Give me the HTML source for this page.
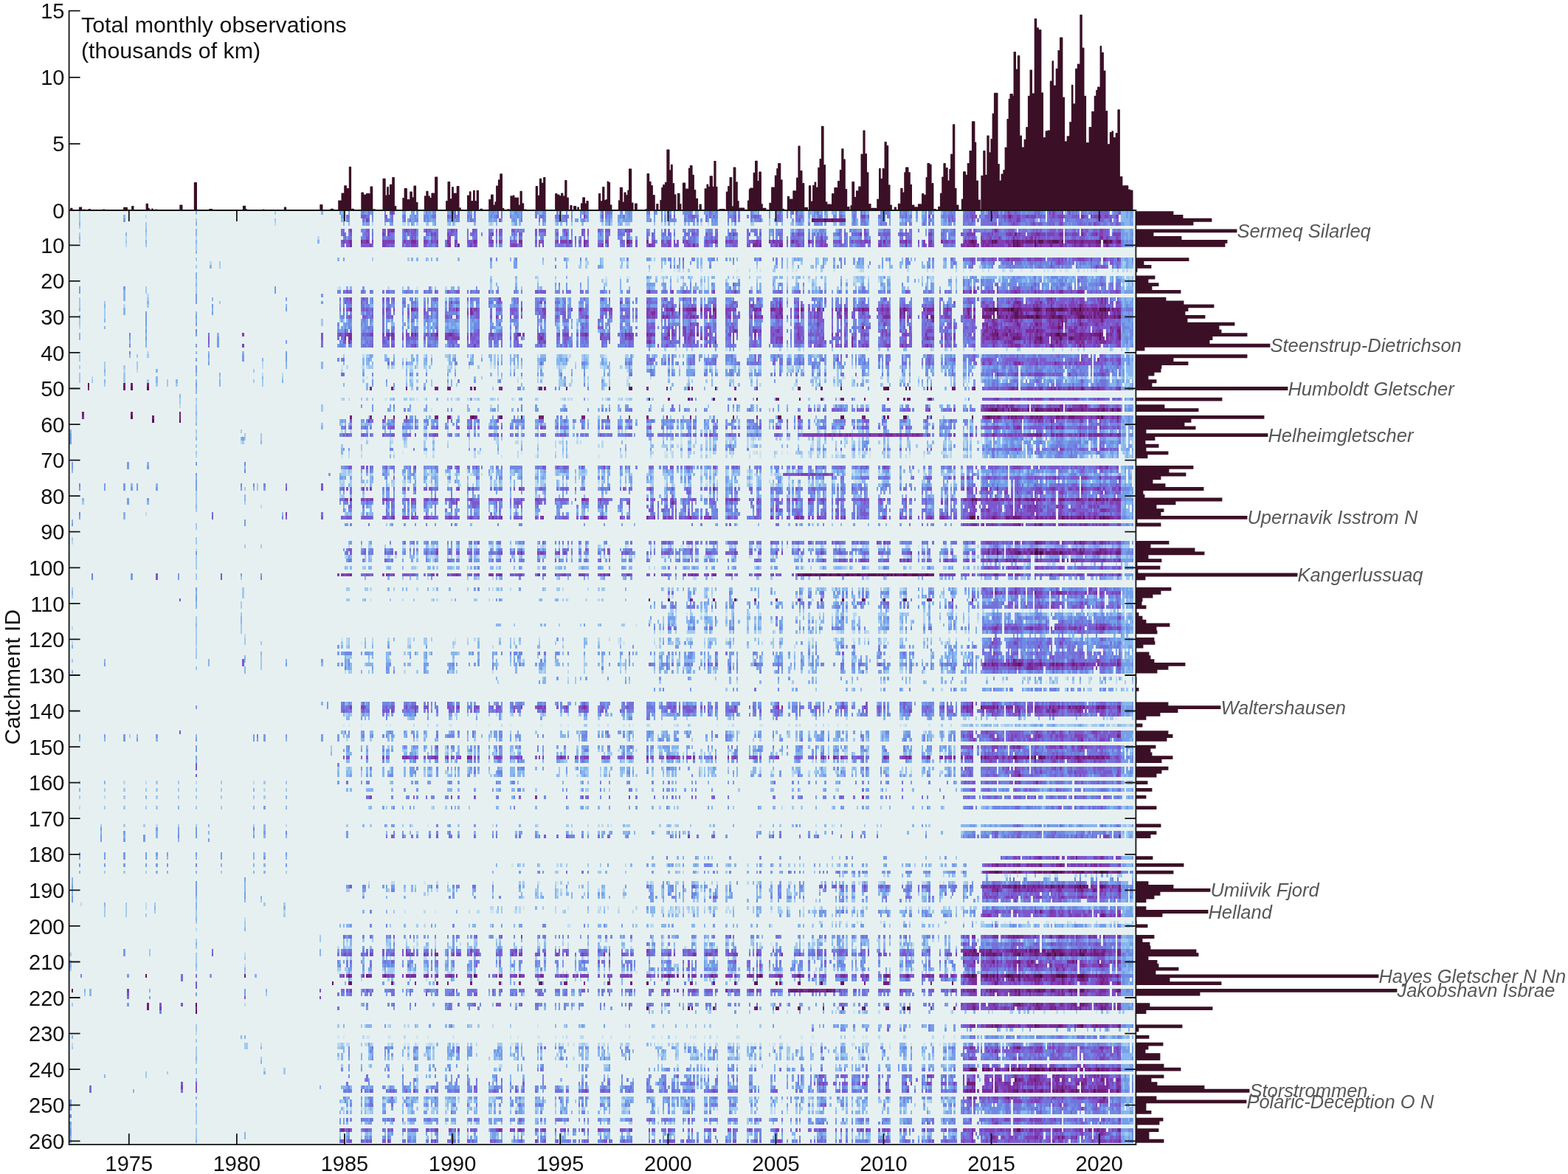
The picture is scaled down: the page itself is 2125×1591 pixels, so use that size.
<!DOCTYPE html>
<html><head><meta charset="utf-8"><title>Total monthly observations</title>
<style>html,body{margin:0;padding:0;background:#fff;}body{width:2125px;height:1591px;position:relative;overflow:hidden;}</style>
</head><body>
<svg width="2125" height="1591" viewBox="0 0 2125 1591" style="position:absolute;left:0;top:0"><rect x="93.6" y="285.0" width="1445.8" height="1266.2" fill="#e7f0f1"/><g transform="matrix(2.4350 0 0 4.856 94.445 281.272)" shape-rendering="crispEdges" fill="none" stroke-width="1"><path stroke="#d0e5ee" d="M329 17.5h1m6 0h1m1 0h1m12 0h1m19 0h1m10 0h1m1 0h1m14 0h1m2 0h1m1 0h1m10 0h1m9 0h1m13 0h1m12 0h1m3 0h1m23 0h1m16 0h1m3 0h1m6 0h1m11 0h1m8 0h1m5 0h1m6 0h1m1 0h1m2 0h2m2 0h1m2 0h2m8 0h1m1 0h1m1 0h1m1 0h1m19 0h1M298 19.5h1m7 0h1m3 0h2m26 0h1m33 0h1M270 20.5h1m140 0h1M353 21.5h1M149 22.5h1m43 0h1M399 39.5h1m29 0h1m13 0h1m97 0h1M277 41.5h1m20 0h1M151 44.5h1m10 0h1m25 0h1m45 0h1m13 0h1m14 0h1m101 0h3M163 47.5h1m1 0h1m48 0h1m23 0h1m10 0h1m12 0h2m15 0h1m17 0h1m12 0h1m54 0h1m1 0h3m34 0h1m26 0h1m3 0h1m2 0h1m23 0h1m38 0h1M279 49.5h1m148 0h1M175 53.5h2m16 0h1m3 0h1m16 0h1m7 0h1m24 0h1m25 0h1m4 0h1M201 56.5h1M365 62.5h1m133 0h1M162 64.5h1m2 0h1m13 0h1m17 0h1m51 0h1m1 0h1m8 0h1m21 0h1m26 0h1m30 0h1m3 0h1m162 0h1M260 65.5h1m73 0h1m5 0h1m38 0h1m127 0h1M162 68.5h1m15 0h1m1 0h1m4 0h1m11 0h2m3 0h1m25 0h1m22 0h1m79 0h2m1 0h1m16 0h1m2 0h1m1 0h1m8 0h1m12 0h1m1 0h2m2 0h1m11 0h1m2 0h1m13 0h1m12 0h2m17 0h1m10 0h1m32 0h1m7 0h2M151 69.5h1m46 0h1m41 0h1m18 0h1m17 0h1m16 0h1m36 0h1m24 0h1m27 0h1m26 0h1m5 0h1m10 0h1m10 0h1m5 0h1m21 0h1m7 0h1m13 0h1M298 73.5h1M209 74.5h1m11 0h1m88 0h1m66 0h1m112 0h2M200 76.5h1m130 0h1m22 0h1m24 0h1m56 0h1m1 0h1M162 77.5h1m22 0h1m16 0h1m91 0h1m36 0h1m38 0h1m1 0h1M178 94.5h1m7 0h1m6 0h1m6 0h1m32 0h1m11 0h1m3 0h2m1 0h1m26 0h1m8 0h1m11 0h1m9 0h1m19 0h2m3 0h1m4 0h2m1 0h1m10 0h1m14 0h1m29 0h1m3 0h2m6 0h1m1 0h1m1 0h1m14 0h1m5 0h1m12 0h2m21 0h1m2 0h1m10 0h1m14 0h1m1 0h1M176 97.5h1m8 0h1m102 0h1m45 0h1m44 0h1m24 0h1m21 0h1m7 0h1m143 0h1M532 99.5h1M193 100.5h1m294 0h1M456 106.5h1M485 108.5h1M167 109.5h1m67 0h1m41 0h1M489 112.5h1m40 0h1m25 0h1m1 0h1m8 0h1m12 0h1M343 113.5h1m7 0h1m1 0h1m11 0h1m58 0h1m7 0h1M484 115.5h1m20 0h1M315 116.5h1m37 0h1M328 118.5h1m1 0h1m37 0h1m55 0h1m1 0h1m8 0h1m15 0h1M151 120.5h1m62 0h1m90 0h1m19 0h1m39 0h1m45 0h1m23 0h2m70 0h1M162 121.5h1m111 0h1m30 0h1m2 0h1M326 122.5h1M456 125.5h1M554 131.5h1M519 132.5h1m23 0h1M582 142.5h1M152 144.5h1m2 0h1m6 0h1m13 0h1m1 0h1m32 0h2m13 0h1m6 0h1m11 0h1m16 0h1m10 0h1m3 0h1m16 0h1m13 0h1m4 0h1m15 0h1m6 0h2m7 0h1m14 0h1m5 0h1m1 0h1m15 0h2m14 0h1m21 0h1m4 0h1m4 0h1m29 0h1m1 0h1m13 0h1m88 0h1m11 0h1m2 0h1M313 152.5h1m41 0h1m130 0h1M468 156.5h1M391 157.5h1M199 172.5h1m101 0h1m34 0h1m88 0h1m79 0h1M246 183.5h1m237 0h1M542 186.5h3m24 0h1M197 188.5h1m12 0h1m50 0h1m9 0h1m131 0h1m59 0h1m20 0h1M252 195.5h1m24 0h1m16 0h1m10 0h1m59 0h1m34 0h1m16 0h1m34 0h1m19 0h1m2 0h1M186 196.5h1m16 0h1m22 0h1m7 0h2m11 0h1m47 0h1m40 0h1m1 0h1m51 0h1M432 199.5h1m41 0h1m22 0h1m22 0h1m22 0h2m3 0h1m7 0h2m21 0h1m7 0h1M278 200.5h1M193 204.5h1m113 0h1m22 0h1m17 0h1m65 0h1M390 205.5h1m17 0h1M193 206.5h1m136 0h1m138 0h1M274 209.5h1m11 0h1m43 0h1m37 0h1m66 0h2M149 213.5h2m23 0h1m15 0h1m6 0h1m15 0h1m32 0h1m34 0h1m4 0h1m10 0h1m2 0h1m14 0h1m20 0h1m16 0h2m5 0h1m28 0h2m1 0h1m34 0h1m2 0h1m1 0h1m2 0h1m1 0h1m25 0h1m26 0h1M274 215.5h1M436 224.5h1m134 0h1m6 0h1M260 228.5h1M149 231.5h1m2 0h1m12 0h2m10 0h2m14 0h1m5 0h1m13 0h1m31 0h1m3 0h1m10 0h2m8 0h1m3 0h1m21 0h1m4 0h1m9 0h1m12 0h2m3 0h1m7 0h1m7 0h1m1 0h2m4 0h1m6 0h1m11 0h1m34 0h1m5 0h1m22 0h1m4 0h1m1 0h1m21 0h1m26 0h1M178 233.5h1m7 0h1m1 0h1m4 0h1m4 0h2m2 0h1m13 0h1m28 0h2m26 0h1m6 0h1m7 0h1m7 0h1m30 0h1m1 0h1m14 0h1m2 0h1m8 0h1m15 0h1m4 0h1m1 0h1m1 0h1m7 0h1m1 0h2m6 0h1m7 0h1m4 0h2m1 0h1m20 0h1m19 0h1m11 0h1m6 0h1m4 0h1m3 0h1m5 0h1m2 0h1M185 249.5h1m210 0h1m90 0h1M163 251.5h1m33 0h1m11 0h1m29 0h1m95 0h1m4 0h1m75 0h1m18 0h1M353 255.5h1"/><path stroke="#bad9ef" d="M42 2.5h1M114 4.5h1m53 0h1m16 0h2m27 0h1m18 0h1m1 0h1m93 0h1m21 0h1m3 0h1M31 8.5h1m10 0h1m27 0h1m67 0h1M31 10.5h1M78 15.5h1m208 0h1M402 16.5h1M322 17.5h1m16 0h1m1 0h1m36 0h1m61 0h2m24 0h1m10 0h1m15 0h1m17 0h1m7 0h1m3 0h2m36 0h1m9 0h1m8 0h1m5 0h1m1 0h1M260 19.5h1m68 0h1m1 0h1m19 0h1m19 0h1m10 0h3m14 0h1m36 0h1m5 0h1m1 0h1m34 0h1m10 0h1m2 0h1m4 0h1m19 0h1m71 0h1M260 20.5h1m37 0h1m39 0h1m2 0h1m57 0h1m14 0h2m16 0h1m3 0h2m12 0h1m29 0h1m37 0h1m24 0h1M415 21.5h1m21 0h1M150 22.5h1m26 0h1m31 0h1m141 0h1m1 0h1m60 0h1m1 0h1m15 0h1M43 24.5h1M30 27.5h1M295 32.5h1M5 33.5h1M337 39.5h1m27 0h1m39 0h1m2 0h1m71 0h1m7 0h1m8 0h1m23 0h1m25 0h1m4 0h1m4 0h1m3 0h1m18 0h1m4 0h1m3 0h1M43 40.5h1M163 41.5h1m33 0h1m3 0h1m27 0h1m30 0h1m17 0h1m18 0h1m101 0h1M187 42.5h1m22 0h1M107 43.5h1m126 0h1m46 0h1M107 44.5h1m46 0h1m8 0h1m1 0h1m14 0h1m4 0h1m3 0h2m2 0h1m4 0h1m11 0h2m2 0h1m7 0h1m13 0h1m8 0h1m1 0h1m13 0h1m9 0h1m1 0h3m12 0h1m6 0h2m10 0h1m14 0h1m1 0h1m14 0h1m3 0h1m2 0h2m5 0h1m3 0h1m10 0h1m9 0h4m18 0h2m33 0h1M30 45.5h1m6 0h1m113 0h1m158 0h1m49 0h1m17 0h1m20 0h1m14 0h1M107 46.5h1m10 0h1M12 47.5h1m155 0h1m18 0h1m1 0h2m19 0h1m40 0h1m8 0h1m11 0h1m23 0h1m3 0h1m10 0h1m11 0h1m9 0h1m10 0h1m12 0h1m20 0h2m2 0h1m30 0h1m3 0h1m2 0h1m4 0h1m4 0h1m10 0h1m10 0h1m10 0h1m8 0h1m46 0h1m23 0h1m10 0h1m11 0h1m17 0h1m4 0h1M249 48.5h1m38 0h1m21 0h1m124 0h1m62 0h1M310 49.5h1m32 0h1m40 0h1m18 0h2m10 0h1m9 0h1m46 0h1m26 0h1M297 50.5h1m104 0h1M151 53.5h1m3 0h1m34 0h2m23 0h1m5 0h1m3 0h2m9 0h1m9 0h1m13 0h1m13 0h1m2 0h1m1 0h1m8 0h1m7 0h1m1 0h1m6 0h2m2 0h2m187 0h1M70 54.5h1M61 55.5h1m172 0h1M309 60.5h1m130 0h1M151 62.5h1m4 0h1m5 0h1m34 0h2m11 0h1m38 0h1m1 0h1m8 0h1m10 0h1m37 0h1m30 0h1m12 0h1m45 0h1m7 0h1m9 0h1m6 0h3m8 0h1m4 0h1m66 0h1m70 0h1M70 63.5h1M178 64.5h1m6 0h1m12 0h1m3 0h1m34 0h1m36 0h1m73 0h1m5 0h1m10 0h3m9 0h1m1 0h1m1 0h1m2 0h1m14 0h2m15 0h1m15 0h1m6 0h1m57 0h1m3 0h1M95 65.5h1m83 0h1m7 0h1m22 0h1m11 0h1m14 0h1m10 0h2m20 0h1m1 0h2m8 0h1m1 0h1m11 0h1m62 0h1m8 0h1m8 0h1m2 0h1m32 0h1m17 0h1m3 0h1m53 0h1m8 0h1M186 66.5h2m34 0h1m47 0h1m23 0h1m1 0h1m32 0h1m8 0h1m1 0h1m36 0h1m1 0h1m32 0h2m84 0h1M155 68.5h1m69 0h1m1 0h1m21 0h1m10 0h1m9 0h1m35 0h1m2 0h1m14 0h1m10 0h1m4 0h1m6 0h1m11 0h1m8 0h1m13 0h1m10 0h1m17 0h1m4 0h1m3 0h1m8 0h1m5 0h1m3 0h1m1 0h1m1 0h1m23 0h1m7 0h1m9 0h3m2 0h1m10 0h1M70 69.5h1m84 0h1m6 0h1m39 0h1m22 0h1m23 0h1m24 0h1m31 0h2m1 0h1m13 0h1m8 0h1m2 0h1m4 0h1m10 0h1m13 0h1m2 0h1m9 0h1m13 0h1m14 0h1m12 0h1m3 0h1m2 0h1m7 0h1m20 0h1m8 0h1m24 0h1m44 0h1m25 0h1m7 0h1M151 73.5h1m2 0h1m45 0h1m33 0h1m24 0h1m91 0h1m14 0h1m10 0h1m57 0h2m19 0h1M154 74.5h1m1 0h1m11 0h1m31 0h1m22 0h2m4 0h1m4 0h1m38 0h1m7 0h1m5 0h1m21 0h1m41 0h1m8 0h1m5 0h1m12 0h1m1 0h1m8 0h1m4 0h1m33 0h1m6 0h1m4 0h1m8 0h2m23 0h1m31 0h1m32 0h1m1 0h1m37 0h1M151 76.5h1m33 0h1m2 0h1m9 0h1m11 0h1m26 0h1m21 0h1m4 0h1m7 0h1m3 0h1m17 0h1m65 0h1m16 0h1m11 0h1m6 0h1m3 0h1m24 0h1m11 0h1m1 0h2M150 77.5h1m13 0h1m12 0h1m1 0h1m6 0h1m14 0h1m8 0h1m6 0h1m27 0h1m13 0h2m11 0h1m36 0h1m13 0h1m12 0h1m14 0h1m2 0h1m1 0h1m33 0h1m20 0h1M150 80.5h1m109 0h1M106 83.5h1M42 85.5h1M1 93.5h1M155 94.5h1m6 0h1m4 0h1m17 0h1m3 0h1m1 0h1m9 0h1m23 0h2m7 0h1m2 0h1m13 0h1m8 0h1m1 0h1m1 0h1m7 0h1m1 0h1m9 0h1m10 0h1m1 0h1m11 0h1m15 0h1m18 0h1m38 0h1m18 0h1m16 0h1m9 0h1m5 0h1m1 0h1m4 0h1m1 0h1m6 0h1m15 0h1m19 0h1m2 0h1m6 0h1m2 0h1m4 0h1M70 95.5h1M153 97.5h1m21 0h1m2 0h1m2 0h1m11 0h1m6 0h3m12 0h1m11 0h1m34 0h1m8 0h1m2 0h1m8 0h1m25 0h1m4 0h1m8 0h1m6 0h2m11 0h2m3 0h2m3 0h1m4 0h1m19 0h1m5 0h1m5 0h1m12 0h1m13 0h2m6 0h1m2 0h4m19 0h1m12 0h2m9 0h1m21 0h2m1 0h1m30 0h1m10 0h1M531 99.5h1m12 0h2m2 0h1m19 0h1m13 0h1M238 100.5h1m83 0h1m2 0h1m82 0h1m8 0h1m14 0h1m18 0h1m16 0h1m6 0h1m22 0h1M199 103.5h1m35 0h1m111 0h2m8 0h1m85 0h2m136 0h1M167 106.5h1m25 0h1m8 0h1m32 0h1m3 0h1m5 0h1m28 0h1m13 0h1m119 0h1m6 0h1m9 0h1m18 0h1m17 0h2M335 108.5h1m21 0h1m49 0h1m82 0h1M185 109.5h1m15 0h1m2 0h1m7 0h1m20 0h1m53 0h1m6 0h1m118 0h1M353 112.5h1m11 0h1m17 0h1m42 0h1m63 0h1m17 0h1m25 0h1m15 0h1m1 0h1m26 0h1m6 0h1M337 113.5h1m16 0h1m23 0h1m4 0h2m21 0h1m1 0h1m8 0h1m18 0h2m37 0h1m17 0h1m6 0h1m4 0h1m3 0h1m34 0h1M436 114.5h1m38 0h1m29 0h1M323 115.5h1m13 0h1m52 0h1m61 0h1m22 0h1M346 116.5h1m68 0h1m46 0h1m30 0h1M1 117.5h1M343 118.5h1m9 0h1m3 0h1m25 0h2m7 0h1m34 0h2m7 0h1m6 0h2m17 0h2m25 0h1m3 0h1m4 0h1M97 119.5h1M154 120.5h1m13 0h1m8 0h1m10 0h2m31 0h1m3 0h1m21 0h1m13 0h1m32 0h1m5 0h1m38 0h1m4 0h1m1 0h1m6 0h1m59 0h1m11 0h1m1 0h1m14 0h1m1 0h1m6 0h1m1 0h2m20 0h1m13 0h1m3 0h1M1 121.5h1m152 0h1m33 0h2m24 0h1m91 0h1m18 0h1m2 0h1m56 0h1m27 0h1m22 0h1m16 0h1m1 0h1m21 0h1m9 0h1M70 122.5h1m142 0h1m21 0h1m117 0h1m49 0h1M286 126.5h1M307 127.5h1M286 128.5h1m19 0h1m35 0h1m69 0h1m73 0h1M153 129.5h1m32 0h1m48 0h1m27 0h1m13 0h1m31 0h1m48 0h1m103 0h2m11 0h1m10 0h1M277 131.5h1m232 0h1m19 0h1m36 0h1m10 0h1m3 0h1m2 0h1M371 132.5h1m174 0h1m1 0h1m18 0h1m14 0h1M485 134.5h1m80 0h1M153 141.5h1m60 0h1m22 0h1m2 0h1m4 0h1M240 142.5h1m191 0h1m67 0h1m76 0h1M191 144.5h1m7 0h1m4 0h1m35 0h1m58 0h1m11 0h1m9 0h2m15 0h1m30 0h1m34 0h1m1 0h1m8 0h1m3 0h1m45 0h1m24 0h1m5 0h1m3 0h1m4 0h1m12 0h2m3 0h1m5 0h2m2 0h1m9 0h1m6 0h1m3 0h1m11 0h1m1 0h1m3 0h1m7 0h2m6 0h2M283 146.5h1m88 0h1m102 0h1M399 147.5h1M154 148.5h1m38 0h1m116 0h1m2 0h1M209 151.5h1m23 0h1m71 0h1m9 0h1m22 0h1m29 0h1M221 152.5h1m11 0h1m12 0h1m94 0h1m9 0h1m16 0h1m62 0h2m11 0h1m21 0h1m17 0h1m2 0h1M233 154.5h1m76 0h1m19 0h1m82 0h1m18 0h1M351 156.5h1m32 0h1M295 157.5h1m40 0h1m14 0h1m4 0h1m33 0h1m11 0h1m8 0h1m51 0h1m4 0h1m15 0h1M282 158.5h1m1 0h1m51 0h1m14 0h1m50 0h1M30 160.5h1m11 0h1m27 0h1m31 0h1M108 162.5h1m175 0h1m141 0h1M19 164.5h1M5 167.5h1m195 0h1m194 0h1M48 172.5h1m71 0h1m69 0h1m44 0h1m24 0h1m27 0h1m5 0h1m1 0h1m12 0h1m74 0h1m30 0h1m8 0h1m160 0h1m2 0h1M325 174.5h1M271 183.5h1m37 0h1m28 0h1m38 0h1m7 0h1M341 185.5h1m7 0h1M435 186.5h1m6 0h2m9 0h1m32 0h1m33 0h2m1 0h1m3 0h1m17 0h1m2 0h2m9 0h2m7 0h1m10 0h1M166 188.5h1m12 0h2m23 0h1m30 0h1m24 0h1m9 0h1m53 0h1m35 0h1m16 0h1m4 0h1m7 0h1m9 0h2m33 0h1m3 0h1m10 0h1m23 0h3m9 0h1m10 0h1M204 190.5h1m68 0h1m20 0h1m13 0h1m40 0h1m1 0h1M199 191.5h1m71 0h1m81 0h1m54 0h1m23 0h1m42 0h1M252 192.5h1m55 0h1M6 194.5h1m35 0h1M42 195.5h1m191 0h2m14 0h1m19 0h1m24 0h1m3 0h1m15 0h1m13 0h2m4 0h1m2 0h2m3 0h1m3 0h1m5 0h1m1 0h1m4 0h1m5 0h1m28 0h1m12 0h1m5 0h1m17 0h1m8 0h1m25 0h2m5 0h1m1 0h1m10 0h1m8 0h1M119 196.5h1m77 0h1m24 0h1m4 0h1m9 0h1m10 0h1m1 0h1m19 0h1m3 0h1m19 0h1m10 0h1m7 0h1m16 0h1m2 0h3m1 0h1m6 0h1m1 0h1m18 0h1m1 0h1m15 0h1m24 0h1M97 198.5h1M418 199.5h1m5 0h1m1 0h1m2 0h1m8 0h1m1 0h1m10 0h1m1 0h1m13 0h1m36 0h1m2 0h2m4 0h1m2 0h1m6 0h1m31 0h1m3 0h1m11 0h1m9 0h1m1 0h1M197 200.5h1m79 0h1m45 0h2m65 0h1m141 0h1m21 0h1m13 0h1m8 0h2m8 0h1M70 201.5h1M187 204.5h1m15 0h1m70 0h1m20 0h1m33 0h1m16 0h2m5 0h1m1 0h1m57 0h1m4 0h1m18 0h1m11 0h1m12 0h1m1 0h1m15 0h1m2 0h1m59 0h1M154 205.5h1m38 0h1m9 0h1m13 0h1m42 0h2m15 0h1m106 0h1m84 0h1M149 206.5h1m4 0h1m21 0h2m13 0h1m20 0h1m13 0h1m10 0h1m34 0h1m4 0h1m10 0h1m18 0h1m4 0h1m9 0h1m9 0h1m9 0h1m11 0h1m3 0h1m7 0h1m45 0h1m4 0h1m19 0h1m24 0h1m1 0h1m22 0h1M97 208.5h1M178 209.5h1m1 0h1m16 0h2m89 0h1m8 0h1m31 0h1m36 0h1m47 0h1m25 0h1m21 0h2m5 0h1m17 0h1m1 0h1M97 211.5h1M469 212.5h1M176 213.5h1m3 0h1m7 0h2m2 0h1m5 0h1m4 0h1m6 0h3m10 0h1m21 0h1m1 0h1m2 0h1m8 0h1m2 0h1m11 0h1m1 0h1m5 0h1m1 0h1m3 0h1m5 0h1m13 0h1m1 0h1m1 0h1m10 0h1m3 0h1m2 0h1m13 0h1m10 0h2m9 0h1m2 0h1m26 0h1m4 0h1m1 0h1m7 0h1m2 0h1m2 0h1m11 0h1m1 0h1m30 0h1m2 0h2m1 0h1m9 0h1m9 0h1m3 0h1M162 215.5h1m35 0h1m62 0h1m22 0h1m82 0h1m4 0h1M97 222.5h1M331 223.5h1M355 224.5h1m43 0h1m26 0h1m23 0h1m39 0h1m22 0h1m9 0h1m18 0h1m6 0h1m3 0h1M177 228.5h1m8 0h1m1 0h1m46 0h1m73 0h1M70 230.5h1M163 231.5h1m22 0h1m89 0h1m7 0h2m70 0h1m14 0h1m23 0h1m54 0h1m13 0h1m15 0h1m5 0h1M1 233.5h1m104 0h1m42 0h2m1 0h1m1 0h2m8 0h2m2 0h1m8 0h1m14 0h1m7 0h2m8 0h1m4 0h1m10 0h1m33 0h2m12 0h1m2 0h1m5 0h2m2 0h1m6 0h1m2 0h1m1 0h1m6 0h1m2 0h1m1 0h1m13 0h1m9 0h1m1 0h1m21 0h2m5 0h2m3 0h1m12 0h1m10 0h2m38 0h1m6 0h1m8 0h1m13 0h1m20 0h2M338 234.5h1m117 0h1M188 235.5h1m195 0h1M198 236.5h1m100 0h1m28 0h1m16 0h1m1 0h1m8 0h1m10 0h2m3 0h1m27 0h1m25 0h2m11 0h3m2 0h1m30 0h1m10 0h1M149 237.5h1m38 0h1m91 0h1m46 0h1m10 0h1m12 0h1m27 0h1m59 0h1M166 239.5h1m72 0h2m97 0h1m14 0h1m6 0h1m20 0h1m17 0h1m29 0h1M108 240.5h1M193 242.5h1M392 248.5h1M175 249.5h1m33 0h1m6 0h1m17 0h1m14 0h1m48 0h1m8 0h2m59 0h1m21 0h1m20 0h1m1 0h1m40 0h1m1 0h1m20 0h2M70 251.5h1m81 0h1m1 0h1m1 0h1m5 0h1m2 0h1m32 0h1m2 0h1m12 0h1m30 0h1m2 0h2m20 0h1m12 0h1m11 0h1m11 0h1m2 0h2m13 0h1m1 0h1m25 0h2m5 0h1m29 0h1m1 0h1m18 0h1m1 0h1m3 0h1m21 0h1m12 0h1m33 0h2m4 0h1M165 252.5h2m223 0h1m1 0h1m6 0h1M188 255.5h1m20 0h1m15 0h1m71 0h1m37 0h1M162 258.5h1m288 0h1m22 0h1M185 259.5h1m12 0h1m239 0h1"/><path stroke="#a1caef" d="M5 1.5h1m108 0h1m158 0h1M5 2.5h1M5 3.5h1m64 0h1m43 0h1m274 0h1m72 0h1M42 4.5h1m145 0h1m4 0h1m4 0h1m11 0h1m23 0h1m11 0h1m23 0h1m8 0h1m16 0h1m4 0h1m7 0h3m13 0h1m5 0h1m4 0h1m31 0h1m10 0h2m8 0h1m11 0h1m6 0h1M5 5.5h1m36 0h1M403 6.5h1M5 7.5h1m36 0h1M246 8.5h1M5 9.5h1m25 0h1M42 10.5h1m27 0h1M70 11.5h1M70 14.5h1m97 0h1m19 0h1m10 0h1m77 0h1m18 0h1m10 0h2m16 0h1m73 0h1m2 0h1m13 0h1M83 15.5h1m179 0h1m24 0h1m7 0h1m13 0h1m20 0h1m67 0h1m2 0h1m4 0h1m8 0h1m3 0h1m65 0h1m99 0h2M70 16.5h1m12 0h1m199 0h2m2 0h1m18 0h2m43 0h1m30 0h1m16 0h1m12 0h1m24 0h1m28 0h1m39 0h2m78 0h1M344 17.5h1m46 0h2m25 0h1m164 0h1M234 19.5h1m24 0h1m10 0h1m17 0h1m37 0h1m3 0h1m3 0h1m5 0h1m4 0h2m6 0h1m1 0h1m13 0h1m8 0h1m12 0h1m10 0h1m1 0h1m3 0h1m2 0h1m3 0h1m4 0h1m16 0h1m1 0h1m10 0h1m1 0h1m2 0h2m17 0h1m3 0h1m1 0h1m18 0h1m7 0h1m1 0h1m7 0h1m52 0h1m15 0h1m1 0h2M70 20.5h1m177 0h1m47 0h1m24 0h2m7 0h1m24 0h1m9 0h1m16 0h1m21 0h1m8 0h1m6 0h1m17 0h3m3 0h1m7 0h1m19 0h1m1 0h1m4 0h1m53 0h1m21 0h1m31 0h2m1 0h1M234 21.5h1m62 0h2m52 0h1m3 0h1m36 0h1m6 0h1m14 0h1m21 0h1m39 0h1m16 0h1m92 0h1m1 0h1m1 0h1M42 22.5h1m27 0h1m114 0h1m15 0h1m1 0h1m30 0h1m16 0h1m9 0h1m63 0h1m29 0h1m23 0h1m11 0h1m10 0h1m10 0h1m13 0h1m23 0h2m13 0h1m26 0h1M42 23.5h1m27 0h1M5 25.5h1m37 0h1m165 0h1M5 26.5h1m13 0h1m63 0h1m193 0h1M5 27.5h1m37 0h1M19 28.5h1M19 29.5h1M19 30.5h1M5 31.5h1m134 0h1m9 0h1m1 0h1m25 0h1m103 0h1m51 0h1m2 0h2M5 32.5h1m134 0h1m52 0h1m67 0h1m10 0h1M282 33.5h1M236 34.5h1m61 0h1M331 39.5h1m11 0h1m2 0h1m31 0h1m16 0h1m10 0h1m17 0h1m25 0h1m28 0h1m7 0h1m2 0h1m12 0h1m23 0h2m35 0h1m14 0h1m8 0h1M5 41.5h1m31 0h1m5 0h1m108 0h1m12 0h2m9 0h1m32 0h2m2 0h1m9 0h1m12 0h1m1 0h1m9 0h1m22 0h1m2 0h3m8 0h1m1 0h2m6 0h2m12 0h2m2 0h1m25 0h1m3 0h1m9 0h1m47 0h1m12 0h2m91 0h1m82 0h1M5 42.5h1m179 0h1m50 0h1m9 0h1m30 0h1m7 0h1m2 0h1m8 0h2M19 43.5h1m17 0h1m155 0h1m42 0h1m23 0h1m12 0h1m21 0h1M5 44.5h1m13 0h1m10 0h1m6 0h1m128 0h3m8 0h1m1 0h1m7 0h1m9 0h1m2 0h1m11 0h1m14 0h1m10 0h1m10 0h1m1 0h1m8 0h1m1 0h1m9 0h1m8 0h1m5 0h1m9 0h2m1 0h1m5 0h1m2 0h2m1 0h1m8 0h1m11 0h1m1 0h1m9 0h1m8 0h1m1 0h1m2 0h1m9 0h1m2 0h1m10 0h2m7 0h1m6 0h1m2 0h1m1 0h2m2 0h1m11 0h1m16 0h1m2 0h1m21 0h1m16 0h1m9 0h1m13 0h1m3 0h1M102 45.5h1m86 0h2m7 0h1m11 0h1m27 0h1m6 0h1m14 0h1m12 0h1m105 0h1m20 0h2m2 0h1m3 0h1m7 0h1m10 0h1m57 0h1m6 0h1m14 0h1M5 46.5h1m13 0h1m10 0h1m207 0h1m188 0h1m160 0h1M5 47.5h1m24 0h1m52 0h1m34 0h1m110 0h1m10 0h1m47 0h1m125 0h3m10 0h1m23 0h1m3 0h1m8 0h1m2 0h1m9 0h2m11 0h1m7 0h1m1 0h1m6 0h2m8 0h2m1 0h1m1 0h2m5 0h1m1 0h1m1 0h4m7 0h1m1 0h3m6 0h1m3 0h1m1 0h2m1 0h1m3 0h1m8 0h1m2 0h2m3 0h1m2 0h1m1 0h2M5 48.5h1m6 0h1m17 0h1m12 0h1m10 0h1m47 0h1m4 0h1m55 0h1m23 0h1m2 0h1m2 0h1m7 0h1m58 0h1m11 0h3m4 0h1m17 0h1m2 0h1m43 0h1m1 0h1m7 0h1m12 0h3m57 0h1m16 0h1m10 0h1m6 0h1m1 0h1m25 0h1m6 0h1m2 0h1m6 0h1m47 0h1M19 49.5h1m28 0h1m5 0h1m4 0h1m47 0h1m81 0h1m11 0h1m8 0h1m4 0h1m56 0h3m3 0h1m9 0h1m9 0h1m1 0h1m68 0h1m9 0h1m33 0h1m2 0h1m10 0h1m7 0h2m15 0h1m37 0h1m96 0h3M190 50.5h1m44 0h1m24 0h1m82 0h1M61 53.5h1m8 0h1m81 0h1m9 0h1m2 0h1m2 0h1m9 0h2m6 0h2m1 0h1m8 0h1m11 0h1m1 0h1m3 0h1m10 0h1m6 0h2m2 0h1m20 0h1m15 0h1m31 0h1m3 0h2m11 0h1m67 0h1m18 0h1m16 0h1M61 54.5h1M70 55.5h1m69 0h1m133 0h1m55 0h1m24 0h1m60 0h1m8 0h1m18 0h1m17 0h1M70 56.5h1m69 0h1m231 0h1m16 0h1M70 58.5h1m95 0h1m127 0h1m39 0h1m21 0h1m129 0h1M70 59.5h1M140 60.5h1m10 0h1m11 0h1m11 0h1m14 0h1m2 0h1m3 0h1m12 0h1m22 0h1m1 0h1m25 0h1m1 0h1m16 0h1m57 0h1m33 0h1m16 0h1m1 0h1m2 0h1m22 0h1m21 0h1m35 0h1m25 0h2m4 0h2M70 62.5h1m24 0h1m89 0h2m2 0h1m32 0h1m13 0h2m35 0h2m1 0h2m16 0h1m10 0h1m1 0h1m14 0h1m9 0h1m1 0h1m13 0h1m2 0h1m2 0h1m1 0h1m11 0h1m8 0h4m3 0h1m20 0h1m10 0h1m3 0h1m7 0h1m10 0h1m57 0h1m34 0h1m52 0h1M97 63.5h1m8 0h1M97 64.5h1m8 0h1m80 0h1m34 0h1m13 0h1m1 0h1m1 0h1m89 0h1m3 0h1m10 0h1m10 0h1m11 0h1m1 0h1m9 0h1m2 0h1m9 0h1m1 0h1m9 0h1m5 0h1m5 0h1m6 0h1m6 0h1m3 0h1m7 0h2m10 0h1m33 0h1m8 0h2m9 0h1m1 0h2m18 0h1m1 0h1m7 0h1m3 0h1m9 0h1m10 0h1m18 0h1m1 0h1m2 0h2M96 65.5h1m68 0h1m12 0h1m7 0h1m10 0h1m40 0h1m12 0h1m22 0h1m48 0h1m24 0h1m5 0h1m1 0h1m1 0h1m6 0h1m1 0h1m48 0h2m2 0h1m5 0h1m5 0h1m3 0h1m2 0h1m10 0h1m4 0h1m6 0h1m3 0h2m18 0h2m2 0h1m6 0h1m3 0h1m3 0h1m3 0h1m75 0h1m1 0h1m3 0h1M70 66.5h1m80 0h1m10 0h1m15 0h1m18 0h1m4 0h1m7 0h1m49 0h1m13 0h1m1 0h1m46 0h1m6 0h3m1 0h1m9 0h2m1 0h1m3 0h1m2 0h1m1 0h1m23 0h1m3 0h1m20 0h1m10 0h2m8 0h1m4 0h1m3 0h1m3 0h1m13 0h1m12 0h1m4 0h1m5 0h2m8 0h1m1 0h1m7 0h1m17 0h1m2 0h1m12 0h1m37 0h1m15 0h1m5 0h1M162 67.5h1m171 0h1M70 68.5h1m167 0h1m35 0h1m1 0h1m46 0h1m20 0h2m12 0h1m8 0h1m1 0h1m22 0h1m11 0h2m1 0h1m4 0h1m4 0h1m18 0h1m5 0h1m9 0h2m1 0h1m6 0h1m14 0h2m20 0h1m78 0h1m7 0h2m1 0h1M180 69.5h1m79 0h1m9 0h1m73 0h1m9 0h1m57 0h1m3 0h1m9 0h1m2 0h1m1 0h1m4 0h1m5 0h1m10 0h1m8 0h1m24 0h2m8 0h2m2 0h1m6 0h1m18 0h1m2 0h1m2 0h1m4 0h1m3 0h1m22 0h2m4 0h1m5 0h1m3 0h1m5 0h1m1 0h2M152 73.5h2m2 0h1m20 0h1m20 0h1m3 0h1m18 0h1m24 0h1m23 0h1m12 0h2m2 0h1m22 0h1m42 0h2m1 0h1m1 0h1m1 0h1m4 0h1m2 0h1m10 0h1m10 0h1m9 0h1m1 0h1m1 0h1m12 0h1m6 0h1m6 0h1m6 0h1m5 0h1m5 0h1m17 0h1m3 0h1m2 0h1m10 0h1m4 0h2m3 0h1m34 0h1m24 0h1m28 0h2m3 0h1M151 74.5h3m1 0h1m6 0h1m4 0h1m12 0h1m5 0h1m5 0h1m5 0h1m2 0h2m1 0h1m6 0h1m2 0h1m1 0h1m28 0h2m2 0h1m9 0h1m2 0h1m7 0h1m1 0h1m1 0h2m7 0h4m7 0h1m1 0h1m15 0h1m8 0h1m2 0h1m5 0h3m1 0h1m5 0h1m1 0h2m12 0h1m8 0h1m2 0h1m1 0h2m6 0h1m5 0h1m7 0h3m30 0h1m2 0h1m6 0h1m1 0h3m2 0h3m7 0h2m2 0h1m11 0h1m7 0h1m2 0h1m5 0h5m2 0h1m16 0h1m2 0h1m16 0h1m14 0h1m24 0h1m4 0h1m3 0h1m2 0h2m2 0h2M283 75.5h1m22 0h1m24 0h2m46 0h1m2 0h1m1 0h1m11 0h1m3 0h1M150 76.5h1m1 0h1m3 0h1m8 0h1m13 0h2m5 0h1m24 0h1m9 0h1m5 0h1m6 0h1m1 0h1m3 0h1m4 0h1m16 0h2m10 0h1m6 0h1m4 0h1m9 0h1m25 0h1m1 0h1m7 0h1m12 0h1m5 0h1m4 0h1m1 0h1m8 0h1m10 0h1m3 0h1m28 0h1m3 0h2m1 0h1m5 0h1m27 0h1m9 0h1m11 0h2m16 0h1m61 0h1m31 0h1m3 0h1M104 77.5h1m46 0h2m3 0h1m23 0h1m35 0h1m7 0h1m2 0h1m6 0h1m1 0h2m1 0h2m21 0h2m12 0h1m9 0h1m19 0h1m17 0h1m10 0h1m6 0h1m1 0h1m15 0h1m5 0h1m10 0h1m1 0h1m2 0h1m8 0h1m1 0h1m1 0h2m3 0h1m1 0h1m2 0h2m5 0h1m2 0h2m1 0h1m32 0h1m36 0h1m1 0h1M97 78.5h1m6 0h1M70 79.5h1m406 0h1M70 80.5h1m80 0h2m10 0h1m22 0h1m72 0h1m71 0h1m19 0h1m4 0h1m3 0h1m39 0h1m3 0h1m33 0h1m48 0h1m4 0h1m98 0h1M70 81.5h1M7 82.5h1m62 0h1m26 0h1M478 83.5h1M70 84.5h1m217 0h1M153 85.5h1m1 0h1m6 0h1m3 0h1m130 0h2M70 88.5h1m105 0h1m194 0h1m41 0h1m10 0h1M70 89.5h1M1 92.5h1m68 0h1M70 93.5h1m95 0h1M97 94.5h1m8 0h1m59 0h1m8 0h1m23 0h1m2 0h1m1 0h1m10 0h1m6 0h2m11 0h1m2 0h2m23 0h1m13 0h1m5 0h1m10 0h1m28 0h1m5 0h1m3 0h1m14 0h1m18 0h2m1 0h1m8 0h1m2 0h1m1 0h1m5 0h1m2 0h1m2 0h1m8 0h1m12 0h1m7 0h1m1 0h1m12 0h1m1 0h1m9 0h1m1 0h1m9 0h2m7 0h1m32 0h1m2 0h1m13 0h1m4 0h1m11 0h2m12 0h1m1 0h1m7 0h2m8 0h1m1 0h3m6 0h4M497 95.5h1M70 97.5h1m83 0h1m9 0h1m2 0h1m9 0h1m21 0h1m3 0h1m6 0h1m1 0h1m3 0h1m5 0h1m3 0h1m6 0h2m2 0h2m8 0h1m2 0h1m12 0h1m6 0h1m1 0h1m3 0h1m2 0h1m7 0h1m7 0h1m1 0h1m2 0h1m6 0h1m3 0h2m16 0h1m7 0h1m3 0h2m2 0h1m8 0h1m2 0h1m10 0h2m13 0h1m7 0h1m13 0h3m27 0h1m7 0h2m7 0h1m13 0h2m4 0h1m4 0h1m6 0h1m1 0h3m4 0h1m8 0h2m1 0h1m1 0h1m9 0h2m13 0h1m22 0h1m18 0h1m2 0h1m2 0h2m3 0h3m1 0h1M70 98.5h1m131 0h1M70 99.5h1m439 0h1m1 0h1m4 0h1m15 0h1m13 0h1m39 0h2M70 100.5h1m83 0h1m8 0h2m11 0h1m13 0h3m11 0h1m8 0h1m7 0h1m4 0h1m10 0h1m22 0h2m8 0h2m11 0h2m44 0h1m38 0h1m12 0h1m2 0h1m27 0h1m5 0h1m6 0h1m4 0h2m3 0h1m7 0h2m5 0h1m1 0h1m12 0h1m1 0h1m6 0h1m11 0h2m15 0h1m1 0h1M70 102.5h1M70 103.5h1m24 0h1m89 0h1m7 0h1m27 0h1m4 0h2m43 0h1m16 0h1m6 0h1m87 0h1m6 0h1m20 0h1m42 0h1m17 0h1m11 0h1m22 0h1m21 0h3m2 0h1m47 0h1m2 0h1m2 0h2M1 106.5h1m94 0h1m57 0h2m8 0h2m14 0h1m40 0h1m11 0h1m3 0h1m26 0h1m6 0h2m21 0h1m1 0h2m32 0h1m4 0h1m2 0h1m9 0h1m4 0h1m1 0h1m1 0h1m54 0h1m4 0h1m2 0h1m3 0h1m2 0h1m3 0h1m3 0h1m3 0h1m3 0h1m7 0h1m1 0h2m9 0h1m21 0h1m3 0h1m2 0h1m11 0h1M96 107.5h1m256 0h2m2 0h1m127 0h1M1 108.5h1m94 0h1m236 0h1m19 0h1m50 0h1m1 0h1m55 0h1m1 0h1m19 0h1m1 0h1M154 109.5h2m7 0h1m14 0h1m12 0h1m10 0h1m22 0h2m34 0h1m12 0h1m1 0h1m19 0h1m12 0h1m116 0h1m76 0h1m43 0h1m37 0h1m3 0h1M95 110.5h1m261 0h1m35 0h1m8 0h1m182 0h1M95 111.5h1M334 112.5h2m1 0h1m7 0h1m5 0h1m5 0h1m10 0h2m7 0h1m30 0h1m23 0h1m22 0h1m19 0h1m37 0h1m26 0h1m32 0h1m17 0h1M95 113.5h1m237 0h2m10 0h2m21 0h1m8 0h1m33 0h1m7 0h1m6 0h2m22 0h5m7 0h1m1 0h3m10 0h1m6 0h1m3 0h2m7 0h1m10 0h1m12 0h1m8 0h2m1 0h1m19 0h2m3 0h1m8 0h3m8 0h1m7 0h1m1 0h1m2 0h1M70 114.5h1m259 0h1m6 0h1m13 0h1m5 0h1m7 0h1m2 0h1m35 0h1m6 0h1m1 0h1m10 0h1m14 0h1m60 0h1M70 115.5h1m251 0h1m7 0h1m3 0h1m18 0h1m6 0h1m7 0h1m8 0h1m3 0h1m2 0h1m30 0h1m8 0h1m25 0h1m11 0h1m5 0h1m20 0h1m3 0h1m3 0h1m2 0h1m20 0h1m65 0h1M95 116.5h1m151 0h1m24 0h1m11 0h1m9 0h1m12 0h2m25 0h1m2 0h1m7 0h1m19 0h1m2 0h1m8 0h1m6 0h1m26 0h1m5 0h1m18 0h1m15 0h1m1 0h1m8 0h1m4 0h1M70 117.5h1m24 0h1m319 0h1m77 0h1M70 118.5h1m24 0h1m229 0h1m11 0h1m6 0h4m6 0h1m12 0h1m9 0h1m3 0h1m9 0h1m4 0h1m9 0h1m1 0h1m2 0h1m1 0h1m3 0h1m11 0h2m8 0h1m2 0h1m7 0h1m2 0h2m24 0h1m20 0h1m86 0h1M70 119.5h1m470 0h2m13 0h1M70 120.5h1m26 0h1m57 0h1m8 0h1m26 0h1m5 0h2m2 0h1m25 0h1m11 0h1m5 0h1m41 0h1m18 0h1m21 0h1m8 0h1m5 0h1m1 0h1m9 0h5m7 0h1m13 0h1m1 0h1m7 0h1m3 0h1m43 0h1m22 0h2m15 0h1m4 0h1m15 0h1M70 121.5h1m26 0h1m8 0h1m44 0h1m3 0h1m12 0h1m28 0h2m14 0h1m7 0h1m23 0h1m1 0h1m2 0h1m10 0h1m8 0h1m23 0h1m39 0h2m1 0h2m14 0h1m1 0h1m9 0h1m3 0h1m20 0h2m12 0h1m6 0h1m14 0h1m12 0h1m2 0h1m7 0h2m10 0h1m22 0h1m3 0h1m96 0h1M154 122.5h1m33 0h1m85 0h1m53 0h1m48 0h1m13 0h1m3 0h1m30 0h1m48 0h1M70 123.5h1m516 0h1M70 124.5h1m115 0h1m1 0h1m4 0h1m6 0h1m15 0h1m32 0h1m78 0h1m74 0h1m9 0h1m65 0h1M70 125.5h1m35 0h1m47 0h3m20 0h1m82 0h1m25 0h1m38 0h1m9 0h1m44 0h1m4 0h1m6 0h1m42 0h1m54 0h1m2 0h1m3 0h3m1 0h1m86 0h1M1 126.5h1m104 0h1m59 0h1m11 0h1m18 0h2m14 0h1m38 0h1m53 0h1m18 0h1m2 0h1m4 0h1m4 0h2m7 0h1m3 0h1m1 0h1m2 0h1m23 0h1m4 0h1m17 0h1m7 0h1m4 0h1m19 0h2m11 0h1m12 0h1m11 0h1M106 127.5h1m57 0h1m73 0h1m6 0h1m24 0h1m15 0h2m8 0h1m9 0h1m1 0h1M70 128.5h1m35 0h1m91 0h1m64 0h2m73 0h1m2 0h1m59 0h1m60 0h2m23 0h1m99 0h1M155 129.5h2m9 0h1m26 0h1m17 0h2m2 0h1m45 0h2m1 0h1m21 0h1m9 0h1m9 0h1m18 0h1m12 0h1m68 0h1m3 0h1m31 0h1m10 0h2m9 0h1m35 0h1m66 0h1m18 0h1M263 131.5h1m17 0h1m77 0h1m55 0h1m103 0h1m11 0h1m1 0h1m12 0h1m1 0h2m5 0h1m12 0h1M238 132.5h1m38 0h1m3 0h1m29 0h1m16 0h1m73 0h1m32 0h1m15 0h1m1 0h1m13 0h1m8 0h1m19 0h1m36 0h1m4 0h1m6 0h1m3 0h1m8 0h1m14 0h1m13 0h1m3 0h1M365 134.5h1m49 0h1m19 0h1m15 0h1m45 0h1m33 0h1m22 0h1m12 0h2m13 0h1m3 0h1m1 0h1M391 138.5h1m43 0h1M154 141.5h1m1 0h1m58 0h1m5 0h1m4 0h1m6 0h1m12 0h1m15 0h1m1 0h1m8 0h1m3 0h1m5 0h2m128 0h1M188 142.5h1m23 0h1m2 0h1m78 0h1m48 0h1m22 0h1m95 0h1m34 0h2m5 0h1m5 0h1m4 0h1m13 0h1m1 0h1m47 0h2m10 0h1M286 144.5h2m56 0h1m140 0h1m11 0h3m4 0h1m2 0h2m2 0h1m2 0h2m4 0h3m1 0h1m2 0h1m4 0h1m1 0h1m4 0h1m9 0h1m1 0h3m1 0h4m1 0h1m3 0h2m3 0h3m5 0h2m6 0h3m2 0h2M152 146.5h1m92 0h1m13 0h1m50 0h1m2 0h1m15 0h1m36 0h1m1 0h2m11 0h1m18 0h1m10 0h1m2 0h1m36 0h1m24 0h1m2 0h1m6 0h1m2 0h1M33 147.5h1m163 0h1m36 0h1m75 0h1m16 0h1m72 0h1m50 0h1m28 0h1m3 0h1M167 148.5h1m57 0h1m7 0h1m14 0h1m34 0h1m39 0h1m22 0h1m33 0h1m3 0h1m6 0h1m12 0h1m31 0h1m3 0h1m2 0h1m7 0h1m1 0h1m24 0h1M145 150.5h1m31 0h1m31 0h1m72 0h1m44 0h1m1 0h1m92 0h1m20 0h1m46 0h1m1 0h1M145 151.5h1m39 0h3m5 0h1m16 0h1m1 0h1m23 0h1m9 0h1m2 0h2m43 0h1m12 0h1m20 0h2m5 0h3m13 0h1m5 0h1m8 0h2m54 0h1m8 0h2m11 0h1m21 0h1m25 0h1m97 0h1M193 152.5h1m7 0h1m7 0h1m2 0h1m9 0h2m12 0h1m8 0h1m1 0h1m39 0h2m8 0h1m1 0h3m22 0h1m12 0h1m15 0h1m2 0h1m9 0h1m14 0h2m8 0h1m1 0h1m2 0h1m25 0h1m3 0h1m9 0h1m6 0h1m24 0h1m10 0h1m12 0h1M246 154.5h1m28 0h2m30 0h2m4 0h1m23 0h1m3 0h1m9 0h1m4 0h1m23 0h1m34 0h1m4 0h1m8 0h2m4 0h1M149 156.5h1m4 0h1m1 0h1m21 0h1m42 0h1m50 0h1m8 0h1m3 0h1m2 0h1m6 0h1m1 0h1m32 0h1m19 0h1m2 0h1m2 0h2m8 0h1m50 0h1m1 0h2m8 0h1m1 0h1m3 0h1m1 0h1m15 0h1m9 0h1m10 0h1m15 0h1M155 157.5h1m6 0h1m15 0h1m18 0h1m1 0h3m7 0h2m1 0h1m1 0h1m6 0h1m11 0h1m17 0h1m20 0h1m14 0h2m8 0h2m1 0h1m5 0h1m1 0h1m15 0h1m8 0h1m19 0h1m1 0h1m23 0h1m4 0h1m18 0h2m9 0h2m4 0h1m5 0h2m7 0h1m19 0h1m6 0h1m22 0h1m2 0h1M162 158.5h1m34 0h1m12 0h1m23 0h1m37 0h1m3 0h1m11 0h1m6 0h1m10 0h1m8 0h1m8 0h1m5 0h1m1 0h2m24 0h1m52 0h1m16 0h1m34 0h1m1 0h1m8 0h1M5 160.5h1m42 0h1m11 0h1m23 0h1m23 0h1m11 0h1m57 0h1m105 0h1M19 162.5h1m10 0h1m11 0h1m5 0h1m11 0h1m9 0h1m13 0h1m35 0h1m138 0h1m27 0h2m11 0h1m14 0h1m56 0h1m33 0h1m20 0h1m23 0h1m2 0h1M5 164.5h1m24 0h1m17 0h1m11 0h1m9 0h1m13 0h1m17 0h1m5 0h1M19 167.5h1m10 0h1m11 0h1m5 0h1m21 0h1m13 0h1m81 0h1m9 0h1m25 0h1m6 0h1m12 0h1m64 0h1m40 0h1m7 0h1m1 0h1m30 0h1m32 0h1m4 0h1m16 0h1m13 0h1m12 0h1m34 0h1m20 0h1m4 0h1m28 0h1m44 0h1M17 172.5h1m12 0h1m10 0h1m18 0h1m9 0h1m31 0h1m51 0h1m12 0h1m17 0h1m30 0h1m42 0h1m16 0h2m1 0h1m19 0h1m10 0h2m16 0h1m3 0h1m1 0h1m2 0h2m6 0h1m10 0h1m38 0h1m46 0h1m6 0h1m1 0h1m26 0h1m64 0h1m11 0h1m3 0h1m18 0h1m7 0h1m2 0h2M193 174.5h1m66 0h1m18 0h1m8 0h1m46 0h1m6 0h1m46 0h1m25 0h1m33 0h1m46 0h1m88 0h1m2 0h1M585 175.5h2m1 0h1M353 181.5h1m3 0h1m66 0h1m3 0h1m55 0h1m8 0h1M250 183.5h1m1 0h1m8 0h1m11 0h1m2 0h1m11 0h1m6 0h1m36 0h1m4 0h1m1 0h1m25 0h1m25 0h1m8 0h1m2 0h1m2 0h1m1 0h1m12 0h1m2 0h1m2 0h1m42 0h1m8 0h1M19 185.5h1m10 0h1m11 0h1m41 0h1m35 0h1m149 0h2m22 0h2m13 0h1m28 0h2m25 0h1m48 0h1m81 0h1m10 0h1M430 186.5h1m24 0h1m21 0h2m10 0h1m2 0h1m4 0h1m34 0h1m32 0h1m5 0h1m11 0h3m5 0h1M545 187.5h1M250 188.5h1m1 0h1m20 0h1m3 0h1m10 0h1m32 0h1m1 0h1m9 0h1m3 0h2m9 0h2m3 0h1m3 0h1m9 0h1m15 0h1m34 0h1m17 0h1m14 0h2m14 0h1m22 0h1m1 0h1m5 0h2M192 189.5h1m77 0h1m12 0h1m4 0h1M154 190.5h2m21 0h1m8 0h1m14 0h1m8 0h2m47 0h2m10 0h1m4 0h1m11 0h1m7 0h2m31 0h1m70 0h1m16 0h1m10 0h1M163 191.5h1m33 0h1m37 0h1m24 0h1m1 0h1m10 0h1m12 0h1m42 0h1m26 0h1m8 0h1m18 0h1m15 0h2m1 0h1m32 0h1m18 0h1m16 0h1m1 0h1m1 0h1m21 0h1M259 192.5h1m11 0h1m57 0h1m18 0h1m4 0h1m131 0h1M70 193.5h1m35 0h1m240 0h1m1 0h1m40 0h1m10 0h1m1 0h1m4 0h1m6 0h1m16 0h1m2 0h2m37 0h1m30 0h1m85 0h1M31 194.5h1m15 0h1m60 0h1m10 0h1M19 195.5h1m11 0h1m208 0h1m7 0h1m14 0h1m33 0h1m36 0h1m6 0h1m2 0h1m1 0h1m2 0h1m8 0h2m9 0h1m7 0h1m2 0h1m9 0h1m3 0h1m4 0h1m18 0h1m7 0h1m1 0h1m7 0h1m6 0h1m10 0h1m10 0h1m12 0h1m7 0h1m2 0h1m3 0h1m3 0h1m3 0h1m1 0h2m37 0h1m25 0h2m17 0h1M19 196.5h1m11 0h1m15 0h1m22 0h1m109 0h1m57 0h1m1 0h1m34 0h1m12 0h1m40 0h1m9 0h1m1 0h1m5 0h1m1 0h1m3 0h1m2 0h1m23 0h1m13 0h3m3 0h1m12 0h1m24 0h1m39 0h1m1 0h1m12 0h1M19 197.5h1m11 0h1m10 0h1m27 0h1m48 0h1m204 0h1m13 0h1m10 0h1m58 0h1m15 0h1m10 0h1m4 0h1m15 0h1m6 0h1M70 199.5h1m26 0h1m319 0h1m10 0h1m35 0h1m22 0h1m45 0h1m57 0h1M97 200.5h1m80 0h1m14 0h1m28 0h1m11 0h1m80 0h1m97 0h1m10 0h1m7 0h1m23 0h1m23 0h1m2 0h1m23 0h3m8 0h5m7 0h2m1 0h2m1 0h1m5 0h2m9 0h1m2 0h2m6 0h1m1 0h2m2 0h1m1 0h1m12 0h2m3 0h2M139 203.5h1m190 0h1M70 204.5h1m68 0h1m14 0h1m8 0h1m4 0h1m8 0h2m1 0h1m10 0h1m33 0h2m10 0h1m1 0h1m20 0h1m3 0h1m23 0h1m9 0h1m13 0h1m11 0h1m40 0h2m2 0h1m9 0h2m25 0h1m10 0h1m2 0h1m3 0h1m5 0h1m1 0h1m2 0h2m13 0h1m2 0h1m2 0h1m19 0h2m11 0h1m6 0h1m8 0h1m13 0h1m10 0h1m13 0h2m2 0h1m36 0h4M176 205.5h2m9 0h1m37 0h1m48 0h1m55 0h1m17 0h1m30 0h1m24 0h1m8 0h2m17 0h1m10 0h1m6 0h1m16 0h1m8 0h1M70 206.5h1m82 0h1m1 0h2m31 0h1m8 0h3m3 0h1m6 0h2m9 0h2m24 0h2m21 0h1m24 0h1m2 0h1m9 0h1m15 0h1m4 0h1m6 0h1m11 0h1m7 0h1m3 0h1m4 0h1m14 0h1m3 0h1m6 0h1m1 0h1m9 0h2m6 0h1m1 0h1m11 0h1m1 0h1m4 0h1m2 0h1m14 0h1m12 0h1m4 0h1m6 0h3m15 0h1m86 0h1m4 0h1m1 0h1m2 0h1M44 207.5h1M0 208.5h1m43 0h1m25 0h1M70 209.5h1m26 0h1m56 0h1m1 0h1m32 0h1m47 0h1m7 0h1m13 0h1m21 0h1m3 0h1m8 0h1m12 0h1m25 0h1m20 0h1m3 0h1m23 0h1m1 0h1m18 0h1m7 0h1m1 0h1m3 0h1m2 0h1m4 0h1m5 0h1m5 0h1m28 0h1M0 210.5h1m69 0h1M285 211.5h1m50 0h3m17 0h1M0 212.5h1m69 0h1m78 0h2m2 0h2m19 0h1m2 0h4m9 0h1m6 0h2m14 0h1m31 0h1m13 0h1m37 0h1m117 0h1m4 0h1m4 0h1m12 0h1m1 0h1m15 0h1m5 0h2m11 0h1m12 0h1m2 0h1M97 213.5h1m56 0h1m1 0h1m9 0h2m9 0h3m11 0h1m29 0h2m16 0h1m20 0h1m10 0h1m35 0h1m13 0h2m2 0h1m3 0h1m2 0h1m5 0h1m2 0h1m4 0h1m1 0h1m8 0h3m7 0h1m2 0h1m9 0h1m4 0h1m7 0h3m9 0h1m14 0h1m20 0h1m14 0h1m17 0h1m1 0h1m29 0h1m25 0h1m35 0h1m21 0h1M156 215.5h1m20 0h1m11 0h1m86 0h1m4 0h1m41 0h1m5 0h1m23 0h2m1 0h1m13 0h1M240 216.5h1m56 0h1M8 219.5h1m100 0h1m142 0h1M1 222.5h1m388 0h1m8 0h1M297 223.5h1m31 0h1m97 0h1M324 224.5h1m31 0h1m21 0h1m12 0h1m32 0h1m16 0h1m49 0h1m6 0h1m12 0h1m12 0h1m6 0h1m4 0h1m23 0h1m16 0h1m6 0h1m1 0h1M70 228.5h1m78 0h1m12 0h1m1 0h1m13 0h1m14 0h1m19 0h1m8 0h2m3 0h1m17 0h1m29 0h1m8 0h1m40 0h1m4 0h1m12 0h1m4 0h1m4 0h1m2 0h1m14 0h1m12 0h1m77 0h1m24 0h1M70 229.5h1m450 0h1m8 0h1m35 0h1m11 0h1M333 231.5h1m95 0h1m1 0h1m146 0h1m8 0h1M70 232.5h1M97 233.5h2m52 0h1m10 0h1m4 0h1m11 0h1m33 0h1m7 0h1m1 0h1m14 0h3m7 0h1m2 0h1m10 0h1m7 0h1m1 0h1m12 0h2m20 0h1m2 0h1m12 0h1m9 0h1m4 0h1m3 0h1m10 0h1m15 0h1m48 0h1m10 0h1m1 0h1m9 0h1m1 0h2m7 0h1m36 0h1m1 0h1m7 0h1m19 0h1m13 0h1m52 0h3M1 234.5h1m68 0h1m26 0h2m50 0h2m176 0h1m1 0h1m42 0h1m18 0h1m7 0h2m74 0h1M70 235.5h1m129 0h1m1 0h1m42 0h1m26 0h1m14 0h1m8 0h1m2 0h1m37 0h2m3 0h1m6 0h1m16 0h1m24 0h1m3 0h1m3 0h2m4 0h1m20 0h1m62 0h2M70 236.5h1m95 0h1m30 0h1m2 0h1m1 0h1m12 0h1m10 0h1m19 0h1m13 0h1m1 0h1m8 0h1m11 0h1m3 0h2m11 0h1m8 0h1m17 0h1m1 0h1m1 0h1m6 0h1m7 0h1m1 0h2m3 0h1m15 0h1m7 0h1m6 0h1m8 0h1m5 0h1m2 0h1m15 0h1m11 0h3m19 0h1m21 0h1m12 0h1m1 0h2m94 0h1M106 237.5h1m72 0h1m22 0h1m8 0h1m21 0h1m3 0h2m8 0h2m21 0h1m1 0h1m15 0h1m7 0h1m33 0h2m5 0h1m31 0h1m2 0h1m27 0h1m12 0h1m21 0h1m29 0h1m9 0h1m4 0h1M70 238.5h1M151 239.5h1m33 0h1m35 0h1m75 0h3m29 0h1m21 0h1m19 0h1m7 0h1m5 0h1m26 0h1m13 0h1m12 0h1m34 0h1m12 0h1m1 0h1M70 240.5h1m48 0h1m117 0h1m59 0h1m129 0h1M42 241.5h1m11 0h1m15 0h1m48 0h1M42 242.5h1m256 0h1m51 0h1m1 0h1M235 243.5h1m102 0h1M193 244.5h1m157 0h1M177 245.5h1m15 0h1m4 0h1m75 0h1m9 0h1m3 0h1m60 0h1m57 0h2m28 0h2m36 0h1m1 0h1M176 248.5h1m3 0h2m7 0h1m26 0h1m4 0h1m11 0h4m70 0h1m1 0h1m15 0h1m19 0h1m1 0h1m30 0h2m3 0h1m27 0h2m43 0h1m29 0h1m2 0h1M151 249.5h2m12 0h1m8 0h1m1 0h1m4 0h1m6 0h2m3 0h1m3 0h1m1 0h1m11 0h1m10 0h2m9 0h1m1 0h1m15 0h2m9 0h1m1 0h1m5 0h1m10 0h1m13 0h1m1 0h1m27 0h1m10 0h1m4 0h1m3 0h1m14 0h1m17 0h1m2 0h1m11 0h1m10 0h1m3 0h1m7 0h1m10 0h2m6 0h1m1 0h1m1 0h1m10 0h2m23 0h1m3 0h1m5 0h1m2 0h1m2 0h1M209 250.5h1m63 0h1m168 0h1m27 0h1M164 251.5h1m1 0h1m1 0h1m16 0h1m2 0h2m3 0h1m5 0h1m2 0h3m5 0h1m2 0h1m7 0h2m2 0h1m7 0h2m17 0h1m6 0h2m2 0h1m21 0h2m21 0h2m26 0h1m4 0h3m14 0h1m9 0h4m7 0h1m19 0h1m4 0h1m1 0h2m18 0h1m3 0h1m1 0h1m29 0h1m1 0h2m11 0h1m107 0h2m1 0h2M70 252.5h1m81 0h1m14 0h2m19 0h2m11 0h2m6 0h1m24 0h1m25 0h1m9 0h1m3 0h1m13 0h1m18 0h1m1 0h2m16 0h1m42 0h1m8 0h1m24 0h1m10 0h2m26 0h1m21 0h1m12 0h1m7 0h1m31 0h1M70 253.5h1M70 254.5h1m306 0h1M70 255.5h1m91 0h1m15 0h1m6 0h2m10 0h1m14 0h2m7 0h1m1 0h1m13 0h1m7 0h1m16 0h1m12 0h1m10 0h1m24 0h2m14 0h1m1 0h1m3 0h1m2 0h1m23 0h1m8 0h1m7 0h1m1 0h1m2 0h2m12 0h1m4 0h1m4 0h1m25 0h1m30 0h1m21 0h1M70 257.5h1M70 258.5h1m79 0h1m13 0h1m1 0h1m34 0h1m19 0h1m25 0h1m1 0h1m2 0h1m7 0h1m12 0h1m3 0h1m16 0h1m3 0h1m11 0h1m25 0h1m40 0h2m56 0h1m16 0h1m3 0h1m18 0h1m1 0h1m12 0h1m96 0h2M70 259.5h1m91 0h1m38 0h1m35 0h1m68 0h1m18 0h1m51 0h1m25 0h1m10 0h1m20 0h1m1 0h1m1 0h1m3 0h1m1 0h1m16 0h1"/><path stroke="#87b6ee" d="M70 1.5h1m69 0h1m10 0h1m33 0h1m11 0h1m3 0h1m44 0h1m14 0h2m32 0h1m35 0h1m17 0h1m31 0h2m25 0h1m3 0h2m3 0h1m3 0h1m2 0h2m5 0h1m11 0h2m22 0h1m6 0h2m4 0h1m4 0h1m23 0h1m44 0h1m30 0h3m1 0h1M30 2.5h1m278 0h1m105 0h1m4 0h1m164 0h3m1 0h1M151 3.5h1m49 0h1m33 0h1m48 0h1m2 0h1m7 0h1m5 0h1m4 0h2m72 0h1m4 0h1m25 0h1m23 0h1m2 0h1m25 0h1m3 0h1m2 0h1m2 0h1m10 0h1m2 0h1m49 0h1m46 0h5m1 0h1M5 4.5h1m64 0h1m81 0h1m2 0h1m8 0h1m10 0h1m15 0h1m7 0h1m2 0h1m8 0h1m1 0h1m11 0h1m11 0h1m9 0h1m2 0h1m10 0h1m2 0h1m6 0h1m1 0h1m11 0h1m12 0h2m5 0h1m1 0h1m34 0h1m1 0h1m4 0h1m43 0h1m2 0h1m5 0h1m1 0h1m20 0h2m1 0h1m9 0h1m5 0h1m40 0h1m2 0h1m98 0h3M42 6.5h1m27 0h1m330 0h1m11 0h2m1 0h1m9 0h1m160 0h3M31 7.5h1m38 0h1m319 0h1m24 0h1m173 0h1M5 8.5h1m194 0h1m47 0h1m63 0h1m23 0h1m88 0h3m159 0h1m1 0h1M42 9.5h1m27 0h1m67 0h1M70 12.5h1M149 14.5h1m40 0h1m2 0h1m4 0h1m2 0h1m2 0h1m11 0h1m28 0h1m1 0h1m15 0h1m12 0h1m10 0h1m7 0h1m10 0h1m16 0h1m6 0h1m18 0h1m1 0h1m15 0h1m3 0h1m32 0h1m1 0h2m7 0h1m4 0h2m18 0h1m14 0h1m7 0h1m4 0h1m1 0h1m15 0h1m98 0h2m2 0h2M234 15.5h1m41 0h1m7 0h1m10 0h1m11 0h1m21 0h1m6 0h1m12 0h1m1 0h1m30 0h1m32 0h1m9 0h1m14 0h1m15 0h1m5 0h2m10 0h1m12 0h1m9 0h1m87 0h1m3 0h2M78 16.5h1m155 0h1m61 0h1m13 0h1m11 0h1m6 0h1m9 0h1m9 0h1m42 0h2m19 0h1m1 0h1m2 0h1m19 0h4m2 0h1m5 0h1m5 0h2m4 0h1m11 0h2m10 0h2m5 0h1m3 0h1m12 0h1m25 0h1m48 0h1m1 0h1m1 0h3M70 18.5h1M70 19.5h1m177 0h1m27 0h1m45 0h2m8 0h1m8 0h1m2 0h1m12 0h2m7 0h1m25 0h2m1 0h2m8 0h2m11 0h1m10 0h1m8 0h1m1 0h2m9 0h1m14 0h1m30 0h1m10 0h1m1 0h6m4 0h2m1 0h1m8 0h2m1 0h1m2 0h1m3 0h2m1 0h1m4 0h1m5 0h2m1 0h1m6 0h3m10 0h1m4 0h2m5 0h1M234 20.5h1m53 0h1m17 0h1m3 0h1m15 0h1m18 0h1m5 0h1m1 0h1m37 0h2m48 0h1m9 0h1m4 0h1m9 0h1m10 0h1m15 0h1m23 0h1m12 0h2m6 0h1m3 0h1m1 0h1m3 0h1m4 0h1m2 0h1m1 0h1m8 0h1m11 0h1m5 0h2m2 0h1m1 0h1M70 21.5h1m166 0h1m10 0h1m11 0h1m27 0h1m17 0h1m22 0h1m4 0h1m6 0h2m23 0h1m15 0h1m1 0h1m9 0h1m9 0h1m8 0h1m6 0h1m19 0h1m3 0h1m8 0h1m20 0h1m2 0h1m11 0h2m10 0h1m16 0h1m47 0h1m22 0h1M154 22.5h1m1 0h1m31 0h1m23 0h2m2 0h1m43 0h1m1 0h1m7 0h1m13 0h1m3 0h1m17 0h1m4 0h1m9 0h1m1 0h2m5 0h1m9 0h1m6 0h3m7 0h1m7 0h2m5 0h1m9 0h1m1 0h1m7 0h1m6 0h1m3 0h2m3 0h1m6 0h1m4 0h1m8 0h1m7 0h1m1 0h2m3 0h1m10 0h2m6 0h2m12 0h1m6 0h1m5 0h1m7 0h1m43 0h1m10 0h2m30 0h2m1 0h4M30 23.5h1m203 0h1m71 0h1m107 0h1m1 0h1m168 0h2M30 24.5h1M30 25.5h1m48 0h1m113 0h1m19 0h1m59 0h1m3 0h1m121 0h1m37 0h1m40 0h1m106 0h2m1 0h3M43 26.5h1m202 0h1m26 0h1m74 0h1m4 0h1m31 0h1m200 0h1m2 0h1M19 27.5h1m100 0h1m46 0h2m30 0h1m3 0h1m10 0h1m6 0h1m13 0h1m4 0h1m21 0h1m9 0h2m9 0h1m11 0h1m1 0h1m9 0h3m89 0h1m37 0h1m148 0h1M5 28.5h1m24 0h1m48 0h1M30 29.5h1m39 0h1m93 0h1M5 30.5h1M19 31.5h1m50 0h1m83 0h1m38 0h1m8 0h2m81 0h2m26 0h1m1 0h1m6 0h1m23 0h2m6 0h1m1 0h1m42 0h1m1 0h1m1 0h2M168 32.5h1m10 0h2m4 0h1m2 0h1m2 0h1m8 0h1m8 0h1m1 0h1m3 0h2m7 0h1m37 0h1m8 0h1m2 0h1m2 0h1m1 0h1m2 0h1M19 33.5h1m22 0h1m109 0h1m1 0h1m42 0h2m1 0h1m1 0h1m8 0h1m1 0h1m2 0h1m20 0h3m32 0h1m11 0h1m24 0h1m275 0h1M197 34.5h1m2 0h1m23 0h1m24 0h1m21 0h1m22 0h1m290 0h1M5 35.5h1m36 0h1m39 0h1m506 0h1M5 36.5h1M33 37.5h1m8 0h1m340 0h1m201 0h1m3 0h1M42 38.5h1m166 0h1m67 0h1m121 0h1m185 0h1m1 0h1m1 0h1M367 39.5h1m87 0h1m8 0h2M70 40.5h1m6 0h1m18 0h1M33 41.5h1m134 0h1m6 0h1m4 0h1m9 0h1m2 0h1m4 0h1m12 0h1m2 0h1m6 0h1m11 0h2m5 0h1m4 0h1m1 0h1m14 0h3m7 0h2m12 0h1m37 0h1m1 0h1m3 0h2m4 0h2m3 0h1m13 0h1m1 0h1m12 0h1m9 0h1m19 0h1m2 0h2m3 0h1m4 0h1m2 0h1m9 0h1m12 0h1m24 0h1m11 0h1m8 0h1m5 0h1m93 0h2m4 0h1M77 42.5h1m29 0h1m55 0h1m1 0h1m1 0h1m7 0h1m14 0h1m2 0h1m3 0h1m13 0h1m11 0h2m9 0h1m3 0h1m1 0h1m4 0h1m14 0h2m9 0h2m1 0h2m10 0h2m22 0h1m19 0h1m12 0h1m46 0h1m44 0h1m28 0h1m125 0h1M120 43.5h1m19 0h1m11 0h1m10 0h1m1 0h2m1 0h1m19 0h3m6 0h2m2 0h1m9 0h2m32 0h1m3 0h1m1 0h1m9 0h1m9 0h2m1 0h3m11 0h1m8 0h2m1 0h1m42 0h1m9 0h1m12 0h1m68 0h1m154 0h2M120 44.5h1m19 0h1m51 0h1m92 0h1m37 0h1m1 0h1m18 0h1m25 0h1m25 0h1m9 0h1m8 0h1m1 0h1m9 0h1m36 0h1m9 0h1m10 0h1m1 0h1m4 0h1m8 0h1m15 0h1m11 0h1m27 0h1m28 0h1m1 0h4M19 45.5h1m28 0h1m114 0h1m23 0h1m23 0h1m2 0h1m32 0h1m24 0h1m6 0h1m17 0h1m2 0h1m35 0h1m2 0h1m13 0h1m3 0h1m1 0h1m10 0h1m12 0h2m7 0h1m3 0h1m5 0h1m4 0h1m12 0h1m8 0h1m14 0h1m7 0h1m11 0h1m2 0h1m12 0h1m6 0h1m2 0h1m6 0h2m22 0h1m63 0h1m2 0h4M70 46.5h1m12 0h1m103 0h1m46 0h1m5 0h1m4 0h1m17 0h1m8 0h1m27 0h1m38 0h1m103 0h2m18 0h1m121 0h1m3 0h3M48 47.5h1m58 0h1m117 0h1m47 0h1m12 0h1m205 0h1m4 0h1m11 0h2m1 0h1m2 0h1m5 0h1m2 0h1m5 0h1m10 0h2m2 0h1m3 0h1m3 0h1m2 0h2m5 0h1m1 0h1m4 0h1m1 0h2m4 0h1m3 0h1m3 0h1M19 48.5h1m28 0h1m10 0h1m10 0h1m12 0h1m34 0h1m70 0h1m8 0h1m13 0h1m25 0h1m23 0h1m12 0h1m10 0h1m46 0h1m23 0h1m21 0h1m2 0h1m21 0h1m7 0h2m1 0h1m1 0h1m2 0h1m4 0h1m2 0h2m6 0h1m4 0h1m1 0h1m19 0h1m3 0h1m4 0h1m6 0h1m12 0h1m24 0h1m1 0h2m9 0h1m12 0h1m12 0h1m2 0h1m7 0h2m12 0h1m3 0h1m2 0h2m1 0h1M83 49.5h1m68 0h1m12 0h1m10 0h1m10 0h1m2 0h1m6 0h1m14 0h1m38 0h1m44 0h2m13 0h1m23 0h1m8 0h1m12 0h1m14 0h1m9 0h1m68 0h1m4 0h1m17 0h1m2 0h1m19 0h1m45 0h1m35 0h3m3 0h1m4 0h1M70 50.5h1m94 0h1m14 0h1m71 0h1m43 0h1m56 0h1m6 0h1m114 0h1m11 0h1m12 0h1m87 0h1M70 51.5h1M61 52.5h1M180 53.5h1m23 0h1m45 0h1m48 0h2m20 0h1m35 0h1m22 0h1m55 0h1m129 0h1m21 0h2M221 55.5h1m16 0h1m36 0h1m20 0h1m3 0h1m4 0h1m17 0h1m48 0h1m7 0h1m1 0h1m16 0h1m11 0h1m2 0h1m2 0h1m9 0h1m3 0h1m6 0h1m1 0h2m1 0h1m34 0h1m5 0h2m3 0h1m7 0h2m89 0h1M178 56.5h1m10 0h1m7 0h1m23 0h2m4 0h1m6 0h1m3 0h1m7 0h1m47 0h1m10 0h1m17 0h1m5 0h2m38 0h1m10 0h1m1 0h1M70 57.5h1M198 58.5h1m1 0h1m11 0h1m3 0h1m32 0h1m2 0h1m53 0h1m23 0h1m10 0h1m29 0h1m21 0h1m21 0h1m36 0h1m13 0h1m11 0h1m107 0h1M150 59.5h1m1 0h1m25 0h1m56 0h1m41 0h1m10 0h1m26 0h1m38 0h1m17 0h1m16 0h2m23 0h1m2 0h1m48 0h1m18 0h1m2 0h1m12 0h1m85 0h1m3 0h1M70 60.5h1m79 0h1m2 0h1m1 0h1m6 0h1m1 0h4m6 0h1m1 0h1m8 0h2m2 0h1m8 0h1m2 0h1m25 0h1m6 0h1m2 0h1m10 0h1m1 0h2m7 0h1m4 0h1m5 0h1m3 0h1m1 0h2m20 0h3m6 0h1m2 0h1m1 0h1m8 0h3m5 0h1m3 0h1m1 0h1m4 0h2m13 0h1m2 0h1m1 0h1m8 0h1m7 0h1m17 0h1m7 0h1m3 0h1m7 0h2m7 0h1m10 0h2m1 0h1m5 0h1m8 0h2m8 0h4m11 0h1m1 0h1m3 0h1m2 0h1m21 0h1m1 0h2m4 0h2m12 0h2m21 0h1m23 0h1m6 0h4m1 0h2M140 61.5h1m139 0h1m59 0h1m13 0h1m34 0h1m37 0h1m69 0h1m1 0h1m2 0h1m82 0h1m1 0h1M0 62.5h1m152 0h1m11 0h1m9 0h1m2 0h1m8 0h1m37 0h1m97 0h1m6 0h1m28 0h1m21 0h1m1 0h1m57 0h1m1 0h2m10 0h1m6 0h1m2 0h2m9 0h2m7 0h1m2 0h2m11 0h2m6 0h1m11 0h1m9 0h1m1 0h1m2 0h1m17 0h5m1 0h1m5 0h1m9 0h2m3 0h2m3 0h2m1 0h1m1 0h1M214 63.5h1m65 0h1M70 64.5h1m24 0h1m90 0h1m135 0h1m9 0h1m2 0h1m22 0h3m8 0h1m43 0h1m6 0h1m20 0h1m11 0h1m8 0h1m3 0h1m20 0h1m22 0h1m5 0h2m1 0h1m12 0h1m1 0h1m13 0h1m5 0h1m1 0h1m3 0h1m2 0h1m1 0h1m11 0h6m3 0h1m2 0h1M106 65.5h1m95 0h1m73 0h1m30 0h1m22 0h1m13 0h2m24 0h1m82 0h1m23 0h1m2 0h1m18 0h1m10 0h2m4 0h2m1 0h2m1 0h1m3 0h1m17 0h3m16 0h1m4 0h2m16 0h1m2 0h1M238 66.5h1m12 0h1m57 0h1m14 0h1m10 0h1m22 0h1m9 0h1m1 0h1m10 0h1m14 0h1m2 0h1m19 0h1m16 0h1m18 0h1m6 0h1m4 0h1m11 0h1m6 0h1m3 0h1m8 0h1m1 0h1m7 0h1m6 0h2m4 0h1m12 0h1m5 0h1m2 0h1m16 0h1m3 0h2m1 0h1m12 0h1m4 0h2M151 67.5h1m50 0h1m25 0h1m31 0h1m13 0h1m1 0h1m29 0h1m44 0h1m2 0h1m1 0h1m56 0h1m25 0h1m49 0h1m8 0h1m2 0h1m29 0h1m53 0h3M151 68.5h1m254 0h1m12 0h1m88 0h2m2 0h1m2 0h1m1 0h2m4 0h1m5 0h3m2 0h1m8 0h1m24 0h3m5 0h2m3 0h2m5 0h1m2 0h1M178 69.5h1m97 0h1m142 0h1m10 0h1m10 0h1m13 0h1m30 0h1m12 0h1m9 0h2m1 0h1m2 0h1m1 0h3m4 0h1m3 0h2m1 0h1m11 0h1m3 0h1m16 0h1m3 0h1m7 0h1m1 0h2m2 0h1m5 0h1m2 0h1M43 71.5h1M97 72.5h1m79 0h1m56 0h1m112 0h1m5 0h1m231 0h2m1 0h1M1 73.5h1m153 0h1m18 0h1m13 0h1m8 0h1m5 0h1m5 0h1m1 0h1m12 0h2m9 0h1m1 0h1m1 0h1m5 0h1m1 0h1m2 0h1m9 0h1m1 0h2m7 0h2m8 0h1m3 0h2m7 0h1m1 0h1m3 0h1m6 0h1m1 0h1m12 0h1m1 0h1m5 0h2m1 0h2m3 0h1m1 0h1m1 0h1m2 0h1m13 0h1m10 0h3m5 0h1m15 0h1m4 0h1m6 0h2m5 0h1m2 0h1m1 0h1m1 0h1m4 0h2m1 0h1m8 0h1m1 0h1m1 0h1m1 0h1m8 0h1m9 0h1m1 0h1m2 0h1m10 0h2m5 0h1m2 0h1m12 0h1m3 0h1m1 0h1m24 0h1m1 0h1m7 0h1m16 0h1M150 74.5h1m14 0h1m11 0h1m7 0h1m2 0h1m8 0h1m1 0h1m3 0h1m11 0h1m9 0h1m1 0h1m5 0h1m3 0h3m7 0h1m2 0h1m9 0h1m2 0h2m6 0h1m4 0h2m19 0h1m1 0h1m11 0h1m10 0h2m9 0h1m1 0h1m8 0h2m1 0h1m5 0h2m3 0h1m10 0h1m2 0h1m9 0h1m48 0h1m23 0h1m6 0h1m15 0h1m17 0h2m6 0h1m3 0h1m7 0h1m1 0h3m2 0h2m1 0h1m3 0h2m5 0h3m1 0h1m1 0h1m1 0h4m4 0h3m5 0h1m5 0h2m6 0h1m3 0h1m3 0h1m3 0h1m2 0h1M70 75.5h1m81 0h1m9 0h1m4 0h1m23 0h2m8 0h2m1 0h1m10 0h1m5 0h1m27 0h1m12 0h1m1 0h1m16 0h1m15 0h1m11 0h1m14 0h1m26 0h1m2 0h1m3 0h1m9 0h1m8 0h1m5 0h1m9 0h1m42 0h1M162 76.5h2m3 0h2m7 0h1m12 0h1m7 0h1m3 0h1m2 0h1m10 0h2m9 0h1m12 0h1m7 0h1m3 0h1m8 0h1m10 0h1m25 0h1m1 0h1m6 0h1m2 0h1m1 0h1m9 0h1m1 0h1m10 0h2m4 0h1m25 0h1m1 0h1m1 0h2m11 0h2m6 0h1m10 0h1m2 0h1m7 0h1m5 0h1m21 0h2m10 0h3m51 0h1m10 0h2m10 0h1m13 0h1m16 0h1m4 0h2m1 0h2m3 0h1m2 0h2m6 0h1m1 0h1m1 0h1M34 77.5h1m13 0h1m106 0h1m11 0h1m8 0h1m15 0h1m5 0h1m4 0h2m16 0h1m4 0h1m20 0h1m3 0h1m12 0h1m6 0h1m2 0h1m10 0h1m10 0h1m15 0h1m19 0h1m12 0h1m19 0h1m1 0h1m10 0h1m4 0h2m9 0h1m18 0h1m5 0h2m4 0h1m1 0h1m10 0h1m4 0h1m6 0h1m24 0h1m3 0h1m7 0h1m4 0h2m13 0h1m23 0h2m11 0h1m40 0h2m1 0h2M102 78.5h1m169 0h1m58 0h1m154 0h1M150 79.5h1m12 0h1m21 0h1m59 0h1m13 0h1m3 0h1m17 0h1m16 0h1m32 0h2m3 0h1m23 0h1m5 0h1m15 0h1m34 0h1m2 0h1m58 0h1m5 0h1m2 0h1m1 0h1m94 0h1m4 0h1M97 80.5h1m58 0h1m17 0h1m26 0h1m19 0h1m3 0h1m19 0h1m15 0h1m2 0h1m7 0h1m13 0h1m9 0h1m24 0h1m1 0h2m3 0h1m7 0h1m8 0h1m20 0h1m4 0h1m10 0h1m1 0h1m5 0h2m1 0h2m4 0h1m2 0h1m13 0h2m2 0h1m3 0h1m11 0h2m1 0h2m9 0h1m12 0h1m10 0h1m2 0h1m1 0h2m4 0h1m4 0h1m22 0h1m4 0h1m11 0h1m24 0h1m32 0h3M7 81.5h1m89 0h1M43 82.5h1m235 0h1m60 0h1m64 0h1m179 0h2m1 0h3M70 83.5h1m81 0h1m13 0h2m31 0h2m32 0h1m133 0h1m37 0h1m71 0h1m1 0h1m105 0h2m2 0h1M153 84.5h1m13 0h1m9 0h1m12 0h3m4 0h1m23 0h1m11 0h1m2 0h1m8 0h1m2 0h1m33 0h1m2 0h1m8 0h2m9 0h1m1 0h1m277 0h1m2 0h2M30 85.5h1m87 0h1m35 0h1m1 0h1m10 0h2m16 0h1m13 0h1m1 0h1m7 0h2m10 0h1m15 0h1m7 0h1m1 0h1m1 0h1m1 0h1m7 0h2m24 0h2m23 0h1m54 0h1m27 0h1m191 0h1m2 0h3M30 86.5h1m559 0h1M1 87.5h1M178 88.5h1m44 0h1m90 0h1m44 0h1m23 0h1m16 0h1m5 0h1m9 0h1m12 0h1m14 0h1m9 0h1m135 0h1M155 93.5h1m79 0h1m9 0h1m2 0h2m10 0h1m104 0h1M198 94.5h1m11 0h1m5 0h1m70 0h1m46 0h1m11 0h1m11 0h1m1 0h1m17 0h1m98 0h1m20 0h2m8 0h2m1 0h1m6 0h2m1 0h1m8 0h4m5 0h2m2 0h5m6 0h1m3 0h2m1 0h2m4 0h3m3 0h2m1 0h1m4 0h2m2 0h1M185 95.5h1m14 0h1m36 0h1m8 0h1m5 0h1m9 0h1m32 0h1m27 0h1m6 0h1m9 0h1m19 0h1m22 0h1m19 0h1m8 0h1m7 0h1m23 0h1m30 0h1M193 96.5h1M156 97.5h1m9 0h1m22 0h3m12 0h1m20 0h1m13 0h1m6 0h1m4 0h1m9 0h1m2 0h1m19 0h1m36 0h1m11 0h1m5 0h1m15 0h2m36 0h1m22 0h1m24 0h1m13 0h1m22 0h1m13 0h1m6 0h1m10 0h1m1 0h4m12 0h3m3 0h1m2 0h1m5 0h2m9 0h1m2 0h3m6 0h3m4 0h1m1 0h2m2 0h1m8 0h1m1 0h2M164 98.5h1m1 0h2m25 0h1m6 0h1m130 0h1m38 0h1m44 0h1M508 99.5h1m15 0h1m1 0h1m7 0h1m24 0h1m3 0h1m6 0h1m14 0h1M153 100.5h1m2 0h1m9 0h2m9 0h2m6 0h1m13 0h2m1 0h1m7 0h3m2 0h2m6 0h1m10 0h2m3 0h1m7 0h1m3 0h1m20 0h2m1 0h1m10 0h3m7 0h1m12 0h1m1 0h2m17 0h2m9 0h1m1 0h2m1 0h1m1 0h2m4 0h1m2 0h1m32 0h1m14 0h1m1 0h1m12 0h1m5 0h4m4 0h1m29 0h1m14 0h2m9 0h1m6 0h1m1 0h1m31 0h1m55 0h1m1 0h2M164 103.5h1m12 0h1m11 0h1m35 0h1m11 0h1m1 0h1m32 0h1m4 0h1m18 0h1m11 0h1m28 0h1m3 0h1m12 0h1m13 0h1m13 0h1m24 0h2m32 0h1m11 0h1m31 0h1m1 0h1m1 0h1m6 0h1m13 0h3m9 0h3m24 0h2m5 0h2m1 0h1m8 0h2m1 0h1m5 0h4m3 0h1m6 0h1M177 106.5h1m7 0h1m1 0h1m11 0h1m4 0h1m6 0h1m26 0h1m1 0h1m22 0h1m45 0h1m19 0h1m3 0h1m7 0h1m2 0h1m2 0h1m6 0h1m4 0h1m7 0h2m10 0h1m1 0h1m1 0h1m6 0h1m16 0h1m3 0h1m4 0h1m1 0h2m8 0h1m1 0h1m1 0h1m22 0h1m9 0h1m8 0h1m5 0h1m11 0h1m10 0h1m3 0h1m77 0h1m1 0h1m1 0h1m1 0h1M1 107.5h1m68 0h1m312 0h1m8 0h1m22 0h1m46 0h2m10 0h1m11 0h1m6 0h1m4 0h1m88 0h1M345 108.5h1m8 0h1m28 0h1m41 0h1m1 0h1m7 0h2m2 0h1m4 0h1m8 0h3m9 0h1m6 0h1m2 0h1m15 0h2m7 0h1m17 0h1m11 0h1m36 0h3m16 0h2m1 0h1M164 109.5h1m49 0h1m25 0h1m21 0h1m7 0h2m72 0h1m23 0h1m2 0h1m35 0h1m55 0h1m23 0h1m11 0h1m8 0h3m1 0h1m4 0h1m1 0h1m3 0h1m19 0h2m1 0h1m1 0h1m5 0h1m1 0h3m13 0h2m1 0h1m2 0h1m2 0h1m4 0h1m1 0h1m1 0h2M70 110.5h1m272 0h1m7 0h1m2 0h1m10 0h1m2 0h1m8 0h1m16 0h1m1 0h1m28 0h1m6 0h1m3 0h1m7 0h1m33 0h1m1 0h1m3 0h1m2 0h1m17 0h1m4 0h1m75 0h1m1 0h4M70 111.5h1m254 0h1m25 0h1m1 0h2m27 0h1m34 0h1m6 0h1m50 0h1m24 0h1m85 0h1m2 0h1M354 112.5h1m51 0h1m20 0h1m23 0h1m26 0h1m12 0h1m8 0h1m13 0h1m1 0h1m20 0h1m25 0h1m10 0h1m6 0h1m1 0h1M335 113.5h1m33 0h1m59 0h2m32 0h1m14 0h1m11 0h2m18 0h3m16 0h1m2 0h1m1 0h3m4 0h3m11 0h2m6 0h1m8 0h2m6 0h3m2 0h1m3 0h2M95 114.5h1m247 0h1m3 0h1m5 0h1m1 0h2m20 0h2m2 0h1m1 0h1m6 0h1m17 0h1m8 0h1m1 0h1m6 0h1m5 0h1m17 0h1m3 0h1m7 0h2m20 0h1m12 0h1m11 0h1m1 0h1m24 0h1m7 0h1m9 0h1m13 0h1m19 0h1m2 0h1M95 115.5h1m231 0h1m7 0h1m7 0h2m4 0h1m4 0h4m7 0h1m6 0h1m10 0h1m12 0h1m9 0h1m11 0h2m6 0h2m4 0h1m2 0h2m2 0h1m11 0h1m2 0h1m10 0h1m3 0h1m8 0h1m11 0h1m27 0h1m4 0h1m9 0h1m2 0h1m1 0h1m2 0h2m42 0h2m1 0h1m1 0h1M70 116.5h1m166 0h3m22 0h1m1 0h1m30 0h1m32 0h1m1 0h1m5 0h1m7 0h1m9 0h1m1 0h2m23 0h1m1 0h1m22 0h1m17 0h1m2 0h1m7 0h1m2 0h2m13 0h1m1 0h1m19 0h1m3 0h1m6 0h1m2 0h1m96 0h2m2 0h2M328 117.5h1m48 0h1m6 0h1m50 0h1m14 0h2m10 0h2m40 0h1m82 0h1M333 118.5h2m21 0h1m12 0h1m25 0h1m8 0h1m10 0h1m49 0h1m9 0h1m28 0h1m4 0h1m1 0h1m70 0h1m3 0h1m3 0h2M529 119.5h2m6 0h1m2 0h1m17 0h1m7 0h1m14 0h1m4 0h1m1 0h1M180 120.5h1m69 0h1m23 0h1m11 0h1m43 0h1m3 0h1m3 0h1m30 0h1m26 0h1m29 0h1m2 0h2m19 0h1m14 0h1m11 0h1m80 0h2m1 0h1m3 0h1m1 0h1m14 0h1m2 0h4m1 0h2M164 121.5h1m12 0h1m49 0h1m11 0h1m46 0h2m45 0h1m5 0h1m4 0h1m12 0h1m1 0h1m6 0h1m10 0h1m5 0h1m12 0h1m18 0h1m11 0h2m1 0h1m32 0h1m11 0h1m3 0h1m8 0h1m13 0h1m64 0h1m10 0h1m1 0h1m6 0h5M1 122.5h1m149 0h1m3 0h1m8 0h1m3 0h1m20 0h1m37 0h1m17 0h1m2 0h1m11 0h2m24 0h1m7 0h1m11 0h1m38 0h1m9 0h2m10 0h1m43 0h1m1 0h1m50 0h1m4 0h1m26 0h1m88 0h4m2 0h1M427 123.5h1m8 0h1m52 0h1m3 0h1m40 0h1m18 0h1m23 0h1m7 0h1m3 0h1M106 124.5h1m60 0h1m8 0h2m19 0h1m14 0h4m7 0h1m12 0h1m23 0h1m13 0h1m40 0h1m13 0h2m16 0h1m45 0h1m2 0h1m29 0h1m22 0h1m18 0h1m11 0h1m6 0h1m2 0h1m1 0h2m2 0h1m1 0h1m2 0h1m85 0h2m2 0h1M97 125.5h1m55 0h1m12 0h1m1 0h1m7 0h1m20 0h1m15 0h1m13 0h1m17 0h1m1 0h1m16 0h1m31 0h1m9 0h1m4 0h1m21 0h1m5 0h1m3 0h1m3 0h1m5 0h1m1 0h2m3 0h1m10 0h1m28 0h1m2 0h1m3 0h2m2 0h1m18 0h1m5 0h2m5 0h1m7 0h1m17 0h1m9 0h1m5 0h1m1 0h1m1 0h1m2 0h1m12 0h1m11 0h1m14 0h1m54 0h1m1 0h3M19 126.5h1m57 0h1m19 0h1m22 0h1m33 0h1m21 0h2m57 0h1m1 0h1m7 0h1m3 0h2m19 0h2m24 0h1m12 0h1m25 0h1m6 0h5m37 0h1m7 0h2m1 0h1m12 0h1m26 0h1m3 0h1m3 0h1m1 0h1m7 0h1m9 0h1m1 0h1m13 0h1m4 0h2m3 0h1m2 0h2m3 0h1m1 0h1m4 0h1m49 0h1m31 0h2m2 0h1M77 127.5h1m62 0h1m13 0h1m1 0h1m8 0h4m17 0h1m1 0h2m20 0h1m25 0h2m9 0h1m3 0h1m12 0h1m6 0h2m1 0h1m2 0h1m16 0h1m14 0h1m3 0h1m14 0h1m40 0h1m9 0h2m30 0h1m57 0h1m6 0h1m7 0h1M97 128.5h1m56 0h1m1 0h1m23 0h1m31 0h1m35 0h1m12 0h1m47 0h1m15 0h1m4 0h1m12 0h2m8 0h1m2 0h1m1 0h3m5 0h1m16 0h1m16 0h1m2 0h1m9 0h1m51 0h1m14 0h1m7 0h1m11 0h1m87 0h1m1 0h1M1 129.5h1m95 0h1m64 0h1m5 0h1m29 0h2m13 0h1m34 0h1m79 0h1m2 0h2m10 0h1m1 0h1m1 0h1m8 0h1m2 0h1m6 0h1m25 0h1m7 0h1m12 0h3m15 0h1m3 0h1m3 0h2m12 0h1m20 0h1m10 0h1m2 0h3m6 0h2m1 0h1m3 0h1m26 0h1m12 0h1m9 0h1m2 0h1m3 0h1m5 0h1m17 0h1m2 0h4M237 131.5h1m26 0h1m19 0h1m24 0h1m1 0h1m33 0h1m21 0h1m3 0h1m41 0h1m21 0h1m2 0h1m12 0h1m11 0h1m1 0h1m1 0h1m17 0h1m12 0h1m22 0h1m12 0h1m10 0h1m12 0h1m14 0h1m5 0h1m4 0h1m6 0h1M263 132.5h2m102 0h1m16 0h1m9 0h1m16 0h1m1 0h1m1 0h1m16 0h1m32 0h1m9 0h1m9 0h1m1 0h1m2 0h1m7 0h1m11 0h1m19 0h1m6 0h1m2 0h1m6 0h1m14 0h1m11 0h1m1 0h1M328 134.5h1m73 0h1m29 0h1m3 0h1m3 0h1m22 0h1m16 0h1m12 0h1m2 0h1m1 0h1m11 0h2m7 0h1m12 0h1m1 0h1m8 0h1m30 0h1m10 0h1M140 138.5h1m12 0h2m9 0h1m116 0h1m2 0h1m43 0h1m13 0h1m4 0h1m42 0h1m9 0h1m14 0h2m10 0h2m20 0h1m34 0h1m34 0h1m66 0h5M587 139.5h1M152 141.5h1m2 0h1m6 0h1m1 0h2m11 0h1m21 0h1m50 0h1m12 0h1m34 0h2m1 0h1m5 0h1m2 0h1m1 0h1m16 0h3m5 0h1m13 0h1m5 0h1m2 0h1m7 0h1m22 0h1m22 0h1m4 0h1m7 0h1m10 0h2m11 0h1m10 0h1m12 0h1m111 0h1m2 0h2M154 142.5h2m8 0h1m1 0h1m22 0h3m19 0h1m74 0h2m20 0h1m1 0h1m18 0h1m6 0h2m22 0h1m6 0h1m1 0h1m14 0h1m6 0h1m12 0h1m10 0h1m37 0h1m9 0h1m2 0h1m10 0h1m8 0h1m2 0h1m17 0h1m31 0h1m20 0h1m14 0h1M501 144.5h2m6 0h2m1 0h1m3 0h1m9 0h1m1 0h1m2 0h1m3 0h2m1 0h1m2 0h1m2 0h3m1 0h1m10 0h1m1 0h1m1 0h1m9 0h3m7 0h2M151 146.5h1m15 0h2m7 0h1m10 0h1m5 0h1m4 0h1m12 0h1m22 0h1m38 0h1m3 0h1m4 0h1m1 0h1m9 0h1m1 0h1m33 0h2m5 0h1m4 0h1m1 0h1m22 0h1m3 0h1m11 0h1m9 0h1m5 0h1m4 0h1m1 0h1m15 0h1m3 0h1m5 0h1m7 0h1m11 0h2m10 0h1m13 0h1m5 0h1M37 147.5h1m32 0h1m81 0h1m1 0h1m22 0h1m2 0h1m5 0h1m11 0h1m22 0h1m3 0h1m3 0h1m3 0h1m39 0h3m7 0h1m14 0h1m14 0h1m9 0h2m4 0h1m1 0h1m1 0h1m35 0h1m1 0h1m23 0h1m8 0h1m6 0h1m2 0h2m1 0h1m8 0h1m16 0h1m9 0h1m20 0h1m3 0h2m6 0h1m100 0h1m3 0h1M5 148.5h1m13 0h1m28 0h1m71 0h1m41 0h2m13 0h1m1 0h1m11 0h1m5 0h1m5 0h2m16 0h1m15 0h1m2 0h1m83 0h1m2 0h1m26 0h1m2 0h1m10 0h1m2 0h1m34 0h1m5 0h1m2 0h1m9 0h3m2 0h1m1 0h1m11 0h1m9 0h2m7 0h1m3 0h1m6 0h1m10 0h1m104 0h1M162 150.5h1m2 0h1m13 0h1m5 0h1m4 0h1m7 0h1m2 0h1m14 0h1m4 0h1m23 0h2m2 0h1m46 0h1m10 0h1m20 0h1m6 0h4m7 0h1m31 0h1m1 0h2m29 0h1m4 0h1m1 0h1m6 0h1m1 0h1m4 0h1m11 0h1m20 0h1m8 0h1m10 0h1m104 0h1M190 151.5h3m4 0h1m3 0h1m14 0h1m4 0h1m3 0h1m19 0h1m29 0h1m6 0h1m2 0h1m10 0h1m16 0h1m10 0h1m6 0h2m10 0h1m11 0h1m22 0h1m12 0h1m3 0h1m11 0h1m10 0h1m11 0h1m21 0h1m21 0h1m1 0h1m8 0h1m1 0h1m2 0h1m5 0h1m10 0h1m21 0h1m56 0h1m4 0h1M145 152.5h1m8 0h3m8 0h1m8 0h1m1 0h2m8 0h2m3 0h1m7 0h1m3 0h1m6 0h1m4 0h2m8 0h1m1 0h1m7 0h1m1 0h1m11 0h1m13 0h1m7 0h1m1 0h1m1 0h1m6 0h1m2 0h2m20 0h1m2 0h3m10 0h1m4 0h2m4 0h3m1 0h1m4 0h1m3 0h1m11 0h1m9 0h1m8 0h1m1 0h1m3 0h1m5 0h1m13 0h4m17 0h1m1 0h1m7 0h1m4 0h2m10 0h4m8 0h2m9 0h1m1 0h2m109 0h1m1 0h1M70 154.5h1m83 0h2m20 0h2m8 0h1m3 0h1m6 0h1m2 0h1m8 0h1m2 0h1m1 0h1m21 0h2m2 0h1m4 0h1m1 0h1m15 0h1m9 0h2m21 0h1m3 0h1m5 0h1m4 0h2m16 0h1m2 0h1m1 0h1m3 0h1m15 0h2m3 0h1m29 0h1m1 0h1m11 0h1m14 0h1m6 0h1m41 0h2m5 0h2m4 0h1m3 0h1m4 0h1m2 0h1M155 156.5h1m9 0h1m8 0h1m11 0h1m10 0h1m1 0h1m1 0h1m10 0h1m9 0h1m10 0h1m5 0h2m4 0h3m11 0h1m24 0h1m1 0h2m10 0h1m2 0h1m4 0h3m1 0h1m2 0h1m7 0h1m2 0h1m4 0h1m6 0h1m18 0h1m3 0h1m11 0h1m8 0h2m9 0h1m10 0h1m1 0h3m8 0h1m14 0h1m5 0h1m17 0h2m9 0h1m12 0h1m1 0h1m6 0h2M149 157.5h1m4 0h1m1 0h1m8 0h1m1 0h1m6 0h1m2 0h1m8 0h1m29 0h1m6 0h1m3 0h1m17 0h3m1 0h2m1 0h1m32 0h2m20 0h1m22 0h1m1 0h1m2 0h1m1 0h1m12 0h1m6 0h2m7 0h1m4 0h1m8 0h2m34 0h1m1 0h2m17 0h1m3 0h1m2 0h1m9 0h1m10 0h1m8 0h2m2 0h1m11 0h1m1 0h1M149 158.5h1m4 0h2m18 0h1m11 0h1m2 0h1m2 0h1m6 0h1m1 0h1m9 0h2m3 0h1m8 0h1m10 0h2m7 0h2m2 0h2m1 0h1m18 0h1m13 0h1m1 0h1m9 0h2m8 0h1m2 0h1m2 0h1m21 0h1m1 0h1m12 0h1m2 0h1m1 0h1m1 0h1m1 0h1m9 0h1m1 0h1m11 0h1m6 0h2m25 0h2m10 0h2m6 0h1m6 0h1m6 0h1m15 0h2m15 0h1m3 0h1m1 0h1m78 0h1m15 0h2m1 0h1m2 0h1M19 160.5h1m159 0h1m30 0h1m34 0h1m3 0h1m24 0h1m13 0h1m46 0h1m1 0h1m17 0h1m34 0h1m35 0h2m65 0h1m50 0h1m41 0h1m1 0h1m2 0h1M5 162.5h1m96 0h1m51 0h1m1 0h1m8 0h4m10 0h1m30 0h3m3 0h1m20 0h2m7 0h2m4 0h1m44 0h1m26 0h1m12 0h1m52 0h2m10 0h1m16 0h1m49 0h1m23 0h1m2 0h1m43 0h1m1 0h2m35 0h1m5 0h2m1 0h3M42 164.5h1m77 0h1m125 0h1m341 0h1m1 0h1M60 167.5h1m41 0h1m17 0h1m46 0h1m11 0h1m5 0h1m5 0h1m22 0h1m1 0h1m20 0h2m6 0h1m13 0h1m17 0h1m6 0h1m3 0h1m5 0h1m29 0h1m8 0h1m23 0h1m26 0h1m6 0h2m22 0h1m9 0h1m17 0h2m11 0h1m12 0h1m4 0h1m3 0h1m6 0h1m22 0h2m1 0h1m30 0h1m36 0h2m4 0h1m1 0h1m1 0h3M77 172.5h1m30 0h1m54 0h1m12 0h1m12 0h1m20 0h1m26 0h1m12 0h1m57 0h1m24 0h1m24 0h1m10 0h1m21 0h1m10 0h1m17 0h1m8 0h1m39 0h1m6 0h1m19 0h5m3 0h1m2 0h2m1 0h2m1 0h2m1 0h2m13 0h4m1 0h1m13 0h1m3 0h1m3 0h1m1 0h1m3 0h8m5 0h1m2 0h1m6 0h1M108 173.5h1M17 174.5h1m30 0h1m28 0h1m24 0h1m73 0h1m12 0h1m26 0h1m8 0h1m22 0h1m28 0h1m16 0h1m1 0h1m3 0h1m7 0h3m3 0h1m17 0h1m4 0h1m3 0h1m16 0h1m23 0h2m7 0h1m28 0h1m45 0h1m9 0h1m8 0h1m11 0h1m61 0h1m5 0h1m2 0h1m8 0h1m8 0h1m2 0h3M30 175.5h1m17 0h1m59 0h1m11 0h1m139 0h1m235 0h1m20 0h1m71 0h1m1 0h1M60 176.5h1M102 180.5h1m5 0h1M48 181.5h1m5 0h1m15 0h1m31 0h1m17 0h1m203 0h1m13 0h1m2 0h1m7 0h1m126 0h1m109 0h5M84 183.5h1m17 0h1m5 0h1m128 0h1m11 0h1m10 0h1m51 0h1m11 0h2m8 0h1m12 0h1m1 0h1m16 0h2m2 0h1m11 0h1m12 0h1m21 0h1m10 0h1m3 0h1m10 0h1m9 0h1m9 0h1m1 0h2m7 0h1m3 0h1m6 0h1m1 0h1m5 0h1m3 0h1m87 0h1m2 0h3M5 185.5h1m42 0h1m5 0h1m15 0h1m31 0h1m5 0h1m126 0h1m62 0h1m34 0h1m3 0h1m10 0h1m6 0h1m21 0h1m17 0h1m12 0h1m21 0h1m55 0h2M428 186.5h1m7 0h1m2 0h1m23 0h1m2 0h2m8 0h1m14 0h1m6 0h1m11 0h1m26 0h1m39 0h1M1 187.5h1m519 0h1m22 0h1m46 0h1M1 188.5h1m95 0h1m243 0h1m4 0h2m32 0h1m3 0h1m35 0h1m3 0h1m3 0h1m1 0h1m10 0h1m1 0h1m9 0h1m12 0h1m1 0h1m8 0h1m11 0h1m1 0h1m29 0h1m56 0h1m6 0h4M97 189.5h1m68 0h1m19 0h1m3 0h1m8 0h2m9 0h1m41 0h1m7 0h1m24 0h1m10 0h2m26 0h1m4 0h1m7 0h1m13 0h1m13 0h1m42 0h1M1 190.5h1m95 0h1m78 0h1m13 0h1m1 0h1m6 0h1m13 0h1m1 0h1m8 0h1m25 0h1m19 0h1m51 0h1m1 0h1m5 0h1m6 0h1m4 0h1m5 0h1m11 0h1m4 0h1m16 0h1m1 0h1m4 0h2m8 0h1m3 0h1m4 0h1m17 0h1m23 0h1m5 0h1m18 0h1m8 0h1m13 0h1M1 191.5h1m222 0h1m26 0h1m7 0h1m10 0h1m5 0h2m1 0h1m17 0h1m10 0h2m20 0h1m6 0h1m3 0h1m7 0h1m8 0h1m1 0h1m6 0h1m14 0h1m16 0h1m4 0h1m23 0h3m4 0h1m5 0h1m8 0h1m1 0h1m1 0h1m10 0h1m1 0h1m17 0h1M70 192.5h1m35 0h1m69 0h1m9 0h1m63 0h2m8 0h1m1 0h1m7 0h1m8 0h1m5 0h1m8 0h1m1 0h2m2 0h1m38 0h1m1 0h1m7 0h1m15 0h2m15 0h3m89 0h3m7 0h1m5 0h1m7 0h1m6 0h1M97 193.5h1m232 0h1m10 0h1m23 0h1m11 0h1m21 0h2m16 0h1m8 0h1m16 0h1m21 0h1m9 0h2m7 0h1m12 0h1m59 0h1m27 0h3m2 0h1M19 194.5h1m50 0h1M47 195.5h1m22 0h1m48 0h1m118 0h1m20 0h1m28 0h1m34 0h3m11 0h1m18 0h1m26 0h2m45 0h1m78 0h1m2 0h1m7 0h1m8 0h1m14 0h1m9 0h1m9 0h3m5 0h1m12 0h2m1 0h2m1 0h1M163 196.5h1m12 0h1m38 0h1m81 0h1m23 0h1m1 0h3m32 0h1m10 0h1m12 0h1m1 0h1m26 0h1m2 0h2m10 0h1m1 0h1m6 0h1m16 0h2m2 0h1m5 0h3m3 0h1m3 0h1m12 0h6m7 0h1m87 0h2m3 0h1M333 197.5h1m1 0h1m1 0h1m3 0h1m27 0h1m13 0h1m16 0h1m5 0h1m7 0h1m11 0h1m1 0h1m9 0h1m2 0h1m33 0h1m13 0h1m3 0h1m3 0h1m3 0h1m84 0h1M70 198.5h1M502 199.5h1m12 0h1M150 200.5h1m1 0h1m1 0h2m30 0h1m16 0h1m20 0h2m21 0h1m40 0h1m5 0h2m2 0h1m14 0h1m7 0h1m7 0h3m1 0h1m12 0h2m5 0h1m11 0h1m3 0h1m1 0h1m7 0h1m9 0h1m15 0h2m1 0h1m17 0h1m1 0h1m6 0h1m31 0h1m6 0h2m2 0h1m31 0h3m16 0h1m8 0h2m4 0h1m4 0h3m3 0h1m2 0h1m12 0h1m7 0h1m1 0h1m6 0h2M97 201.5h1M193 203.5h1m39 0h1m73 0h1m16 0h1m10 0h2m17 0h2m29 0h1m22 0h1m23 0h1m4 0h1m36 0h1m8 0h1m5 0h1m96 0h2M152 204.5h1m3 0h1m19 0h1m38 0h1m35 0h1m164 0h1m12 0h1m10 0h5m22 0h1m19 0h1m9 0h1m1 0h1m12 0h1m7 0h2m5 0h1m4 0h1m9 0h1m3 0h2m8 0h1m9 0h1m10 0h1m1 0h1m9 0h3M70 205.5h1m81 0h1m3 0h1m21 0h1m19 0h2m10 0h1m10 0h1m4 0h1m10 0h1m1 0h1m7 0h1m16 0h1m23 0h1m5 0h1m12 0h2m20 0h1m6 0h1m16 0h2m3 0h1m7 0h1m1 0h1m11 0h1m12 0h1m12 0h1m4 0h1m4 0h1m7 0h1m5 0h1m4 0h1m5 0h1m2 0h1m8 0h1m2 0h1m5 0h1m2 0h1m2 0h1m5 0h1m2 0h1m9 0h1m1 0h1m42 0h1m52 0h5M152 206.5h1m14 0h1m10 0h1m8 0h1m27 0h1m7 0h1m1 0h1m14 0h1m10 0h1m8 0h2m2 0h1m29 0h1m2 0h1m2 0h1m24 0h1m27 0h1m3 0h1m11 0h1m12 0h1m2 0h1m20 0h1m9 0h1m12 0h2m13 0h1m8 0h1m35 0h1m54 0h1m10 0h1m30 0h1m1 0h2m1 0h1M139 207.5h1m169 0h1m98 0h1m27 0h2M139 208.5h1M163 209.5h1m10 0h1m1 0h1m26 0h1m6 0h1m14 0h1m38 0h1m35 0h1m21 0h1m30 0h1m15 0h2m22 0h1m24 0h1m8 0h4m19 0h1m17 0h1m7 0h1m1 0h1m9 0h1m7 0h1m69 0h1m18 0h1m2 0h3M150 210.5h1m12 0h1m45 0h1m12 0h1m22 0h1m84 0h1m23 0h1m5 0h1m41 0h1m1 0h1m57 0h1m11 0h1m14 0h1M0 211.5h1m69 0h1m119 0h1m6 0h2m13 0h1m24 0h1m7 0h1m76 0h1m6 0h2m23 0h1m11 0h1m1 0h1m219 0h1M97 212.5h1m90 0h1m2 0h1m7 0h1m3 0h2m4 0h2m1 0h1m9 0h1m2 0h1m13 0h2m6 0h1m12 0h1m3 0h1m6 0h1m9 0h1m12 0h1m5 0h1m6 0h2m5 0h1m10 0h1m4 0h1m5 0h1m35 0h1m12 0h1m3 0h1m1 0h1m4 0h1m20 0h2m8 0h1m3 0h1m3 0h1m1 0h1m27 0h2m13 0h1m3 0h1m2 0h1m98 0h3m1 0h1M163 213.5h1m11 0h1m23 0h1m4 0h1m20 0h1m14 0h1m92 0h2m33 0h1m9 0h1m3 0h1m1 0h1m21 0h1m47 0h1m32 0h1m9 0h2m2 0h1m3 0h1m11 0h1m11 0h1m3 0h2m6 0h2m27 0h1m1 0h1m7 0h2m1 0h3m1 0h3m1 0h1M103 214.5h1M179 215.5h1m23 0h1m9 0h1m31 0h1m14 0h1m27 0h1m18 0h1m25 0h1m10 0h1m1 0h1m11 0h1m21 0h1m22 0h1m10 0h2m74 0h1m2 0h1m91 0h1M153 216.5h1m26 0h1m19 0h1m1 0h1m42 0h1m61 0h1m40 0h1m16 0h1m5 0h1m43 0h1m3 0h2m168 0h1M8 218.5h1m2 0h1m32 0h1m64 0h1m78 0h1m8 0h1M11 219.5h1m221 0h1m45 0h2m2 0h1m10 0h1m14 0h1m4 0h1m52 0h1m28 0h1m78 0h1M162 222.5h1m39 0h1m32 0h1m12 0h1m31 0h1m60 0h1m49 0h1m44 0h1m25 0h1m1 0h1m125 0h1M264 223.5h1m5 0h1m8 0h1m42 0h1m61 0h1m26 0h1M322 224.5h1m10 0h1m14 0h1m70 0h1m8 0h1m2 0h1m7 0h1m2 0h2m18 0h1m4 0h1m10 0h1m24 0h1m24 0h1m4 0h1m40 0h1M152 228.5h1m12 0h3m24 0h1m16 0h1m11 0h1m48 0h1m5 0h1m6 0h1m2 0h1m24 0h1m12 0h1m12 0h1m75 0h1m3 0h1m8 0h1m4 0h2m9 0h3m5 0h2m15 0h1m7 0h2M436 229.5h1m62 0h1m17 0h1m5 0h2m24 0h1m5 0h1m17 0h1m2 0h1m7 0h1m4 0h1M1 231.5h1m93 0h1m1 0h1m398 0h1m1 0h3m4 0h1m1 0h1m1 0h1m7 0h1m1 0h1m9 0h3m1 0h1m9 0h1m12 0h2m1 0h1m5 0h1m11 0h1m1 0h1m2 0h1m3 0h1m1 0h2m1 0h1M204 233.5h1m6 0h1m37 0h1m71 0h1m108 0h1m31 0h3m14 0h1m12 0h1m4 0h1m7 0h1m1 0h1m9 0h1m3 0h1m10 0h1m9 0h1m22 0h1m12 0h1m1 0h1m4 0h1m3 0h1m1 0h1M106 234.5h1m44 0h2m13 0h1m19 0h1m1 0h1m13 0h1m8 0h1m10 0h1m17 0h1m4 0h1m53 0h1m26 0h1m1 0h1m8 0h1m10 0h1m19 0h1m2 0h1m5 0h1m29 0h1m18 0h1m12 0h1m1 0h1m1 0h1m144 0h1M152 235.5h1m13 0h1m18 0h1m7 0h1m4 0h2m11 0h1m25 0h1m1 0h1m8 0h1m2 0h1m10 0h1m10 0h1m9 0h1m1 0h1m2 0h1m5 0h1m18 0h1m15 0h1m1 0h1m21 0h1m13 0h1m9 0h1m1 0h1m27 0h1m14 0h1m2 0h1m17 0h1m8 0h1m9 0h1m2 0h1m2 0h1m5 0h2m109 0h1M149 236.5h1m1 0h1m10 0h1m4 0h1m9 0h1m7 0h1m2 0h1m2 0h3m5 0h1m10 0h1m2 0h1m22 0h1m1 0h1m6 0h1m5 0h1m21 0h1m10 0h2m8 0h1m1 0h2m9 0h2m21 0h1m6 0h1m13 0h1m3 0h1m4 0h1m10 0h1m6 0h1m2 0h1m7 0h1m5 0h1m8 0h1m2 0h1m4 0h2m15 0h1m23 0h1m8 0h1m2 0h1m12 0h1m1 0h1m38 0h1m66 0h6M70 237.5h1m80 0h1m10 0h1m3 0h2m7 0h1m1 0h1m22 0h1m9 0h1m1 0h1m8 0h1m14 0h1m2 0h1m20 0h1m24 0h1m1 0h1m10 0h2m45 0h4m6 0h1m1 0h1m2 0h1m6 0h2m1 0h1m7 0h1m2 0h1m11 0h1m1 0h1m3 0h1m2 0h1m5 0h1m3 0h1m14 0h1m3 0h2m7 0h1m3 0h1m10 0h1m8 0h1m13 0h1m8 0h1m1 0h1m95 0h6M106 238.5h1M162 239.5h1m4 0h1m9 0h1m15 0h1m6 0h1m48 0h1m1 0h1m8 0h1m15 0h1m6 0h1m3 0h2m38 0h1m17 0h1m3 0h1m42 0h1m35 0h1m2 0h2m2 0h1m1 0h1m12 0h1m4 0h2m8 0h1m2 0h1m6 0h1m2 0h1m1 0h1m4 0h2m3 0h2m13 0h1m79 0h5M193 240.5h1m15 0h1m26 0h1m46 0h1m14 0h2m25 0h1m1 0h1m1 0h2m14 0h1m5 0h1m40 0h1m10 0h1m22 0h1m1 0h1m6 0h1m2 0h1m50 0h1M108 241.5h1M19 242.5h1m178 0h1m1 0h1m8 0h1m35 0h1m6 0h1m32 0h1m11 0h1m46 0h1m10 0h1m52 0h1m5 0h1m170 0h2m1 0h2M70 243.5h1m122 0h1m42 0h1m8 0h1m27 0h1m39 0h1m21 0h2m12 0h1m49 0h1m8 0h1m5 0h1m11 0h1m79 0h1M326 244.5h1m26 0h3m11 0h1m3 0h1m18 0h1m17 0h1m177 0h1m2 0h1M139 245.5h1m11 0h3m2 0h1m7 0h1m1 0h1m13 0h1m8 0h1m9 0h2m32 0h3m9 0h1m3 0h1m1 0h1m21 0h1m3 0h1m5 0h1m15 0h1m6 0h1m21 0h1m12 0h2m4 0h1m3 0h1m5 0h1m2 0h1m5 0h1m11 0h3m2 0h1m18 0h1m23 0h1m1 0h1m7 0h1m2 0h2m29 0h1m18 0h1m96 0h1M35 246.5h1m376 0h1M70 248.5h1m83 0h1m9 0h2m9 0h1m1 0h1m7 0h1m4 0h1m1 0h1m4 0h1m2 0h3m6 0h2m1 0h1m36 0h1m1 0h2m7 0h1m13 0h1m2 0h1m10 0h1m7 0h1m1 0h1m9 0h1m1 0h4m9 0h2m11 0h2m4 0h1m11 0h1m13 0h1m2 0h1m21 0h1m5 0h1m3 0h1m4 0h1m4 0h1m3 0h1m2 0h1m2 0h1m4 0h1m3 0h1m5 0h2m2 0h1m7 0h1m12 0h1m26 0h1m97 0h2M150 249.5h1m3 0h1m7 0h1m1 0h1m1 0h1m20 0h1m3 0h2m5 0h1m3 0h1m7 0h1m1 0h3m6 0h1m3 0h2m9 0h1m8 0h1m4 0h1m8 0h3m12 0h1m2 0h1m18 0h1m2 0h1m11 0h1m1 0h1m7 0h1m9 0h1m3 0h1m4 0h1m2 0h2m2 0h1m5 0h2m2 0h1m11 0h1m1 0h1m7 0h1m12 0h1m24 0h1m14 0h1m10 0h1m9 0h1m1 0h1m6 0h2m1 0h1m20 0h1m2 0h2m1 0h1m95 0h2m1 0h1M70 250.5h1m114 0h1m3 0h1m20 0h1m1 0h1m9 0h1m47 0h1m36 0h2m31 0h2m48 0h1m22 0h1m2 0h1m6 0h1m11 0h1m2 0h2m1 0h1m1 0h1m19 0h1m1 0h1m64 0h1m54 0h2m1 0h2m1 0h1M0 251.5h1m150 0h1m15 0h1m6 0h2m14 0h1m21 0h1m2 0h1m7 0h1m2 0h1m9 0h1m25 0h1m10 0h2m1 0h1m21 0h1m1 0h1m43 0h1m2 0h1m8 0h1m10 0h1m14 0h1m58 0h2m10 0h1m1 0h1m19 0h1m13 0h2m13 0h4m35 0h2m32 0h1m12 0h2M150 252.5h1m5 0h1m5 0h1m1 0h1m20 0h1m5 0h1m12 0h1m20 0h2m6 0h1m11 0h1m3 0h1m2 0h1m6 0h1m15 0h1m3 0h1m3 0h1m10 0h1m2 0h1m2 0h1m7 0h1m14 0h1m6 0h1m4 0h2m5 0h1m25 0h1m12 0h1m24 0h1m4 0h1m1 0h1m3 0h1m1 0h1m6 0h1m5 0h1m4 0h3m1 0h1m10 0h1m2 0h1m6 0h1m1 0h1m3 0h1m18 0h1m1 0h1m2 0h1m12 0h1m23 0h4m1 0h1m33 0h1m16 0h5M249 254.5h1m9 0h2m35 0h3m7 0h1m1 0h1m33 0h1m46 0h1m42 0h1m4 0h1m24 0h2m21 0h1m99 0h1m3 0h1M154 255.5h1m9 0h2m9 0h1m3 0h1m9 0h3m6 0h4m12 0h1m11 0h2m5 0h1m6 0h1m11 0h1m6 0h1m4 0h1m5 0h1m29 0h1m21 0h1m1 0h1m9 0h1m6 0h1m14 0h1m9 0h2m3 0h1m19 0h1m12 0h1m24 0h2m6 0h2m4 0h2m11 0h1m5 0h1m45 0h1m63 0h1m12 0h1m4 0h2M0 256.5h1M233 257.5h1M97 258.5h1m56 0h1m10 0h1m1 0h1m7 0h1m2 0h1m6 0h1m2 0h5m21 0h1m19 0h1m2 0h2m1 0h1m10 0h1m10 0h1m1 0h1m10 0h1m5 0h1m13 0h1m1 0h1m1 0h2m10 0h1m12 0h2m4 0h1m4 0h1m8 0h1m8 0h1m1 0h1m10 0h1m12 0h1m22 0h2m12 0h1m2 0h2m5 0h1m12 0h1m1 0h1m1 0h3m4 0h1m2 0h1m8 0h1m15 0h2m6 0h1m2 0h1m1 0h3m91 0h2m2 0h2M0 259.5h1m96 0h1m52 0h1m15 0h1m23 0h1m8 0h1m14 0h1m1 0h1m4 0h1m3 0h1m8 0h1m3 0h1m1 0h1m8 0h1m20 0h1m2 0h1m1 0h1m12 0h1m8 0h1m1 0h2m7 0h1m24 0h2m1 0h1m29 0h1m24 0h3m2 0h1m20 0h1m8 0h1m2 0h1m11 0h1m2 0h1m11 0h1m15 0h1m1 0h2m3 0h1m9 0h1m3 0h1m93 0h2m1 0h1M0 260.5h1m69 0h1m175 0h1m198 0h1m142 0h1"/><path stroke="#759fe8" d="M150 1.5h1m4 0h1m8 0h2m1 0h1m18 0h1m3 0h2m1 0h1m5 0h2m9 0h2m9 0h1m1 0h1m9 0h2m1 0h2m7 0h1m1 0h1m1 0h2m9 0h1m18 0h1m4 0h2m1 0h2m17 0h1m2 0h2m1 0h1m13 0h1m7 0h1m6 0h1m4 0h1m1 0h1m4 0h3m2 0h1m8 0h2m11 0h1m2 0h1m5 0h1m6 0h1m8 0h2m4 0h1m3 0h1m2 0h1m1 0h1m5 0h1m3 0h1m4 0h1m5 0h1m10 0h1m3 0h1m6 0h1m2 0h1m1 0h1m2 0h1m16 0h1m21 0h1m6 0h1m1 0h1m9 0h1m2 0h1m9 0h1m23 0h1m13 0h1m7 0h1m1 0h2M151 2.5h1m26 0h1m10 0h3m1 0h1m6 0h1m32 0h1m1 0h1m10 0h3m1 0h1m22 0h1m14 0h1m6 0h1m3 0h1m1 0h1m3 0h1m1 0h1m2 0h1m1 0h1m8 0h2m2 0h1m5 0h1m11 0h1m11 0h1m1 0h1m31 0h1m11 0h1m6 0h1m2 0h1m1 0h1m7 0h1m9 0h1m3 0h1m16 0h1m13 0h1m4 0h1m2 0h2m112 0h1m1 0h2M30 3.5h1m121 0h1m11 0h1m3 0h1m16 0h1m2 0h1m1 0h2m6 0h1m1 0h1m1 0h2m7 0h1m2 0h1m7 0h1m10 0h2m1 0h2m2 0h1m5 0h1m1 0h1m1 0h1m19 0h1m8 0h1m1 0h2m5 0h1m9 0h2m5 0h1m2 0h5m8 0h2m2 0h1m5 0h1m5 0h1m5 0h1m7 0h1m3 0h1m2 0h1m1 0h1m31 0h1m9 0h1m4 0h2m28 0h1m5 0h2m5 0h1m2 0h1m2 0h1m6 0h1m2 0h1m13 0h1m5 0h1m50 0h1m3 0h2m47 0h1M163 4.5h1m1 0h2m11 0h2m10 0h1m12 0h1m44 0h1m14 0h1m12 0h1m29 0h1m26 0h1m13 0h1m9 0h4m5 0h1m3 0h1m34 0h3m9 0h1m2 0h1m9 0h2m3 0h1m1 0h1m12 0h1m5 0h1m5 0h3m9 0h1m1 0h1m9 0h2m4 0h1m62 0h1m1 0h1m20 0h1m6 0h2m3 0h2M235 6.5h1m86 0h1m6 0h1m6 0h1m11 0h1m5 0h1m15 0h1m18 0h2m11 0h1m1 0h1m6 0h1m3 0h1m4 0h1m6 0h1m7 0h1m2 0h2m4 0h1m5 0h3m10 0h1m12 0h1m8 0h1m3 0h1m70 0h1m19 0h1m4 0h2m3 0h2M187 7.5h1m86 0h1m19 0h1m1 0h1m92 0h1m11 0h1m15 0h1m1 0h1m56 0h1m108 0h4m1 0h1M154 8.5h1m32 0h1m5 0h1m4 0h2m45 0h1m24 0h1m3 0h2m1 0h1m1 0h1m3 0h1m4 0h1m5 0h3m18 0h1m13 0h1m1 0h1m1 0h1m15 0h1m3 0h1m12 0h1m3 0h2m17 0h1m45 0h4m5 0h1m45 0h3m92 0h2m1 0h1m1 0h2M349 9.5h1m237 0h1m1 0h1M237 10.5h1m2 0h1m195 0h1m150 0h4M152 14.5h1m117 0h1m4 0h1m45 0h2m6 0h1m1 0h1m4 0h1m18 0h2m3 0h1m4 0h1m16 0h2m19 0h1m1 0h1m13 0h1m5 0h1m10 0h1m4 0h1m10 0h1m1 0h1m32 0h1m4 0h1m62 0h1m31 0h2M247 15.5h2m85 0h1m4 0h1m5 0h1m10 0h1m12 0h1m26 0h1m22 0h1m16 0h1m1 0h2m1 0h1m10 0h1m24 0h2m1 0h1m9 0h2m1 0h1m4 0h3m6 0h1m2 0h1m7 0h1m11 0h1m1 0h1m12 0h1m15 0h1m4 0h1m6 0h1m3 0h1m10 0h1m2 0h1M247 16.5h2m27 0h1m17 0h2m42 0h1m57 0h1m8 0h1m13 0h1m5 0h1m1 0h1m24 0h1m24 0h1m2 0h1m9 0h2m6 0h1m9 0h1m2 0h2m4 0h4m10 0h1m1 0h1m8 0h1m8 0h1m1 0h1m3 0h1m3 0h1m1 0h5m13 0h1m6 0h1M321 19.5h1m131 0h1m23 0h1m23 0h1m1 0h2m14 0h1m2 0h1m1 0h1m1 0h1m2 0h3m2 0h1m4 0h2m3 0h1m6 0h1m1 0h3m2 0h1m10 0h1m1 0h2m2 0h2m3 0h1m1 0h2M334 20.5h1m37 0h1m56 0h1m25 0h1m14 0h1m18 0h2m7 0h2m1 0h1m1 0h1m1 0h1m3 0h1m3 0h1m5 0h3m1 0h1m3 0h3m2 0h1m1 0h3m2 0h1m5 0h3m1 0h1m7 0h1m1 0h1m6 0h1m1 0h3m1 0h1m3 0h1m3 0h1m1 0h1M270 21.5h1m5 0h1m7 0h1m36 0h5m4 0h2m16 0h1m9 0h1m6 0h1m5 0h1m19 0h1m4 0h1m8 0h1m26 0h1m8 0h1m9 0h2m2 0h2m22 0h2m17 0h2m3 0h1m5 0h1m11 0h1m8 0h1m1 0h3m7 0h3m1 0h1m3 0h1m3 0h2m1 0h1m20 0h1m12 0h1M5 22.5h1m24 0h1m83 0h1m48 0h1m62 0h1m11 0h1m9 0h1m23 0h1m3 0h1m20 0h1m24 0h1m8 0h1m2 0h1m6 0h1m1 0h1m14 0h1m10 0h2m23 0h1m1 0h1m8 0h1m11 0h1m35 0h1m25 0h2m16 0h1m1 0h1m9 0h1m7 0h2m2 0h1m16 0h1m4 0h2m2 0h2m17 0h3m1 0h1m1 0h1M5 23.5h1m108 0h1m49 0h1m20 0h1m6 0h2m15 0h1m39 0h1m48 0h1m39 0h2m11 0h1m1 0h3m28 0h1m17 0h1m8 0h1m1 0h1m1 0h1m8 0h1m2 0h1m16 0h1m7 0h1m10 0h2m12 0h1m2 0h1m12 0h1m93 0h5M70 24.5h1m69 0h1M70 25.5h1m49 0h1m46 0h1m29 0h1m13 0h1m2 0h1m1 0h1m18 0h1m10 0h1m14 0h1m2 0h1m5 0h1m1 0h1m5 0h1m6 0h1m1 0h2m9 0h1m12 0h1m27 0h2m10 0h1m1 0h1m1 0h1m1 0h1m10 0h1m16 0h1m8 0h1m21 0h1m9 0h1m12 0h1m4 0h1m44 0h2m16 0h1m79 0h1m3 0h1M70 26.5h1m69 0h1m9 0h1m1 0h1m14 0h1m25 0h1m8 0h1m1 0h1m16 0h1m2 0h1m49 0h1m3 0h1m4 0h1m3 0h2m6 0h4m16 0h1m13 0h1m1 0h1m7 0h1m2 0h1m1 0h1m2 0h1m3 0h1m13 0h2m51 0h1m18 0h1m6 0h1m9 0h1m1 0h1m18 0h1m10 0h1m1 0h3m94 0h1m1 0h2m1 0h2M79 27.5h1m72 0h1m11 0h1m11 0h1m2 0h1m5 0h1m2 0h1m2 0h1m1 0h1m8 0h1m1 0h1m4 0h1m3 0h1m1 0h2m6 0h2m2 0h1m6 0h1m1 0h2m7 0h2m1 0h2m11 0h1m2 0h1m5 0h1m6 0h2m5 0h2m10 0h1m1 0h3m9 0h2m11 0h4m29 0h1m46 0h1m10 0h1m3 0h1m1 0h1m66 0h1m2 0h1m6 0h2m88 0h1m1 0h3M120 28.5h1M42 29.5h1m36 0h1m70 0h1m3 0h1m7 0h1m29 0h1m9 0h2m12 0h1m23 0h1m29 0h1m1 0h1m15 0h1m17 0h1m6 0h1m24 0h1m247 0h3m1 0h1M42 30.5h1m27 0h1m79 0h1m34 0h1m14 0h1m1 0h1M42 31.5h1m108 0h1m10 0h1m2 0h1m2 0h1m7 0h2m1 0h1m5 0h1m2 0h1m8 0h1m2 0h2m9 0h3m2 0h1m4 0h1m1 0h1m1 0h2m11 0h3m8 0h1m11 0h1m10 0h1m6 0h1m3 0h2m3 0h1m12 0h1m4 0h1m2 0h3m11 0h3m9 0h2m2 0h1m2 0h2m4 0h1m4 0h1m3 0h1m1 0h1m6 0h1m18 0h1m4 0h3m14 0h2m4 0h1m1 0h1m16 0h1m6 0h2m3 0h1m23 0h1m16 0h2m5 0h1m92 0h4m1 0h2M42 32.5h1m27 0h1m81 0h3m1 0h1m6 0h1m1 0h1m1 0h1m8 0h1m9 0h1m3 0h1m6 0h1m4 0h2m6 0h1m1 0h3m6 0h1m1 0h1m10 0h2m1 0h2m6 0h1m1 0h2m15 0h1m5 0h1m4 0h2m21 0h1m1 0h1m8 0h1m19 0h1m4 0h1m7 0h2m9 0h1m3 0h1m23 0h1m1 0h1m6 0h1m10 0h1m5 0h2m30 0h1m145 0h1m1 0h4M149 33.5h1m1 0h1m10 0h2m12 0h1m11 0h1m1 0h1m18 0h1m2 0h1m1 0h2m5 0h1m1 0h2m11 0h1m3 0h1m8 0h1m14 0h1m6 0h1m5 0h1m1 0h1m18 0h1m9 0h1m1 0h1m18 0h1m27 0h1m53 0h1m39 0h1m138 0h1M42 34.5h1m107 0h3m9 0h1m2 0h1m19 0h1m5 0h1m1 0h1m8 0h1m6 0h2m5 0h1m4 0h1m1 0h1m13 0h2m6 0h1m2 0h1m13 0h3m7 0h1m9 0h1m12 0h2m2 0h1m6 0h1m1 0h1m1 0h1m18 0h1m27 0h1m8 0h1m122 0h1m97 0h3M70 35.5h1m514 0h4M33 36.5h1m8 0h1m39 0h1m169 0h1m26 0h1m2 0h1m95 0h1m34 0h1m29 0h1m141 0h2m2 0h1m1 0h1M82 37.5h1m37 0h1m30 0h1m11 0h1m21 0h1m7 0h1m7 0h1m43 0h1m107 0h1m232 0h2m2 0h2M70 38.5h1m11 0h1m66 0h1m3 0h1m43 0h1m6 0h1m5 0h1m3 0h1m18 0h1m29 0h1m8 0h1m1 0h1m46 0h1m2 0h2m11 0h1m22 0h1m46 0h2m88 0h1m80 0h1m7 0h1m1 0h1m1 0h1M322 39.5h1m36 0h1m9 0h1M120 40.5h1M77 41.5h1m18 0h1m23 0h1m46 0h1m56 0h1m24 0h1m62 0h1m9 0h1m2 0h1m7 0h1m10 0h3m3 0h2m6 0h3m8 0h1m8 0h2m10 0h1m2 0h1m1 0h2m10 0h1m3 0h2m4 0h2m1 0h1m4 0h1m9 0h1m1 0h1m2 0h1m1 0h1m8 0h2m22 0h1m4 0h1m6 0h3m2 0h1m12 0h1m3 0h1m7 0h1m14 0h1m5 0h1m19 0h1m18 0h2m9 0h2M70 42.5h1m25 0h1m23 0h1m45 0h1m9 0h2m2 0h1m10 0h1m6 0h1m2 0h1m11 0h1m15 0h1m17 0h1m1 0h1m1 0h1m10 0h3m8 0h1m22 0h1m12 0h1m1 0h2m18 0h1m18 0h1m5 0h1m10 0h1m1 0h1m7 0h4m3 0h1m8 0h1m5 0h1m1 0h1m1 0h1m3 0h1m3 0h1m2 0h2m1 0h1m2 0h1m4 0h1m15 0h1m2 0h1m22 0h1m17 0h1m2 0h1m29 0h1m66 0h4m2 0h1M77 43.5h1m102 0h1m4 0h1m37 0h2m15 0h1m6 0h1m15 0h1m23 0h1m8 0h1m13 0h1m15 0h1m3 0h1m6 0h1m27 0h1m1 0h1m1 0h1m31 0h1m9 0h2m3 0h1m3 0h1m6 0h1m3 0h1m5 0h1m2 0h1m2 0h1m6 0h1m1 0h1m35 0h3m6 0h2m8 0h1m77 0h2m1 0h1M70 44.5h1m215 0h1m12 0h1m11 0h1m83 0h1m29 0h1m2 0h2m11 0h4m9 0h1m8 0h1m1 0h1m1 0h1m8 0h2m2 0h1m5 0h1m1 0h1m1 0h1m6 0h2m1 0h1m1 0h1m5 0h3m1 0h2m4 0h1m2 0h2m2 0h1m4 0h2m4 0h1m2 0h1m3 0h2m1 0h1m8 0h1m3 0h1m15 0h2m1 0h1m1 0h1m4 0h1M70 45.5h1m191 0h1m23 0h1m24 0h2m8 0h1m3 0h1m9 0h1m7 0h5m8 0h1m8 0h1m3 0h1m2 0h1m8 0h1m23 0h1m7 0h1m3 0h1m24 0h1m12 0h1m20 0h1m2 0h1m9 0h1m10 0h2m7 0h1m7 0h2m11 0h2m4 0h1m5 0h2m3 0h1m5 0h1m1 0h2m4 0h1m4 0h1m3 0h1m1 0h1m6 0h1m1 0h1m4 0h1M163 46.5h1m26 0h1m2 0h1m16 0h1m3 0h1m45 0h1m1 0h1m16 0h1m17 0h1m1 0h1m25 0h1m7 0h1m2 0h1m6 0h4m13 0h1m4 0h2m2 0h1m2 0h1m5 0h2m1 0h1m2 0h1m14 0h1m7 0h1m8 0h1m25 0h1m21 0h1m15 0h1m8 0h2m7 0h1m87 0h1M275 47.5h1m235 0h1m1 0h1m11 0h3m10 0h1m11 0h3m5 0h1m1 0h1m10 0h1m2 0h3M168 48.5h1m7 0h1m33 0h1m14 0h1m70 0h1m95 0h1m81 0h1m2 0h1m25 0h1m4 0h1m1 0h1m1 0h1m8 0h1m1 0h1m5 0h1m5 0h1m6 0h1m1 0h1m2 0h1m4 0h1m1 0h1m2 0h2m1 0h2m3 0h2m3 0h1m1 0h1m5 0h1m1 0h1m1 0h1m1 0h1m1 0h1M70 49.5h1m97 0h1m11 0h1m94 0h1m91 0h1m70 0h1m1 0h2m20 0h1m1 0h1m1 0h1m12 0h1m12 0h1m10 0h1m5 0h2m1 0h1m4 0h2m7 0h1m2 0h4m5 0h1m3 0h1m9 0h4m1 0h1m1 0h1m4 0h3m1 0h1m1 0h1m7 0h1m3 0h1m1 0h1m6 0h1M193 50.5h1m78 0h1m61 0h1m7 0h1m72 0h1m28 0h1m53 0h1m86 0h3m2 0h1M223 53.5h1m27 0h1m34 0h1m61 0h1m17 0h1m52 0h1m6 0h1m53 0h1m104 0h1m1 0h1m2 0h1M162 55.5h1m5 0h1m9 0h1m10 0h1m8 0h1m60 0h1m49 0h2m28 0h1m31 0h1m7 0h1m14 0h1m25 0h1m7 0h1m1 0h1m1 0h1m2 0h1m16 0h1m10 0h1m1 0h1m22 0h1m3 0h1m8 0h1m40 0h1m25 0h2m15 0h1m1 0h1m1 0h3M168 56.5h1m8 0h1m2 0h1m7 0h1m9 0h1m11 0h1m1 0h1m22 0h2m22 0h2m12 0h2m13 0h1m9 0h1m7 0h1m36 0h2m3 0h1m5 0h1m16 0h1m5 0h1m1 0h1m4 0h1m6 0h1m2 0h1m4 0h1m6 0h1m10 0h1m14 0h1m21 0h1m30 0h1m12 0h1m89 0h1m2 0h1M189 58.5h2m1 0h1m42 0h1m40 0h1m71 0h1m9 0h1m44 0h1m183 0h2m1 0h2M151 59.5h1m1 0h1m8 0h2m13 0h1m15 0h1m7 0h2m1 0h1m10 0h1m9 0h2m7 0h1m1 0h1m9 0h1m12 0h2m9 0h2m1 0h2m6 0h1m12 0h1m10 0h3m17 0h1m3 0h1m1 0h1m1 0h1m4 0h1m2 0h4m10 0h1m9 0h1m4 0h1m20 0h1m24 0h1m8 0h1m14 0h1m26 0h1m16 0h1m22 0h1m11 0h1m12 0h1m21 0h1m30 0h2m1 0h1m1 0h1M156 60.5h1m22 0h1m7 0h2m3 0h1m9 0h1m1 0h1m4 0h1m3 0h1m8 0h1m2 0h1m10 0h1m8 0h2m2 0h1m2 0h1m7 0h1m1 0h1m10 0h1m1 0h1m10 0h1m1 0h1m5 0h1m1 0h1m8 0h2m4 0h1m3 0h1m15 0h2m1 0h1m8 0h3m1 0h2m4 0h2m10 0h2m1 0h1m9 0h3m12 0h1m11 0h1m5 0h1m8 0h1m4 0h7m9 0h1m8 0h1m11 0h1m4 0h1m8 0h1m8 0h1m3 0h1m2 0h1m6 0h1m13 0h1m1 0h1m3 0h2m2 0h1m9 0h3m9 0h1m9 0h3m3 0h1m2 0h2m23 0h1M190 61.5h1m6 0h1m35 0h1m1 0h1m15 0h1m7 0h1m26 0h1m1 0h1m20 0h2m22 0h1m4 0h1m2 0h1m1 0h1m9 0h1m15 0h1m9 0h1m36 0h1m9 0h1m1 0h1m10 0h1m35 0h1m25 0h1m84 0h1m2 0h2M275 62.5h1m45 0h1m22 0h2m36 0h1m70 0h2m12 0h1m16 0h1m2 0h1m16 0h1m5 0h3m4 0h1m1 0h2m1 0h2m10 0h1m8 0h3m2 0h3m2 0h1m5 0h1m14 0h2m3 0h2M0 63.5h1m209 0h1m4 0h1m11 0h1m23 0h1m34 0h1m27 0h1m25 0h1m145 0h1m1 0h1m8 0h1m87 0h1m3 0h1M0 64.5h1m95 0h1m226 0h1m196 0h4m4 0h1m6 0h1m2 0h3m2 0h1m2 0h2m2 0h1m2 0h1m3 0h3m1 0h1m2 0h1m4 0h1m4 0h1m1 0h1m6 0h1M0 65.5h1m428 0h1m11 0h2m1 0h1m67 0h1m1 0h2m5 0h1m1 0h1m1 0h1m1 0h3m1 0h1m1 0h1m2 0h2m3 0h2m4 0h2m4 0h3m8 0h1m6 0h1m5 0h2m2 0h2M359 66.5h1m5 0h2m2 0h1m12 0h1m58 0h1m1 0h1m48 0h1m15 0h1m2 0h2m1 0h1m4 0h1m3 0h1m2 0h2m6 0h1m7 0h1m2 0h1m8 0h1m8 0h2m5 0h2m5 0h1m1 0h2m1 0h1m6 0h2M152 67.5h1m2 0h1m41 0h2m23 0h1m2 0h1m12 0h1m12 0h1m57 0h1m13 0h1m8 0h1m7 0h1m18 0h1m7 0h1m37 0h1m6 0h1m3 0h2m2 0h1m5 0h1m8 0h1m9 0h1m10 0h1m10 0h1m19 0h1m2 0h1m6 0h1m1 0h1m5 0h1m3 0h2m77 0h2m1 0h1M510 68.5h2m7 0h2m3 0h3m1 0h1m4 0h1m7 0h2m1 0h1m1 0h3m4 0h2m1 0h1m1 0h1m2 0h3m1 0h3m6 0h2m3 0h2M516 69.5h1m3 0h2m1 0h1m1 0h2m7 0h1m4 0h1m1 0h1m2 0h3m6 0h3m6 0h2m9 0h1m1 0h1m4 0h1m2 0h1M1 71.5h1m30 0h1m37 0h1M1 72.5h1m30 0h1m10 0h1m107 0h2m33 0h1m1 0h1m9 0h1m1 0h1m1 0h1m32 0h1m48 0h1m13 0h1m8 0h1m2 0h1m38 0h1m4 0h1m1 0h1m3 0h1m4 0h1m17 0h1m6 0h1m44 0h1m3 0h1m16 0h1m5 0h1m24 0h1m99 0h1m1 0h2M162 73.5h1m5 0h1m6 0h1m9 0h2m14 0h1m8 0h1m4 0h1m6 0h1m3 0h2m5 0h1m4 0h1m1 0h1m7 0h2m1 0h1m12 0h1m8 0h2m1 0h2m19 0h1m1 0h1m6 0h1m4 0h1m11 0h1m11 0h1m7 0h1m2 0h1m22 0h1m14 0h1m20 0h1m5 0h1m3 0h1m11 0h1m1 0h2m9 0h1m1 0h1m10 0h2m34 0h2m8 0h1m8 0h5m3 0h3m1 0h1m2 0h1m2 0h2m1 0h2m4 0h1m1 0h1m2 0h1m2 0h3m9 0h1m1 0h1m2 0h1m5 0h1m2 0h1m8 0h1m2 0h1m5 0h1m1 0h1M70 74.5h1m73 0h1m30 0h2m12 0h2m35 0h1m13 0h1m10 0h1m48 0h1m5 0h2m51 0h1m67 0h1m2 0h1m9 0h1m13 0h1m44 0h2m4 0h1m4 0h2m2 0h2m1 0h1m3 0h1m3 0h1m1 0h2m3 0h1m1 0h1m1 0h1m14 0h2m3 0h1m3 0h1m4 0h2m3 0h4m3 0h1m6 0h1m4 0h1M150 75.5h2m1 0h1m2 0h1m11 0h1m6 0h1m10 0h1m1 0h2m7 0h2m4 0h1m6 0h1m23 0h1m2 0h1m7 0h1m4 0h1m8 0h2m2 0h1m10 0h1m2 0h1m7 0h1m13 0h1m11 0h2m8 0h1m12 0h2m4 0h1m1 0h1m13 0h1m8 0h2m3 0h1m7 0h1m15 0h2m20 0h1m1 0h1m6 0h1m9 0h1m1 0h3m16 0h1m5 0h1m12 0h1m10 0h1m1 0h1m18 0h1m77 0h3m1 0h2M70 76.5h1m121 0h1m10 0h1m10 0h1m70 0h1m26 0h1m29 0h1m1 0h1m20 0h1m29 0h1m10 0h1m70 0h1m8 0h1m1 0h1m7 0h2m1 0h1m1 0h1m10 0h2m1 0h3m2 0h2m7 0h1m1 0h2m3 0h2m3 0h1m3 0h3m4 0h1m2 0h5m4 0h2m5 0h2M19 77.5h1m10 0h1m6 0h1m32 0h1m120 0h1m107 0h2m57 0h1m9 0h1m48 0h1m6 0h1m4 0h1m1 0h1m4 0h2m14 0h1m3 0h1m5 0h1m5 0h1m5 0h1m1 0h3m7 0h1m12 0h1m9 0h1m2 0h1m2 0h1m1 0h5m7 0h1m4 0h2m6 0h1m23 0h2m10 0h1m8 0h1m2 0h1M5 78.5h1m13 0h1m10 0h1m3 0h1m2 0h1m10 0h1m21 0h1m24 0h1m12 0h1m102 0h1m26 0h1m20 0h2m23 0h1m9 0h1m41 0h1m29 0h1m29 0h1m3 0h1m24 0h1m12 0h1m10 0h1m3 0h1m31 0h1m104 0h2M152 79.5h1m21 0h1m1 0h2m2 0h1m5 0h1m4 0h1m9 0h1m1 0h1m17 0h1m15 0h1m13 0h1m12 0h1m9 0h1m1 0h1m19 0h1m14 0h1m12 0h1m10 0h1m20 0h1m8 0h1m1 0h1m15 0h1m7 0h1m10 0h1m1 0h3m9 0h1m7 0h2m1 0h1m1 0h1m6 0h1m1 0h1m4 0h1m7 0h1m1 0h1m2 0h1m35 0h1m13 0h1m48 0h1m30 0h4m1 0h1M176 80.5h2m2 0h1m43 0h1m2 0h1m46 0h1m57 0h1m25 0h1m6 0h1m4 0h1m12 0h1m21 0h2m6 0h2m4 0h1m7 0h1m1 0h2m12 0h1m21 0h1m10 0h1m1 0h1m9 0h1m2 0h1m15 0h3m7 0h1m13 0h1m1 0h2m8 0h3m7 0h1m5 0h1m6 0h1m3 0h1m7 0h3m4 0h3M32 81.5h1m10 0h1m296 0h1m10 0h1m234 0h1m1 0h3M32 82.5h1m117 0h1m11 0h1m1 0h1m3 0h1m17 0h1m12 0h3m2 0h1m4 0h1m11 0h1m11 0h3m4 0h1m30 0h2m4 0h1m45 0h1m7 0h1m11 0h1m4 0h1m4 0h2m14 0h1m20 0h1m15 0h1m31 0h2m15 0h1m34 0h1m29 0h1m66 0h1m3 0h1M165 83.5h1m10 0h1m11 0h1m2 0h1m9 0h1m19 0h1m14 0h1m11 0h1m23 0h1m12 0h1m1 0h2m16 0h1m38 0h1m11 0h1m1 0h1m7 0h1m12 0h1m2 0h1m7 0h1m11 0h1m1 0h1m1 0h1m4 0h1m12 0h1m27 0h1m27 0h1m6 0h1m99 0h1M163 84.5h1m34 0h2m14 0h3m6 0h1m1 0h3m23 0h1m7 0h3m9 0h2m13 0h1m9 0h1m1 0h1m41 0h1m70 0h1m31 0h2m17 0h1m1 0h1m12 0h1m2 0h1m39 0h1m48 0h1m16 0h2M163 85.5h1m1 0h1m20 0h1m1 0h1m1 0h1m20 0h2m1 0h1m8 0h1m3 0h1m8 0h1m34 0h1m4 0h2m4 0h1m12 0h1m11 0h1m3 0h1m20 0h1m6 0h1m1 0h2m5 0h2m1 0h1m5 0h1m8 0h2m1 0h1m1 0h1m8 0h1m9 0h2m4 0h1m3 0h1m12 0h1m10 0h1m1 0h1m23 0h1m1 0h1m12 0h1m1 0h2m117 0h2m3 0h1M5 86.5h1m579 0h1m2 0h2M97 87.5h1M1 88.5h1m95 0h1m55 0h2m24 0h1m6 0h1m5 0h1m10 0h1m11 0h1m70 0h1m10 0h1m9 0h1m52 0h1m9 0h1m36 0h1m3 0h1m24 0h1m13 0h1m11 0h1m16 0h1m7 0h1m2 0h1m94 0h3m1 0h1M156 93.5h1m5 0h1m4 0h1m17 0h1m3 0h1m3 0h1m3 0h1m3 0h4m10 0h1m10 0h1m6 0h2m2 0h1m13 0h1m36 0h1m8 0h1m11 0h2m49 0h1m52 0h1m5 0h1m19 0h1m22 0h1m124 0h3m1 0h1M212 94.5h1m299 0h2m3 0h1m4 0h2m2 0h3m5 0h1m1 0h3m9 0h4m1 0h1m6 0h1m2 0h2m5 0h3m7 0h1m2 0h1M152 95.5h1m9 0h1m3 0h1m9 0h2m8 0h1m10 0h1m3 0h2m7 0h1m11 0h1m2 0h1m9 0h1m13 0h1m14 0h1m5 0h1m23 0h1m1 0h1m9 0h1m1 0h1m22 0h1m3 0h1m1 0h1m3 0h1m13 0h2m24 0h1m9 0h2m11 0h1m3 0h1m2 0h1m1 0h1m1 0h3m9 0h1m1 0h2m7 0h2m1 0h3m6 0h3m2 0h2m6 0h3m8 0h1m2 0h1m7 0h2m1 0h1m1 0h1m7 0h4m1 0h1m82 0h3m1 0h1M70 96.5h1m114 0h1m3 0h1m10 0h1m9 0h1m75 0h1m8 0h1m18 0h1m88 0h1m33 0h1m1 0h1m44 0h2m100 0h2M155 97.5h1m42 0h1m24 0h1m36 0h1m85 0h1m23 0h1m71 0h1m25 0h1m22 0h1m16 0h1m2 0h1m7 0h1m1 0h1m1 0h1m1 0h2m6 0h1m4 0h1m1 0h1m4 0h6m2 0h1m6 0h4m1 0h1m3 0h1m1 0h1m10 0h1m1 0h1M154 98.5h1m23 0h1m6 0h1m4 0h1m8 0h1m4 0h1m20 0h3m5 0h2m38 0h2m4 0h1m8 0h1m9 0h1m8 0h3m24 0h1m2 0h1m3 0h1m1 0h1m5 0h1m3 0h1m4 0h1m1 0h1m7 0h1m22 0h2m10 0h3m7 0h1m171 0h6M515 99.5h1m58 0h1M225 100.5h1m24 0h1m13 0h1m20 0h1m8 0h2m4 0h1m6 0h2m28 0h1m4 0h1m4 0h1m10 0h1m7 0h1m2 0h2m11 0h2m8 0h2m10 0h1m14 0h1m21 0h2m12 0h1m21 0h1m11 0h1m1 0h1m8 0h1m6 0h1m47 0h1m2 0h1m26 0h1m2 0h1m2 0h1M34 102.5h1m25 0h1m34 0h1m10 0h1m424 0h1m53 0h1m1 0h5M34 103.5h1m25 0h1m140 0h1m38 0h1m22 0h1m22 0h1m10 0h1m11 0h1m2 0h1m20 0h1m70 0h1m12 0h1m12 0h1m43 0h1m16 0h1m6 0h1m10 0h1m5 0h2m10 0h1m5 0h1m19 0h1m6 0h1m13 0h3M70 106.5h1m154 0h1m24 0h1m155 0h1m19 0h1m14 0h1m30 0h1m5 0h2m9 0h1m1 0h1m6 0h1m1 0h1m1 0h1m14 0h2m24 0h2m9 0h2m8 0h2m14 0h1m5 0h1m1 0h1m1 0h1M344 107.5h2m1 0h1m20 0h1m21 0h1m13 0h1m2 0h1m3 0h1m5 0h1m7 0h1m1 0h2m10 0h1m4 0h1m6 0h1m1 0h1m38 0h1m7 0h1m4 0h1m1 0h1m78 0h1m1 0h4M70 108.5h1m273 0h1m22 0h1m44 0h1m5 0h1m7 0h1m5 0h1m18 0h1m22 0h1m1 0h1m1 0h1m1 0h1m24 0h1m10 0h2m2 0h1m1 0h2m1 0h1m3 0h1m1 0h1m17 0h1m20 0h1m10 0h1m6 0h1m1 0h2M70 109.5h1m166 0h1m1 0h1m115 0h1m11 0h1m68 0h1m15 0h1m51 0h1m6 0h1m2 0h1m3 0h1m1 0h1m1 0h1m4 0h1m1 0h1m1 0h1m1 0h3m4 0h1m1 0h1m9 0h2m1 0h1m3 0h3m2 0h1m2 0h3m9 0h2M325 110.5h1m3 0h1m4 0h1m18 0h1m1 0h1m11 0h1m10 0h1m11 0h1m4 0h1m8 0h1m1 0h1m5 0h1m6 0h1m6 0h2m2 0h1m4 0h1m5 0h1m10 0h1m13 0h1m7 0h2m14 0h1m9 0h1m29 0h1m36 0h4M323 111.5h1m13 0h1m5 0h1m5 0h1m15 0h1m1 0h1m15 0h1m10 0h1m1 0h1m5 0h1m22 0h1m4 0h1m5 0h1m4 0h1m8 0h1m3 0h1m7 0h1m9 0h1m5 0h1m5 0h1m20 0h1m64 0h1m17 0h1m1 0h1M430 112.5h1m23 0h1m83 0h1M513 113.5h1m1 0h1m1 0h2m1 0h1m1 0h2m2 0h1m1 0h1m8 0h1m8 0h1m1 0h5m4 0h1m2 0h3m1 0h1m1 0h1m4 0h1m3 0h1m1 0h1m1 0h1M323 114.5h1m9 0h4m8 0h2m7 0h1m14 0h1m14 0h1m11 0h1m30 0h1m1 0h1m21 0h1m1 0h1m11 0h1m12 0h1m11 0h1m2 0h1m16 0h1m7 0h1m1 0h2m1 0h1m2 0h1m3 0h2m17 0h2m2 0h1m1 0h1m2 0h1m1 0h1m6 0h1m9 0h1m7 0h2m2 0h2M333 115.5h1m2 0h1m9 0h2m11 0h1m7 0h1m25 0h1m1 0h1m8 0h1m6 0h1m1 0h1m15 0h2m22 0h1m1 0h1m7 0h1m28 0h1m16 0h2m1 0h2m10 0h1m5 0h1m1 0h1m1 0h2m1 0h1m20 0h1m11 0h1m5 0h1m2 0h4m8 0h1M286 116.5h1m38 0h1m9 0h1m11 0h1m11 0h1m7 0h1m1 0h1m25 0h2m29 0h1m2 0h2m20 0h1m26 0h1m11 0h1m9 0h1m30 0h1m12 0h1m35 0h1m1 0h1m2 0h1m2 0h2M330 117.5h1m14 0h2m6 0h1m14 0h1m12 0h1m1 0h1m12 0h1m14 0h1m1 0h1m4 0h1m6 0h1m4 0h1m5 0h1m15 0h2m35 0h2m1 0h1m5 0h1m87 0h1m2 0h3M412 118.5h1m95 0h1m3 0h1m18 0h3m2 0h1m5 0h1m1 0h1m3 0h1m6 0h2m1 0h1m17 0h2m1 0h3m1 0h1m1 0h1m2 0h2M525 119.5h1m1 0h1m6 0h1m15 0h1m12 0h1m21 0h1M271 120.5h1m61 0h1m174 0h3m9 0h3m9 0h1m10 0h1m13 0h1m2 0h1m1 0h1m3 0h1m1 0h1m1 0h3m4 0h1m1 0h3m1 0h2m4 0h1M330 121.5h1m11 0h1m2 0h2m9 0h1m10 0h1m27 0h1m11 0h1m21 0h1m14 0h1m48 0h1m14 0h1m2 0h1m6 0h1m46 0h1m2 0h2m1 0h1m3 0h3m4 0h1m2 0h1M149 122.5h1m27 0h1m20 0h1m114 0h1m23 0h2m88 0h1m4 0h1m21 0h1m7 0h2m13 0h1m9 0h1m1 0h2m1 0h2m5 0h1m2 0h1m1 0h1m27 0h1m20 0h2m12 0h3m10 0h1m8 0h2M411 123.5h1m3 0h1m100 0h2m11 0h2m2 0h1m1 0h1m5 0h1m7 0h1m17 0h2m7 0h1m1 0h2m2 0h1m8 0h1M149 124.5h1m1 0h2m9 0h1m1 0h3m1 0h1m9 0h1m10 0h1m2 0h1m5 0h1m2 0h1m20 0h1m4 0h1m7 0h1m1 0h1m32 0h1m1 0h1m13 0h1m7 0h1m1 0h2m2 0h1m5 0h2m5 0h1m11 0h1m9 0h1m1 0h1m1 0h1m2 0h1m1 0h1m6 0h1m1 0h1m1 0h1m11 0h3m1 0h1m10 0h1m2 0h1m9 0h1m4 0h1m6 0h1m19 0h1m7 0h1m14 0h1m2 0h1m8 0h1m2 0h1m23 0h1m1 0h1m8 0h1m30 0h1m12 0h1m26 0h1m5 0h1m1 0h1m2 0h1m2 0h1m3 0h1M189 125.5h1m8 0h1m36 0h1m14 0h1m19 0h1m57 0h2m12 0h1m3 0h1m20 0h1m14 0h1m1 0h1m8 0h1m1 0h2m16 0h1m2 0h1m23 0h1m8 0h1m12 0h2m1 0h1m1 0h1m12 0h1m7 0h1m2 0h1m8 0h1m3 0h1m14 0h1m6 0h1m2 0h1m1 0h1m5 0h1m3 0h1m1 0h1m22 0h1m2 0h1m8 0h1m1 0h1m4 0h1M140 126.5h1m12 0h1m73 0h1m19 0h1m16 0h1m46 0h1m17 0h1m30 0h1m5 0h2m3 0h1m9 0h1m14 0h1m16 0h1m1 0h1m14 0h1m36 0h2m19 0h1m12 0h2m4 0h1m77 0h1m2 0h2m1 0h1M19 127.5h1m100 0h1m28 0h1m1 0h1m1 0h1m22 0h2m19 0h3m11 0h2m2 0h1m6 0h1m2 0h1m1 0h1m20 0h1m3 0h1m6 0h1m1 0h3m36 0h1m4 0h1m5 0h1m19 0h1m1 0h1m4 0h2m5 0h1m5 0h1m40 0h1m8 0h1m1 0h1m3 0h2m3 0h1m2 0h2m8 0h1m16 0h2m5 0h1m2 0h1m3 0h1m5 0h3m2 0h1m3 0h1m2 0h1m2 0h1m2 0h1m5 0h1m4 0h1m15 0h1m78 0h5M155 128.5h1m12 0h1m8 0h1m19 0h1m13 0h1m1 0h1m23 0h1m24 0h1m65 0h2m3 0h1m11 0h1m4 0h1m4 0h1m13 0h1m12 0h1m1 0h1m22 0h1m7 0h1m19 0h2m2 0h1m14 0h2m11 0h1m17 0h1m4 0h1m7 0h1m3 0h1m1 0h1m75 0h1m4 0h2m2 0h1m1 0h1M176 129.5h2m19 0h1m137 0h1m5 0h1m2 0h1m10 0h1m15 0h1m21 0h1m2 0h1m32 0h2m5 0h1m13 0h2m15 0h2m22 0h2m3 0h1m5 0h1m4 0h2m10 0h1m1 0h1m7 0h2m1 0h1m3 0h1m6 0h1m1 0h2m1 0h1m1 0h2m1 0h1m1 0h1m8 0h1m4 0h1m7 0h1m2 0h1m5 0h1M271 131.5h1m15 0h1m11 0h1m28 0h1m15 0h1m49 0h1m5 0h1m28 0h1m23 0h1m1 0h1m35 0h1m22 0h1m22 0h1m1 0h2m21 0h1m12 0h2M261 132.5h1m47 0h1M325 134.5h1m19 0h1m23 0h1m1 0h1m32 0h1m48 0h1m8 0h1m27 0h1m17 0h2m2 0h1m2 0h4m2 0h1m8 0h1m2 0h1m5 0h1m2 0h1m6 0h2m7 0h1m2 0h1m2 0h1m13 0h3m10 0h1M143 138.5h1m12 0h1m5 0h1m2 0h1m12 0h1m10 0h1m23 0h1m7 0h1m1 0h1m1 0h1m7 0h1m2 0h1m11 0h1m3 0h1m10 0h1m6 0h1m6 0h2m9 0h1m9 0h1m8 0h1m16 0h1m16 0h1m2 0h3m1 0h1m2 0h1m4 0h1m11 0h1m1 0h2m11 0h2m7 0h1m9 0h3m1 0h1m4 0h1m5 0h1m8 0h1m4 0h2m3 0h1m13 0h2m3 0h1m14 0h1m3 0h2m1 0h1m7 0h1m7 0h1m71 0h1m2 0h1m1 0h1m14 0h1m5 0h1M70 139.5h1m72 0h1m57 0h1m38 0h1m57 0h1m101 0h1m64 0h1m14 0h1m104 0h2m1 0h3M245 140.5h2m26 0h1m82 0h2m2 0h1m53 0h1m24 0h1m15 0h1m7 0h1m121 0h3m2 0h1M163 141.5h1m2 0h1m12 0h1m6 0h3m1 0h2m12 0h1m6 0h2m26 0h1m46 0h2m6 0h1m13 0h1m2 0h1m12 0h2m6 0h5m2 0h1m5 0h2m1 0h1m18 0h1m4 0h1m22 0h2m3 0h1m16 0h1m8 0h1m5 0h1m16 0h1m3 0h1m2 0h1m6 0h1m1 0h1m13 0h2m4 0h2m6 0h1m2 0h1m1 0h1m1 0h1m6 0h1m2 0h1m1 0h1m16 0h1m37 0h1m17 0h2m1 0h2M162 142.5h1m36 0h1m26 0h1m12 0h1m22 0h1m62 0h1m139 0h1m12 0h2m5 0h1m4 0h1m37 0h1m16 0h1m1 0h1M537 144.5h1m2 0h1m6 0h1m14 0h1M162 146.5h2m13 0h1m1 0h1m6 0h1m3 0h2m5 0h1m14 0h2m7 0h1m3 0h1m10 0h2m2 0h1m8 0h1m35 0h2m18 0h2m1 0h1m3 0h1m8 0h1m1 0h2m7 0h1m3 0h1m1 0h1m6 0h1m19 0h1m18 0h1m6 0h1m15 0h1m7 0h1m2 0h1m8 0h2m1 0h1m5 0h1m6 0h2m20 0h3m17 0h1m4 0h3m41 0h1m20 0h1m29 0h7M5 147.5h1m13 0h1m10 0h1m17 0h1m53 0h1m5 0h1m11 0h1m19 0h1m8 0h1m5 0h1m6 0h1m4 0h1m11 0h1m7 0h1m5 0h1m15 0h1m6 0h1m19 0h2m7 0h1m2 0h3m9 0h1m16 0h1m16 0h1m1 0h1m3 0h1m10 0h1m9 0h1m8 0h1m1 0h1m3 0h2m5 0h1m10 0h1m11 0h1m1 0h1m12 0h1m2 0h1m21 0h2m8 0h1m1 0h2m2 0h1m4 0h2m3 0h1m11 0h1m7 0h1m1 0h2m8 0h2m11 0h1m7 0h1m3 0h1m95 0h2m1 0h3M30 148.5h1m6 0h1m32 0h1m31 0h1m1 0h1m3 0h1m31 0h1m8 0h1m89 0h1m5 0h1m4 0h1m34 0h1m1 0h1m23 0h1m9 0h1m7 0h2m2 0h1m2 0h1m29 0h2m27 0h1m15 0h1m4 0h2m1 0h1m9 0h1m22 0h1m15 0h1m8 0h1m1 0h1m9 0h2m5 0h1m12 0h1m69 0h1m6 0h4m1 0h1M70 150.5h1m83 0h1m19 0h1m12 0h1m4 0h2m3 0h1m25 0h1m1 0h1m7 0h1m2 0h2m2 0h1m7 0h1m14 0h1m7 0h1m13 0h4m5 0h1m13 0h1m1 0h1m2 0h1m9 0h1m6 0h4m9 0h2m10 0h1m1 0h1m13 0h1m11 0h3m10 0h1m2 0h1m4 0h2m13 0h1m6 0h1m2 0h1m22 0h2m12 0h1m1 0h1m9 0h1m5 0h1m1 0h2m1 0h1m43 0h1m8 0h1m42 0h2m2 0h1m1 0h1M70 151.5h1m81 0h1m1 0h2m6 0h1m2 0h1m10 0h2m1 0h1m23 0h1m9 0h1m8 0h1m4 0h1m11 0h2m22 0h1m35 0h2m7 0h1m1 0h2m11 0h1m9 0h1m25 0h1m20 0h3m2 0h1m10 0h1m7 0h1m1 0h1m6 0h1m1 0h1m9 0h2m13 0h2m1 0h1m21 0h1m1 0h2m8 0h3m4 0h1m4 0h1m7 0h2m6 0h1m4 0h1m1 0h1m7 0h2m20 0h2m10 0h1m17 0h1m5 0h2m1 0h2m5 0h1M189 152.5h2m1 0h1m11 0h1m34 0h2m9 0h1m70 0h1m10 0h2m37 0h1m27 0h1m13 0h1m1 0h1m51 0h1m6 0h1m14 0h2m88 0h1m5 0h2m4 0h1M70 153.5h1m280 0h1m100 0h1m137 0h1M165 154.5h1m23 0h1m13 0h1m11 0h1m6 0h1m4 0h1m22 0h1m1 0h1m18 0h2m8 0h2m1 0h1m2 0h2m8 0h3m24 0h1m8 0h1m1 0h1m3 0h1m3 0h1m13 0h1m8 0h1m1 0h2m14 0h1m19 0h1m1 0h1m12 0h1m7 0h1m9 0h1m2 0h1m2 0h1m11 0h1m10 0h1m9 0h1m1 0h1m8 0h1m2 0h1m40 0h1m53 0h4m1 0h1M162 156.5h1m16 0h1m9 0h3m8 0h1m13 0h1m1 0h1m6 0h1m3 0h1m10 0h1m11 0h1m12 0h1m12 0h1m5 0h1m28 0h1m22 0h2m1 0h1m1 0h1m4 0h1m13 0h1m59 0h1m6 0h1m14 0h1m3 0h1m30 0h1m13 0h1m2 0h1m25 0h1m35 0h1m30 0h2m1 0h1m1 0h2M179 157.5h1m9 0h3m12 0h1m17 0h1m14 0h1m38 0h1m7 0h1m25 0h1m2 0h1m7 0h1m47 0h1m25 0h1m9 0h2m23 0h2m8 0h1m2 0h1m9 0h1m23 0h1m11 0h1m6 0h1m57 0h1m30 0h2m1 0h2m1 0h1M156 158.5h1m8 0h1m1 0h1m9 0h1m12 0h1m9 0h1m3 0h1m9 0h1m6 0h1m16 0h2m7 0h1m38 0h1m13 0h1m10 0h1m67 0h2m14 0h1m10 0h2m7 0h1m3 0h2m6 0h1m7 0h1m7 0h1m11 0h1m6 0h1m1 0h1m22 0h1m4 0h1m25 0h2m22 0h1m12 0h1m11 0h1m13 0h1m5 0h1m1 0h2M149 160.5h1m12 0h1m27 0h1m1 0h2m5 0h2m11 0h1m3 0h1m21 0h2m45 0h1m14 0h1m9 0h1m19 0h1m15 0h1m1 0h1m17 0h1m2 0h1m21 0h1m13 0h1m5 0h1m3 0h1m4 0h1m7 0h1m15 0h1m9 0h1m13 0h1m23 0h1m54 0h1m6 0h2m10 0h1m14 0h1m3 0h1m3 0h2M186 162.5h1m6 0h1m31 0h1m9 0h1m3 0h1m34 0h1m1 0h1m8 0h1m46 0h2m1 0h1m6 0h1m3 0h1m10 0h1m47 0h1m14 0h1m22 0h2m7 0h1m31 0h1m22 0h1m5 0h1m3 0h2m1 0h1m1 0h1m6 0h2m10 0h1m2 0h1m2 0h2m7 0h2m7 0h4m1 0h2m6 0h1m2 0h2m8 0h1M415 164.5h1m9 0h1m26 0h1m88 0h1m7 0h1m16 0h2m17 0h1m3 0h1m1 0h1M108 167.5h1m65 0h1m14 0h1m22 0h1m63 0h1m8 0h1m14 0h1m10 0h1m3 0h1m39 0h1m10 0h1m16 0h1m45 0h2m10 0h1m35 0h1m19 0h1m12 0h1m2 0h1m4 0h1m4 0h1m5 0h3m4 0h1m1 0h1m1 0h1m4 0h1m2 0h1m12 0h1m3 0h2m1 0h1m8 0h2m2 0h2m5 0h1M175 172.5h1m3 0h2m30 0h1m13 0h1m178 0h1m1 0h1m67 0h1m26 0h3m5 0h1m2 0h1m2 0h1m2 0h7m10 0h1m2 0h1m3 0h1m2 0h5m3 0h1m2 0h2m3 0h1m1 0h1m9 0h1m1 0h1m3 0h1m1 0h1m9 0h1M17 173.5h1m30 0h1m11 0h1m9 0h1M30 174.5h1m29 0h1m9 0h1m37 0h1m45 0h1m30 0h1m14 0h1m9 0h1m24 0h1m14 0h2m7 0h1m16 0h1m8 0h1m11 0h1m3 0h1m9 0h1m12 0h1m8 0h1m5 0h1m4 0h1m39 0h1m26 0h1m23 0h1m5 0h2m55 0h4m5 0h2m1 0h3m4 0h2m1 0h2m21 0h1m10 0h5m7 0h1m11 0h1M17 175.5h1m23 0h1m28 0h1m31 0h1m51 0h1m31 0h1m109 0h1m12 0h1m25 0h1m29 0h1m24 0h1m24 0h1m82 0h1m19 0h1m4 0h1m6 0h1m2 0h1m8 0h1m13 0h1m10 0h1m22 0h1M17 176.5h1m12 0h1m10 0h1m35 0h1M5 180.5h1m13 0h1m10 0h1m11 0h1m5 0h1m5 0h1m15 0h1m13 0h1m35 0h1M5 181.5h1m13 0h1m10 0h1m11 0h1m41 0h1m23 0h1m239 0h1m6 0h1m11 0h1m27 0h1m10 0h1m28 0h1m17 0h2m32 0h1m97 0h1m5 0h1M5 183.5h1m13 0h1m10 0h1m11 0h1m5 0h1m5 0h1m65 0h1m178 0h1m21 0h1m11 0h1m1 0h1m5 0h1m6 0h1m8 0h1m2 0h1m23 0h1m5 0h1m23 0h1m16 0h1m3 0h1m5 0h1m12 0h1m12 0h1m8 0h1m14 0h2m5 0h1m87 0h2m3 0h1M250 185.5h1m9 0h1m2 0h1m60 0h1m22 0h1m5 0h1m6 0h1m21 0h1m7 0h1m5 0h1m4 0h1m24 0h1m5 0h1m2 0h1m6 0h1m9 0h2m2 0h1m18 0h1m1 0h1m10 0h3m7 0h1M562 186.5h1m11 0h1M97 187.5h1m412 0h1m21 0h1m9 0h2m5 0h1m18 0h1m2 0h1m7 0h1M70 188.5h1m259 0h1m1 0h1m38 0h1m23 0h1m12 0h1m17 0h1m15 0h1m35 0h1m23 0h1m6 0h1m2 0h1m6 0h1m2 0h1m7 0h1m1 0h1m9 0h1m1 0h2m2 0h1m5 0h2m3 0h1m19 0h4m8 0h1M1 189.5h1m68 0h1m83 0h1m19 0h1m1 0h1m2 0h2m69 0h1m58 0h1m12 0h1m10 0h1m15 0h1m4 0h1m5 0h1m6 0h1m14 0h1m7 0h1m9 0h1m2 0h1m52 0h1m8 0h1m119 0h1m1 0h1m1 0h1M70 190.5h1m92 0h2m60 0h1m9 0h1m87 0h1m9 0h2m6 0h1m4 0h1m6 0h1m2 0h1m2 0h1m35 0h1m10 0h2m11 0h1m12 0h1m2 0h1m16 0h2m14 0h1m5 0h1m1 0h1m8 0h3m2 0h1m6 0h1m3 0h2m83 0h1M70 191.5h1m26 0h1m115 0h1m74 0h1m5 0h1m1 0h1m27 0h1m9 0h1m4 0h1m28 0h1m21 0h1m15 0h1m10 0h1m35 0h1m24 0h1m5 0h1m12 0h1m3 0h1m52 0h1m30 0h4m1 0h2M1 192.5h1m95 0h1m65 0h1m49 0h1m11 0h1m9 0h1m27 0h1m24 0h1m34 0h2m1 0h1m3 0h1m6 0h1m9 0h1m19 0h2m25 0h1m4 0h1m3 0h1m22 0h1m5 0h1m2 0h2m6 0h1m8 0h1m132 0h4m2 0h1M1 193.5h1m321 0h2m12 0h1m15 0h1m4 0h2m34 0h1m33 0h2m11 0h1m10 0h1m14 0h1m12 0h1m22 0h1m5 0h1m2 0h1m16 0h2m11 0h1m12 0h2m2 0h2m1 0h1m17 0h1m2 0h1m4 0h1M321 195.5h1m60 0h1m125 0h1m2 0h1m5 0h3m2 0h1m5 0h1m3 0h2m2 0h1m1 0h4m1 0h1m4 0h3m2 0h1m1 0h1m1 0h1m3 0h3m3 0h1m2 0h2m5 0h1m2 0h1m9 0h1M399 196.5h1m6 0h1m11 0h1m1 0h1m8 0h1m2 0h1m3 0h1m3 0h2m9 0h1m3 0h1m11 0h1m7 0h1m1 0h1m19 0h1m1 0h1m1 0h2m85 0h3M330 197.5h1m16 0h1m34 0h1m12 0h1m3 0h1m17 0h2m1 0h1m43 0h1m9 0h1m2 0h2m9 0h1m14 0h1m14 0h1m66 0h1m1 0h5M156 200.5h1m44 0h1m33 0h1m4 0h1m9 0h2m55 0h1m27 0h1m22 0h1m23 0h1m35 0h1m17 0h1m3 0h2m11 0h1m10 0h1m32 0h1m4 0h1m13 0h1m6 0h2m1 0h1m1 0h1m8 0h1m8 0h1m1 0h1m3 0h1m8 0h3m1 0h1m7 0h4M154 203.5h1m13 0h1m8 0h1m8 0h1m10 0h1m1 0h1m21 0h1m1 0h1m11 0h1m24 0h1m9 0h1m13 0h1m9 0h2m10 0h1m1 0h1m20 0h1m7 0h2m9 0h1m4 0h1m3 0h1m25 0h1m21 0h1m7 0h1m4 0h1m5 0h2m2 0h1m46 0h2m10 0h1m97 0h1m2 0h4M213 204.5h1m213 0h2m36 0h1m9 0h1m22 0h1m3 0h1m4 0h5m1 0h1m2 0h1m1 0h1m3 0h2m4 0h1m2 0h1m1 0h4m1 0h1m2 0h1m7 0h1m1 0h1m1 0h2m4 0h1m4 0h2m2 0h3m1 0h2m2 0h1m1 0h1m1 0h2m1 0h2M213 205.5h1m108 0h1m1 0h1m21 0h2m8 0h2m7 0h1m3 0h1m12 0h1m34 0h2m8 0h2m13 0h1m21 0h1m1 0h1m8 0h1m33 0h1m23 0h1m56 0h2M163 206.5h1m16 0h1m32 0h1m24 0h2m106 0h1m23 0h1m24 0h1m32 0h1m11 0h1m25 0h1m11 0h1m20 0h1m1 0h1m4 0h2m1 0h4m6 0h1m9 0h1m1 0h1m10 0h2m1 0h1m10 0h1m10 0h1M30 207.5h1m118 0h1m59 0h1m2 0h1m9 0h1m60 0h1m12 0h1m13 0h1m2 0h1m16 0h1m17 0h1m29 0h1m24 0h1m8 0h1m1 0h1m20 0h1m13 0h1m19 0h1m4 0h2m8 0h1m100 0h3m2 0h1M30 208.5h1m178 0h1m180 0h1m86 0h1m110 0h1M239 209.5h1m176 0h1m24 0h2m66 0h1m7 0h1m1 0h1m29 0h2m2 0h1m2 0h1m4 0h2m1 0h1m2 0h1m9 0h1m1 0h2m5 0h2m3 0h1M152 210.5h1m9 0h1m15 0h1m6 0h1m2 0h1m8 0h1m1 0h1m10 0h1m1 0h1m10 0h1m23 0h1m12 0h1m13 0h1m6 0h1m1 0h2m46 0h1m14 0h1m6 0h1m2 0h2m45 0h1m10 0h1m3 0h1m8 0h1m2 0h1m4 0h1m5 0h1m21 0h1m4 0h2m6 0h1m108 0h1m1 0h2m1 0h1M149 211.5h1m13 0h1m10 0h1m1 0h1m1 0h1m1 0h1m8 0h1m2 0h1m8 0h1m7 0h2m11 0h2m23 0h1m12 0h2m2 0h1m9 0h1m6 0h1m1 0h1m23 0h1m24 0h1m1 0h1m6 0h1m11 0h1m1 0h1m1 0h4m6 0h1m17 0h1m3 0h1m1 0h1m10 0h1m2 0h1m19 0h1m1 0h2m6 0h1m1 0h1m3 0h1m8 0h1m12 0h1m2 0h3m6 0h1m8 0h1m2 0h1m97 0h2m2 0h3M155 212.5h2m6 0h1m2 0h2m7 0h1m13 0h1m2 0h1m28 0h1m1 0h1m26 0h1m32 0h3m1 0h1m22 0h1m11 0h2m3 0h1m4 0h1m5 0h1m9 0h1m6 0h1m1 0h1m2 0h1m6 0h1m9 0h1m4 0h1m12 0h1m7 0h1m2 0h2m21 0h2m11 0h1m1 0h1m9 0h1m13 0h1m7 0h1m1 0h2m12 0h1m8 0h1m66 0h1m16 0h1m3 0h1m1 0h1M155 213.5h1m294 0h1m48 0h1m8 0h2m1 0h3m1 0h1m2 0h2m1 0h1m9 0h1m3 0h2m1 0h1m1 0h1m2 0h3m1 0h2m5 0h2m2 0h1m7 0h2m1 0h1m3 0h1m1 0h1m10 0h1M32 214.5h1m45 0h1M155 215.5h1m56 0h1m10 0h1m171 0h1m15 0h1m5 0h1m2 0h1m5 0h3m7 0h1m13 0h2m10 0h3m2 0h1m18 0h1m2 0h1m97 0h3m1 0h1M174 216.5h1m13 0h1m58 0h1m15 0h1m69 0h1m62 0h1m59 0h1m128 0h1m1 0h2m1 0h2M97 218.5h1m64 0h1m1 0h1m20 0h1m1 0h1m13 0h3m29 0h1m40 0h1m4 0h2m3 0h1m15 0h2m187 0h1m95 0h3m2 0h1M70 219.5h1m26 0h1m64 0h1m13 0h1m10 0h1m13 0h1m13 0h1m31 0h1m3 0h1m18 0h2m2 0h1m32 0h1m4 0h1m28 0h1m7 0h1m3 0h1m5 0h1m6 0h1m10 0h1m1 0h2m3 0h1m5 0h1m3 0h2m4 0h1m2 0h1m11 0h1m12 0h1m3 0h1m4 0h1m1 0h1m10 0h1m15 0h1m23 0h1m94 0h6M44 220.5h1M32 222.5h1m130 0h1m46 0h1m10 0h1m23 0h1m15 0h1m2 0h1m5 0h1m1 0h1m3 0h2m6 0h1m46 0h1m7 0h1m4 0h1m4 0h1m5 0h1m16 0h1m19 0h1m13 0h2m7 0h1m9 0h1m24 0h1m2 0h2m12 0h1m19 0h2m96 0h5M165 223.5h1m14 0h1m8 0h1m19 0h1m38 0h1m23 0h1m10 0h1m17 0h1m39 0h1m12 0h1m1 0h1m123 0h1m105 0h3m1 0h2M329 224.5h1m40 0h1m35 0h1m23 0h1m33 0h1M175 228.5h1m24 0h1m10 0h1m73 0h1m11 0h1m93 0h1m27 0h1m5 0h1m1 0h1m1 0h2m10 0h1m14 0h1m7 0h2m8 0h1m4 0h2m11 0h1m92 0h1m2 0h3M430 229.5h1m19 0h1m11 0h1m16 0h2m6 0h1m4 0h1m8 0h1m14 0h1m17 0h1m21 0h1m2 0h1m10 0h1m6 0h1M497 231.5h1m13 0h2m1 0h1m3 0h1m5 0h1m7 0h1m1 0h3m4 0h2m1 0h2m2 0h1m4 0h3m2 0h1m1 0h1m7 0h2m6 0h1m3 0h2m3 0h1M166 233.5h1m331 0h1m1 0h1m9 0h1m2 0h2m7 0h2m6 0h1m3 0h2m10 0h1m7 0h2m10 0h1m1 0h1m8 0h1m1 0h1m1 0h2M167 234.5h1m9 0h2m12 0h1m6 0h3m9 0h1m4 0h1m5 0h1m16 0h2m11 0h1m8 0h1m13 0h1m8 0h3m2 0h1m5 0h1m1 0h1m9 0h1m2 0h1m25 0h2m5 0h1m1 0h2m1 0h1m5 0h1m2 0h1m2 0h1m9 0h1m9 0h2m3 0h1m10 0h2m15 0h1m7 0h1m9 0h2m5 0h1m24 0h2m10 0h1m1 0h1m3 0h1m5 0h2m2 0h1m94 0h3m1 0h1m1 0h1M168 235.5h1m6 0h1m16 0h1m17 0h1m1 0h1m8 0h3m12 0h1m3 0h1m8 0h1m10 0h1m14 0h1m21 0h1m11 0h2m16 0h1m2 0h1m14 0h1m1 0h1m7 0h2m3 0h1m7 0h2m10 0h1m23 0h1m7 0h1m17 0h2m7 0h1m23 0h2m15 0h1m5 0h1m5 0h1m55 0h1m37 0h4m1 0h1M168 236.5h1m6 0h1m3 0h1m31 0h2m3 0h1m4 0h3m13 0h1m1 0h2m6 0h1m1 0h1m61 0h1m67 0h1m84 0h1m3 0h1m22 0h2m8 0h1m5 0h1m21 0h2m11 0h1m11 0h1m1 0h1M155 237.5h1m37 0h1m5 0h1m15 0h2m23 0h1m8 0h1m2 0h1m9 0h1m11 0h1m20 0h1m4 0h1m8 0h1m19 0h1m19 0h1m3 0h1m2 0h1m9 0h1m4 0h1m12 0h1m21 0h2m10 0h1m7 0h1m2 0h2m11 0h1m9 0h1m15 0h1m21 0h3m27 0h1M155 239.5h1m20 0h1m15 0h1m9 0h1m7 0h2m3 0h1m46 0h1m22 0h1m14 0h1m65 0h1m1 0h1m38 0h1m10 0h1m22 0h1m12 0h1m6 0h1m1 0h2m2 0h1m11 0h1m12 0h1m62 0h1m34 0h2M155 240.5h1m6 0h1m12 0h1m9 0h1m6 0h1m7 0h1m20 0h1m17 0h1m9 0h1m1 0h1m33 0h1m14 0h1m21 0h1m8 0h1m4 0h1m1 0h1m8 0h1m1 0h1m18 0h1m9 0h2m19 0h2m1 0h1m5 0h1m3 0h1m16 0h1m7 0h1m1 0h1m10 0h1m4 0h2m4 0h1m1 0h2m3 0h1m11 0h1m5 0h2m2 0h1m94 0h6M177 242.5h1m34 0h1m22 0h2m86 0h1m13 0h1m4 0h2m5 0h1m10 0h1m7 0h1m2 0h1m6 0h2m10 0h1m8 0h1m2 0h1m13 0h1m9 0h1m8 0h1m38 0h1m14 0h1m101 0h1M166 243.5h1m18 0h1m23 0h1m2 0h1m8 0h2m29 0h1m32 0h1m21 0h1m20 0h3m12 0h1m1 0h1m1 0h1m3 0h1m14 0h1m11 0h2m10 0h1m1 0h1m9 0h1m34 0h2m26 0h1m9 0h1m1 0h1m11 0h2m94 0h2m1 0h2m1 0h1M189 244.5h1m1 0h1m19 0h2m1 0h1m7 0h1m12 0h1m1 0h1m58 0h1m15 0h1m9 0h1m5 0h2m8 0h1m30 0h1m29 0h1m4 0h1m2 0h1m29 0h1m147 0h1m1 0h2M154 245.5h1m7 0h1m2 0h1m1 0h2m6 0h1m3 0h1m5 0h1m1 0h2m2 0h2m10 0h1m5 0h1m1 0h3m1 0h2m4 0h1m1 0h1m15 0h1m6 0h1m15 0h2m6 0h1m1 0h1m3 0h1m8 0h1m1 0h1m7 0h1m2 0h1m1 0h1m6 0h2m4 0h1m8 0h1m6 0h2m2 0h1m4 0h1m4 0h4m7 0h1m3 0h2m7 0h4m10 0h1m8 0h2m7 0h1m4 0h3m4 0h2m3 0h1m1 0h1m1 0h1m11 0h1m2 0h1m14 0h1m13 0h1m9 0h1m1 0h1m1 0h2m5 0h1m1 0h1m2 0h2m1 0h1m93 0h3M166 246.5h1m18 0h1m2 0h1m71 0h1m2 0h1m10 0h1m31 0h1m23 0h1m82 0h1m2 0h1m60 0h1m108 0h1m2 0h1M153 248.5h1m1 0h1m6 0h1m5 0h1m5 0h1m3 0h1m9 0h1m2 0h1m1 0h1m4 0h2m4 0h1m6 0h1m1 0h2m7 0h2m1 0h1m11 0h2m1 0h1m7 0h1m10 0h1m1 0h1m1 0h1m6 0h1m2 0h1m2 0h1m6 0h1m11 0h1m1 0h1m23 0h1m8 0h3m2 0h1m2 0h1m1 0h2m4 0h1m6 0h1m2 0h1m3 0h1m5 0h2m1 0h2m10 0h1m8 0h1m5 0h1m7 0h2m1 0h1m8 0h1m2 0h1m10 0h1m4 0h1m4 0h1m13 0h1m10 0h1m1 0h1m6 0h1m2 0h1m1 0h1m7 0h2m2 0h2m36 0h1m55 0h3m2 0h2M0 249.5h1m155 0h1m11 0h1m8 0h1m2 0h1m5 0h1m3 0h1m10 0h1m1 0h2m35 0h1m5 0h1m1 0h1m14 0h1m19 0h1m1 0h1m1 0h1m12 0h1m8 0h2m1 0h1m10 0h2m5 0h1m1 0h2m4 0h1m3 0h1m3 0h1m9 0h1m1 0h2m10 0h1m11 0h1m18 0h1m5 0h1m10 0h3m8 0h2m7 0h1m2 0h2m23 0h1m1 0h1m37 0h1m10 0h1m61 0h1m1 0h1m3 0h3m2 0h1M0 250.5h1m153 0h1m7 0h1m1 0h2m8 0h2m12 0h1m1 0h1m6 0h1m1 0h1m1 0h1m2 0h1m28 0h2m1 0h1m8 0h1m3 0h1m1 0h2m7 0h1m13 0h1m1 0h1m10 0h1m9 0h1m1 0h1m10 0h1m14 0h1m4 0h1m4 0h2m1 0h1m3 0h1m4 0h1m5 0h1m2 0h1m24 0h1m10 0h1m6 0h1m4 0h1m12 0h1m14 0h1m29 0h1m1 0h1m10 0h1m13 0h1m6 0h1m22 0h1m3 0h1m7 0h1m34 0h1m1 0h1M179 251.5h1m70 0h2m23 0h1m21 0h1m26 0h1m5 0h1m2 0h1m85 0h1m81 0h1m7 0h3m6 0h2m12 0h1m6 0h1m1 0h1m3 0h1m2 0h1m6 0h2m9 0h2m6 0h1m1 0h1m1 0h1m2 0h1M154 252.5h1m19 0h1m15 0h1m6 0h2m14 0h2m6 0h1m14 0h1m2 0h1m10 0h2m24 0h1m34 0h1m12 0h2m15 0h1m1 0h1m9 0h2m41 0h1m21 0h1m16 0h1m41 0h1m10 0h1m1 0h1m7 0h1m8 0h1m1 0h2m1 0h1m4 0h1m1 0h2m5 0h1m6 0h1m2 0h1m7 0h2m16 0h1m3 0h1m10 0h1m12 0h2M150 254.5h1m1 0h1m13 0h1m9 0h1m1 0h1m9 0h1m12 0h2m6 0h2m1 0h3m6 0h1m11 0h2m1 0h4m6 0h1m17 0h1m9 0h1m8 0h1m23 0h1m27 0h1m18 0h1m24 0h1m3 0h1m6 0h1m21 0h1m2 0h1m1 0h1m2 0h1m5 0h1m8 0h1m2 0h1m13 0h1m3 0h1m7 0h2m1 0h1m6 0h2m2 0h1m8 0h3m9 0h1m66 0h1m15 0h1m3 0h3m2 0h1M0 255.5h1m149 0h1m1 0h1m13 0h2m36 0h1m29 0h1m1 0h1m12 0h1m1 0h1m8 0h1m27 0h1m6 0h1m3 0h1m25 0h1m5 0h1m14 0h1m23 0h1m10 0h1m29 0h3m1 0h1m10 0h1m4 0h1m7 0h1m1 0h1m11 0h3m9 0h1m2 0h1m6 0h1m11 0h1m2 0h2m17 0h2m19 0h1m19 0h1m3 0h3m10 0h1m8 0h1m1 0h1m7 0h4M0 257.5h1m584 0h4M0 258.5h1m154 0h1m21 0h1m1 0h1m18 0h1m4 0h1m7 0h1m1 0h1m2 0h1m8 0h1m9 0h2m22 0h1m10 0h1m9 0h1m5 0h1m20 0h1m14 0h1m8 0h1m2 0h1m14 0h1m6 0h1m10 0h1m13 0h2m9 0h2m2 0h1m20 0h2m10 0h1m2 0h1m22 0h1m8 0h2m1 0h1m113 0h1M154 259.5h1m9 0h2m8 0h1m3 0h1m9 0h1m2 0h2m11 0h1m7 0h1m10 0h1m2 0h1m8 0h2m23 0h1m2 0h1m10 0h1m23 0h1m11 0h2m10 0h1m7 0h1m15 0h1m2 0h1m3 0h1m2 0h1m8 0h1m1 0h1m13 0h2m33 0h1m2 0h2m29 0h3m10 0h1m13 0h1m12 0h1m14 0h1m2 0h1m76 0h2m2 0h1M190 260.5h1m57 0h1m3 0h1m20 0h1m92 0h1m12 0h1m19 0h1m3 0h1m40 0h1m17 0h1m12 0h1m110 0h2m1 0h2"/><path stroke="#7088e2" d="M152 1.5h1m9 0h2m4 0h1m6 0h1m22 0h1m3 0h2m8 0h1m9 0h1m2 0h1m9 0h1m12 0h1m2 0h1m7 0h1m3 0h2m6 0h1m4 0h1m24 0h1m5 0h1m3 0h1m9 0h1m3 0h1m3 0h1m3 0h1m2 0h1m5 0h3m12 0h1m1 0h2m8 0h1m2 0h1m6 0h1m13 0h2m4 0h1m1 0h1m5 0h1m6 0h1m13 0h2m6 0h2m4 0h1m8 0h1m1 0h3m6 0h1m1 0h1m11 0h1m1 0h1m7 0h2m1 0h1m1 0h2m4 0h1m9 0h2m21 0h2m1 0h4m3 0h2m15 0h1m1 0h1m1 0h1m2 0h2m1 0h1m1 0h1m11 0h2M168 2.5h1m16 0h1m6 0h1m4 0h3m1 0h1m11 0h1m1 0h1m6 0h2m1 0h1m8 0h1m1 0h1m8 0h1m3 0h1m1 0h1m9 0h1m2 0h1m9 0h1m4 0h1m4 0h1m21 0h1m4 0h1m17 0h1m12 0h1m5 0h2m9 0h2m5 0h3m8 0h1m6 0h1m11 0h1m2 0h1m5 0h1m8 0h1m1 0h1m1 0h1m6 0h2m3 0h1m6 0h1m5 0h1m9 0h1m2 0h1m5 0h1m1 0h1m2 0h1m8 0h1m8 0h1m1 0h2m3 0h1m14 0h2M154 3.5h2m19 0h1m1 0h2m13 0h2m3 0h1m1 0h1m10 0h1m1 0h2m1 0h2m4 0h1m2 0h2m21 0h1m15 0h2m6 0h5m9 0h2m9 0h1m3 0h1m22 0h1m5 0h1m3 0h4m7 0h2m1 0h1m9 0h1m1 0h1m8 0h2m2 0h1m6 0h1m1 0h3m12 0h1m43 0h1m10 0h2m12 0h1m1 0h1m7 0h2m1 0h2m7 0h1m2 0h1m10 0h1m11 0h1m1 0h1m1 0h1m1 0h1m12 0h2m6 0h1m13 0h1m1 0h4m4 0h2m1 0h4m5 0h2m3 0h1M300 4.5h1m110 0h1m2 0h3m1 0h1m10 0h1m6 0h1m3 0h2m1 0h1m8 0h2m14 0h1m11 0h1m8 0h2m7 0h2m3 0h1m15 0h3m7 0h3m1 0h1m8 0h2m4 0h2m3 0h2m1 0h1m1 0h3m5 0h1m2 0h1m4 0h1m2 0h1m3 0h1M162 6.5h3m3 0h1m16 0h1m7 0h1m8 0h1m31 0h1m13 0h1m1 0h3m17 0h2m2 0h1m2 0h1m1 0h1m16 0h1m10 0h2m12 0h1m3 0h1m15 0h2m1 0h2m9 0h3m8 0h1m1 0h2m9 0h2m1 0h1m1 0h1m6 0h1m1 0h3m11 0h2m8 0h3m14 0h1m1 0h2m2 0h1m2 0h1m10 0h1m1 0h1m5 0h1m9 0h1m5 0h1m1 0h1m6 0h2m1 0h2m5 0h3m5 0h4m1 0h3m5 0h2m6 0h1m2 0h1m3 0h2m6 0h3m5 0h1m5 0h3m9 0h2m13 0h1M155 7.5h1m7 0h1m16 0h1m4 0h1m3 0h1m3 0h1m6 0h1m28 0h1m16 0h1m1 0h1m12 0h3m6 0h1m6 0h1m1 0h1m42 0h1m2 0h1m3 0h1m25 0h1m10 0h1m1 0h1m22 0h1m1 0h1m9 0h1m7 0h1m1 0h1m6 0h1m4 0h2m2 0h1m2 0h1m11 0h1m22 0h1m19 0h1m1 0h1m76 0h1m24 0h1M152 8.5h1m9 0h3m3 0h1m6 0h2m3 0h1m4 0h1m3 0h1m24 0h1m9 0h1m12 0h1m1 0h2m10 0h1m7 0h1m2 0h2m7 0h1m1 0h1m31 0h3m3 0h1m18 0h1m1 0h1m8 0h2m1 0h1m1 0h1m1 0h1m6 0h1m2 0h1m6 0h1m2 0h1m13 0h3m6 0h1m1 0h1m2 0h1m2 0h1m1 0h1m5 0h1m3 0h1m1 0h1m1 0h1m1 0h1m1 0h1m1 0h1m6 0h1m3 0h1m1 0h1m4 0h2m4 0h1m6 0h2m1 0h2m5 0h1m17 0h1m4 0h1m1 0h1m1 0h1m7 0h1m6 0h1m14 0h2m35 0h1m10 0h1m1 0h1M200 9.5h1m125 0h1m4 0h1m16 0h1m83 0h1m153 0h1m1 0h1m1 0h2M186 10.5h1m12 0h1m2 0h1m30 0h1m5 0h1m31 0h1m3 0h1m5 0h1m1 0h1m14 0h1m7 0h1m49 0h1m9 0h1m36 0h1m21 0h1m1 0h1m4 0h1m1 0h2m1 0h1m18 0h1m5 0h1m1 0h1m1 0h1m22 0h1m2 0h1m93 0h1m4 0h1M234 14.5h1m2 0h1m10 0h1m35 0h1m25 0h1m22 0h2m4 0h1m6 0h2m9 0h2m10 0h1m11 0h1m9 0h1m1 0h1m2 0h1m31 0h2m1 0h1m7 0h1m16 0h1m8 0h2m11 0h1m1 0h1m25 0h1m50 0h1m24 0h1m8 0h1M341 15.5h1m51 0h1m35 0h1m1 0h1m13 0h1m19 0h3m33 0h1m6 0h2m1 0h3m6 0h1m2 0h1m7 0h1m1 0h1m2 0h1m1 0h2m1 0h4m2 0h1m7 0h1m1 0h1m2 0h1m2 0h1m1 0h1m1 0h1m1 0h3m4 0h1m4 0h1M270 16.5h1m65 0h1m4 0h1m14 0h1m72 0h1m35 0h1m12 0h1m21 0h1m8 0h1m11 0h2m1 0h1m1 0h5m1 0h1m1 0h2m1 0h2m2 0h1m1 0h2m3 0h2m4 0h3m5 0h1m6 0h1m12 0h1m1 0h1M502 19.5h1m24 0h2m7 0h1m9 0h4m2 0h1m8 0h2m1 0h2m7 0h1M500 20.5h1m3 0h1m3 0h1m1 0h3m1 0h1m9 0h3m10 0h1m2 0h1m9 0h3m1 0h1m7 0h4m5 0h1m2 0h2m8 0h1M272 21.5h1m72 0h1m11 0h1m12 0h1m1 0h1m22 0h1m12 0h1m20 0h1m33 0h1m43 0h2m1 0h4m5 0h2m1 0h5m1 0h2m1 0h1m3 0h1m2 0h1m2 0h1m5 0h3m6 0h1m2 0h1m1 0h1m1 0h3m1 0h4m1 0h1M200 22.5h1m144 0h1m21 0h1m74 0h1m33 0h1m23 0h1m6 0h1m4 0h1m6 0h2m2 0h2m4 0h6m1 0h1m4 0h1m8 0h3m2 0h1m3 0h1m1 0h1m2 0h1m4 0h1m1 0h1m2 0h2m2 0h2m4 0h1M149 23.5h2m2 0h1m14 0h1m9 0h2m6 0h1m1 0h3m7 0h2m1 0h1m10 0h2m10 0h2m9 0h1m1 0h1m9 0h2m2 0h1m18 0h3m14 0h2m6 0h1m1 0h1m2 0h1m6 0h1m2 0h2m17 0h1m2 0h1m7 0h1m4 0h1m4 0h1m14 0h1m1 0h1m4 0h1m6 0h1m2 0h2m7 0h1m7 0h1m8 0h1m8 0h1m2 0h1m8 0h1m2 0h1m3 0h2m1 0h2m2 0h1m6 0h2m1 0h1m1 0h1m11 0h1m7 0h2m11 0h1m1 0h1m83 0h1m3 0h1M152 25.5h1m15 0h1m16 0h2m2 0h2m1 0h1m6 0h1m1 0h1m10 0h1m2 0h1m8 0h4m5 0h2m1 0h2m10 0h1m10 0h2m10 0h1m2 0h2m8 0h1m10 0h1m1 0h1m8 0h2m1 0h2m4 0h1m8 0h3m2 0h2m3 0h1m8 0h2m2 0h2m7 0h1m8 0h3m1 0h1m9 0h2m3 0h1m6 0h1m4 0h1m7 0h1m9 0h2m1 0h2m5 0h1m2 0h1m1 0h1m2 0h1m3 0h1m3 0h2m9 0h2m3 0h1m5 0h1m1 0h1m3 0h1m6 0h2m2 0h2m3 0h1m12 0h2m12 0h1m5 0h1m2 0h1m21 0h1m6 0h1m30 0h2m2 0h1M163 26.5h2m3 0h1m7 0h1m2 0h1m11 0h1m5 0h1m1 0h1m1 0h1m1 0h1m5 0h1m3 0h1m9 0h1m3 0h1m7 0h1m1 0h1m2 0h1m7 0h1m10 0h1m24 0h2m14 0h1m8 0h1m1 0h1m1 0h1m16 0h1m1 0h1m8 0h1m1 0h1m11 0h2m10 0h1m3 0h1m10 0h3m6 0h2m6 0h1m14 0h1m1 0h1m7 0h1m1 0h2m1 0h1m2 0h1m3 0h1m2 0h2m1 0h1m7 0h2m1 0h1m8 0h1m4 0h2m7 0h3m41 0h1m12 0h1m9 0h1m23 0h1M150 27.5h1m3 0h3m8 0h2m7 0h1m3 0h1m1 0h1m5 0h1m3 0h1m1 0h1m4 0h1m3 0h1m24 0h1m6 0h1m4 0h2m7 0h1m11 0h1m11 0h1m2 0h2m11 0h2m17 0h1m14 0h1m7 0h1m3 0h2m1 0h2m4 0h2m1 0h1m7 0h1m1 0h1m10 0h1m3 0h1m10 0h3m1 0h1m6 0h1m1 0h1m9 0h1m3 0h1m4 0h1m1 0h2m7 0h1m1 0h3m3 0h1m3 0h1m1 0h2m4 0h1m11 0h1m10 0h2m8 0h1m8 0h1m2 0h1m1 0h1m7 0h2m2 0h1m15 0h3m63 0h1m2 0h1M185 28.5h1m23 0h1m30 0h1m8 0h1m36 0h1m1 0h1m297 0h2M156 29.5h1m6 0h1m3 0h1m22 0h2m1 0h1m16 0h5m22 0h3m9 0h1m1 0h1m7 0h2m10 0h1m5 0h2m4 0h1m11 0h1m1 0h1m17 0h1m15 0h1m2 0h1m35 0h1m37 0h1m4 0h1m29 0h1m45 0h1m95 0h1m3 0h1m1 0h1M151 30.5h2m13 0h1m23 0h2m1 0h1m9 0h1m20 0h1m47 0h1m5 0h1m4 0h1m14 0h1m14 0h1m271 0h7M155 31.5h2m6 0h2m2 0h1m23 0h1m6 0h2m4 0h1m4 0h2m3 0h2m8 0h1m2 0h1m6 0h1m2 0h1m7 0h4m11 0h1m1 0h1m1 0h1m6 0h1m2 0h1m12 0h1m7 0h2m2 0h2m6 0h2m12 0h1m7 0h1m1 0h1m1 0h1m7 0h1m2 0h2m12 0h1m8 0h1m1 0h3m6 0h2m1 0h4m10 0h1m15 0h1m15 0h1m8 0h2m3 0h1m1 0h1m6 0h1m5 0h1m6 0h1m10 0h1m1 0h1m7 0h1m2 0h3m7 0h1m34 0h1m23 0h1m1 0h1m30 0h1M149 32.5h1m5 0h1m6 0h1m1 0h1m34 0h1m4 0h1m20 0h3m21 0h1m10 0h1m23 0h1m1 0h1m1 0h1m5 0h1m1 0h1m2 0h1m6 0h2m2 0h2m19 0h1m3 0h5m1 0h1m2 0h1m9 0h1m1 0h1m10 0h1m3 0h1m7 0h1m2 0h1m1 0h1m6 0h2m2 0h1m7 0h1m9 0h1m13 0h1m3 0h1m4 0h2m2 0h1m2 0h3m5 0h2m10 0h1m2 0h1m1 0h1m8 0h1m2 0h1m3 0h3m12 0h2m85 0h1m4 0h1M153 33.5h1m1 0h2m7 0h2m1 0h2m10 0h1m5 0h1m5 0h3m5 0h1m1 0h1m1 0h1m6 0h1m14 0h3m6 0h2m24 0h1m1 0h1m23 0h1m1 0h1m18 0h1m3 0h2m2 0h1m11 0h1m6 0h1m8 0h1m7 0h1m13 0h2m3 0h2m7 0h1m28 0h1m3 0h1m1 0h2m11 0h1m7 0h1m1 0h3m10 0h1m1 0h1m2 0h2m5 0h2m122 0h4m1 0h1M70 34.5h1m78 0h1m4 0h1m8 0h2m1 0h2m8 0h2m2 0h1m9 0h1m8 0h1m11 0h2m1 0h2m18 0h1m4 0h2m33 0h1m1 0h1m7 0h1m1 0h3m8 0h1m2 0h1m6 0h1m4 0h1m10 0h1m1 0h1m5 0h2m10 0h1m15 0h1m19 0h1m19 0h1m1 0h1m1 0h1m7 0h1m1 0h1m3 0h1m16 0h1m1 0h1m2 0h1m4 0h1m10 0h1m7 0h2m20 0h1m4 0h1m1 0h1m14 0h1m70 0h1m7 0h1m3 0h2M33 35.5h1m128 0h1m37 0h1m44 0h1m33 0h1m26 0h1m23 0h1m34 0h1m133 0h1m7 0h1m82 0h2M162 36.5h2m1 0h3m31 0h1m37 0h1m9 0h1m1 0h1m24 0h1m3 0h1m5 0h1m3 0h1m17 0h1m17 0h2m11 0h1m73 0h1m2 0h1m1 0h1m15 0h1m11 0h1m5 0h1m2 0h1m20 0h1m23 0h1m88 0h2m1 0h1M150 37.5h1m11 0h1m1 0h1m1 0h1m10 0h1m11 0h2m6 0h1m1 0h2m1 0h1m1 0h1m5 0h1m22 0h1m4 0h1m21 0h1m11 0h1m1 0h1m2 0h3m2 0h1m1 0h1m1 0h1m22 0h2m18 0h3m23 0h1m1 0h1m7 0h2m11 0h1m3 0h1m16 0h1m1 0h1m22 0h1m11 0h2m12 0h1m4 0h1m23 0h2m3 0h2m4 0h1m6 0h3m1 0h3m51 0h1m32 0h1M33 38.5h1m116 0h3m2 0h2m5 0h1m2 0h1m19 0h1m2 0h2m3 0h1m7 0h2m9 0h1m2 0h1m20 0h3m6 0h1m4 0h1m8 0h1m1 0h1m2 0h1m6 0h1m6 0h1m3 0h1m1 0h2m1 0h2m8 0h2m6 0h4m1 0h1m12 0h1m6 0h1m3 0h1m1 0h1m2 0h1m2 0h1m8 0h1m6 0h1m6 0h1m4 0h1m12 0h1m5 0h1m2 0h2m2 0h1m4 0h1m1 0h1m7 0h1m8 0h1m7 0h1m64 0h1m6 0h1m17 0h1m37 0h1m34 0h1M33 40.5h1M321 41.5h1m13 0h1m29 0h3m23 0h2m12 0h2m20 0h1m13 0h1m14 0h1m6 0h1m1 0h3m22 0h1m6 0h3m1 0h1m2 0h1m3 0h1m1 0h5m4 0h1m1 0h2m3 0h1m1 0h2m1 0h1m1 0h3m5 0h5m1 0h2m2 0h1m1 0h5m1 0h2m9 0h1m8 0h1m1 0h1M149 42.5h1m1 0h1m62 0h1m61 0h1m44 0h1m7 0h1m5 0h1m8 0h1m1 0h1m6 0h3m9 0h2m3 0h1m20 0h1m8 0h1m3 0h2m6 0h1m13 0h1m10 0h1m1 0h2m11 0h1m2 0h2m8 0h1m8 0h1m1 0h1m2 0h2m6 0h1m1 0h1m8 0h1m1 0h1m6 0h1m9 0h1m21 0h1m4 0h1m1 0h1m2 0h1m1 0h2m1 0h1m23 0h1m10 0h1M179 43.5h1m7 0h1m26 0h2m6 0h1m15 0h1m46 0h2m25 0h1m9 0h1m1 0h1m4 0h1m3 0h1m1 0h1m2 0h1m2 0h1m2 0h1m1 0h1m8 0h1m1 0h1m10 0h1m1 0h2m6 0h1m5 0h1m14 0h1m3 0h3m1 0h1m5 0h3m1 0h1m7 0h1m2 0h2m9 0h1m1 0h1m2 0h1m34 0h1m5 0h1m5 0h2m7 0h2m13 0h1m1 0h1m37 0h1m21 0h3m9 0h1M414 44.5h1m1 0h1m13 0h1m19 0h1m1 0h1m2 0h1m22 0h1m12 0h1m19 0h1m2 0h3m7 0h1m7 0h2m1 0h1m4 0h3m2 0h1m1 0h3m2 0h1m1 0h1m1 0h1m1 0h1m3 0h5m3 0h4m3 0h1m1 0h1m1 0h2m1 0h1M322 45.5h1m1 0h1m8 0h1m20 0h1m12 0h2m26 0h1m45 0h1m35 0h1m30 0h1m1 0h3m6 0h2m1 0h1m2 0h2m2 0h1m3 0h3m5 0h1m2 0h3m2 0h4m4 0h1m2 0h1m2 0h3m2 0h1m2 0h1m6 0h1m3 0h1m1 0h1M168 46.5h1m20 0h1m8 0h1m48 0h1m3 0h1m21 0h1m12 0h1m24 0h1m11 0h1m11 0h1m11 0h1m6 0h1m2 0h1m1 0h1m7 0h1m3 0h1m10 0h2m6 0h1m10 0h1m6 0h1m4 0h1m27 0h1m13 0h1m11 0h1m8 0h2m9 0h1m4 0h1m4 0h1m4 0h1m4 0h1m1 0h1m2 0h1m8 0h1m33 0h1m5 0h1m3 0h2m13 0h3M516 47.5h1m20 0h1m1 0h2M216 48.5h1m22 0h1m269 0h1m1 0h1m1 0h1m1 0h1m8 0h1m7 0h1m1 0h1m1 0h2m2 0h1m4 0h2m2 0h3m10 0h1m1 0h1m6 0h1m5 0h1M286 49.5h1m130 0h1m11 0h1m81 0h1m3 0h1m3 0h2m1 0h1m1 0h2m7 0h4m3 0h2m2 0h1m1 0h1m4 0h1m4 0h1m3 0h3m6 0h1m1 0h1m1 0h1m3 0h1m5 0h1M197 50.5h1m51 0h2m19 0h1m17 0h1m92 0h1m207 0h1m1 0h1M345 53.5h1m21 0h1m109 0h1m22 0h1m42 0h1m18 0h1m2 0h1m16 0h1m8 0h1M180 55.5h1m70 0h1m114 0h1m2 0h1m56 0h1m2 0h1m23 0h1m12 0h1m9 0h1m30 0h1m47 0h1m14 0h2m7 0h1M186 56.5h1m62 0h1m1 0h1m23 0h2m19 0h1m3 0h1m8 0h3m10 0h1m11 0h1m1 0h1m2 0h1m2 0h1m10 0h1m12 0h1m38 0h1m14 0h1m9 0h1m4 0h2m15 0h1m9 0h1m6 0h1m18 0h1m8 0h1m3 0h1m1 0h1m81 0h1m1 0h1m1 0h2M247 58.5h1m23 0h1m1 0h1m146 0h1m164 0h1m3 0h1M165 59.5h1m13 0h1m9 0h2m6 0h3m3 0h1m12 0h1m5 0h1m25 0h3m1 0h1m23 0h1m3 0h1m3 0h3m10 0h2m10 0h1m1 0h2m9 0h2m6 0h1m1 0h1m1 0h3m3 0h1m6 0h1m5 0h1m3 0h1m11 0h1m7 0h1m1 0h1m2 0h1m1 0h1m9 0h1m8 0h1m7 0h1m6 0h3m6 0h2m1 0h1m4 0h2m1 0h2m14 0h1m7 0h2m1 0h1m9 0h1m1 0h1m8 0h2m1 0h1m1 0h3m3 0h3m2 0h1m5 0h1m3 0h1m8 0h3m7 0h1m10 0h1m22 0h1m3 0h2m6 0h2m10 0h1M177 60.5h2m1 0h1m18 0h1m15 0h1m5 0h1m18 0h1m30 0h1m13 0h1m44 0h1m28 0h1m7 0h1m13 0h1m17 0h1m19 0h1m23 0h1m8 0h1m24 0h1m8 0h1m3 0h1m7 0h1m11 0h1m5 0h1m5 0h1m1 0h1m4 0h1m6 0h1m1 0h1m3 0h3m3 0h2m3 0h1m4 0h3m2 0h1m3 0h1m2 0h1m3 0h1m2 0h1m1 0h4m1 0h1M151 61.5h2m2 0h1m6 0h2m1 0h1m1 0h1m6 0h2m10 0h4m3 0h1m4 0h1m2 0h1m1 0h1m5 0h2m25 0h2m8 0h1m1 0h1m3 0h1m7 0h1m9 0h1m3 0h1m2 0h1m16 0h1m4 0h1m7 0h1m26 0h2m8 0h1m3 0h1m6 0h1m16 0h1m8 0h1m1 0h1m7 0h1m11 0h1m3 0h1m9 0h1m7 0h1m14 0h1m13 0h1m7 0h1m13 0h1m7 0h2m1 0h3m2 0h1m14 0h1m12 0h1m3 0h1m7 0h1m9 0h1m11 0h1m11 0h1m24 0h1M358 62.5h1m155 0h1m1 0h1m7 0h2m1 0h2m12 0h1m5 0h1m3 0h2m8 0h1m1 0h3m1 0h3m1 0h1m1 0h1m10 0h1M150 63.5h2m1 0h1m14 0h1m6 0h1m9 0h1m11 0h2m17 0h1m5 0h1m2 0h1m9 0h1m1 0h1m8 0h1m2 0h1m2 0h1m6 0h1m10 0h1m1 0h1m3 0h2m4 0h1m1 0h1m3 0h1m5 0h1m3 0h1m6 0h4m22 0h1m2 0h1m3 0h1m3 0h1m22 0h1m11 0h2m1 0h2m1 0h2m11 0h1m3 0h1m74 0h2m3 0h1m4 0h1m1 0h1m19 0h1m78 0h2m2 0h2M514 64.5h1m9 0h4m1 0h2m18 0h1m1 0h2m9 0h1m4 0h2m1 0h2m1 0h1m1 0h1m8 0h1M443 65.5h1m80 0h1m7 0h1m1 0h1m3 0h2m9 0h1m1 0h2m3 0h6m3 0h2m3 0h1m5 0h1m2 0h2m2 0h1M442 66.5h1m67 0h1m9 0h2m2 0h2m2 0h2m3 0h1m4 0h2m6 0h3m1 0h1m1 0h2m1 0h4m3 0h1m11 0h1m3 0h1m4 0h1M178 67.5h2m11 0h1m153 0h1m12 0h1m6 0h1m2 0h1m8 0h1m41 0h1m21 0h1m11 0h1m1 0h1m9 0h1m20 0h1m25 0h1m2 0h1m3 0h1m13 0h3m8 0h2m8 0h1m3 0h1m1 0h1m17 0h1M514 68.5h1m1 0h1m4 0h2m4 0h1m7 0h1m2 0h1m1 0h1m4 0h1m3 0h1m5 0h1m3 0h2m3 0h1m6 0h1m1 0h1m9 0h1M513 69.5h1m26 0h1m7 0h2m1 0h2m3 0h1m1 0h3m13 0h1M97 71.5h1M153 72.5h2m19 0h1m3 0h1m8 0h1m9 0h1m1 0h1m1 0h1m2 0h1m9 0h1m6 0h1m3 0h1m1 0h1m1 0h1m8 0h1m6 0h7m7 0h1m1 0h2m7 0h1m2 0h1m9 0h1m2 0h1m7 0h2m19 0h1m12 0h1m1 0h2m6 0h1m3 0h1m8 0h1m3 0h1m10 0h1m5 0h1m5 0h1m2 0h1m10 0h2m2 0h1m2 0h2m2 0h1m7 0h1m4 0h3m1 0h1m3 0h1m11 0h1m1 0h1m5 0h1m5 0h1m1 0h1m14 0h1m1 0h1m5 0h1m3 0h1m5 0h1m2 0h1m7 0h1m12 0h1m8 0h1m1 0h1m22 0h1m12 0h1m8 0h2m24 0h1M97 73.5h1m67 0h1m1 0h1m8 0h1m3 0h1m8 0h1m1 0h2m11 0h1m11 0h1m58 0h1m56 0h1m11 0h1m48 0h1m18 0h1m42 0h1m44 0h1m1 0h1m11 0h2m3 0h1m1 0h1m2 0h2m2 0h1m4 0h1m2 0h1m1 0h2m1 0h1m4 0h3m3 0h3m3 0h1m2 0h1m3 0h1m1 0h2m2 0h1m3 0h1m1 0h1m2 0h1m1 0h1M174 74.5h1m16 0h1m310 0h2m9 0h1m19 0h1m1 0h1m14 0h1m6 0h2m3 0h3m11 0h1M176 75.5h1m34 0h1m15 0h1m11 0h2m10 0h1m24 0h1m9 0h1m7 0h1m1 0h1m26 0h1m20 0h2m65 0h1m1 0h1m1 0h1m1 0h1m8 0h1m24 0h2m15 0h1m18 0h1m2 0h1m10 0h1m16 0h1m11 0h2m10 0h1m11 0h1m14 0h3M394 76.5h1m34 0h2m47 0h1m21 0h1m1 0h1m5 0h3m3 0h1m13 0h1m4 0h3m2 0h1m1 0h1m2 0h1m4 0h1m1 0h1m2 0h1m6 0h1m2 0h1m9 0h1m1 0h2m2 0h4M5 77.5h1m89 0h1m6 0h1m5 0h1m321 0h1m4 0h1m3 0h1m2 0h1m10 0h1m1 0h1m9 0h1m1 0h1m28 0h2m3 0h1m6 0h1m1 0h2m2 0h1m9 0h1m8 0h1m2 0h1m2 0h1m1 0h1m1 0h1m10 0h1m1 0h1m4 0h1m3 0h1m3 0h4M150 78.5h1m11 0h1m11 0h1m27 0h1m7 0h1m12 0h1m1 0h1m1 0h1m9 0h1m7 0h1m49 0h1m1 0h3m32 0h3m7 0h1m22 0h1m1 0h1m4 0h1m9 0h1m1 0h1m6 0h1m2 0h1m4 0h1m2 0h1m3 0h1m5 0h1m2 0h2m7 0h1m6 0h1m5 0h1m1 0h1m1 0h1m1 0h1m7 0h2m1 0h1m1 0h1m5 0h1m7 0h1m4 0h2m13 0h1m1 0h2m19 0h1m40 0h1m24 0h1m5 0h5M192 79.5h1m19 0h1m11 0h1m98 0h1m10 0h1m23 0h1m11 0h1m8 0h1m10 0h1m2 0h1m1 0h2m3 0h1m10 0h3m5 0h1m10 0h2m3 0h1m1 0h1m38 0h1m10 0h1m29 0h1m12 0h2m11 0h1m1 0h1m10 0h2m8 0h2m1 0h3m7 0h1M203 80.5h1m8 0h1m131 0h1m23 0h1m43 0h1m29 0h1m56 0h1m1 0h1m14 0h1m9 0h2m1 0h1m2 0h1m5 0h1m2 0h2m3 0h1m7 0h1m1 0h3m1 0h1m6 0h3m5 0h3m5 0h2M200 81.5h1m13 0h1m92 0h2m21 0h1m5 0h1m6 0h1m9 0h2m5 0h1m18 0h1m10 0h2m85 0h1m2 0h1m6 0h1m97 0h1m1 0h1m3 0h1M152 82.5h3m8 0h1m2 0h2m9 0h1m2 0h1m4 0h1m2 0h1m13 0h2m7 0h1m24 0h1m2 0h1m30 0h1m5 0h1m9 0h1m7 0h1m1 0h1m10 0h1m21 0h1m2 0h1m9 0h1m16 0h1m6 0h1m3 0h2m19 0h1m4 0h1m2 0h1m2 0h1m4 0h1m8 0h2m2 0h1m5 0h1m2 0h2m5 0h2m18 0h1m7 0h1m2 0h2m6 0h1m1 0h4m11 0h2m2 0h1m24 0h1m20 0h2m10 0h3M177 83.5h1m8 0h1m3 0h1m1 0h1m5 0h1m12 0h1m3 0h1m6 0h2m15 0h2m4 0h1m1 0h1m11 0h1m11 0h1m1 0h1m8 0h1m3 0h1m8 0h1m2 0h1m7 0h2m15 0h1m7 0h1m5 0h1m3 0h1m17 0h1m5 0h1m2 0h1m1 0h1m12 0h2m6 0h1m7 0h2m6 0h1m4 0h2m2 0h1m2 0h2m6 0h1m2 0h1m5 0h1m1 0h2m10 0h2m12 0h1m25 0h1m1 0h1m3 0h1m19 0h1m26 0h1m11 0h1m9 0h1m25 0h1M152 84.5h1m2 0h2m22 0h2m4 0h2m1 0h1m14 0h1m33 0h1m68 0h1m4 0h1m15 0h1m4 0h1m8 0h1m6 0h2m1 0h1m2 0h1m2 0h3m7 0h1m2 0h1m9 0h1m10 0h1m7 0h1m13 0h1m2 0h1m1 0h1m17 0h1m1 0h2m10 0h1m1 0h1m3 0h1m10 0h2m9 0h2m4 0h2m1 0h1m4 0h2m2 0h1m45 0h2m47 0h1M5 85.5h1m170 0h2m2 0h1m22 0h1m11 0h1m9 0h2m12 0h1m8 0h1m23 0h1m1 0h1m21 0h1m26 0h1m1 0h1m1 0h1m2 0h2m1 0h1m6 0h1m5 0h2m7 0h1m2 0h3m7 0h1m1 0h1m1 0h1m9 0h1m1 0h1m9 0h2m6 0h2m3 0h1m3 0h1m7 0h1m9 0h2m4 0h1m2 0h2m13 0h2m21 0h2m1 0h2m3 0h1m2 0h1m8 0h1m21 0h2m36 0h1m19 0h1m1 0h1m1 0h1M118 86.5h1m126 0h1m25 0h1m85 0h1m1 0h1m5 0h1m3 0h1m7 0h1m1 0h2m15 0h1m38 0h1m3 0h1m4 0h1m5 0h2m134 0h2m3 0h1M156 88.5h1m41 0h1m15 0h1m23 0h1m11 0h2m99 0h1m13 0h1m38 0h1m14 0h1m57 0h1m2 0h1m107 0h1m2 0h1M178 93.5h1m11 0h1m7 0h2m10 0h1m1 0h1m3 0h1m5 0h1m2 0h1m24 0h1m1 0h1m8 0h1m2 0h1m5 0h1m1 0h1m6 0h1m4 0h1m2 0h1m10 0h1m23 0h2m8 0h1m2 0h1m15 0h1m2 0h1m23 0h2m16 0h1m2 0h1m3 0h1m2 0h3m7 0h2m7 0h1m5 0h1m5 0h1m5 0h2m19 0h3m1 0h1m6 0h2m10 0h1m2 0h1m6 0h1m2 0h2m83 0h2M514 94.5h1m20 0h1m16 0h1m31 0h1M154 95.5h1m8 0h1m3 0h2m9 0h1m14 0h1m4 0h2m3 0h1m8 0h1m2 0h2m9 0h2m6 0h1m3 0h1m1 0h1m4 0h1m1 0h1m2 0h1m10 0h1m1 0h1m8 0h1m6 0h1m3 0h2m25 0h2m13 0h1m3 0h1m2 0h1m6 0h1m3 0h2m4 0h1m4 0h1m2 0h1m1 0h1m7 0h3m20 0h1m2 0h1m2 0h1m5 0h1m16 0h1m5 0h1m5 0h1m3 0h3m15 0h1m12 0h2m19 0h1m3 0h1m10 0h1m82 0h1m3 0h1m1 0h1M153 96.5h1m8 0h1m4 0h1m8 0h1m9 0h1m10 0h1m1 0h1m2 0h1m9 0h1m12 0h1m7 0h1m2 0h2m49 0h2m23 0h2m20 0h1m2 0h3m2 0h3m3 0h2m10 0h1m29 0h3m11 0h1m3 0h1m3 0h1m2 0h1m1 0h1m2 0h1m4 0h2m5 0h1m1 0h2m4 0h1m12 0h2m1 0h1m29 0h1m10 0h1m87 0h1m2 0h3M516 97.5h1m5 0h1m1 0h1m2 0h1m24 0h1m17 0h1m1 0h1m10 0h1M156 98.5h1m6 0h1m13 0h1m20 0h1m4 0h1m8 0h2m1 0h2m5 0h1m14 0h1m9 0h1m2 0h1m1 0h1m7 0h1m2 0h1m12 0h1m6 0h2m1 0h1m25 0h1m9 0h1m15 0h1m3 0h1m5 0h1m5 0h1m1 0h2m8 0h1m2 0h1m20 0h1m16 0h1m3 0h1m4 0h2m7 0h1m1 0h1m24 0h1m19 0h1m2 0h1m3 0h1m111 0h1M227 100.5h1m35 0h1m69 0h1m119 0h2m23 0h1m38 0h1m12 0h1m1 0h1m1 0h1m25 0h1m10 0h1m7 0h1M12 102.5h1m180 0h1m136 0h1m48 0h1m125 0h1m36 0h1M12 103.5h1m93 0h1m143 0h1m275 0h1m10 0h1m2 0h1m4 0h4m13 0h3m8 0h1m9 0h1M227 106.5h1m283 0h1m1 0h1m5 0h1m2 0h1m6 0h1m6 0h1m5 0h1m2 0h1m1 0h2m1 0h1m1 0h2m2 0h1m1 0h2m1 0h3m14 0h2m2 0h1m1 0h1M367 107.5h1m38 0h1m5 0h1m17 0h1m1 0h1m2 0h1m5 0h1m1 0h1m8 0h1m1 0h2m8 0h2m12 0h1m1 0h1m9 0h2m11 0h1m51 0h1M419 108.5h1m10 0h1m10 0h1m67 0h1m1 0h1m1 0h1m1 0h1m3 0h1m4 0h1m8 0h3m7 0h2m1 0h1m1 0h1m3 0h2m2 0h1m1 0h1m2 0h2m1 0h1m1 0h1m4 0h1m7 0h2m3 0h1M468 109.5h1m46 0h1m8 0h1m5 0h1m7 0h1m10 0h2m11 0h2m1 0h2m3 0h2m2 0h1m7 0h1m1 0h1M335 110.5h1m1 0h1m7 0h1m1 0h1m11 0h1m21 0h1m1 0h1m23 0h1m8 0h1m1 0h1m10 0h1m8 0h2m2 0h1m19 0h1m1 0h1m43 0h2m1 0h2m4 0h2m7 0h1m15 0h1m10 0h1m2 0h1m1 0h2m4 0h1m7 0h1m5 0h1m2 0h2m1 0h1M329 111.5h3m2 0h1m10 0h2m22 0h1m8 0h1m14 0h1m12 0h1m1 0h1m2 0h1m4 0h1m1 0h2m6 0h3m3 0h1m4 0h1m2 0h1m10 0h1m12 0h1m22 0h1m1 0h1m3 0h1m8 0h2m13 0h2m1 0h2m7 0h2m2 0h1m10 0h1m8 0h1m1 0h2m24 0h2m8 0h1M514 113.5h1m1 0h1m10 0h1m10 0h3m29 0h1m3 0h1m8 0h2M359 114.5h1m95 0h1m33 0h1m1 0h1m16 0h1m4 0h1m1 0h1m1 0h1m4 0h1m4 0h1m1 0h1m3 0h3m4 0h4m3 0h2m2 0h2m3 0h2m1 0h1m1 0h1m2 0h2m4 0h5m1 0h1m1 0h5M345 115.5h1m23 0h1m58 0h1m79 0h1m2 0h1m2 0h4m2 0h1m1 0h1m3 0h3m10 0h2m3 0h1m9 0h3m5 0h1m1 0h3m1 0h1m3 0h1m1 0h1m2 0h2m5 0h1M322 116.5h1m10 0h1m59 0h1m98 0h1m15 0h1m1 0h3m17 0h1m1 0h2m2 0h1m18 0h1m2 0h1m7 0h1M325 117.5h1m18 0h1m9 0h1m12 0h1m27 0h1m10 0h1m1 0h1m8 0h1m8 0h1m1 0h2m9 0h1m2 0h1m11 0h2m12 0h1m6 0h1m20 0h1m3 0h1m29 0h1m54 0h1m2 0h1M510 118.5h1m6 0h1m4 0h2m6 0h1m3 0h1m2 0h1m3 0h1m1 0h1m5 0h2m2 0h2m2 0h1m2 0h1m4 0h2m1 0h3m7 0h1M515 119.5h1m36 0h1m18 0h1M511 120.5h2m10 0h2m5 0h2m1 0h5m1 0h1m2 0h1m3 0h1m1 0h2m4 0h3m6 0h1m5 0h1m8 0h1M509 121.5h2m10 0h1m6 0h1m1 0h3m1 0h1m6 0h2m6 0h1m3 0h1m1 0h1m1 0h2m2 0h4m1 0h1m3 0h1m1 0h3m6 0h1m1 0h1M415 122.5h1m13 0h1m5 0h1m14 0h1m2 0h1m13 0h1m40 0h3m2 0h1m3 0h1m3 0h1m6 0h1m1 0h2m1 0h1m1 0h2m5 0h2m5 0h1m7 0h1m1 0h1m1 0h3m2 0h1m4 0h2m5 0h2m1 0h2m1 0h1M479 123.5h1m10 0h2m22 0h2m8 0h3m4 0h1m5 0h2m3 0h3m5 0h1m1 0h1m4 0h1m8 0h1m8 0h1m8 0h1M153 124.5h4m67 0h1m15 0h1m4 0h1m1 0h2m1 0h2m19 0h1m5 0h1m45 0h1m9 0h1m11 0h2m13 0h1m19 0h2m9 0h1m19 0h1m3 0h1m12 0h1m7 0h1m26 0h1m3 0h1m1 0h1m32 0h1m7 0h1m7 0h1m2 0h1m7 0h2m1 0h2m2 0h2m5 0h1m4 0h1m2 0h1m2 0h2m22 0h1M249 125.5h1m82 0h1m11 0h2m13 0h1m34 0h1m55 0h1m13 0h1m37 0h1m6 0h2m4 0h1m2 0h1m2 0h1m1 0h1m1 0h1m1 0h1m5 0h3m6 0h1m5 0h1m5 0h1m1 0h2m2 0h1m7 0h1m1 0h1m5 0h2m1 0h1m2 0h2M155 126.5h1m106 0h1m69 0h1m22 0h1m3 0h1m34 0h1m12 0h1m32 0h1m50 0h1m27 0h1m3 0h1m17 0h1m1 0h2m1 0h1m1 0h1m2 0h1m1 0h1m12 0h1m10 0h2M155 127.5h1m22 0h1m34 0h1m21 0h1m14 0h1m73 0h2m3 0h2m11 0h2m12 0h1m9 0h2m3 0h1m11 0h3m5 0h1m1 0h1m1 0h2m16 0h1m4 0h2m15 0h2m4 0h1m11 0h1m1 0h1m23 0h1m7 0h1m1 0h1m2 0h2m4 0h2m1 0h1m2 0h1m80 0h1m5 0h1M153 128.5h1m22 0h1m58 0h1m60 0h1m74 0h1m24 0h1m33 0h1m12 0h1m9 0h1m14 0h1m6 0h1m3 0h1m11 0h1m85 0h1m1 0h1m2 0h1M180 129.5h1m29 0h1m156 0h1m16 0h1m9 0h1m46 0h1m67 0h4m4 0h1m2 0h1m2 0h3m7 0h1m1 0h1m1 0h2m1 0h2m7 0h1m6 0h1m1 0h3m1 0h2m1 0h2m6 0h1m2 0h1m1 0h2m2 0h1M330 134.5h1m63 0h1m72 0h1m24 0h1m30 0h2m10 0h1m1 0h2m1 0h1m4 0h3m7 0h1m1 0h1m4 0h1m10 0h1m1 0h2M151 138.5h1m3 0h1m10 0h1m7 0h4m2 0h1m5 0h1m1 0h1m8 0h1m3 0h1m1 0h1m11 0h2m20 0h2m1 0h1m4 0h2m2 0h3m8 0h3m1 0h1m6 0h1m1 0h1m13 0h1m8 0h2m1 0h2m9 0h1m10 0h3m1 0h1m3 0h1m2 0h1m2 0h1m1 0h1m1 0h1m3 0h1m11 0h1m3 0h2m4 0h2m2 0h1m2 0h1m7 0h2m11 0h1m18 0h1m6 0h1m9 0h1m23 0h1m9 0h1m2 0h3m7 0h1m1 0h3m5 0h1m9 0h1m10 0h1m2 0h1m1 0h1m5 0h1m1 0h3m1 0h1m4 0h2m9 0h1m1 0h1m1 0h1m6 0h1m2 0h1m1 0h1m3 0h1m6 0h1m9 0h2m1 0h1m1 0h1M153 139.5h1m11 0h2m10 0h1m10 0h1m14 0h2m16 0h1m1 0h1m21 0h1m27 0h2m19 0h1m12 0h2m16 0h1m2 0h1m1 0h2m24 0h1m10 0h1m1 0h1m1 0h1m9 0h1m1 0h2m6 0h1m10 0h2m4 0h1m2 0h1m7 0h1m7 0h2m7 0h1m18 0h1m6 0h2m25 0h1m3 0h1m97 0h1M155 140.5h1m8 0h1m21 0h1m2 0h3m1 0h1m3 0h1m3 0h1m14 0h1m4 0h1m4 0h2m6 0h1m1 0h1m3 0h1m21 0h1m12 0h1m1 0h1m16 0h1m12 0h1m2 0h1m1 0h2m7 0h4m4 0h2m3 0h1m2 0h1m10 0h1m2 0h1m1 0h1m5 0h1m11 0h1m8 0h1m10 0h1m3 0h1m6 0h3m7 0h1m9 0h1m4 0h1m4 0h1m16 0h1m1 0h1m1 0h1m8 0h1m14 0h1m2 0h1m3 0h1m8 0h1m35 0h1m24 0h1m22 0h1m10 0h2m1 0h1M174 141.5h1m1 0h1m12 0h1m105 0h1m25 0h1m16 0h1m2 0h3m3 0h1m7 0h2m2 0h1m5 0h2m2 0h1m1 0h1m6 0h1m1 0h2m2 0h1m19 0h1m1 0h1m22 0h1m1 0h1m3 0h1m5 0h2m12 0h1m8 0h1m1 0h2m6 0h1m2 0h2m5 0h1m4 0h3m5 0h1m1 0h1m11 0h1m6 0h2m1 0h1m8 0h2m1 0h1m20 0h1m9 0h1m1 0h1m2 0h2m6 0h1M176 142.5h1m134 0h2m9 0h1m70 0h1M153 146.5h1m1 0h1m22 0h1m25 0h1m11 0h1m22 0h1m47 0h1m10 0h1m12 0h1m10 0h1m20 0h1m13 0h1m61 0h1m34 0h2m42 0h1m18 0h2m12 0h3m8 0h2m10 0h1m10 0h1m12 0h1M104 147.5h1m58 0h1m4 0h1m5 0h1m1 0h1m33 0h4m25 0h2m22 0h1m21 0h3m20 0h1m13 0h1m21 0h1m12 0h1m1 0h1m7 0h1m15 0h1m7 0h1m49 0h1m24 0h2m7 0h1m14 0h1m1 0h1m13 0h2m11 0h1m47 0h3M286 148.5h1m41 0h1m3 0h1m4 0h2m26 0h1m30 0h1m21 0h1m3 0h1m18 0h1m22 0h2m9 0h1m16 0h1m4 0h3m7 0h2m1 0h2m20 0h1m10 0h1m22 0h1m14 0h1m3 0h1M155 150.5h1m30 0h1m4 0h1m11 0h1m6 0h1m1 0h2m13 0h1m22 0h1m9 0h1m14 0h1m23 0h2m5 0h1m4 0h1m9 0h1m2 0h1m41 0h1m24 0h1m14 0h2m7 0h1m15 0h1m8 0h2m22 0h1m12 0h1m1 0h1m41 0h1m10 0h1m3 0h1m3 0h1m14 0h2m31 0h1M174 151.5h1m29 0h1m18 0h1m13 0h1m22 0h1m25 0h1m1 0h1m32 0h1m48 0h2m11 0h2m20 0h1m13 0h1m7 0h1m14 0h1m10 0h1m10 0h1m34 0h1m1 0h1m6 0h1m8 0h3m3 0h2m1 0h2m2 0h1m4 0h2m1 0h3m6 0h1m2 0h2m1 0h1m2 0h1m10 0h1m7 0h1m1 0h1M308 152.5h1m61 0h1m47 0h2m77 0h1m3 0h2m2 0h1m1 0h2m8 0h1m2 0h2m2 0h1m3 0h3m1 0h1m2 0h1m5 0h3m10 0h3m1 0h1m1 0h1m1 0h2m2 0h1m13 0h3M354 153.5h1m1 0h1m32 0h1m13 0h1m181 0h2m1 0h2m1 0h1M174 154.5h1m16 0h2m11 0h1m5 0h1m10 0h1m1 0h1m1 0h1m12 0h1m12 0h1m34 0h1m60 0h1m23 0h1m9 0h2m22 0h1m30 0h1m15 0h3m10 0h1m11 0h1m18 0h1m2 0h1m1 0h1m31 0h1m1 0h1m14 0h1m26 0h1m13 0h1M149 155.5h1M167 156.5h1m25 0h1m10 0h1m5 0h1m14 0h1m23 0h1m1 0h2m79 0h2m93 0h1m13 0h1m9 0h1m65 0h1m14 0h1m8 0h2m2 0h1m7 0h1m4 0h1m7 0h1m1 0h1m11 0h1M192 157.5h1m45 0h3m70 0h1m117 0h1m21 0h1m45 0h2m3 0h1m4 0h3m1 0h1m3 0h1m1 0h3m3 0h1m5 0h1m1 0h3m2 0h1m7 0h1m2 0h1m2 0h1m2 0h1m13 0h1m1 0h1m10 0h3m7 0h1M178 158.5h2m42 0h1m17 0h1m105 0h1m37 0h1m46 0h1m9 0h1m35 0h2m10 0h1m9 0h1m7 0h1m9 0h1m2 0h2m18 0h2m1 0h2m5 0h1m2 0h2m3 0h1m7 0h1m1 0h1m1 0h3M165 160.5h2m44 0h1m25 0h1m8 0h2m47 0h1m15 0h1m12 0h1m8 0h1m68 0h1m34 0h1m3 0h1m9 0h1m3 0h1m22 0h1m9 0h1m7 0h1m11 0h1m9 0h5m7 0h2m11 0h1m1 0h2m1 0h1m4 0h1m2 0h2m4 0h1m1 0h2m1 0h1m5 0h1m3 0h3m2 0h1M249 162.5h2m44 0h1m16 0h1m17 0h1m17 0h1m114 0h1m33 0h4m11 0h1m1 0h2m3 0h1m1 0h1m11 0h1m4 0h2m6 0h1m5 0h1m1 0h2m4 0h1m8 0h1m2 0h2m3 0h1m2 0h1m2 0h1M179 164.5h1m7 0h2m4 0h1m7 0h2m6 0h2m26 0h1m9 0h1m16 0h1m19 0h1m10 0h1m34 0h1m1 0h1m4 0h1m1 0h1m62 0h1m2 0h2m12 0h2m22 0h2m6 0h1m4 0h1m20 0h1m23 0h1m4 0h1m2 0h1m3 0h1m3 0h1m3 0h1m8 0h1m3 0h1m1 0h1m6 0h2m3 0h1m3 0h1m1 0h1m1 0h1m11 0h1m1 0h1m8 0h1m1 0h2m1 0h1M180 167.5h1m66 0h1m84 0h1m165 0h3m3 0h1m9 0h4m1 0h4m1 0h2m6 0h1m1 0h2m1 0h1m1 0h1m3 0h2m4 0h1m3 0h2m2 0h1m2 0h1m3 0h1m6 0h1m3 0h1m7 0h1M204 172.5h1m324 0h2m6 0h1m1 0h2m3 0h1m7 0h1m9 0h1m13 0h1m5 0h1m1 0h1M102 173.5h1M120 174.5h1m59 0h1m23 0h1m6 0h1m25 0h1m157 0h1m28 0h1m77 0h2m5 0h1m9 0h1m2 0h3m5 0h2m1 0h5m4 0h1m1 0h2m3 0h5m6 0h3m7 0h5m4 0h1m1 0h3M60 175.5h1m132 0h1m22 0h1m18 0h1m12 0h1m10 0h1m1 0h1m16 0h3m4 0h1m2 0h1m21 0h1m26 0h1m51 0h1m21 0h1m2 0h1m61 0h1m20 0h1m1 0h1m1 0h2m2 0h1m1 0h3m1 0h1m1 0h2m4 0h1m1 0h1m4 0h1m2 0h1m1 0h2m2 0h3m1 0h2m2 0h1m4 0h2m2 0h1m1 0h1m3 0h1m2 0h1m2 0h2m2 0h1m1 0h1m8 0h1m3 0h1M384 181.5h1m47 0h1m86 0h1m58 0h1M70 183.5h1m282 0h4M261 185.5h1m26 0h1m69 0h1m8 0h1m16 0h1m18 0h1m2 0h1m10 0h1m1 0h1m1 0h1m6 0h1m2 0h1m4 0h1m2 0h1m1 0h1m1 0h1m11 0h1m9 0h4m7 0h1m1 0h1m12 0h2m93 0h3m1 0h2M523 187.5h1m7 0h1m16 0h1m10 0h1m2 0h1m6 0h1m10 0h1M406 188.5h1m101 0h1m1 0h2m6 0h1m1 0h1m2 0h2m2 0h1m3 0h1m2 0h1m5 0h1m2 0h1m2 0h2m1 0h1m1 0h1m4 0h3m6 0h1m4 0h1m4 0h1m1 0h1m5 0h2M155 189.5h1m7 0h2m36 0h1m2 0h1m8 0h1m1 0h2m18 0h1m40 0h1m46 0h1m6 0h1m3 0h2m12 0h1m4 0h1m30 0h1m9 0h2m10 0h2m20 0h1m3 0h1m20 0h1m13 0h1m18 0h1m2 0h2m6 0h3m2 0h1m83 0h1m1 0h1m1 0h2M179 190.5h2m154 0h1m31 0h1m26 0h1m25 0h1m8 0h1m11 0h1m1 0h1m7 0h1m3 0h1m8 0h2m25 0h1m7 0h1m20 0h1m64 0h1m1 0h2m1 0h2M323 191.5h1m9 0h1m12 0h3m10 0h1m34 0h2m70 0h1m24 0h1m25 0h1m12 0h1m2 0h1m8 0h2m11 0h1m4 0h1m5 0h3m8 0h2m1 0h1M211 192.5h1m27 0h1m82 0h1m12 0h2m19 0h1m3 0h1m29 0h1m9 0h2m4 0h1m1 0h1m19 0h1m1 0h1m22 0h1m14 0h1m11 0h1m16 0h1m1 0h1m18 0h1m11 0h1m13 0h1m33 0h1m1 0h1m9 0h1M382 193.5h1m47 0h1m31 0h1m15 0h1m29 0h1m2 0h1m1 0h1m4 0h1m1 0h1m1 0h2m3 0h1m4 0h1m4 0h2m2 0h1m1 0h2m7 0h1m5 0h1m2 0h1m4 0h1m9 0h2m1 0h1m4 0h1M510 195.5h1m4 0h2m4 0h1m1 0h5m2 0h2m2 0h2m9 0h1m6 0h1m3 0h1m1 0h3m12 0h4m2 0h1m1 0h1m2 0h1M167 196.5h1m249 0h1m1 0h1m7 0h1m22 0h1m3 0h1m10 0h1m8 0h1m1 0h1m26 0h1m53 0h1m19 0h2M358 197.5h1m92 0h1m3 0h1m11 0h2m10 0h1m6 0h2m2 0h1m16 0h1m12 0h1m21 0h1M167 200.5h1m8 0h1m36 0h1m49 0h2m21 0h1m10 0h1m167 0h1m47 0h1m11 0h1m33 0h2m22 0h2M153 203.5h1m9 0h1m12 0h1m14 0h1m11 0h1m6 0h1m2 0h1m2 0h1m17 0h1m12 0h1m15 0h1m8 0h1m1 0h1m2 0h1m10 0h1m12 0h1m21 0h1m9 0h1m12 0h2m18 0h1m12 0h2m1 0h1m12 0h1m10 0h1m20 0h1m2 0h1m4 0h2m3 0h1m1 0h1m7 0h1m5 0h1m5 0h1m1 0h1m2 0h1m10 0h1m1 0h1m78 0h1m6 0h1M503 204.5h1m10 0h2m8 0h3m12 0h1m12 0h1m2 0h1m1 0h2m3 0h2m3 0h1m3 0h1M180 205.5h1m144 0h1m7 0h1m106 0h1m55 0h1m10 0h2m3 0h1m4 0h1m1 0h1m3 0h1m7 0h1m2 0h2m6 0h2m11 0h1m10 0h1m10 0h2M497 206.5h2m1 0h1m7 0h1m8 0h2m2 0h3m8 0h2m3 0h1m3 0h1m4 0h4m3 0h2m2 0h4m3 0h3m2 0h1m5 0h1m1 0h3m1 0h1m1 0h1M151 207.5h1m2 0h1m8 0h1m12 0h1m1 0h2m13 0h1m3 0h1m3 0h1m8 0h1m6 0h1m6 0h1m12 0h2m11 0h1m9 0h2m22 0h1m3 0h1m9 0h1m1 0h1m11 0h1m10 0h1m5 0h1m1 0h2m13 0h1m6 0h1m1 0h2m12 0h1m10 0h1m12 0h2m9 0h2m5 0h1m13 0h2m23 0h1m2 0h1m8 0h1m2 0h1m1 0h2m7 0h1m10 0h3m3 0h1m94 0h2m1 0h1M164 208.5h1m12 0h1m44 0h1m5 0h1m65 0h3m28 0h1m17 0h1m48 0h1m14 0h2m3 0h1m18 0h1m4 0h1m2 0h1m26 0h1m2 0h1m5 0h2m108 0h1m1 0h1m1 0h3M465 209.5h1m32 0h3m4 0h1m1 0h2m11 0h1m1 0h2m4 0h3m1 0h1m6 0h1m1 0h2m9 0h1m1 0h2m1 0h1m1 0h1m3 0h1m1 0h1m2 0h2m6 0h1m1 0h1m2 0h1m2 0h1M149 210.5h1m4 0h1m12 0h1m6 0h1m1 0h2m11 0h2m7 0h1m2 0h1m1 0h1m9 0h1m11 0h1m1 0h1m9 0h1m12 0h2m7 0h1m1 0h1m2 0h1m5 0h2m15 0h2m18 0h1m1 0h2m1 0h1m1 0h1m7 0h1m6 0h1m2 0h1m1 0h1m23 0h1m7 0h1m15 0h1m1 0h1m4 0h1m3 0h1m12 0h2m15 0h1m5 0h1m7 0h1m2 0h1m1 0h1m7 0h1m15 0h1m23 0h2m74 0h1m19 0h1m2 0h1m1 0h1M150 211.5h1m3 0h1m1 0h1m18 0h1m1 0h1m1 0h1m5 0h1m13 0h1m3 0h2m8 0h1m7 0h1m3 0h1m13 0h1m6 0h1m3 0h1m8 0h1m11 0h1m12 0h1m1 0h1m7 0h1m2 0h1m10 0h1m1 0h1m3 0h1m18 0h1m12 0h1m23 0h1m22 0h1m1 0h1m10 0h2m3 0h1m6 0h1m10 0h3m8 0h1m21 0h1m2 0h1m10 0h1m14 0h2m5 0h1m81 0h1m6 0h1M201 212.5h1m60 0h1m23 0h1m25 0h1m11 0h1m4 0h1m1 0h1m1 0h3m7 0h1m3 0h1m5 0h2m1 0h1m1 0h2m6 0h1m1 0h3m7 0h1m13 0h3m6 0h2m2 0h1m5 0h1m29 0h1m56 0h1m8 0h1m9 0h3m1 0h1m9 0h1m1 0h1m10 0h1m20 0h1m3 0h2m7 0h1m2 0h1M500 213.5h1m1 0h1m4 0h1m2 0h1m3 0h1m7 0h3m3 0h1m1 0h1m6 0h1m1 0h1m16 0h2m1 0h2m1 0h1m2 0h1m5 0h1m2 0h1m1 0h3M6 214.5h1m155 0h1m209 0h1m212 0h7M382 215.5h1m23 0h1m6 0h1m4 0h1m10 0h4m2 0h1m1 0h1m6 0h1m8 0h1m2 0h1m18 0h1m3 0h1m5 0h1m2 0h1m2 0h2m3 0h1m70 0h1m18 0h1M273 216.5h1m51 0h1m16 0h1m14 0h1m116 0h1m111 0h1M155 218.5h1m11 0h1m7 0h3m12 0h1m9 0h1m8 0h4m13 0h1m9 0h1m8 0h4m11 0h1m3 0h1m10 0h1m7 0h1m10 0h1m2 0h1m12 0h1m3 0h1m38 0h1m15 0h1m26 0h1m42 0h1m3 0h1m12 0h1m131 0h2m1 0h1M151 219.5h2m1 0h2m8 0h2m37 0h2m4 0h2m5 0h1m4 0h1m1 0h1m12 0h1m2 0h1m5 0h1m14 0h1m11 0h1m11 0h1m11 0h1m26 0h1m5 0h2m2 0h1m10 0h1m3 0h1m7 0h1m14 0h2m5 0h1m13 0h1m13 0h1m6 0h1m6 0h1m4 0h1m4 0h1m5 0h1m6 0h1m7 0h1m1 0h1m1 0h1m9 0h1m1 0h1m1 0h1m8 0h1m8 0h2m4 0h1m97 0h1M165 222.5h1m11 0h1m1 0h1m9 0h1m19 0h1m2 0h1m9 0h2m4 0h1m33 0h1m12 0h1m3 0h1m3 0h1m1 0h1m9 0h1m11 0h1m1 0h1m2 0h1m8 0h1m2 0h1m4 0h1m2 0h1m13 0h1m1 0h1m17 0h2m2 0h1m7 0h1m21 0h1m18 0h1m12 0h1m6 0h1m2 0h2m11 0h1m19 0h2m3 0h1m12 0h1m97 0h1M210 223.5h1m1 0h1m9 0h1m4 0h1m31 0h2m14 0h1m19 0h1m63 0h1m31 0h1m71 0h1m121 0h1m3 0h1M50 224.5h1m378 0h1M212 228.5h1m223 0h1m18 0h1m22 0h1m107 0h2m3 0h1M429 229.5h1m1 0h1m11 0h1m20 0h1m13 0h1M502 231.5h1m7 0h1m2 0h1m1 0h2m4 0h3m1 0h1m1 0h2m9 0h3m5 0h2m1 0h1m2 0h1m9 0h1m3 0h2m3 0h1m1 0h2m8 0h2M501 233.5h2m6 0h1m2 0h1m11 0h1m4 0h1m6 0h1m4 0h1m2 0h1m3 0h2m6 0h9m2 0h1m1 0h3m1 0h4m6 0h2M155 234.5h1m19 0h2m2 0h1m12 0h2m19 0h1m9 0h1m24 0h2m20 0h1m1 0h2m13 0h1m22 0h1m55 0h2m13 0h1m47 0h1m21 0h2m11 0h2m2 0h1m20 0h1m2 0h1m14 0h1m3 0h1m5 0h1m24 0h1M155 235.5h1m11 0h1m9 0h1m13 0h1m21 0h1m1 0h1m22 0h1m72 0h1m32 0h1m3 0h1m9 0h2m11 0h1m20 0h1m36 0h1m11 0h1m11 0h1m33 0h1m3 0h1m13 0h1m36 0h3m1 0h1m10 0h1m7 0h3M155 236.5h1m202 0h1m137 0h1m1 0h2m8 0h4m2 0h1m11 0h1m6 0h1m4 0h1m1 0h1m2 0h2m4 0h1m3 0h1m1 0h1m1 0h1m9 0h3m7 0h2M168 237.5h1m22 0h2m80 0h1m2 0h1m20 0h1m13 0h1m46 0h1m82 0h1m44 0h1m12 0h1m7 0h2m3 0h1m1 0h1m2 0h1m1 0h1m1 0h2m9 0h1m2 0h1m21 0h1m1 0h1m8 0h1m10 0h1m11 0h1M263 239.5h1m105 0h1m73 0h1m54 0h2m1 0h1m1 0h1m13 0h1m2 0h1m29 0h2m2 0h1m1 0h1m11 0h1m8 0h1M151 240.5h1m25 0h1m25 0h1m7 0h1m48 0h1m2 0h1m23 0h1m44 0h2m10 0h1m8 0h1m1 0h1m4 0h1m5 0h2m1 0h1m1 0h1m35 0h1m57 0h1m1 0h1m6 0h1m3 0h1m112 0h1M155 242.5h1m29 0h1m17 0h1m12 0h1m4 0h1m15 0h1m25 0h1m23 0h1m19 0h1m21 0h3m4 0h1m8 0h1m1 0h1m18 0h1m2 0h1m22 0h1m14 0h1m4 0h1m7 0h1m15 0h3m5 0h1m7 0h1m2 0h1m7 0h1m2 0h1m8 0h1m9 0h1m5 0h2m94 0h1M164 243.5h1m26 0h1m71 0h1m33 0h1m1 0h2m9 0h1m10 0h2m8 0h1m12 0h1m8 0h1m51 0h1m1 0h1m4 0h1m3 0h1m3 0h1m10 0h1m3 0h2m2 0h1m3 0h1m6 0h1m4 0h1m7 0h2m2 0h2m5 0h1m4 0h1m5 0h1m1 0h1m3 0h1m95 0h1M166 244.5h1m18 0h1m18 0h1m10 0h1m10 0h1m6 0h1m6 0h1m4 0h1m17 0h1m19 0h1m1 0h1m1 0h1m19 0h1m5 0h1m13 0h1m7 0h2m3 0h3m1 0h1m4 0h1m9 0h2m5 0h1m12 0h1m95 0h2m13 0h1m100 0h1M155 245.5h1m7 0h1m10 0h1m3 0h1m7 0h1m14 0h2m1 0h1m5 0h1m3 0h1m7 0h1m13 0h3m13 0h1m6 0h2m3 0h1m6 0h1m24 0h1m13 0h2m9 0h1m1 0h1m11 0h2m18 0h1m15 0h1m20 0h1m24 0h1m12 0h2m9 0h3m10 0h2m7 0h1m1 0h1m26 0h1m5 0h1m86 0h1m5 0h1M152 246.5h1m1 0h1m1 0h1m8 0h1m11 0h1m3 0h1m4 0h1m2 0h1m3 0h1m16 0h1m1 0h2m7 0h3m9 0h2m14 0h1m1 0h1m32 0h1m25 0h1m1 0h2m14 0h2m7 0h2m2 0h1m1 0h3m8 0h1m23 0h1m2 0h1m1 0h1m27 0h1m8 0h1m5 0h1m8 0h1m2 0h2m24 0h1m21 0h1m1 0h3m2 0h1m91 0h1m1 0h2m2 0h1M152 248.5h1m13 0h2m19 0h1m38 0h1m12 0h1m5 0h1m4 0h1m33 0h2m1 0h1m11 0h2m21 0h1m10 0h1m10 0h1m12 0h2m42 0h1m16 0h1m8 0h1m15 0h1m11 0h1m6 0h1m1 0h1m1 0h1m1 0h1m6 0h1m2 0h1m6 0h1m45 0h1m1 0h1m21 0h1m25 0h2M153 249.5h1m24 0h2m93 0h1m2 0h1m90 0h1m23 0h1m72 0h1m31 0h1m13 0h1m7 0h1m28 0h1m5 0h1m1 0h2m7 0h3m15 0h2M156 250.5h1m9 0h1m31 0h1m4 0h1m9 0h2m24 0h1m6 0h1m12 0h1m2 0h2m32 0h1m3 0h1m10 0h1m12 0h1m8 0h1m10 0h1m13 0h1m1 0h1m6 0h2m1 0h1m8 0h1m26 0h1m4 0h1m17 0h2m22 0h1m32 0h2m4 0h1m11 0h2m1 0h2m1 0h3m1 0h1m1 0h3m1 0h1m8 0h1m2 0h1m2 0h2m1 0h2m1 0h2m1 0h1m11 0h3m1 0h1m4 0h1m1 0h1m6 0h1M346 251.5h1m149 0h1m1 0h1m9 0h1m3 0h6m2 0h1m2 0h1m5 0h3m1 0h2m1 0h1m5 0h1m4 0h1m1 0h2m2 0h1m3 0h1m1 0h2m7 0h1m4 0h1m1 0h1m3 0h1m2 0h1M175 252.5h1m72 0h1m13 0h1m10 0h1m11 0h2m46 0h1m10 0h1m1 0h1m9 0h1m10 0h1m128 0h1m2 0h1m1 0h1m9 0h1m1 0h4m5 0h1m2 0h1m2 0h1m6 0h1m5 0h3m4 0h3m2 0h4m1 0h1m1 0h1m4 0h1m1 0h1m1 0h1m3 0h2m1 0h1m2 0h5M0 253.5h1M156 254.5h1m6 0h3m2 0h1m5 0h2m13 0h4m4 0h2m4 0h2m18 0h1m3 0h1m12 0h1m4 0h1m1 0h1m4 0h1m17 0h1m4 0h2m11 0h1m5 0h2m3 0h2m8 0h3m12 0h1m4 0h2m2 0h1m2 0h1m4 0h1m5 0h1m5 0h1m3 0h2m1 0h1m5 0h1m1 0h2m1 0h1m6 0h1m12 0h3m7 0h1m2 0h1m1 0h1m4 0h1m4 0h1m1 0h2m10 0h1m8 0h1m3 0h1m9 0h1m1 0h1m10 0h1m1 0h1m7 0h1m2 0h1m10 0h1m1 0h1m4 0h2m1 0h1m9 0h1m32 0h1m10 0h1m6 0h1m5 0h2m8 0h1m1 0h1m1 0h1m8 0h1M250 255.5h1m93 0h1m71 0h1m1 0h1m2 0h1m13 0h1m4 0h1m9 0h1m13 0h1m1 0h2m18 0h1m2 0h1m2 0h1m12 0h1m1 0h1m3 0h2m6 0h5m5 0h1m1 0h2m3 0h1m12 0h1m3 0h1m3 0h3m1 0h1m4 0h1m3 0h1m3 0h1m2 0h1m1 0h1m2 0h1M162 257.5h1m12 0h1m24 0h1m12 0h1m66 0h2m1 0h1m26 0h1m73 0h1m5 0h1m99 0h1m98 0h3M204 258.5h1m7 0h1m75 0h1m44 0h1m12 0h1m23 0h1m13 0h1m113 0h1m19 0h1m1 0h1m9 0h1m1 0h1m10 0h2m9 0h3m13 0h1m9 0h1m10 0h1M155 259.5h1m11 0h1m7 0h1m1 0h1m11 0h1m23 0h1m33 0h1m3 0h1m10 0h1m1 0h1m30 0h1m11 0h1m4 0h1m31 0h1m14 0h1m9 0h2m13 0h1m21 0h1m25 0h1m21 0h1m9 0h1m13 0h1m7 0h2m3 0h1m36 0h1m1 0h1m30 0h1m4 0h1m9 0h3m12 0h1M164 260.5h1m24 0h1m1 0h2m5 0h1m15 0h1m1 0h1m6 0h1m1 0h2m12 0h2m6 0h1m1 0h1m12 0h1m11 0h3m1 0h1m1 0h2m3 0h1m8 0h2m10 0h1m2 0h1m1 0h1m16 0h1m1 0h2m8 0h1m5 0h2m5 0h1m13 0h1m9 0h1m2 0h1m9 0h1m1 0h1m9 0h1m1 0h1m14 0h1m6 0h1m8 0h1m1 0h6m13 0h1m6 0h1m5 0h1m2 0h1m3 0h2m63 0h1m11 0h1m1 0h1m5 0h1m3 0h1m19 0h1m5 0h1"/><path stroke="#7571db" d="M166 1.5h1m46 0h2m1 0h1m21 0h1m1 0h1m45 0h1m9 0h1m1 0h3m21 0h1m22 0h1m10 0h1m9 0h1m3 0h1m24 0h1m6 0h1m13 0h1m23 0h1m24 0h1m13 0h1m10 0h1m7 0h3m11 0h2m4 0h1m1 0h2m2 0h2m1 0h2m9 0h1m5 0h1m1 0h1m2 0h3m3 0h1m2 0h1m1 0h1m2 0h1m4 0h1m1 0h3m5 0h1m4 0h1M152 2.5h1m1 0h2m9 0h2m8 0h1m3 0h1m6 0h1m15 0h2m7 0h2m3 0h1m4 0h1m15 0h1m2 0h1m18 0h1m2 0h2m6 0h3m2 0h3m9 0h1m10 0h1m1 0h1m7 0h1m24 0h2m9 0h2m8 0h1m1 0h1m1 0h1m10 0h1m2 0h1m6 0h2m1 0h1m10 0h1m1 0h1m8 0h1m1 0h2m9 0h1m10 0h1m7 0h1m13 0h2m3 0h1m7 0h1m4 0h1m11 0h1m5 0h1m2 0h2m6 0h2m1 0h1m5 0h1m2 0h1m2 0h1m1 0h1m2 0h2m10 0h1m8 0h1m2 0h1m2 0h1m9 0h4m8 0h1m13 0h2M163 3.5h1m12 0h1m2 0h1m6 0h1m2 0h1m33 0h1m27 0h1m9 0h1m14 0h1m65 0h1m3 0h1m2 0h1m4 0h1m11 0h1m17 0h1m8 0h3m8 0h2m30 0h1m4 0h2m49 0h1m4 0h4m2 0h1m1 0h1m1 0h4m1 0h1m1 0h1m3 0h1m2 0h1m7 0h3m2 0h2m8 0h2m1 0h4m4 0h1m4 0h4m2 0h1m4 0h3m1 0h1m2 0h1m3 0h1M442 4.5h1m8 0h1m2 0h1m12 0h1m7 0h1m2 0h1m18 0h1m2 0h3m4 0h6m1 0h1m2 0h2m3 0h2m4 0h1m3 0h1m1 0h1m3 0h1m2 0h1m2 0h1m1 0h1m3 0h1m10 0h1m1 0h3m2 0h1m4 0h1m1 0h2m2 0h2m3 0h1M151 6.5h2m2 0h1m33 0h1m7 0h1m1 0h1m1 0h1m1 0h2m5 0h2m2 0h1m6 0h1m4 0h1m6 0h1m15 0h1m26 0h1m18 0h1m9 0h2m24 0h1m1 0h1m12 0h2m1 0h1m9 0h2m16 0h1m3 0h1m14 0h1m8 0h2m21 0h2m1 0h1m21 0h1m1 0h1m11 0h2m17 0h1m5 0h1m7 0h1m3 0h1m4 0h1m7 0h1m2 0h2m6 0h1m1 0h3m2 0h1m1 0h1m1 0h1m4 0h1m9 0h1m3 0h1m2 0h1m2 0h1m4 0h1m2 0h1m5 0h1m2 0h1m1 0h2M151 7.5h1m1 0h1m10 0h2m2 0h1m9 0h2m6 0h1m1 0h1m9 0h2m4 0h1m8 0h3m5 0h1m1 0h1m1 0h2m6 0h1m3 0h1m2 0h1m6 0h1m16 0h1m10 0h1m10 0h1m8 0h1m2 0h3m4 0h4m1 0h2m9 0h1m8 0h2m2 0h1m1 0h1m5 0h3m3 0h2m6 0h2m1 0h1m11 0h1m5 0h1m3 0h2m11 0h3m7 0h1m9 0h1m1 0h1m1 0h1m8 0h1m8 0h1m1 0h1m12 0h2m3 0h1m4 0h1m2 0h1m1 0h1m1 0h1m11 0h1m4 0h2m3 0h3m5 0h1m8 0h1m6 0h1m2 0h4m22 0h1m23 0h1m10 0h1M153 8.5h1m1 0h2m17 0h1m2 0h3m6 0h1m4 0h1m5 0h1m3 0h2m1 0h1m10 0h1m5 0h1m3 0h2m7 0h1m12 0h1m2 0h1m25 0h1m7 0h1m1 0h1m11 0h1m11 0h1m10 0h1m2 0h2m8 0h1m10 0h1m1 0h1m6 0h1m1 0h1m3 0h1m6 0h1m1 0h1m7 0h1m17 0h1m6 0h5m1 0h1m7 0h1m3 0h1m8 0h1m1 0h1m10 0h2m7 0h1m11 0h1m1 0h4m17 0h1m12 0h1m1 0h1m7 0h1m3 0h1m7 0h1m1 0h1m5 0h1m6 0h1m6 0h1m2 0h1m7 0h2m1 0h1m2 0h2m3 0h2m1 0h1m1 0h3m6 0h3M185 9.5h1m23 0h1m36 0h1m1 0h1m28 0h1m3 0h1m12 0h3m9 0h1m1 0h1m36 0h3m5 0h1m23 0h1m28 0h2m26 0h1m1 0h1m15 0h1m1 0h1m19 0h1m5 0h1m104 0h1M151 10.5h1m16 0h1m9 0h1m1 0h1m8 0h1m10 0h2m1 0h1m5 0h1m5 0h1m5 0h1m2 0h1m10 0h1m13 0h1m9 0h1m10 0h1m1 0h3m3 0h2m4 0h1m22 0h2m3 0h1m19 0h1m13 0h1m1 0h1m4 0h1m3 0h1m1 0h2m4 0h1m1 0h2m2 0h1m19 0h1m2 0h1m4 0h1m1 0h2m4 0h1m3 0h1m1 0h1m1 0h2m9 0h1m1 0h1m1 0h2m6 0h2m2 0h1m1 0h2m6 0h1m2 0h1m7 0h1m3 0h2m3 0h1m1 0h1m11 0h3m1 0h2m63 0h1m25 0h1m3 0h1M384 14.5h1m105 0h2m6 0h3m4 0h1m1 0h1m2 0h1m8 0h1m11 0h2m11 0h3m6 0h1m2 0h1m10 0h1m1 0h4m5 0h1m2 0h1M492 15.5h1m10 0h1m15 0h1m1 0h2m3 0h4m4 0h2m1 0h1m2 0h1m7 0h1m4 0h2m1 0h1m1 0h1m3 0h1m1 0h1m3 0h1m3 0h1m2 0h1m6 0h3M334 16.5h1m166 0h2m10 0h1m9 0h1m1 0h1m13 0h2m4 0h1m1 0h1m2 0h1m1 0h1m7 0h1m7 0h1m1 0h1m2 0h1m3 0h1m2 0h1M525 19.5h1m11 0h1m25 0h1m10 0h1M497 20.5h1m9 0h1m65 0h1m9 0h1M497 21.5h1m2 0h1m14 0h1m20 0h1m2 0h1m11 0h3m17 0h1m1 0h1m1 0h2m2 0h2m1 0h3M441 22.5h1m59 0h1m1 0h1m1 0h1m4 0h2m1 0h1m12 0h1m10 0h1m1 0h1m6 0h1m2 0h1m6 0h2m4 0h2m1 0h1m10 0h1m3 0h1m1 0h2M155 23.5h1m6 0h2m3 0h1m6 0h1m1 0h2m2 0h1m6 0h1m9 0h1m2 0h1m3 0h1m6 0h1m2 0h1m6 0h1m1 0h1m2 0h2m10 0h1m22 0h1m12 0h1m1 0h3m6 0h1m10 0h1m26 0h4m3 0h2m11 0h2m2 0h2m8 0h1m8 0h1m1 0h2m1 0h1m20 0h3m1 0h1m6 0h3m12 0h1m9 0h1m12 0h2m13 0h1m21 0h2m4 0h1m2 0h1m1 0h1m17 0h1m2 0h1m6 0h4m1 0h1m6 0h1m1 0h2m1 0h1m7 0h1m5 0h1m17 0h2m1 0h2m1 0h1m2 0h3M150 25.5h1m2 0h1m1 0h1m6 0h1m1 0h2m10 0h1m2 0h1m22 0h1m1 0h1m18 0h1m14 0h1m8 0h1m1 0h1m12 0h2m22 0h1m13 0h1m20 0h1m1 0h1m8 0h1m2 0h1m6 0h1m15 0h2m18 0h1m3 0h1m9 0h2m9 0h1m1 0h1m7 0h1m6 0h1m21 0h1m20 0h1m13 0h1m7 0h1m13 0h1m1 0h3m1 0h1m2 0h3m1 0h2m4 0h2m1 0h1m1 0h1m1 0h1m3 0h2m1 0h2m2 0h1m3 0h2m8 0h1m4 0h1m3 0h1m6 0h2m3 0h1m7 0h1M154 26.5h2m9 0h1m8 0h1m2 0h1m2 0h1m4 0h2m3 0h1m1 0h1m18 0h1m2 0h1m1 0h1m9 0h1m6 0h2m12 0h1m1 0h1m1 0h1m8 0h2m8 0h3m2 0h1m34 0h1m11 0h1m1 0h3m6 0h3m9 0h1m11 0h3m8 0h1m21 0h1m3 0h1m1 0h1m7 0h1m2 0h1m9 0h1m2 0h1m31 0h1m2 0h1m7 0h2m14 0h2m3 0h1m12 0h3m3 0h1m3 0h1m2 0h2m5 0h3m4 0h1m9 0h1m1 0h1m5 0h1m5 0h1m5 0h2m5 0h1m3 0h2m1 0h2m1 0h1M162 27.5h2m13 0h1m33 0h2m38 0h1m8 0h1m61 0h1m8 0h1m7 0h1m1 0h1m2 0h1m2 0h2m2 0h1m2 0h1m10 0h1m1 0h1m1 0h1m14 0h1m5 0h1m5 0h1m14 0h1m28 0h4m6 0h2m1 0h1m8 0h2m1 0h2m7 0h2m2 0h2m4 0h1m7 0h1m8 0h1m5 0h1m4 0h1m4 0h2m3 0h2m19 0h1m4 0h1m6 0h1m21 0h1m1 0h1M150 28.5h1m11 0h1m1 0h1m1 0h2m10 0h1m9 0h1m10 0h2m1 0h1m1 0h1m7 0h1m1 0h1m19 0h1m3 0h1m20 0h1m1 0h2m7 0h1m1 0h2m1 0h1m1 0h2m8 0h1m7 0h1m3 0h1m6 0h1m1 0h4m1 0h1m1 0h1m13 0h1m49 0h1m38 0h1m8 0h1m28 0h1m128 0h1m2 0h4M152 29.5h1m12 0h2m1 0h1m7 0h3m1 0h1m4 0h1m12 0h2m1 0h1m2 0h1m4 0h1m5 0h1m9 0h1m8 0h1m10 0h1m1 0h2m13 0h1m10 0h1m11 0h3m8 0h1m1 0h1m8 0h1m1 0h3m17 0h1m6 0h2m4 0h1m4 0h2m23 0h1m6 0h1m4 0h1m6 0h1m9 0h1m1 0h1m7 0h1m3 0h1m13 0h1m5 0h1m3 0h2m3 0h1m11 0h1m9 0h1m17 0h1M154 30.5h1m10 0h1m1 0h1m6 0h1m1 0h1m1 0h1m9 0h1m3 0h1m4 0h2m2 0h1m2 0h1m6 0h1m4 0h1m4 0h1m1 0h1m1 0h1m21 0h1m1 0h1m10 0h1m1 0h1m7 0h1m3 0h1m2 0h1m6 0h1m1 0h1m8 0h1m4 0h2m4 0h4m1 0h1m22 0h1m2 0h3m11 0h1m19 0h1m27 0h1m8 0h1m2 0h1m1 0h1m25 0h1m1 0h1m1 0h1m5 0h3m20 0h1m2 0h1m8 0h1m1 0h1m9 0h1M174 31.5h1m15 0h1m79 0h1m4 0h3m16 0h1m70 0h1m27 0h1m2 0h1m8 0h1m6 0h1m1 0h1m9 0h1m6 0h1m10 0h1m8 0h1m1 0h1m1 0h1m8 0h1m10 0h1m2 0h1m17 0h1m1 0h4m15 0h1m13 0h1m1 0h3m5 0h2m12 0h1m4 0h1m4 0h1m16 0h1M174 32.5h1m64 0h1m45 0h1m1 0h1m34 0h2m1 0h1m7 0h1m14 0h1m6 0h1m2 0h2m5 0h2m2 0h2m7 0h1m14 0h2m1 0h1m9 0h1m4 0h2m1 0h2m2 0h2m4 0h1m17 0h1m7 0h1m4 0h2m5 0h1m1 0h1m2 0h1m6 0h2m2 0h2m8 0h1m3 0h2m3 0h2m2 0h1m1 0h1m7 0h1m7 0h1m1 0h1m8 0h1m2 0h1m21 0h2m19 0h1m2 0h1M166 33.5h1m7 0h1m5 0h1m23 0h1m40 0h1m2 0h1m26 0h2m10 0h1m7 0h1m4 0h1m5 0h1m23 0h2m5 0h1m6 0h1m1 0h1m6 0h1m4 0h2m8 0h1m12 0h4m7 0h2m19 0h1m3 0h3m9 0h1m1 0h2m3 0h1m3 0h1m12 0h1m14 0h1m5 0h4m2 0h1m3 0h2m2 0h1m4 0h1m3 0h1m2 0h2m2 0h1m12 0h1m48 0h1m11 0h1M156 34.5h1m11 0h1m5 0h1m4 0h1m7 0h1m4 0h1m11 0h1m8 0h1m11 0h2m33 0h1m14 0h1m1 0h1m7 0h1m23 0h1m1 0h1m12 0h1m11 0h2m1 0h1m4 0h1m6 0h1m1 0h1m4 0h1m6 0h1m2 0h1m35 0h1m3 0h1m5 0h2m3 0h1m4 0h1m2 0h2m3 0h1m4 0h1m2 0h1m1 0h2m6 0h2m16 0h1m5 0h2m8 0h1m1 0h2m10 0h4m1 0h1m50 0h2m10 0h1M77 35.5h1m74 0h1m11 0h1m13 0h1m18 0h1m18 0h1m7 0h1m8 0h1m2 0h2m9 0h1m16 0h1m32 0h2m6 0h1m2 0h1m6 0h1m13 0h1m1 0h1m5 0h1m1 0h1m3 0h1m9 0h1m3 0h1m21 0h1m21 0h1m1 0h1m4 0h1m5 0h1m3 0h1m13 0h1m2 0h2m14 0h1m1 0h1m20 0h2m2 0h3m4 0h1m4 0h1m6 0h2M149 36.5h1m1 0h2m11 0h1m3 0h1m6 0h2m12 0h1m3 0h1m6 0h3m23 0h2m6 0h1m1 0h1m2 0h2m10 0h1m12 0h1m6 0h2m12 0h2m12 0h1m7 0h2m20 0h2m5 0h1m6 0h1m2 0h2m9 0h2m6 0h3m3 0h1m7 0h1m3 0h2m7 0h1m8 0h1m1 0h1m3 0h1m4 0h1m12 0h3m1 0h1m1 0h1m5 0h1m2 0h2m9 0h1m2 0h3m5 0h3m2 0h1m21 0h1m7 0h1m1 0h3m5 0h1M140 37.5h1m24 0h1m1 0h2m7 0h1m2 0h2m6 0h2m2 0h2m10 0h1m7 0h1m1 0h3m5 0h1m1 0h1m1 0h1m8 0h1m1 0h2m2 0h1m6 0h2m22 0h1m4 0h1m8 0h1m1 0h2m7 0h3m1 0h1m5 0h3m3 0h2m10 0h1m7 0h2m1 0h5m3 0h1m2 0h1m2 0h1m4 0h1m3 0h1m8 0h1m11 0h2m3 0h1m7 0h1m10 0h1m4 0h1m2 0h1m1 0h2m1 0h1m2 0h1m3 0h1m2 0h2m1 0h1m1 0h1m8 0h2m2 0h1m6 0h2m9 0h2m11 0h4m8 0h1m1 0h1m2 0h1m7 0h1m6 0h1m9 0h1m11 0h2m1 0h1m32 0h1M77 38.5h1m62 0h1m22 0h2m1 0h2m6 0h4m9 0h1m11 0h2m2 0h1m7 0h1m4 0h1m4 0h4m1 0h2m6 0h1m5 0h1m6 0h2m2 0h1m8 0h1m12 0h1m1 0h1m3 0h1m6 0h1m9 0h1m12 0h1m2 0h2m8 0h1m6 0h1m1 0h1m1 0h1m1 0h1m5 0h1m1 0h2m1 0h4m3 0h1m5 0h1m6 0h4m8 0h2m2 0h1m1 0h1m6 0h1m2 0h2m8 0h3m8 0h1m3 0h1m16 0h2m1 0h2m9 0h3m21 0h1m5 0h1m7 0h1m1 0h1m7 0h1m2 0h1m5 0h1m3 0h2m4 0h1m13 0h1m3 0h1m6 0h1m12 0h1m1 0h1m2 0h1m15 0h1m2 0h3M347 41.5h1m20 0h1m12 0h1m1 0h2m9 0h1m37 0h1m17 0h1m3 0h2m21 0h3m20 0h1m1 0h1m12 0h2m1 0h1m1 0h1m2 0h3m4 0h1m5 0h2m1 0h2m5 0h1m2 0h1m2 0h1m8 0h1m2 0h1m1 0h1m1 0h1m6 0h2m3 0h1m1 0h3M152 42.5h1m169 0h1m1 0h2m7 0h1m11 0h1m1 0h1m9 0h2m9 0h1m12 0h1m13 0h2m9 0h1m1 0h1m9 0h1m10 0h1m12 0h1m7 0h1m3 0h1m8 0h1m13 0h1m12 0h2m5 0h1m3 0h2m11 0h2m3 0h2m7 0h5m1 0h1m8 0h1m1 0h1m1 0h2m1 0h1m4 0h2m1 0h2m1 0h1m3 0h2m3 0h1m2 0h1m7 0h1M177 43.5h1m84 0h1m46 0h1m1 0h1m9 0h1m1 0h1m7 0h1m15 0h1m6 0h1m1 0h1m1 0h2m12 0h1m4 0h1m1 0h5m8 0h1m2 0h2m3 0h1m7 0h1m33 0h1m11 0h1m8 0h3m1 0h1m6 0h1m1 0h2m2 0h1m6 0h1m15 0h1m6 0h1m2 0h2m3 0h2m2 0h1m1 0h1m6 0h3m5 0h1m1 0h1m11 0h1m4 0h1m16 0h1m5 0h2M413 44.5h1m105 0h2m2 0h1m2 0h2m6 0h1m2 0h2m11 0h2m8 0h2m6 0h1M323 45.5h1m139 0h1m27 0h1m21 0h4m6 0h2m7 0h1m4 0h4m7 0h1m9 0h2m2 0h1m12 0h2m3 0h1M151 46.5h2m159 0h1m11 0h1m28 0h1m14 0h1m26 0h1m8 0h1m12 0h1m2 0h1m8 0h2m6 0h1m14 0h1m38 0h1m8 0h1m7 0h1m1 0h2m3 0h1m4 0h1m2 0h1m7 0h2m10 0h2m1 0h1m1 0h1m3 0h1m4 0h3m2 0h3m3 0h1m2 0h1m5 0h2m5 0h1M514 48.5h1m1 0h1m8 0h3m11 0h1m33 0h4m6 0h1M513 49.5h2m1 0h1m4 0h1m1 0h1m15 0h1m7 0h1m1 0h2m7 0h1m4 0h1m8 0h1m1 0h3M509 50.5h2m6 0h1m24 0h1m34 0h2m1 0h2M435 53.5h1m82 0h3m1 0h1m6 0h2m1 0h1m3 0h1m5 0h1m1 0h1m3 0h1m5 0h1m8 0h2m2 0h3m1 0h1m4 0h3m1 0h1M335 55.5h1m141 0h1m48 0h1m2 0h4m8 0h1m1 0h1m13 0h1m9 0h1m4 0h1m5 0h1m1 0h2m2 0h1M312 56.5h1m22 0h1m42 0h1m35 0h1m1 0h1m9 0h1m1 0h1m2 0h1m7 0h1m4 0h1m8 0h1m1 0h2m6 0h1m1 0h1m20 0h2m1 0h2m8 0h1m2 0h1M238 58.5h1M167 59.5h2m6 0h1m4 0h1m5 0h1m1 0h1m3 0h1m17 0h1m1 0h1m8 0h1m1 0h1m3 0h1m9 0h1m9 0h1m3 0h1m9 0h3m11 0h1m20 0h1m2 0h2m9 0h1m10 0h1m2 0h1m20 0h1m2 0h1m9 0h1m1 0h1m7 0h1m9 0h1m1 0h1m14 0h2m8 0h3m18 0h1m2 0h1m1 0h1m9 0h1m10 0h2m10 0h1m44 0h3m5 0h2m1 0h1m3 0h1m3 0h1m4 0h1m2 0h1m7 0h1m5 0h4m1 0h3m1 0h3m2 0h1m6 0h1m2 0h2m5 0h1M223 60.5h1m158 0h1m1 0h1m21 0h1m107 0h1m6 0h1m4 0h3m8 0h1m1 0h3m5 0h1m2 0h1m1 0h1m9 0h1m5 0h2m1 0h2m2 0h2m6 0h1M153 61.5h1m10 0h1m12 0h1m7 0h1m6 0h1m9 0h1m12 0h1m6 0h1m2 0h1m8 0h1m3 0h1m6 0h1m3 0h1m21 0h1m1 0h1m1 0h2m8 0h1m10 0h1m1 0h1m1 0h1m4 0h2m14 0h1m7 0h2m1 0h1m12 0h1m1 0h1m10 0h3m4 0h1m2 0h1m1 0h1m6 0h2m1 0h1m1 0h1m12 0h1m3 0h1m11 0h1m6 0h3m3 0h1m11 0h1m1 0h1m3 0h1m1 0h1m5 0h1m2 0h1m9 0h1m2 0h3m8 0h1m2 0h1m5 0h1m3 0h1m17 0h1m9 0h2m3 0h1m7 0h1m1 0h1m7 0h1m6 0h1m6 0h6m8 0h1m8 0h2m2 0h1M515 62.5h1m10 0h1m2 0h1m8 0h3m21 0h1m7 0h1M155 63.5h2m5 0h1m1 0h2m1 0h1m8 0h3m7 0h3m11 0h2m9 0h2m20 0h1m2 0h1m8 0h1m2 0h1m11 0h1m1 0h1m1 0h1m6 0h1m2 0h1m10 0h1m1 0h1m8 0h2m1 0h3m7 0h2m1 0h1m8 0h4m2 0h4m1 0h2m1 0h1m1 0h1m3 0h1m2 0h1m2 0h2m2 0h1m1 0h1m4 0h3m5 0h1m1 0h3m8 0h1m12 0h1m2 0h1m3 0h1m5 0h1m1 0h1m76 0h1m13 0h2m8 0h1m35 0h2m20 0h1M540 65.5h1m9 0h1m11 0h1m10 0h3m8 0h1M367 66.5h1m181 0h1m1 0h1m7 0h2m14 0h1M344 67.5h1m24 0h1m66 0h1m6 0h1m33 0h1m30 0h1m2 0h1m1 0h1m2 0h3m1 0h4m3 0h1m10 0h1m2 0h3m2 0h1m1 0h2m5 0h3m1 0h1m1 0h1m3 0h2m1 0h2m10 0h1m1 0h1M513 68.5h1m23 0h1m1 0h1m10 0h3m4 0h1m14 0h1M514 69.5h1m35 0h1m6 0h1M162 72.5h1m4 0h2m6 0h1m3 0h2m8 0h1m1 0h1m11 0h1m6 0h2m10 0h1m1 0h1m12 0h1m2 0h1m19 0h1m11 0h1m1 0h1m2 0h1m18 0h1m2 0h1m6 0h1m2 0h1m1 0h1m10 0h1m1 0h1m7 0h1m7 0h1m4 0h2m21 0h1m1 0h1m11 0h1m1 0h1m9 0h1m7 0h1m3 0h2m4 0h1m12 0h4m1 0h2m5 0h1m3 0h2m35 0h1m7 0h1m2 0h2m1 0h1m6 0h4m4 0h2m5 0h1m2 0h1m1 0h1m3 0h1m7 0h2m3 0h2m3 0h1m2 0h1m6 0h1m2 0h1m3 0h1m2 0h1m1 0h1m3 0h4m7 0h1m1 0h2M382 73.5h1m130 0h1m36 0h2m10 0h1m1 0h1m5 0h1m2 0h1m2 0h1m2 0h1m3 0h1M559 74.5h1M180 75.5h1m45 0h1m192 0h1m4 0h1m4 0h2m9 0h5m5 0h1m2 0h3m13 0h1m6 0h1m28 0h1m2 0h2m3 0h1m2 0h2m1 0h1m3 0h3m3 0h1m2 0h1m3 0h1m4 0h1m7 0h1m1 0h2m2 0h2m10 0h2m3 0h1m1 0h2m2 0h1m1 0h2M524 76.5h1m1 0h1M120 77.5h1m319 0h1m13 0h1m45 0h1m1 0h2m9 0h1m2 0h1m9 0h1m1 0h1m1 0h1m7 0h1m1 0h1m4 0h5m1 0h3m1 0h1m1 0h1m6 0h1m3 0h1m5 0h4m1 0h3M151 78.5h1m4 0h1m8 0h1m10 0h2m2 0h1m4 0h1m2 0h1m2 0h1m11 0h2m7 0h1m8 0h1m4 0h1m7 0h1m1 0h1m2 0h2m20 0h1m1 0h2m6 0h1m1 0h1m1 0h1m1 0h1m3 0h1m3 0h1m10 0h1m9 0h1m2 0h1m2 0h1m8 0h1m2 0h1m19 0h2m5 0h1m1 0h2m1 0h1m2 0h2m7 0h1m14 0h1m6 0h1m1 0h2m1 0h1m9 0h1m1 0h1m3 0h1m5 0h4m6 0h1m2 0h1m5 0h1m5 0h1m21 0h2m2 0h1m5 0h1m12 0h2m25 0h1m2 0h4m9 0h5m6 0h2m7 0h1m4 0h1m18 0h1m2 0h2M156 79.5h1m186 0h1m1 0h1m22 0h1m2 0h1m22 0h1m19 0h1m25 0h1m1 0h1m31 0h1m24 0h1m8 0h2m2 0h2m2 0h1m1 0h1m7 0h1m1 0h2m2 0h1m2 0h1m8 0h1m1 0h1m1 0h1m5 0h1m3 0h4m2 0h2m6 0h1m5 0h1m1 0h2M335 80.5h1m164 0h1m1 0h2m6 0h1m1 0h1m2 0h1m4 0h3m5 0h1m6 0h1m4 0h1m6 0h2m1 0h2m9 0h1m1 0h3m5 0h1m1 0h2m6 0h1M150 81.5h3m11 0h1m20 0h2m23 0h1m10 0h1m3 0h3m17 0h1m2 0h1m1 0h1m1 0h1m10 0h1m7 0h1m28 0h2m4 0h1m2 0h2m12 0h1m5 0h1m7 0h1m3 0h2m1 0h1m3 0h1m8 0h2m13 0h1m9 0h1m1 0h1m20 0h3m6 0h1m1 0h2m6 0h1m1 0h1m4 0h1m3 0h1m1 0h1m14 0h1m2 0h1m7 0h1m3 0h1m2 0h1m3 0h2m2 0h2m13 0h1m49 0h1m1 0h1M156 82.5h1m8 0h1m8 0h1m1 0h1m2 0h1m11 0h1m5 0h2m15 0h1m8 0h1m13 0h1m7 0h1m1 0h1m3 0h1m7 0h1m2 0h1m1 0h1m8 0h3m9 0h1m1 0h2m8 0h3m6 0h1m17 0h1m2 0h1m13 0h1m2 0h1m1 0h1m9 0h2m9 0h1m11 0h1m4 0h1m8 0h3m4 0h1m3 0h1m7 0h2m4 0h1m5 0h1m15 0h2m1 0h2m5 0h1m1 0h1m10 0h1m10 0h1m12 0h1m9 0h3m7 0h3m8 0h2m3 0h2m4 0h4m1 0h1m4 0h1m1 0h1m2 0h2m2 0h1m4 0h1m3 0h3m5 0h2m2 0h1m6 0h1m1 0h1M155 83.5h1m7 0h1m15 0h2m16 0h1m5 0h1m8 0h1m13 0h2m9 0h1m22 0h1m33 0h1m1 0h1m14 0h1m9 0h1m5 0h1m6 0h2m6 0h1m3 0h1m10 0h1m22 0h1m13 0h1m34 0h1m10 0h5m9 0h1m21 0h1m11 0h1m9 0h2m6 0h1m1 0h1m9 0h1m1 0h1m9 0h1m10 0h1m3 0h4m5 0h1m3 0h2m3 0h1m2 0h1m6 0h6m1 0h2M176 84.5h1m32 0h1m2 0h1m26 0h1m89 0h1m1 0h1m1 0h1m1 0h1m6 0h1m1 0h1m1 0h1m13 0h1m4 0h2m1 0h1m2 0h1m10 0h1m1 0h1m9 0h1m1 0h1m3 0h1m1 0h6m4 0h1m6 0h2m3 0h1m4 0h3m9 0h1m9 0h1m1 0h2m8 0h1m1 0h1m8 0h3m11 0h1m1 0h2m7 0h1m13 0h1m2 0h1m11 0h1m1 0h1m17 0h1m4 0h3m11 0h1m4 0h1M79 85.5h1m60 0h1m38 0h1m12 0h1m5 0h1m35 0h1m89 0h1m10 0h1m1 0h1m16 0h1m49 0h1m1 0h1m5 0h1m3 0h1m1 0h1m12 0h1m4 0h1m7 0h1m17 0h2m10 0h1m3 0h1m7 0h1m3 0h1m1 0h2m4 0h2m7 0h1m1 0h1m30 0h4m2 0h1m7 0h1m3 0h2m5 0h1m7 0h2m2 0h1m3 0h1M152 86.5h2m8 0h1m5 0h1m8 0h2m22 0h1m2 0h1m8 0h1m7 0h1m3 0h2m11 0h1m11 0h1m9 0h1m11 0h2m3 0h1m6 0h2m22 0h1m18 0h1m4 0h1m8 0h1m7 0h1m8 0h1m1 0h1m7 0h1m2 0h1m6 0h1m4 0h2m6 0h1m1 0h1m30 0h1m11 0h1m3 0h2m1 0h1m19 0h2m11 0h1m12 0h2m5 0h1m10 0h1M166 88.5h1m45 0h1m133 0h1m46 0h2m72 0h1m6 0h1m21 0h1m20 0h1m11 0h1m12 0h1m25 0h1m10 0h4M186 93.5h1m4 0h1m31 0h1m14 0h2m34 0h1m2 0h1m5 0h1m28 0h1m12 0h1m3 0h1m4 0h1m6 0h1m1 0h1m4 0h2m6 0h3m7 0h4m1 0h1m8 0h1m1 0h3m6 0h4m7 0h1m1 0h1m10 0h1m2 0h1m1 0h1m7 0h3m4 0h2m4 0h2m8 0h1m2 0h1m8 0h1m3 0h1m6 0h1m2 0h1m2 0h1m5 0h1m4 0h3m4 0h1m4 0h1m3 0h1m9 0h2m1 0h1m1 0h1m9 0h2m9 0h2m34 0h1m1 0h1M515 94.5h2M175 95.5h1m3 0h1m9 0h1m1 0h1m19 0h1m9 0h1m1 0h1m15 0h1m11 0h1m8 0h1m13 0h4m10 0h1m11 0h1m8 0h1m2 0h1m20 0h1m8 0h1m5 0h1m9 0h1m11 0h1m7 0h2m4 0h1m9 0h1m11 0h1m11 0h1m7 0h1m51 0h1m28 0h1m10 0h1m25 0h1m24 0h1M154 96.5h1m8 0h1m2 0h1m1 0h1m8 0h2m2 0h1m9 0h1m9 0h1m1 0h1m23 0h1m6 0h2m9 0h2m5 0h1m21 0h1m1 0h1m2 0h1m3 0h2m9 0h1m2 0h1m10 0h1m2 0h1m9 0h1m1 0h1m1 0h1m4 0h1m4 0h1m5 0h1m4 0h1m10 0h3m7 0h1m1 0h1m8 0h1m23 0h1m2 0h1m1 0h1m8 0h1m10 0h1m2 0h2m9 0h1m1 0h2m6 0h1m3 0h1m7 0h3m6 0h1m1 0h2m1 0h2m8 0h2m9 0h1m1 0h1m6 0h1m83 0h1M155 98.5h1m20 0h1m2 0h1m30 0h2m11 0h1m11 0h1m2 0h2m5 0h1m5 0h1m9 0h1m10 0h1m14 0h1m6 0h1m5 0h1m10 0h1m9 0h1m17 0h1m4 0h1m1 0h1m34 0h1m1 0h2m33 0h1m1 0h1m5 0h1m5 0h1m2 0h1m1 0h1m1 0h1m10 0h2m11 0h1m1 0h1m8 0h1m9 0h1m1 0h1m2 0h1m2 0h2m3 0h1m16 0h1m2 0h1m62 0h1M508 100.5h1m5 0h1m4 0h1m1 0h1m11 0h1m8 0h1m2 0h1m1 0h3m6 0h2m1 0h1m6 0h5m1 0h1m2 0h1m1 0h2m3 0h1M162 102.5h3m2 0h1m21 0h1m2 0h1m4 0h1m1 0h2m10 0h1m9 0h1m25 0h1m4 0h1m6 0h1m11 0h1m4 0h2m9 0h1m19 0h3m23 0h2m2 0h1m32 0h1m23 0h1m91 0h1m9 0h1m2 0h1m3 0h1m2 0h1m11 0h1m13 0h2m5 0h1m4 0h1m12 0h1m1 0h1m4 0h1m10 0h1m1 0h1m3 0h1M510 106.5h1m1 0h1m3 0h1m3 0h1m2 0h3m4 0h2m1 0h2m4 0h1m1 0h1m4 0h1m10 0h1m2 0h1m8 0h2m3 0h2m1 0h1m3 0h1m1 0h1M333 107.5h1m1 0h1m82 0h2m59 0h1m22 0h1m5 0h2m1 0h1m7 0h1m9 0h2m3 0h1m7 0h2m34 0h1M411 108.5h1m31 0h1m58 0h2m4 0h1m1 0h1m1 0h1m13 0h2m13 0h2m4 0h1m7 0h1m1 0h1m1 0h2m14 0h1m2 0h1m3 0h2M516 109.5h1m8 0h2m10 0h1m1 0h1m1 0h1m41 0h1M369 110.5h1m38 0h1m2 0h1m39 0h1m1 0h2m34 0h1m1 0h1m9 0h2m10 0h4m2 0h1m7 0h1m1 0h1m1 0h1m1 0h3m1 0h2m1 0h2m1 0h2m1 0h1m5 0h1m2 0h1m1 0h1m2 0h2m4 0h1m4 0h1m1 0h1m1 0h1m3 0h2M335 111.5h2m7 0h1m2 0h1m9 0h1m1 0h1m8 0h1m84 0h1m1 0h1m10 0h1m23 0h1m17 0h9m7 0h1m6 0h1m2 0h2m6 0h1m14 0h1m3 0h1m2 0h1m2 0h1m1 0h1m2 0h2m3 0h3M393 114.5h1m36 0h1m83 0h1m1 0h1m11 0h1m3 0h1m4 0h3m22 0h2m11 0h1M529 115.5h1m13 0h1m6 0h2m1 0h1m3 0h1m1 0h3m1 0h1m3 0h1m3 0h1m1 0h1m1 0h1m7 0h1M509 116.5h1m3 0h3m1 0h2m1 0h2m2 0h2m1 0h3m4 0h2m2 0h1m2 0h2m5 0h1m4 0h2m2 0h1m2 0h2m1 0h3m2 0h3m8 0h1m1 0h1m1 0h2M334 117.5h1m1 0h2m9 0h1m8 0h2m11 0h1m54 0h1m2 0h1m37 0h1m12 0h2m30 0h1m31 0h1m12 0h1m10 0h1M513 118.5h1m2 0h1m1 0h1m1 0h2m2 0h3m1 0h2m5 0h1m2 0h3m5 0h2m3 0h1m7 0h1m3 0h1m3 0h1m3 0h2m2 0h1m8 0h1M516 120.5h2m7 0h2m1 0h2m8 0h1m1 0h2m2 0h1m5 0h2m21 0h1m1 0h2M512 121.5h1m4 0h1m4 0h3m4 0h1m3 0h1m1 0h5m3 0h1m2 0h1m1 0h1m1 0h1m3 0h1m1 0h1m2 0h2m18 0h1m4 0h1M430 122.5h1m5 0h1m63 0h1m2 0h1m7 0h1m2 0h1m1 0h1m5 0h5m2 0h1m4 0h1m2 0h2m1 0h2m2 0h1m1 0h1m3 0h2m3 0h2m1 0h1m14 0h5m5 0h1M450 123.5h1m57 0h1m3 0h1m9 0h1m4 0h1m12 0h1m5 0h1m8 0h2m1 0h1m2 0h3M261 124.5h1m2 0h1m46 0h1m47 0h1m5 0h1m85 0h1m12 0h1m43 0h2m1 0h2m4 0h1m4 0h1m1 0h1m9 0h2m3 0h4m2 0h2m2 0h2m2 0h1m2 0h6m2 0h1m1 0h3m1 0h1m1 0h1m3 0h1m3 0h1m3 0h1M511 125.5h3m8 0h1m7 0h1m7 0h3m8 0h5m1 0h1m2 0h2m1 0h1m1 0h2m2 0h1m3 0h1m1 0h3m5 0h1m2 0h1M509 126.5h2m6 0h2m12 0h2m3 0h3m3 0h1m2 0h1m3 0h2m1 0h1m2 0h2m2 0h7m1 0h4m3 0h3m3 0h1m1 0h1M322 127.5h2m8 0h1m2 0h1m8 0h1m1 0h1m6 0h1m3 0h1m24 0h1m11 0h1m34 0h2m8 0h2m10 0h1m13 0h1m2 0h1m16 0h1m2 0h1m1 0h1m6 0h1m4 0h1M332 128.5h1m61 0h1m34 0h1m62 0h1m24 0h5m5 0h1m2 0h1m12 0h1m2 0h1m7 0h1m1 0h1m7 0h1m1 0h3m4 0h2m1 0h1m1 0h1M513 129.5h1m1 0h2m1 0h1m3 0h1m3 0h1m1 0h1m5 0h1m4 0h1m7 0h1m4 0h1m21 0h2m7 0h2M381 134.5h1m132 0h1m33 0h1M152 138.5h1m10 0h1m15 0h1m7 0h1m2 0h3m6 0h1m11 0h2m72 0h1m9 0h1m12 0h1m2 0h3m19 0h2m1 0h1m125 0h1m2 0h1m22 0h1m1 0h1m6 0h2m1 0h1m7 0h2m1 0h1m5 0h1m5 0h1m1 0h1m1 0h2m2 0h1m1 0h1m3 0h1m1 0h1m3 0h1m5 0h1m3 0h1m1 0h1m1 0h3m1 0h4m4 0h1m1 0h2m6 0h1m1 0h1M151 139.5h2m1 0h2m18 0h2m2 0h1m7 0h1m2 0h1m22 0h1m9 0h1m10 0h2m11 0h1m1 0h3m26 0h1m10 0h1m6 0h1m1 0h1m1 0h1m9 0h1m1 0h3m7 0h4m4 0h1m2 0h1m2 0h1m1 0h1m7 0h2m8 0h1m3 0h2m4 0h2m1 0h1m9 0h1m13 0h1m11 0h1m1 0h2m4 0h1m1 0h1m1 0h2m5 0h1m8 0h1m2 0h1m5 0h1m7 0h1m1 0h1m14 0h3m5 0h3m1 0h2m10 0h2m25 0h1m13 0h1M151 140.5h1m1 0h2m1 0h1m5 0h1m2 0h2m8 0h1m4 0h1m4 0h1m1 0h2m15 0h1m8 0h1m1 0h1m7 0h1m9 0h1m1 0h1m2 0h2m9 0h2m9 0h2m21 0h3m2 0h1m9 0h1m9 0h1m2 0h1m13 0h1m5 0h2m3 0h1m2 0h1m1 0h2m4 0h1m17 0h2m14 0h1m8 0h1m1 0h2m12 0h1m6 0h1m3 0h1m1 0h1m6 0h1m4 0h1m9 0h1m22 0h3m7 0h2m2 0h2m5 0h2m1 0h1m16 0h2m8 0h1m2 0h2m10 0h1m11 0h1m8 0h1m1 0h1m16 0h1m7 0h1m1 0h3M192 141.5h1m129 0h1m21 0h1m47 0h2m21 0h1m24 0h1m2 0h1m6 0h1m25 0h1m11 0h1m3 0h1m8 0h1m6 0h1m8 0h1m4 0h1m1 0h1m2 0h1m6 0h1m2 0h1m4 0h3m1 0h1m3 0h2m1 0h1m1 0h4m2 0h1m1 0h1m1 0h1m2 0h1m2 0h1m7 0h1m2 0h1M321 142.5h1M224 146.5h1m74 0h1m196 0h2m1 0h1m4 0h1m10 0h2m2 0h1m1 0h2m6 0h1m5 0h2m4 0h1m3 0h1m3 0h2m2 0h1m3 0h2m5 0h1m1 0h2m6 0h1M191 147.5h1m12 0h1m19 0h1m74 0h1m60 0h1m4 0h1m74 0h1m55 0h1m1 0h1m6 0h1m2 0h4m5 0h2m2 0h1m1 0h1m5 0h1m1 0h1m4 0h1m5 0h3m2 0h1m7 0h2m1 0h1m7 0h1m5 0h1m4 0h1M407 148.5h1m92 0h1m3 0h1m1 0h1m5 0h1m5 0h1m2 0h1m4 0h1m2 0h2m9 0h1m1 0h1m1 0h2m1 0h1m2 0h1m2 0h4m3 0h1m3 0h2m2 0h3m1 0h1m9 0h3M239 150.5h1m72 0h1m55 0h1m136 0h1m1 0h2m1 0h3m4 0h1m1 0h1m11 0h1m3 0h1m3 0h1m1 0h1m11 0h1m5 0h2m9 0h1m6 0h6M287 151.5h1m166 0h1m45 0h1m1 0h1m6 0h1m1 0h1m4 0h1m8 0h1m2 0h1m2 0h3m7 0h1m2 0h3m1 0h2m2 0h1m2 0h1m1 0h1m1 0h2m5 0h1m1 0h3m2 0h1m2 0h1m3 0h1m2 0h2M496 152.5h1m1 0h2m10 0h1m1 0h1m1 0h3m1 0h2m3 0h1m2 0h2m3 0h1m1 0h1m2 0h1m2 0h2m3 0h3m1 0h1m1 0h2m1 0h1m3 0h1m1 0h1m1 0h1m2 0h1m2 0h6m2 0h1m1 0h2m4 0h2M162 153.5h1m14 0h1m55 0h1m12 0h2m57 0h1m2 0h1m4 0h1m9 0h1m26 0h1m2 0h1m1 0h1m23 0h1m11 0h2m14 0h1m3 0h2m7 0h1m15 0h2m5 0h2m31 0h1m103 0h1M239 154.5h1m9 0h1m35 0h1m35 0h1m119 0h1m56 0h1m1 0h1m7 0h1m8 0h2m1 0h2m2 0h1m3 0h3m5 0h1m1 0h1m3 0h4m7 0h1m2 0h1m9 0h2m1 0h1m8 0h4M443 156.5h1m52 0h1m2 0h1m1 0h2m4 0h4m1 0h4m4 0h1m8 0h1m1 0h1m3 0h2m1 0h2m3 0h2m4 0h2m1 0h1m2 0h2m2 0h2m3 0h2m1 0h1m1 0h1m1 0h1m4 0h4m1 0h2M225 157.5h1m273 0h2m9 0h1m1 0h2m6 0h1m1 0h1m1 0h1m5 0h1m4 0h1m3 0h1m1 0h3m1 0h2m1 0h2m1 0h2m2 0h1m2 0h1m7 0h1m1 0h1m2 0h2m1 0h1M405 158.5h1m48 0h1m41 0h1m1 0h1m3 0h1m5 0h2m2 0h2m2 0h1m5 0h1m8 0h4m1 0h4m5 0h3m1 0h1m1 0h1m4 0h2m3 0h1m1 0h1m1 0h1m7 0h1m3 0h4M154 160.5h1m237 0h1m70 0h1m33 0h1m1 0h1m1 0h1m5 0h1m1 0h1m1 0h2m1 0h1m2 0h1m11 0h1m2 0h4m3 0h1m1 0h2m6 0h4m6 0h1m1 0h1m6 0h4m2 0h1m1 0h1m3 0h1M311 162.5h1m129 0h1m59 0h1m6 0h3m14 0h1m1 0h2m2 0h1m3 0h3m7 0h1m4 0h2m1 0h1m5 0h1m1 0h2m1 0h1m9 0h3m7 0h1M165 164.5h2m31 0h1m17 0h1m21 0h1m37 0h1m10 0h1m12 0h1m14 0h1m9 0h1m9 0h1m12 0h1m8 0h1m8 0h1m24 0h2m14 0h1m20 0h1m1 0h1m5 0h1m17 0h1m8 0h1m10 0h1m11 0h1m10 0h3m2 0h2m4 0h1m1 0h1m1 0h1m1 0h1m1 0h1m1 0h1m1 0h1m1 0h2m1 0h1m1 0h1m1 0h1m1 0h1m3 0h1m3 0h2m4 0h1m1 0h1m3 0h1m8 0h4m1 0h1m3 0h1m1 0h2m4 0h2m4 0h1M501 167.5h2m23 0h1m1 0h1m4 0h1m12 0h2m7 0h2m5 0h2m3 0h1m1 0h2m1 0h2m2 0h1m7 0h1M525 172.5h2m1 0h1m22 0h1m22 0h1m8 0h1M513 174.5h2m10 0h3m1 0h1m2 0h1m5 0h1m1 0h1m5 0h2m15 0h2m2 0h1m1 0h1m5 0h2m7 0h1M176 175.5h1m3 0h1m4 0h1m4 0h1m9 0h1m10 0h2m12 0h1m11 0h1m12 0h1m20 0h1m5 0h1m16 0h1m5 0h1m33 0h1m4 0h1m9 0h1m7 0h1m24 0h1m12 0h1m10 0h1m9 0h1m12 0h1m5 0h1m4 0h1m1 0h1m6 0h1m50 0h1m2 0h1m6 0h1m5 0h1m3 0h1m1 0h1m1 0h2m8 0h1m3 0h1m5 0h3m3 0h2m1 0h1m1 0h1m1 0h1m1 0h1m2 0h1m3 0h1m2 0h1m1 0h1m9 0h2M332 181.5h1m187 0h1m1 0h3m5 0h2m1 0h1m1 0h1m5 0h2m3 0h1m1 0h1m10 0h1m6 0h4m6 0h1m2 0h1M508 183.5h1m70 0h4M276 185.5h1m8 0h1m114 0h1m26 0h1m69 0h1m87 0h1M583 187.5h1M513 188.5h1m1 0h3m7 0h2m1 0h1m4 0h1m1 0h4m2 0h1m8 0h1m1 0h2m6 0h2m1 0h2m3 0h2m1 0h1m2 0h1m1 0h1M224 189.5h2m95 0h1m19 0h1m4 0h1m77 0h1m5 0h1m4 0h2m4 0h1m1 0h1m6 0h1m12 0h1m2 0h1m1 0h1m3 0h1m2 0h1m1 0h2m5 0h2m1 0h1m3 0h3m7 0h1m5 0h1M430 190.5h1m5 0h1m17 0h1m11 0h2m4 0h1m4 0h2m13 0h1m16 0h1m9 0h1m1 0h1m21 0h1m34 0h1M487 191.5h1m20 0h1m3 0h1m5 0h4m1 0h1m3 0h1m1 0h1m1 0h1m4 0h1m4 0h1m2 0h1m2 0h1m1 0h1m3 0h1m2 0h4m4 0h2m3 0h3m7 0h1m1 0h2M346 192.5h1m48 0h1m58 0h1m10 0h3m10 0h1m38 0h1m1 0h1m14 0h1m6 0h3m2 0h1m2 0h1m5 0h1m4 0h1m5 0h1m10 0h1m5 0h1M454 193.5h1m55 0h1m3 0h3m2 0h1m1 0h1m3 0h1m5 0h1m1 0h2m1 0h1m2 0h1m5 0h1m2 0h2m3 0h2m12 0h3m1 0h1m1 0h3m5 0h1M513 195.5h2m22 0h1m8 0h2m3 0h1m31 0h1M430 196.5h1m80 0h1m6 0h1m2 0h1m7 0h1m6 0h1m6 0h1m5 0h1m4 0h1m10 0h2m6 0h1m7 0h1M476 197.5h1m36 0h1m5 0h1m1 0h3m5 0h2m8 0h1m1 0h1m1 0h1m5 0h1m4 0h2m7 0h1m6 0h1M515 200.5h1M155 203.5h2m10 0h1m10 0h1m10 0h1m25 0h1m9 0h1m13 0h1m21 0h1m2 0h1m33 0h1m13 0h1m45 0h1m6 0h1m3 0h1m23 0h2m22 0h1m2 0h1m20 0h1m1 0h1m9 0h1m23 0h1m18 0h1m1 0h1m8 0h1m34 0h1m22 0h1M500 204.5h1m49 0h1m9 0h2m13 0h1M321 205.5h1m177 0h1m3 0h1m6 0h2m1 0h4m1 0h1m1 0h3m13 0h1m2 0h1m1 0h1m2 0h2m3 0h1m2 0h3m1 0h1m1 0h2m1 0h1m1 0h1m1 0h1m2 0h2m9 0h3m1 0h1M503 206.5h1m9 0h4m3 0h1m5 0h1m1 0h1m1 0h1m4 0h2m1 0h2m10 0h3m8 0h3m4 0h1m1 0h5m1 0h1m7 0h1M79 207.5h1m72 0h2m1 0h2m8 0h1m1 0h2m8 0h1m2 0h1m7 0h2m1 0h1m6 0h2m3 0h1m9 0h1m1 0h2m4 0h1m3 0h1m1 0h1m12 0h1m4 0h1m17 0h2m5 0h1m3 0h2m1 0h1m7 0h3m7 0h1m1 0h1m9 0h1m16 0h2m7 0h2m1 0h1m5 0h2m1 0h1m1 0h1m6 0h1m3 0h1m6 0h1m4 0h1m13 0h1m10 0h1m10 0h1m6 0h1m3 0h2m1 0h1m3 0h1m2 0h1m3 0h2m7 0h3m20 0h1m2 0h1M149 208.5h1m1 0h1m2 0h1m8 0h1m14 0h1m12 0h1m1 0h1m16 0h1m1 0h1m25 0h1m1 0h1m4 0h1m1 0h1m24 0h1m4 0h1m3 0h1m2 0h1m3 0h1m20 0h2m2 0h1m9 0h2m5 0h3m8 0h2m10 0h1m4 0h1m1 0h1m4 0h1m12 0h1m1 0h1m12 0h1m1 0h1m8 0h2m5 0h1m1 0h2m3 0h1m6 0h1m1 0h1m2 0h1m4 0h1m1 0h1m3 0h2m13 0h1m5 0h1m5 0h1m9 0h1m5 0h1m2 0h1m31 0h1m66 0h1M497 209.5h1m3 0h1m1 0h2m5 0h2m3 0h2m1 0h1m2 0h1m2 0h3m4 0h1m1 0h1m1 0h3m2 0h1m2 0h1m1 0h2m4 0h1m6 0h1m1 0h1m9 0h2m11 0h1M156 210.5h1m18 0h1m4 0h1m23 0h1m21 0h1m12 0h1m45 0h2m9 0h2m13 0h1m21 0h1m7 0h1m6 0h1m18 0h3m7 0h1m17 0h1m15 0h1m16 0h1m36 0h1m1 0h1m10 0h1m5 0h1m2 0h1m31 0h2m21 0h1m1 0h1m2 0h1m4 0h3m13 0h2m7 0h1m2 0h1M167 211.5h1m20 0h1m111 0h1m11 0h1m35 0h1m20 0h1m7 0h2m3 0h1m20 0h1m16 0h1m57 0h1m18 0h1m21 0h1m27 0h1m36 0h1M341 212.5h1m2 0h1m1 0h1m33 0h1m3 0h1m114 0h2m2 0h1m8 0h4m4 0h1m2 0h2m7 0h1m1 0h1m1 0h1m5 0h2m3 0h2m6 0h2m6 0h2m1 0h2m3 0h3m2 0h2m2 0h1m2 0h1M503 213.5h1m21 0h2m19 0h1m2 0h5m9 0h2M62 214.5h1m7 0h1m164 0h2m35 0h1m4 0h1m3 0h1m15 0h1m26 0h1m26 0h1m2 0h2m15 0h1m43 0h1m11 0h1m7 0h2m13 0h2m34 0h1M62 215.5h1m237 0h1m118 0h1m22 0h1m11 0h1m10 0h2m7 0h1m3 0h1m1 0h1m6 0h1m11 0h1m18 0h1m40 0h1m20 0h3m1 0h1M417 216.5h1m78 0h1m1 0h1m8 0h4m18 0h2m11 0h2m15 0h2m5 0h2M151 218.5h2m10 0h1m2 0h1m1 0h1m9 0h3m8 0h1m8 0h2m4 0h1m10 0h1m5 0h5m13 0h1m10 0h3m6 0h1m1 0h2m7 0h3m3 0h1m11 0h1m7 0h1m10 0h1m1 0h1m1 0h1m10 0h2m5 0h1m6 0h1m12 0h1m10 0h1m5 0h2m2 0h1m6 0h1m12 0h1m2 0h3m30 0h2m2 0h1m1 0h1m8 0h2m1 0h1m8 0h2m11 0h1m1 0h1m5 0h2m9 0h1m1 0h1M149 219.5h1m6 0h1m10 0h1m11 0h2m8 0h1m21 0h3m8 0h1m12 0h1m10 0h1m1 0h1m13 0h2m11 0h2m23 0h1m10 0h1m10 0h1m23 0h2m6 0h2m1 0h1m12 0h1m11 0h1m34 0h1m13 0h1m9 0h2m19 0h2m15 0h1m17 0h3m8 0h1m1 0h1m31 0h2m10 0h2m11 0h1M32 220.5h1M180 222.5h1m11 0h1m18 0h1m4 0h1m7 0h1m25 0h1m8 0h2m36 0h1m24 0h2m9 0h1m11 0h1m8 0h1m1 0h1m2 0h1m22 0h1m12 0h1m32 0h1m1 0h2m46 0h1m38 0h1m1 0h1m2 0h2M149 223.5h1m61 0h1m99 0h1m220 0h1M496 228.5h1m9 0h1m49 0h1m1 0h1M413 229.5h1M501 231.5h1m1 0h1m46 0h2m9 0h1m1 0h2m5 0h1m4 0h1M511 233.5h1m3 0h2m9 0h3m8 0h4m4 0h1m4 0h4m18 0h1M168 234.5h1m93 0h1m1 0h1m153 0h1m72 0h1m13 0h1m3 0h1m4 0h1m4 0h1m12 0h1m16 0h1m4 0h2m9 0h1m1 0h3m1 0h1M216 235.5h1m90 0h1m110 0h1m78 0h1m1 0h1m4 0h1m4 0h1m2 0h1m6 0h1m3 0h1m5 0h1m1 0h3m2 0h1m8 0h1m7 0h3m2 0h2m2 0h3m10 0h2m1 0h1M497 236.5h1m4 0h2m8 0h2m1 0h1m5 0h5m2 0h1m2 0h2m1 0h4m3 0h1m3 0h1m2 0h1m3 0h1m5 0h3m4 0h2m3 0h2m2 0h1m6 0h2M419 237.5h1m78 0h1m10 0h3m1 0h1m1 0h1m7 0h2m5 0h2m1 0h1m2 0h1m1 0h1m2 0h3m1 0h1m5 0h1m1 0h4m1 0h1m1 0h1m4 0h3m1 0h2m1 0h1m7 0h3M497 239.5h1m4 0h1m6 0h1m1 0h1m1 0h1m15 0h1m1 0h1m10 0h1m6 0h1m2 0h1m4 0h3m7 0h1m1 0h2m1 0h2m2 0h1m1 0h2m1 0h2M262 240.5h1m80 0h1m37 0h1m13 0h1m22 0h1m12 0h1m11 0h1m31 0h1m16 0h1M165 242.5h1m156 0h1m82 0h1m9 0h1m11 0h1m4 0h1m6 0h1m1 0h1m14 0h1m7 0h1m2 0h2m17 0h2m2 0h1m8 0h3m3 0h1m15 0h1m1 0h1m7 0h1m26 0h1m7 0h1m6 0h1m5 0h3M165 243.5h1m26 0h1m22 0h1m10 0h1m10 0h1m2 0h1m114 0h1m3 0h2m10 0h1m45 0h2m52 0h1m29 0h1m19 0h1m10 0h1M154 244.5h1m66 0h1m77 0h2m20 0h1m9 0h1m11 0h1m2 0h2m30 0h1m26 0h1m6 0h1m3 0h1m4 0h1m4 0h1m1 0h1m6 0h2m1 0h1m11 0h1m4 0h1m7 0h2m9 0h1m14 0h1m1 0h1m1 0h1m64 0h1m7 0h1m14 0h1M11 245.5h1m214 0h1m13 0h1m7 0h1m48 0h1m11 0h1m2 0h1m18 0h1m87 0h1m46 0h1m30 0h1m31 0h1m1 0h2m3 0h1m5 0h1m23 0h1m14 0h1M11 246.5h1m50 0h1m90 0h1m1 0h1m8 0h1m3 0h1m7 0h1m2 0h1m12 0h1m6 0h1m1 0h1m9 0h1m2 0h3m8 0h1m9 0h1m1 0h2m6 0h1m6 0h1m6 0h1m10 0h4m3 0h1m5 0h1m4 0h1m6 0h1m2 0h2m7 0h1m1 0h1m11 0h2m1 0h1m6 0h2m2 0h2m2 0h1m2 0h1m4 0h1m5 0h1m1 0h2m12 0h2m19 0h1m13 0h1m1 0h2m9 0h2m8 0h2m3 0h1m3 0h2m4 0h2m19 0h1m1 0h1m4 0h1m3 0h1m3 0h2m5 0h1m1 0h1m3 0h1M179 248.5h1m23 0h1m68 0h1m86 0h1m150 0h1m1 0h1m4 0h2m11 0h1m1 0h1m9 0h2m1 0h1m8 0h1m1 0h2m8 0h1m12 0h2m2 0h2M167 249.5h1m329 0h3m7 0h1m1 0h1m2 0h2m5 0h1m10 0h3m8 0h5m2 0h2m1 0h1m2 0h1m2 0h7m3 0h1m12 0h1m3 0h1M167 250.5h2m10 0h1m7 0h1m33 0h1m4 0h1m23 0h1m10 0h1m21 0h1m1 0h1m9 0h1m13 0h1m33 0h1m2 0h1m7 0h1m2 0h1m1 0h1m9 0h1m49 0h1m70 0h1m6 0h1m1 0h2m8 0h1m11 0h2m2 0h4m4 0h2m5 0h1m2 0h1m4 0h2m5 0h1m3 0h1m1 0h1m7 0h2m4 0h3m1 0h3m1 0h1M497 251.5h1m1 0h1m3 0h1m17 0h2m3 0h3m6 0h1m1 0h2m1 0h1m10 0h2m1 0h1m3 0h1m2 0h2m1 0h2m3 0h1m2 0h1m7 0h1m2 0h2M212 252.5h1m284 0h1m2 0h1m2 0h1m17 0h1m1 0h1m3 0h1m10 0h2m7 0h1m3 0h1m7 0h1m10 0h3m2 0h1m8 0h1M154 254.5h1m7 0h1m4 0h1m9 0h1m1 0h1m5 0h1m13 0h2m21 0h1m2 0h2m24 0h1m10 0h1m8 0h3m3 0h1m8 0h1m25 0h1m8 0h1m3 0h1m5 0h2m1 0h1m11 0h1m9 0h1m2 0h1m7 0h1m2 0h1m10 0h1m2 0h1m11 0h1m43 0h2m2 0h1m9 0h1m22 0h1m2 0h1m5 0h1m4 0h1m14 0h4m1 0h2m4 0h3m3 0h1m8 0h2m7 0h1m2 0h1m4 0h2m2 0h1m1 0h4m4 0h1m1 0h1m3 0h4m3 0h1m3 0h1m2 0h1M417 255.5h1m1 0h1m32 0h1m21 0h1m3 0h1m1 0h1m16 0h5m15 0h2m7 0h1m1 0h1m4 0h2m7 0h4m1 0h2m2 0h1m8 0h1m1 0h1m1 0h2m3 0h1m1 0h1m3 0h1m4 0h2m1 0h1M153 257.5h1m9 0h1m2 0h2m6 0h1m3 0h1m6 0h2m1 0h2m3 0h1m8 0h1m21 0h1m1 0h1m7 0h3m23 0h1m25 0h1m10 0h3m9 0h1m19 0h3m3 0h2m4 0h1m2 0h1m9 0h1m15 0h2m5 0h1m3 0h3m7 0h2m3 0h1m4 0h1m10 0h1m3 0h1m15 0h1m2 0h1m3 0h1m16 0h1m8 0h1m3 0h1m4 0h1m3 0h1m1 0h1m4 0h2m2 0h1m1 0h1m65 0h1m21 0h1M369 258.5h1m126 0h2m1 0h2m3 0h1m1 0h1m1 0h1m1 0h2m3 0h3m1 0h1m1 0h1m3 0h1m3 0h1m1 0h1m4 0h1m4 0h1m3 0h1m2 0h1m1 0h1m2 0h1m3 0h3m1 0h1m2 0h5m3 0h1m6 0h1m2 0h2M355 259.5h1m62 0h1m36 0h1m36 0h1m3 0h1m1 0h3m8 0h1m1 0h1m9 0h1m3 0h1m3 0h1m26 0h1m8 0h1m15 0h1M150 260.5h1m1 0h1m1 0h1m8 0h1m2 0h1m11 0h1m6 0h2m1 0h1m10 0h1m2 0h1m1 0h1m5 0h3m22 0h1m1 0h2m11 0h1m9 0h1m2 0h1m6 0h1m6 0h1m5 0h1m3 0h1m8 0h1m4 0h1m5 0h1m2 0h1m1 0h1m9 0h1m1 0h2m6 0h1m11 0h2m3 0h1m4 0h3m3 0h1m4 0h1m18 0h1m11 0h1m9 0h1m5 0h1m1 0h1m1 0h3m1 0h1m7 0h2m2 0h1m10 0h1m7 0h2m11 0h1m1 0h2m6 0h1m4 0h1m5 0h2m2 0h5m13 0h1m3 0h1m5 0h3m9 0h1m2 0h1m9 0h1m6 0h1m8 0h1m4 0h2m1 0h2m3 0h1"/><path stroke="#7d58cd" d="M178 1.5h1m1 0h1m223 0h1m96 0h3m7 0h1m2 0h3m6 0h1m2 0h1m10 0h1m1 0h1m8 0h1m7 0h1m16 0h5m6 0h1M162 2.5h3m11 0h1m33 0h1m3 0h1m23 0h1m57 0h1m39 0h1m9 0h2m22 0h1m10 0h1m1 0h1m10 0h1m34 0h1m10 0h1m3 0h1m20 0h1m25 0h1m7 0h1m1 0h1m1 0h1m6 0h2m3 0h1m3 0h1m1 0h1m3 0h2m3 0h2m2 0h1m4 0h2m1 0h1m2 0h2m1 0h2m3 0h1m4 0h4m3 0h1m3 0h1m4 0h2m2 0h2M166 3.5h1m72 0h1m130 0h1m35 0h1m82 0h1m1 0h1m19 0h1m8 0h1m1 0h1m1 0h3m9 0h1m9 0h1m4 0h2m21 0h1m4 0h1m3 0h1M465 4.5h1m47 0h1m1 0h1m8 0h1m1 0h2m7 0h1m1 0h1m1 0h2m4 0h1m1 0h1m4 0h1m9 0h1m4 0h1m3 0h2m9 0h2M165 6.5h2m7 0h2m10 0h1m1 0h1m1 0h2m8 0h1m12 0h1m1 0h1m8 0h2m11 0h1m1 0h2m5 0h2m11 0h1m1 0h4m10 0h1m9 0h2m1 0h1m5 0h1m3 0h3m9 0h1m1 0h1m152 0h1m13 0h1m21 0h1m1 0h1m9 0h2m7 0h4m10 0h1m1 0h1m1 0h1m4 0h4m1 0h3m6 0h1m5 0h2m3 0h2m3 0h3M152 7.5h1m3 0h1m9 0h1m8 0h1m14 0h3m9 0h1m8 0h2m11 0h1m9 0h1m4 0h1m10 0h2m7 0h1m11 0h1m13 0h1m2 0h1m35 0h1m8 0h1m12 0h2m6 0h1m5 0h1m6 0h1m2 0h1m7 0h1m5 0h1m17 0h1m3 0h3m19 0h1m2 0h1m3 0h1m1 0h1m1 0h1m3 0h1m6 0h1m2 0h3m6 0h2m1 0h1m30 0h2m10 0h3m1 0h1m2 0h2m8 0h1m1 0h1m1 0h3m1 0h2m13 0h2m5 0h3m3 0h1m3 0h1m2 0h1m3 0h1m2 0h3m2 0h1M165 8.5h2m23 0h1m1 0h1m10 0h1m6 0h1m22 0h1m47 0h1m17 0h1m57 0h1m1 0h1m94 0h1m23 0h2m18 0h1m1 0h1m1 0h2m4 0h1m1 0h2m2 0h3m1 0h1m3 0h1m1 0h1m1 0h1m1 0h1m1 0h2m1 0h1m4 0h1m1 0h3m1 0h2m1 0h4m7 0h2m2 0h3m10 0h2m1 0h1m5 0h1M151 9.5h1m1 0h2m32 0h3m3 0h1m5 0h1m2 0h2m17 0h4m8 0h1m3 0h1m2 0h1m4 0h1m1 0h1m11 0h1m1 0h2m7 0h1m8 0h1m3 0h2m3 0h1m18 0h1m7 0h1m8 0h1m5 0h1m1 0h1m1 0h1m3 0h1m3 0h1m1 0h1m10 0h2m1 0h1m7 0h1m2 0h3m6 0h2m10 0h1m8 0h1m1 0h1m1 0h1m1 0h1m2 0h1m3 0h2m1 0h3m1 0h2m4 0h3m1 0h1m1 0h1m5 0h3m1 0h1m2 0h1m5 0h1m4 0h2m9 0h1m1 0h1m3 0h1m13 0h1m2 0h2m1 0h1m4 0h1M152 10.5h1m1 0h2m6 0h5m9 0h2m1 0h1m5 0h1m1 0h2m4 0h1m3 0h2m5 0h1m17 0h1m3 0h1m7 0h1m10 0h1m4 0h1m10 0h1m14 0h2m9 0h2m5 0h2m19 0h1m5 0h1m3 0h1m3 0h3m2 0h1m1 0h3m3 0h2m1 0h1m3 0h1m4 0h2m13 0h2m6 0h2m11 0h1m1 0h1m11 0h1m1 0h1m1 0h1m8 0h1m1 0h1m1 0h1m7 0h1m10 0h2m11 0h2m21 0h1m3 0h1m26 0h1m12 0h2m9 0h1m4 0h1m16 0h1m2 0h2m7 0h2m12 0h2M341 14.5h1m155 0h1m3 0h1m1 0h1m5 0h1m1 0h2m1 0h2m1 0h2m1 0h1m2 0h1m5 0h2m4 0h2m4 0h2m4 0h3m1 0h1m2 0h1m3 0h3m4 0h2m6 0h1m3 0h1m1 0h2m3 0h1M502 15.5h1m11 0h1m9 0h1m21 0h1m2 0h1m1 0h2m26 0h2M546 16.5h1m25 0h1m1 0h3m6 0h1M561 20.5h1M369 21.5h1m146 0h1m20 0h1m36 0h1M525 22.5h1m1 0h2m6 0h1M152 23.5h1m1 0h1m1 0h1m46 0h1m6 0h1m4 0h2m16 0h1m25 0h2m1 0h3m19 0h1m36 0h1m12 0h1m6 0h2m35 0h1m16 0h1m10 0h1m58 0h2m31 0h3m3 0h1m3 0h2m2 0h2m7 0h1m1 0h1m6 0h1m2 0h1m1 0h2m1 0h1m1 0h2m1 0h3m3 0h1m3 0h4m1 0h3m7 0h1m2 0h1m1 0h1m5 0h3m2 0h1M154 25.5h1m8 0h1m10 0h1m2 0h1m2 0h1m22 0h1m17 0h1m74 0h1m25 0h1m8 0h1m9 0h1m3 0h1m37 0h1m11 0h1m57 0h2m45 0h1m21 0h1m1 0h1m2 0h2m5 0h2m1 0h2m4 0h1m3 0h1m3 0h4m1 0h2m2 0h2m2 0h1m3 0h3m2 0h1m1 0h1m1 0h1m5 0h1M153 26.5h1m2 0h1m5 0h1m52 0h1m22 0h2m24 0h1m42 0h1m13 0h1m1 0h1m45 0h2m7 0h1m1 0h1m12 0h1m9 0h1m1 0h1m35 0h1m50 0h1m7 0h3m6 0h1m2 0h2m2 0h1m4 0h1m1 0h1m6 0h1m1 0h1m2 0h1m3 0h1m1 0h1m3 0h1m3 0h5m2 0h1m2 0h1m10 0h1m1 0h1m2 0h1m1 0h1m1 0h2m1 0h1m1 0h1M330 27.5h1m1 0h1m2 0h1m10 0h1m11 0h2m8 0h1m2 0h1m6 0h1m12 0h1m1 0h1m11 0h1m1 0h1m9 0h1m11 0h1m1 0h1m22 0h2m8 0h1m11 0h1m3 0h1m7 0h1m19 0h2m1 0h1m1 0h1m10 0h1m5 0h2m1 0h1m1 0h1m5 0h2m1 0h2m1 0h1m1 0h2m2 0h1m6 0h1m5 0h2m4 0h1m5 0h1m1 0h1m1 0h3M152 28.5h1m1 0h2m7 0h1m1 0h1m2 0h1m5 0h1m2 0h1m15 0h1m3 0h1m3 0h1m1 0h1m7 0h1m1 0h1m2 0h1m4 0h1m2 0h1m2 0h1m9 0h1m1 0h1m5 0h4m11 0h1m10 0h1m2 0h1m8 0h1m1 0h1m10 0h1m10 0h1m15 0h2m1 0h1m4 0h1m4 0h1m31 0h1m9 0h1m22 0h1m1 0h1m7 0h1m1 0h2m22 0h2m11 0h1m16 0h2m7 0h1m7 0h1m1 0h1m11 0h1M174 29.5h1m13 0h1m8 0h1m28 0h2m18 0h1m14 0h1m1 0h1m10 0h2m8 0h1m15 0h2m20 0h1m3 0h1m3 0h1m1 0h2m7 0h1m1 0h1m2 0h1m4 0h1m2 0h1m11 0h2m1 0h1m8 0h1m3 0h2m6 0h1m1 0h1m11 0h2m1 0h1m4 0h1m4 0h2m5 0h1m11 0h1m5 0h1m7 0h2m1 0h1m13 0h2m5 0h3m3 0h1m5 0h1m3 0h1m6 0h2m2 0h1m1 0h1m5 0h1m21 0h1m2 0h2m6 0h1m6 0h1m4 0h1m24 0h1M155 30.5h2m6 0h2m3 0h1m8 0h1m1 0h1m19 0h1m9 0h2m1 0h1m13 0h2m6 0h1m3 0h1m1 0h1m4 0h1m2 0h1m2 0h1m11 0h2m6 0h1m3 0h1m9 0h1m2 0h1m7 0h1m13 0h1m4 0h1m7 0h1m2 0h1m2 0h1m5 0h2m4 0h2m1 0h1m3 0h1m4 0h1m3 0h1m7 0h1m3 0h2m1 0h1m5 0h1m11 0h3m8 0h1m1 0h1m3 0h1m4 0h1m2 0h1m1 0h2m5 0h1m2 0h1m3 0h1m3 0h2m3 0h1m1 0h1m1 0h2m6 0h1m10 0h1m2 0h1m1 0h1m5 0h1m10 0h1m4 0h1m6 0h1M394 31.5h1m21 0h4m9 0h1m22 0h1m1 0h1m7 0h1m3 0h1m10 0h1m1 0h1m10 0h1m11 0h2m5 0h2m1 0h1m3 0h1m1 0h2m5 0h1m2 0h1m1 0h1m12 0h1m9 0h1m3 0h1m1 0h1m3 0h2m1 0h1m1 0h1m7 0h6m1 0h2M321 32.5h1m2 0h1m21 0h2m20 0h1m35 0h2m11 0h1m11 0h1m2 0h1m8 0h1m12 0h1m21 0h1m12 0h2m11 0h1m9 0h1m4 0h1m2 0h1m1 0h3m4 0h1m1 0h2m1 0h1m1 0h1m4 0h4m12 0h2m1 0h1m6 0h3m3 0h1m1 0h1m1 0h2m1 0h2m2 0h1M285 33.5h1m8 0h1m1 0h1m24 0h5m6 0h2m1 0h1m3 0h1m5 0h1m1 0h1m1 0h1m4 0h1m1 0h1m10 0h1m10 0h1m1 0h1m9 0h2m2 0h3m6 0h2m1 0h2m8 0h1m7 0h1m18 0h3m18 0h1m13 0h2m7 0h1m1 0h2m1 0h1m5 0h2m2 0h2m5 0h1m9 0h1m9 0h5m1 0h1m5 0h3m11 0h1m2 0h1m2 0h2m1 0h1m2 0h1m1 0h3m1 0h5M153 34.5h1m73 0h1m93 0h2m18 0h1m5 0h1m1 0h1m4 0h1m1 0h1m10 0h1m10 0h1m4 0h1m6 0h3m2 0h2m9 0h2m4 0h1m3 0h1m1 0h1m10 0h1m1 0h1m9 0h1m11 0h1m2 0h1m5 0h1m4 0h1m8 0h1m3 0h1m7 0h1m8 0h1m4 0h1m23 0h1m3 0h2m11 0h3m6 0h1m8 0h1m3 0h1m1 0h1m2 0h1m6 0h1m3 0h1M140 35.5h1m8 0h1m1 0h1m11 0h1m1 0h2m18 0h1m2 0h1m2 0h1m1 0h1m4 0h2m2 0h1m11 0h2m5 0h1m3 0h3m10 0h3m7 0h1m11 0h1m1 0h1m8 0h1m2 0h1m7 0h1m1 0h1m3 0h1m6 0h1m3 0h2m6 0h1m24 0h1m8 0h1m2 0h1m6 0h1m2 0h3m2 0h1m6 0h1m4 0h1m6 0h1m4 0h2m5 0h1m1 0h5m7 0h1m1 0h2m3 0h3m1 0h3m1 0h1m6 0h1m2 0h1m7 0h1m2 0h2m1 0h2m10 0h1m7 0h1m2 0h3m8 0h1m10 0h2m10 0h2m1 0h1m18 0h1m7 0h2m1 0h1m2 0h1m5 0h1m12 0h1m25 0h1M77 36.5h1m62 0h1m33 0h1m12 0h2m1 0h3m4 0h1m5 0h2m6 0h2m10 0h3m7 0h1m1 0h1m2 0h1m6 0h1m14 0h1m14 0h3m9 0h1m8 0h3m11 0h1m2 0h1m7 0h1m1 0h1m9 0h1m1 0h1m3 0h1m5 0h1m7 0h1m2 0h1m2 0h1m30 0h2m12 0h1m3 0h1m6 0h1m1 0h2m5 0h1m3 0h1m7 0h1m5 0h1m9 0h1m12 0h1m2 0h1m6 0h1m3 0h1m5 0h1m2 0h1m13 0h2m16 0h1m11 0h1m22 0h1m13 0h1m8 0h1m2 0h1M77 37.5h1m74 0h2m2 0h1m17 0h2m36 0h1m11 0h1m1 0h2m21 0h1m12 0h2m11 0h1m35 0h1m13 0h1m8 0h1m7 0h1m1 0h2m1 0h1m8 0h1m24 0h1m8 0h2m2 0h1m9 0h4m4 0h1m2 0h1m1 0h2m1 0h1m11 0h1m6 0h1m2 0h2m9 0h2m1 0h1m7 0h2m1 0h2m5 0h1m13 0h1m20 0h4m3 0h1m1 0h2m6 0h3m4 0h1m1 0h1m16 0h1m1 0h1m3 0h1m10 0h1m10 0h2M168 38.5h1m10 0h2m9 0h2m21 0h1m35 0h1m12 0h1m13 0h1m34 0h1m15 0h1m17 0h1m8 0h1m1 0h1m23 0h2m30 0h1m1 0h1m1 0h1m1 0h1m5 0h1m1 0h2m4 0h1m9 0h1m1 0h1m8 0h1m8 0h1m1 0h1m1 0h3m6 0h1m2 0h1m6 0h1m1 0h1m1 0h1m2 0h1m9 0h2m4 0h3m2 0h1m1 0h2m2 0h3m7 0h2m1 0h2m2 0h1m3 0h2m2 0h1m3 0h1m4 0h2m3 0h1m6 0h5m1 0h1m1 0h1m1 0h1m1 0h1m4 0h1M429 41.5h1m73 0h1m23 0h1m22 0h1m12 0h1m1 0h1m7 0h2M323 42.5h1m35 0h1m23 0h1m8 0h1m26 0h1m7 0h1m50 0h1m13 0h1m10 0h1m4 0h3m1 0h2m7 0h7m5 0h1m1 0h4m1 0h3m14 0h1m2 0h1m3 0h1m2 0h2m5 0h2m1 0h1m1 0h2m1 0h1M345 43.5h1m45 0h1m14 0h1m48 0h1m22 0h1m25 0h1m4 0h1m1 0h1m4 0h1m3 0h2m1 0h1m5 0h1m4 0h4m2 0h1m1 0h6m3 0h2m1 0h1m2 0h1m3 0h1m1 0h1m1 0h4m1 0h5m1 0h1m3 0h1m2 0h1M574 44.5h1m8 0h1M527 45.5h1m45 0h2m2 0h1M392 46.5h1m120 0h1m3 0h3m2 0h1m1 0h2m3 0h2m2 0h1m1 0h2m5 0h1m2 0h1m1 0h1m1 0h3m8 0h1m9 0h1m1 0h2m2 0h1M538 48.5h1m24 0h1M527 49.5h1M508 50.5h1m2 0h5m2 0h4m7 0h4m3 0h1m1 0h1m4 0h1m5 0h1m2 0h1m1 0h1m4 0h1m5 0h3m8 0h1m2 0h1M508 53.5h6m3 0h1m3 0h1m3 0h1m5 0h1m2 0h1m6 0h1m7 0h5m1 0h4m2 0h1m8 0h1m2 0h3m5 0h1m1 0h2M509 55.5h1m1 0h1m3 0h1m2 0h1m3 0h1m4 0h2m6 0h1m1 0h1m2 0h1m3 0h1m1 0h5m3 0h1m1 0h1m9 0h1m9 0h2m4 0h2M411 56.5h2m6 0h1m4 0h2m1 0h1m1 0h1m8 0h1m1 0h2m1 0h1m20 0h1m1 0h2m8 0h2m29 0h1m15 0h1m12 0h1m41 0h1M519 58.5h1m11 0h1m10 0h2m22 0h1m11 0h1M156 59.5h1m17 0h1m12 0h1m50 0h1m160 0h1m42 0h3m31 0h1m13 0h1m24 0h2m9 0h2m6 0h2m2 0h1m4 0h1m1 0h1m3 0h1m8 0h1m8 0h2m7 0h1m2 0h2m1 0h1m1 0h1M525 60.5h1m20 0h1m4 0h1m21 0h1M156 61.5h1m21 0h3m23 0h1m11 0h1m4 0h1m1 0h1m3 0h1m12 0h1m22 0h2m46 0h2m9 0h1m61 0h1m8 0h1m11 0h2m22 0h2m10 0h1m1 0h1m21 0h1m38 0h1m4 0h5m3 0h1m3 0h2m6 0h1m4 0h7m3 0h2m1 0h1m5 0h1m7 0h1m1 0h3m1 0h2m1 0h2m2 0h1m1 0h2m2 0h2m2 0h1M546 62.5h1M152 63.5h1m1 0h1m8 0h1m10 0h1m4 0h2m8 0h1m2 0h1m9 0h1m1 0h1m16 0h1m12 0h1m5 0h1m22 0h1m9 0h1m1 0h1m19 0h1m15 0h1m31 0h1m1 0h1m8 0h1m2 0h1m9 0h1m4 0h1m9 0h1m10 0h2m11 0h1m12 0h1m58 0h1m10 0h2m11 0h1m1 0h1m4 0h1m1 0h2m3 0h4m1 0h1m3 0h1m1 0h1m1 0h2m10 0h3m4 0h1m4 0h3m2 0h1m2 0h1m3 0h1M573 66.5h1M429 67.5h1m32 0h1m16 0h1m34 0h1m9 0h2m2 0h2m9 0h1m7 0h1m5 0h1m8 0h3m5 0h1m2 0h1m2 0h2m1 0h1m1 0h1m1 0h1M155 72.5h2m6 0h1m1 0h1m10 0h1m35 0h1m2 0h2m9 0h1m36 0h2m6 0h1m3 0h2m8 0h1m14 0h1m22 0h1m11 0h1m7 0h2m13 0h2m9 0h1m1 0h1m33 0h1m9 0h1m3 0h1m9 0h1m10 0h1m2 0h1m10 0h2m48 0h1m6 0h3m1 0h2m4 0h1m2 0h1m4 0h2m2 0h2m3 0h1m1 0h1m1 0h1m2 0h6m1 0h2m1 0h1m1 0h1m1 0h2m1 0h1m8 0h2m2 0h1m3 0h1m2 0h1M563 73.5h1m10 0h1M397 74.5h1m1 0h6m1 0h1m4 0h1m3 0h2m1 0h1m3 0h2M477 75.5h3m9 0h1m2 0h1m3 0h2m12 0h1m1 0h1m1 0h2m4 0h2m4 0h3m4 0h3m2 0h3m3 0h1m1 0h1m6 0h1m3 0h5m4 0h1m9 0h2m1 0h1m2 0h1M527 76.5h1m56 0h1M140 77.5h1m386 0h1m9 0h1m12 0h1m7 0h3m2 0h1m9 0h1m8 0h3M120 78.5h1m19 0h1m11 0h1m1 0h1m31 0h1m5 0h1m4 0h2m1 0h2m13 0h1m31 0h1m3 0h2m9 0h1m11 0h1m1 0h1m9 0h1m13 0h1m7 0h1m2 0h1m10 0h1m12 0h1m7 0h1m26 0h1m7 0h2m24 0h1m8 0h2m14 0h1m5 0h1m4 0h1m36 0h3m16 0h1m4 0h2m4 0h1m7 0h1m8 0h1m1 0h4m5 0h3m5 0h2m4 0h1m1 0h1m1 0h1m4 0h2m6 0h4m6 0h1m5 0h2M344 79.5h1m155 0h3m1 0h1m2 0h1m2 0h2m12 0h1m8 0h2m3 0h2m1 0h1m5 0h1m2 0h1m2 0h1m19 0h1m3 0h1m4 0h3M524 80.5h1m12 0h1m14 0h1M166 81.5h1m8 0h1m1 0h4m6 0h2m3 0h1m4 0h1m4 0h1m1 0h1m4 0h1m1 0h1m1 0h1m2 0h1m5 0h1m1 0h1m8 0h1m1 0h3m1 0h1m7 0h1m1 0h1m11 0h2m1 0h1m5 0h1m1 0h6m3 0h1m12 0h1m1 0h4m11 0h1m12 0h2m5 0h2m1 0h1m10 0h2m9 0h1m9 0h1m2 0h1m8 0h1m1 0h1m11 0h3m1 0h1m2 0h2m1 0h1m17 0h1m6 0h4m5 0h1m1 0h2m1 0h1m1 0h2m5 0h1m2 0h1m2 0h1m7 0h1m3 0h1m7 0h1m8 0h1m4 0h3m3 0h1m47 0h1m21 0h1m11 0h1M190 82.5h1m1 0h1m19 0h2m10 0h4m20 0h3m9 0h2m33 0h1m14 0h1m23 0h1m1 0h2m20 0h1m6 0h1m2 0h1m13 0h2m27 0h1m15 0h1m14 0h1m8 0h1m13 0h1m10 0h1m11 0h1m11 0h2m1 0h1m6 0h8m4 0h1m3 0h2m5 0h1m1 0h1m4 0h1m5 0h2m2 0h1m1 0h1m7 0h3m4 0h2m1 0h1m1 0h2m3 0h1m3 0h1M156 83.5h1m67 0h2m23 0h1m1 0h1m72 0h1m7 0h1m60 0h1m71 0h1m34 0h2m7 0h1m1 0h5m1 0h1m3 0h2m3 0h1m5 0h1m6 0h2m1 0h1m1 0h1m8 0h1m3 0h1m2 0h2m2 0h1m4 0h1m1 0h1m7 0h1m2 0h1M322 84.5h3m5 0h1m6 0h1m45 0h1m6 0h1m4 0h1m30 0h2m12 0h1m1 0h1m54 0h2m2 0h2m1 0h1m4 0h1m2 0h1m1 0h2m1 0h2m2 0h3m2 0h1m2 0h1m1 0h2m6 0h1m1 0h1m2 0h4m2 0h1m1 0h1m3 0h2m2 0h7m1 0h1m1 0h2m7 0h4M344 85.5h1m38 0h1m21 0h1m14 0h1m6 0h1m12 0h4m41 0h1m11 0h1m2 0h1m7 0h1m1 0h1m1 0h2m2 0h2m2 0h4m3 0h2m1 0h5m4 0h1m4 0h2m2 0h1m3 0h2m1 0h1m1 0h1m2 0h2m4 0h1m1 0h2m2 0h1m2 0h1m3 0h1m2 0h3M79 86.5h1m40 0h1m19 0h1m10 0h1m2 0h3m6 0h5m6 0h1m1 0h1m11 0h1m3 0h2m3 0h1m2 0h1m1 0h2m5 0h2m3 0h3m5 0h1m1 0h1m2 0h1m6 0h1m1 0h1m10 0h3m9 0h1m10 0h1m3 0h3m5 0h1m5 0h1m5 0h1m2 0h2m8 0h1m2 0h2m10 0h3m5 0h1m4 0h1m1 0h1m1 0h2m1 0h2m2 0h3m2 0h1m15 0h1m2 0h1m10 0h2m17 0h1m2 0h1m2 0h1m1 0h1m4 0h1m4 0h3m5 0h2m2 0h1m7 0h1m3 0h1m9 0h1m1 0h1m1 0h1m11 0h1m3 0h1m1 0h1m5 0h1m11 0h2m3 0h2m10 0h1m8 0h2m16 0h1M367 88.5h1m130 0h1m1 0h1m4 0h1m1 0h1m8 0h1m1 0h1m13 0h5m6 0h2m1 0h1m8 0h2m1 0h1m1 0h2m5 0h1m2 0h1m1 0h1m1 0h1m3 0h1M227 93.5h1m35 0h1m66 0h2m1 0h1m10 0h3m12 0h1m10 0h1m19 0h1m14 0h1m5 0h2m11 0h1m1 0h2m10 0h1m1 0h1m9 0h1m4 0h2m42 0h1m8 0h2m3 0h1m1 0h1m3 0h1m1 0h1m1 0h2m3 0h1m2 0h1m2 0h3m8 0h1m1 0h2m5 0h5m7 0h3m2 0h2m4 0h1m2 0h1m1 0h1M155 95.5h2m7 0h1m39 0h1m82 0h1m9 0h1m36 0h1m10 0h2m58 0h1m22 0h1m11 0h1m67 0h3m1 0h1m4 0h1m11 0h2m1 0h1m21 0h1m2 0h1m3 0h1m3 0h4m1 0h1m7 0h1m2 0h1M156 96.5h1m7 0h1m10 0h1m3 0h1m18 0h1m12 0h1m3 0h2m4 0h3m2 0h1m11 0h2m7 0h1m2 0h1m10 0h1m2 0h1m5 0h2m27 0h2m6 0h1m1 0h2m18 0h1m1 0h3m11 0h1m8 0h3m8 0h2m1 0h1m2 0h1m7 0h1m3 0h2m34 0h1m8 0h2m12 0h1m7 0h1m1 0h1m13 0h2m22 0h2m7 0h1m2 0h2m8 0h1m6 0h1m48 0h1M175 98.5h1m94 0h1m24 0h1m86 0h1m46 0h2m3 0h1m8 0h2m8 0h3m11 0h2m8 0h2m11 0h1m7 0h1m1 0h1m1 0h2m3 0h1m2 0h1m2 0h1m4 0h3m6 0h1m2 0h1m6 0h1m1 0h1m1 0h5m1 0h1m11 0h1m5 0h3m9 0h3m2 0h1M509 100.5h2m1 0h2m1 0h2m6 0h2m1 0h1m1 0h2m7 0h1m1 0h2m2 0h2m1 0h1m3 0h1m1 0h2m7 0h5m7 0h1m2 0h1m3 0h2m1 0h1M48 102.5h1m35 0h1m68 0h1m11 0h2m1 0h1m9 0h2m5 0h4m1 0h2m20 0h1m4 0h1m4 0h2m1 0h2m18 0h2m1 0h2m13 0h2m7 0h2m4 0h1m9 0h1m5 0h1m1 0h1m1 0h1m13 0h1m8 0h2m6 0h1m1 0h2m8 0h1m11 0h2m10 0h2m4 0h1m6 0h1m2 0h1m8 0h1m2 0h1m1 0h1m6 0h1m1 0h1m83 0h1m8 0h2m1 0h1m7 0h1m1 0h4m3 0h1m1 0h2m8 0h2m3 0h1m3 0h1m1 0h2m1 0h1m3 0h3m2 0h5m1 0h1m1 0h1m5 0h1m3 0h3m5 0h2m2 0h1M48 103.5h1m35 0h1M508 106.5h2m5 0h1m11 0h2m6 0h1m1 0h2m1 0h1m8 0h1m21 0h1m1 0h1m2 0h1M510 107.5h1m1 0h1m4 0h1m2 0h1m1 0h1m2 0h1m1 0h2m4 0h1m1 0h1m5 0h1m2 0h1m3 0h1m8 0h2m2 0h4m3 0h2m5 0h1m1 0h1m1 0h1m1 0h1m1 0h1M537 108.5h1m1 0h2m9 0h1m12 0h1m9 0h2M61 109.5h1M440 110.5h1m14 0h1m66 0h3m23 0h4m10 0h1m2 0h1m8 0h1m8 0h1M491 111.5h1m30 0h2m2 0h2m4 0h1m4 0h3m1 0h1m1 0h1m4 0h3m7 0h3m2 0h1m2 0h1m4 0h1m3 0h1m4 0h1m3 0h1M583 114.5h1M552 115.5h1M522 116.5h2m2 0h1m10 0h1m2 0h1m2 0h1m5 0h4m3 0h1m2 0h1m2 0h1m4 0h1m4 0h1m4 0h2M333 117.5h1m174 0h2m1 0h2m4 0h2m3 0h2m4 0h2m1 0h1m4 0h1m4 0h1m2 0h1m9 0h1m6 0h1m1 0h2m2 0h4m6 0h1m2 0h3M514 118.5h2m11 0h1m24 0h1m8 0h2m1 0h1m8 0h2M514 120.5h2m11 0h1m17 0h1m6 0h2m20 0h1M514 121.5h3m8 0h1m1 0h1m12 0h1m3 0h2m6 0h1M512 122.5h1m2 0h1m11 0h1m24 0h1M430 124.5h1m84 0h2m8 0h3m10 0h1m13 0h1m9 0h2m9 0h1m1 0h1M514 125.5h1m1 0h1m7 0h1m20 0h3m14 0h1M96 126.5h1m414 0h2m1 0h3m4 0h1m2 0h1m2 0h1m5 0h2m4 0h1m7 0h1m9 0h1m13 0h1m1 0h1m5 0h1m1 0h1M96 127.5h1m258 0h1m3 0h2m20 0h1m68 0h1m49 0h1m16 0h1m13 0h2m10 0h2m9 0h1m18 0h1m4 0h1m3 0h1M367 128.5h1m140 0h6m1 0h1m6 0h4m3 0h1m1 0h1m7 0h1m1 0h1m2 0h1m3 0h1m2 0h1m1 0h1m1 0h1m1 0h1m1 0h1m1 0h2m2 0h1m3 0h1m5 0h1m7 0h2M514 129.5h1M210 138.5h1m75 0h1m107 0h1m35 0h1m12 0h1m20 0h1m34 0h1m1 0h1m2 0h1m8 0h1m1 0h2m9 0h1m7 0h2m2 0h1m2 0h1m3 0h4m1 0h1m1 0h1m20 0h4m6 0h2M164 139.5h1m11 0h1m2 0h2m9 0h2m1 0h1m3 0h3m10 0h2m1 0h1m1 0h1m9 0h1m1 0h1m7 0h1m1 0h3m7 0h1m11 0h1m3 0h1m7 0h1m3 0h1m7 0h2m11 0h1m13 0h1m22 0h2m4 0h1m1 0h4m2 0h2m2 0h1m1 0h1m3 0h1m22 0h1m34 0h1m13 0h1m1 0h1m11 0h1m6 0h1m2 0h1m10 0h1m12 0h1m6 0h2m2 0h1m7 0h1m22 0h1m9 0h2m3 0h1m7 0h1m1 0h1m9 0h1m10 0h1m1 0h2m1 0h1m6 0h1m1 0h4M152 140.5h1m10 0h1m10 0h1m1 0h2m21 0h1m11 0h2m12 0h1m11 0h1m26 0h1m11 0h1m9 0h2m7 0h2m9 0h1m28 0h1m7 0h4m8 0h1m11 0h4m13 0h1m9 0h1m1 0h1m18 0h1m13 0h1m13 0h1m6 0h1m17 0h1m7 0h1m12 0h3m4 0h3m8 0h1m2 0h2m5 0h1m3 0h1m1 0h2m6 0h1m2 0h2m5 0h1m8 0h1m1 0h1m2 0h2m1 0h1m6 0h1m1 0h3m3 0h1m2 0h1m2 0h1M394 141.5h1m107 0h1m11 0h3m6 0h1m1 0h2m11 0h4m6 0h2m2 0h1m6 0h2m12 0h1m1 0h2m1 0h1m1 0h2m2 0h1M61 146.5h1m438 0h3m4 0h3m1 0h4m8 0h6m1 0h1m6 0h1m1 0h2m3 0h1m1 0h1m1 0h1m3 0h1m3 0h1m2 0h5m4 0h1m3 0h2m1 0h3m1 0h4M499 147.5h2m13 0h1m7 0h1m2 0h1m1 0h2m1 0h1m1 0h3m6 0h1m3 0h1m2 0h1m1 0h1m2 0h2m2 0h1m6 0h2m4 0h1m2 0h4m2 0h4M501 148.5h2m10 0h1m1 0h1m1 0h1m1 0h1m2 0h2m1 0h1m1 0h2m2 0h1m1 0h1m1 0h2m1 0h2m1 0h1m4 0h1m1 0h2m1 0h1m5 0h3m7 0h1m3 0h1m4 0h2M204 150.5h1m291 0h6m7 0h1m8 0h1m4 0h1m5 0h2m6 0h2m4 0h2m4 0h2m3 0h1m2 0h1m6 0h1m1 0h4m1 0h2m1 0h3m6 0h2M514 151.5h1m22 0h1m20 0h1m2 0h1m1 0h2m6 0h1m2 0h1M500 152.5h1m8 0h1m1 0h1m1 0h1m23 0h2m8 0h1m1 0h1m2 0h1m20 0h2m1 0h1M152 153.5h1m1 0h2m9 0h1m10 0h1m12 0h3m1 0h1m3 0h1m1 0h2m8 0h1m3 0h1m1 0h2m8 0h1m1 0h1m8 0h1m3 0h1m4 0h1m2 0h1m1 0h1m8 0h1m11 0h2m4 0h1m4 0h1m1 0h2m12 0h1m1 0h1m5 0h2m16 0h1m3 0h3m6 0h1m1 0h1m1 0h1m26 0h1m2 0h1m6 0h1m3 0h1m1 0h1m5 0h1m13 0h3m6 0h1m13 0h1m3 0h2m2 0h1m2 0h4m20 0h1m5 0h1m5 0h2m12 0h1m28 0h2m2 0h1m21 0h1m1 0h1m33 0h1m1 0h1m2 0h1M502 154.5h1m4 0h1m1 0h3m1 0h3m3 0h1m2 0h2m8 0h1m6 0h2m5 0h1m2 0h1m1 0h2m2 0h1m1 0h2m1 0h1m3 0h2m2 0h1m2 0h2m1 0h3m5 0h3M70 155.5h1M70 156.5h1m427 0h1m1 0h1m10 0h1m7 0h1m1 0h1m2 0h1m2 0h2m1 0h1m2 0h1m6 0h1m5 0h2m9 0h1m3 0h3m6 0h1m1 0h4m7 0h2M501 157.5h1m12 0h1m6 0h1m3 0h1m11 0h2m17 0h2m2 0h6m4 0h1m2 0h1m1 0h5m4 0h1M70 158.5h1m426 0h1m2 0h2m8 0h2m2 0h2m8 0h2m3 0h2m4 0h1m12 0h1m3 0h1m6 0h2m3 0h1m9 0h3m5 0h1m1 0h1M498 160.5h1m1 0h1m1 0h2m6 0h1m2 0h1m1 0h1m7 0h2m2 0h1m8 0h2m2 0h1m19 0h1m2 0h1m8 0h1m2 0h1m7 0h2M502 162.5h2m7 0h1m14 0h1m5 0h1m1 0h1m14 0h1M191 164.5h1m33 0h1m24 0h1m34 0h1m2 0h1m57 0h1m11 0h1m70 0h1m70 0h1m10 0h1m3 0h1m10 0h1m1 0h1m4 0h1m12 0h1m3 0h1m2 0h1m3 0h1m6 0h1m8 0h1m1 0h2M527 167.5h1m22 0h2m7 0h1m14 0h1M527 172.5h1M515 174.5h2m11 0h1m10 0h1m8 0h1M179 175.5h1m24 0h1m59 0h1m11 0h1m22 0h1m58 0h1m32 0h1m123 0h1m11 0h2m18 0h1m12 0h1m2 0h1m9 0h1m4 0h1M518 181.5h1m2 0h1m5 0h1m4 0h1m3 0h1m6 0h3m4 0h1m4 0h2m4 0h5m6 0h1m4 0h1m2 0h1M509 183.5h2m1 0h1m8 0h1m2 0h1m4 0h3m9 0h5m2 0h1m7 0h1m3 0h1m3 0h1m1 0h2m4 0h1m10 0h1M531 185.5h1m1 0h1M525 187.5h1M514 188.5h1m24 0h1m22 0h1m10 0h1M156 189.5h1m190 0h1m69 0h2m1 0h1m4 0h2m24 0h2m1 0h2m18 0h1m1 0h1m41 0h1m60 0h1M442 190.5h1m65 0h1m1 0h3m9 0h3m17 0h1m1 0h1m2 0h2m3 0h7m1 0h1m6 0h2m6 0h1m1 0h1m2 0h3M510 191.5h2m1 0h3m6 0h1m1 0h3m1 0h1m3 0h1m1 0h2m1 0h3m6 0h1m1 0h1m2 0h2m8 0h2m11 0h2m7 0h1M358 192.5h2m148 0h2m1 0h1m1 0h1m2 0h1m3 0h1m2 0h1m1 0h2m2 0h1m1 0h1m1 0h1m3 0h1m7 0h1m1 0h2m5 0h1m1 0h4m10 0h1m2 0h4m2 0h1m1 0h2M547 193.5h1m2 0h2m18 0h1M508 196.5h3m1 0h3m2 0h1m1 0h2m1 0h1m4 0h2m1 0h6m3 0h1m2 0h1m1 0h1m6 0h1m1 0h1m1 0h1m2 0h6m4 0h1m1 0h3m2 0h2m2 0h2M514 197.5h2m9 0h2m1 0h1m2 0h4m1 0h3m1 0h1m3 0h1m5 0h1m2 0h1m4 0h1m7 0h3m8 0h2m1 0h1M152 203.5h1m27 0h1m45 0h1m13 0h1m126 0h1m97 0h1m34 0h1m7 0h1m1 0h3m5 0h1m1 0h1m14 0h1m2 0h2m3 0h2m2 0h2m5 0h1m1 0h1m6 0h2m11 0h6M498 205.5h1m1 0h1m1 0h1m1 0h1m19 0h1m1 0h5m6 0h2m8 0h2m1 0h2m5 0h1m2 0h1m1 0h1m1 0h1m2 0h1m2 0h1m1 0h2m1 0h2m7 0h1M502 206.5h1m21 0h2m8 0h1M174 207.5h1m10 0h1m40 0h1m12 0h1m6 0h2m3 0h1m20 0h1m3 0h1m17 0h1m27 0h1m18 0h1m2 0h1m12 0h1m2 0h1m5 0h1m1 0h1m13 0h2m7 0h1m24 0h1m11 0h3m13 0h1m19 0h1m12 0h2m39 0h1m24 0h1m22 0h1m13 0h1M79 208.5h1m72 0h1m2 0h2m5 0h1m2 0h1m2 0h1m5 0h1m1 0h1m2 0h2m4 0h1m3 0h1m8 0h1m2 0h1m13 0h1m1 0h1m3 0h1m1 0h1m1 0h1m1 0h1m9 0h1m1 0h1m8 0h1m10 0h3m8 0h1m3 0h1m11 0h2m19 0h2m3 0h1m8 0h2m6 0h1m4 0h1m9 0h3m8 0h1m1 0h1m1 0h1m6 0h3m14 0h2m18 0h1m12 0h2m2 0h1m7 0h2m2 0h1m11 0h1m6 0h1m1 0h2m8 0h3m1 0h1m6 0h1m14 0h1m33 0h1m53 0h1m2 0h2M502 209.5h1m9 0h3m19 0h1m3 0h1m5 0h1m3 0h1m23 0h4M179 210.5h1m114 0h1m49 0h1m25 0h1m7 0h1m41 0h1m77 0h5m2 0h1m1 0h1m1 0h1m5 0h1m1 0h1m13 0h1m5 0h1m1 0h1m1 0h1m1 0h1m2 0h1m1 0h4m12 0h2m1 0h1m2 0h2m4 0h1m1 0h1M226 211.5h1m117 0h1m39 0h1m114 0h2m6 0h2m1 0h2m1 0h1m1 0h1m1 0h2m1 0h2m2 0h1m4 0h4m3 0h1m5 0h1m10 0h2m1 0h5m5 0h3m9 0h1m2 0h1M502 212.5h1m5 0h4m4 0h1m5 0h1m6 0h2m4 0h1m1 0h1m1 0h3m3 0h2m4 0h1m2 0h1m2 0h2m1 0h1m1 0h1m11 0h2m8 0h1M516 213.5h1M150 214.5h2m26 0h1m1 0h1m20 0h1m1 0h1m17 0h2m10 0h1m12 0h1m12 0h1m1 0h1m8 0h2m2 0h1m19 0h1m5 0h2m4 0h1m4 0h1m11 0h1m1 0h1m1 0h1m2 0h1m5 0h1m16 0h1m6 0h1m28 0h3m10 0h1m8 0h1m5 0h2m1 0h1m7 0h1m8 0h1m4 0h1m19 0h2m4 0h2m23 0h1M441 215.5h1m1 0h1m53 0h2m9 0h1m12 0h1m4 0h1m2 0h2m10 0h1m13 0h2m3 0h1m7 0h4m6 0h2M70 216.5h1m428 0h1m11 0h2m4 0h1m1 0h4m1 0h1m2 0h1m3 0h4m1 0h1m7 0h2m9 0h1m6 0h1m5 0h3M70 217.5h1M139 218.5h1m14 0h1m10 0h1m47 0h1m21 0h1m4 0h1m44 0h2m12 0h1m12 0h1m11 0h1m5 0h3m5 0h1m5 0h3m1 0h1m5 0h4m1 0h1m11 0h2m10 0h2m6 0h2m36 0h1m1 0h1m4 0h2m12 0h3m2 0h1m7 0h3m1 0h1m10 0h3m5 0h1m1 0h1m1 0h1m2 0h1m14 0h2m61 0h1m6 0h1M32 219.5h1m192 0h2m34 0h1m70 0h1m96 0h1m66 0h1m3 0h1m10 0h1m6 0h2m9 0h1m1 0h1m1 0h1m1 0h1m1 0h1m6 0h2m1 0h1m8 0h1m1 0h1m7 0h1m1 0h3m6 0h2m2 0h1m2 0h1M97 220.5h1M50 222.5h1m11 0h1m162 0h1m11 0h3m11 0h1m59 0h1m117 0h1m67 0h2m6 0h1m1 0h1m10 0h1m1 0h2m2 0h1m8 0h1m8 0h1m6 0h2m3 0h1m13 0h1m9 0h2m1 0h1M496 223.5h3m8 0h5m5 0h1m5 0h1m3 0h1m1 0h1m1 0h1m3 0h2m17 0h1m9 0h1m1 0h1m1 0h1m1 0h2M497 228.5h4m4 0h1m3 0h1m9 0h2m8 0h3m23 0h1m1 0h1m8 0h2m11 0h1M455 229.5h1M525 233.5h1m21 0h1M216 234.5h1m280 0h4m11 0h2m1 0h1m5 0h1m1 0h2m4 0h3m1 0h1m2 0h2m3 0h1m2 0h1m1 0h1m1 0h1m2 0h3m2 0h1m2 0h1m2 0h1m1 0h1m1 0h1m3 0h1m1 0h1m3 0h1m1 0h2m1 0h1m2 0h1M500 235.5h4m3 0h1m2 0h1m3 0h1m2 0h1m2 0h3m1 0h1m1 0h1m1 0h1m1 0h1m3 0h2m5 0h1m5 0h1m1 0h1m1 0h2m3 0h1m3 0h1m7 0h6m3 0h1m1 0h1m1 0h2m1 0h1M500 236.5h1m15 0h1m22 0h1m6 0h2m2 0h2m10 0h1m1 0h1m7 0h2m2 0h1m2 0h2m3 0h1M497 237.5h1m2 0h1m2 0h2m21 0h1m2 0h1m4 0h1m2 0h1m1 0h2m5 0h5m1 0h1m9 0h1m1 0h1m6 0h1m4 0h3m4 0h2M500 239.5h1m7 0h1m1 0h1m3 0h3m4 0h2m1 0h1m1 0h1m3 0h1m1 0h1m3 0h1m1 0h2m1 0h1m1 0h1m1 0h1m2 0h1m4 0h1m6 0h1m4 0h2m7 0h2m4 0h1m2 0h2M518 240.5h1M338 242.5h1m79 0h2m9 0h3m11 0h1m6 0h1m14 0h1m14 0h1m21 0h1m6 0h1m1 0h3m4 0h1m1 0h1m1 0h1m1 0h1m3 0h2m2 0h2m8 0h2m10 0h4m1 0h1m2 0h1m15 0h1m3 0h2M369 243.5h1m129 0h1m2 0h2m16 0h1m1 0h2m7 0h1m11 0h2m2 0h1m7 0h1m1 0h2m7 0h2m2 0h1m1 0h1m5 0h1m1 0h1M62 244.5h1m7 0h1m181 0h1m77 0h1m14 0h1m68 0h1m3 0h1m1 0h1m4 0h1m4 0h3m6 0h1m1 0h1m1 0h1m35 0h1m5 0h3m21 0h1m2 0h1m16 0h1m2 0h1m9 0h1m5 0h1m2 0h1m2 0h4m1 0h1m7 0h2m1 0h1m8 0h1M70 245.5h1m154 0h1m273 0h3m7 0h1m1 0h2m4 0h1m15 0h3m3 0h2m2 0h2m20 0h1m3 0h1m1 0h1m7 0h2M70 246.5h1m91 0h1m4 0h1m10 0h1m1 0h1m6 0h1m15 0h2m21 0h1m9 0h1m3 0h1m7 0h1m27 0h1m8 0h2m9 0h2m2 0h1m10 0h1m11 0h1m22 0h1m10 0h1m1 0h2m5 0h3m2 0h1m7 0h1m11 0h3m25 0h1m10 0h2m8 0h1m15 0h1m19 0h1m15 0h1m24 0h2M497 248.5h1m1 0h1m7 0h3m3 0h1m5 0h1m3 0h1m1 0h1m1 0h2m5 0h3m1 0h1m2 0h1m2 0h1m1 0h1m2 0h3m1 0h1m4 0h3m4 0h1m2 0h1m3 0h1m4 0h1M500 249.5h2m1 0h1m4 0h1m2 0h1m2 0h3m3 0h2m1 0h1m9 0h2m1 0h1m3 0h1m5 0h1m3 0h1m1 0h1m15 0h4M418 250.5h1m1 0h1m80 0h1m1 0h1m41 0h1m1 0h1m2 0h1m2 0h2m7 0h1m10 0h1m8 0h1m1 0h1M500 251.5h1m24 0h1m44 0h2M540 252.5h1m16 0h1M180 254.5h1m69 0h1m71 0h2m20 0h1m37 0h1m118 0h1m12 0h3m8 0h1m3 0h3m4 0h1m5 0h1m2 0h3m3 0h1m7 0h2m1 0h1m11 0h1m3 0h1M477 255.5h1m35 0h2m10 0h1m1 0h1m7 0h1m1 0h5m4 0h1m16 0h1m9 0h1m10 0h1M150 257.5h1m3 0h1m1 0h1m7 0h2m11 0h1m1 0h1m10 0h3m5 0h1m2 0h1m10 0h1m1 0h1m6 0h1m1 0h1m1 0h1m20 0h1m2 0h1m2 0h1m6 0h1m2 0h1m7 0h1m2 0h2m2 0h1m10 0h1m6 0h2m3 0h1m5 0h3m15 0h2m8 0h1m18 0h1m1 0h2m2 0h1m7 0h1m1 0h1m9 0h1m24 0h1m1 0h1m4 0h1m2 0h2m2 0h1m1 0h1m5 0h1m11 0h1m2 0h1m2 0h2m6 0h1m1 0h1m7 0h1m4 0h1m9 0h1m1 0h1m12 0h2m5 0h1m1 0h1m4 0h1m1 0h1m6 0h1m4 0h1m10 0h1m1 0h1m2 0h1m5 0h1m11 0h3m1 0h1m7 0h1m11 0h1m2 0h2M501 258.5h1m5 0h1m1 0h1m3 0h2m7 0h2m2 0h3m4 0h3m4 0h1m6 0h1m1 0h1m1 0h2m7 0h1m1 0h1m8 0h1m5 0h2m5 0h1M497 259.5h1m3 0h1m5 0h1m2 0h1m1 0h1m3 0h1m1 0h1m1 0h1m1 0h1m4 0h1m3 0h1m7 0h1m1 0h1m1 0h3m1 0h1m6 0h2m7 0h1m3 0h2m1 0h3m1 0h2m3 0h2m1 0h2M151 260.5h1m3 0h2m5 0h1m2 0h1m1 0h1m6 0h2m37 0h1m7 0h2m1 0h1m9 0h1m1 0h1m14 0h1m12 0h1m6 0h1m14 0h1m1 0h1m8 0h2m1 0h1m7 0h1m25 0h3m4 0h1m1 0h1m25 0h2m10 0h2m8 0h1m1 0h1m56 0h1m2 0h3m9 0h1m12 0h1m1 0h1m6 0h2m7 0h1m1 0h4m1 0h1m4 0h2m3 0h1m2 0h1m3 0h2m1 0h6m1 0h2m2 0h3m1 0h2m3 0h2m3 0h1m5 0h1m2 0h1m1 0h2m7 0h1m1 0h1m1 0h1m4 0h2m1 0h1"/><path stroke="#7f41b6" d="M179 1.5h1m342 0h1m22 0h1m1 0h1m4 0h1M286 2.5h1m154 0h2m35 0h1m23 0h1m1 0h1m8 0h1m2 0h1m3 0h1m3 0h1m2 0h2m3 0h2m1 0h3m9 0h1m2 0h3m11 0h1m3 0h1m1 0h3m3 0h2m4 0h2M165 3.5h1m336 0h1m20 0h1m4 0h1M525 4.5h1m10 0h1m14 0h1m18 0h1M156 6.5h1m20 0h2m1 0h1m6 0h1m4 0h1m5 0h1m13 0h1m96 0h1m1 0h1m130 0h1m73 0h1m46 0h1m9 0h2M174 7.5h1m2 0h1m23 0h1m1 0h1m6 0h1m24 0h1m40 0h1m92 0h1m35 0h1m36 0h1m35 0h2m19 0h5m7 0h1m1 0h1m7 0h2m1 0h1m3 0h1m6 0h3m2 0h3m1 0h4m2 0h1m3 0h1m3 0h3m3 0h1m4 0h2m2 0h2m6 0h4M211 8.5h1m206 0h1m88 0h1m4 0h1m4 0h1m9 0h1m4 0h1m1 0h1m4 0h1m11 0h2m24 0h1m4 0h2M152 9.5h1m2 0h1m7 0h2m1 0h1m1 0h1m5 0h7m5 0h1m10 0h2m2 0h1m2 0h1m6 0h1m2 0h2m10 0h1m7 0h2m3 0h1m23 0h1m7 0h1m1 0h4m10 0h1m10 0h2m12 0h1m12 0h1m3 0h1m3 0h1m2 0h1m4 0h1m1 0h1m10 0h1m2 0h1m2 0h1m4 0h1m1 0h2m11 0h2m1 0h2m7 0h5m7 0h1m13 0h1m9 0h1m6 0h1m4 0h1m1 0h2m1 0h1m5 0h1m10 0h3m2 0h1m7 0h1m2 0h1m8 0h2m2 0h1m7 0h1m7 0h1m2 0h1m6 0h4m2 0h1m30 0h1m26 0h1M167 10.5h1m6 0h2m14 0h3m17 0h1m3 0h1m8 0h1m1 0h1m20 0h3m2 0h1m11 0h1m32 0h1m2 0h1m10 0h2m11 0h2m8 0h1m10 0h1m38 0h1m9 0h1m11 0h1m12 0h1m1 0h1m29 0h2m23 0h1m2 0h2m16 0h1m1 0h1m5 0h2m3 0h1m2 0h1m1 0h6m4 0h1m7 0h4m3 0h1m1 0h4m2 0h4m3 0h1m3 0h1m1 0h2m2 0h1m3 0h3m4 0h2m1 0h1m3 0h3M502 14.5h1m5 0h1m4 0h1m7 0h1m2 0h5m4 0h2m2 0h4m9 0h1m1 0h1m8 0h4m3 0h1m7 0h1M550 15.5h1M571 16.5h1M516 22.5h1M335 23.5h1m22 0h1m11 0h1m140 0h1m2 0h1m1 0h1m7 0h2m1 0h2m10 0h1m6 0h2m2 0h1m6 0h1m6 0h1m17 0h2M156 25.5h1m82 0h1m276 0h1m9 0h1m12 0h1m4 0h2m2 0h1m9 0h1m3 0h2m8 0h1M212 26.5h1m49 0h1m43 0h1m88 0h1m112 0h1m5 0h1m7 0h1m2 0h1m3 0h1m7 0h2m5 0h1m1 0h2m9 0h2m1 0h1m1 0h3m8 0h1m9 0h1M379 27.5h2m71 0h1m57 0h1m3 0h1m1 0h1m9 0h2m1 0h1m2 0h1m1 0h1m2 0h1m1 0h2m10 0h2m1 0h1m1 0h4m1 0h1m2 0h2m2 0h4m1 0h4M176 28.5h1m3 0h1m10 0h2m32 0h2m36 0h2m14 0h1m17 0h2m1 0h2m19 0h2m2 0h1m7 0h1m7 0h2m10 0h4m8 0h3m1 0h2m9 0h1m2 0h1m9 0h2m9 0h1m3 0h1m15 0h1m3 0h1m7 0h1m3 0h1m8 0h1m1 0h1m1 0h2m8 0h1m2 0h1m20 0h1m1 0h2m6 0h1m3 0h1m39 0h2m13 0h1m22 0h1M221 29.5h1m2 0h1m39 0h1m56 0h1m1 0h1m11 0h1m3 0h1m4 0h2m7 0h1m2 0h1m1 0h1m6 0h1m15 0h1m11 0h2m1 0h1m17 0h1m1 0h1m10 0h2m2 0h2m8 0h1m10 0h1m1 0h2m7 0h1m13 0h3m7 0h2m10 0h1m17 0h1m1 0h3m1 0h1m9 0h1m2 0h2m3 0h1m8 0h4m1 0h2m7 0h1m1 0h1m2 0h1m10 0h1m1 0h1M215 30.5h1m21 0h1m49 0h1m33 0h2m1 0h2m5 0h1m1 0h1m9 0h1m2 0h1m2 0h1m4 0h1m3 0h1m7 0h2m11 0h1m2 0h3m9 0h2m8 0h1m9 0h1m1 0h1m11 0h1m3 0h1m23 0h1m19 0h1m10 0h3m8 0h2m1 0h1m18 0h1m1 0h1m32 0h1m1 0h2m10 0h1m8 0h1M511 31.5h1m3 0h1m4 0h3m6 0h1m6 0h5m3 0h1m1 0h4m11 0h1m5 0h1m1 0h5m1 0h1M345 32.5h1m3 0h1m66 0h1m36 0h1m55 0h1m3 0h1m2 0h1m1 0h1m6 0h2m8 0h1m3 0h1m6 0h1m1 0h2m1 0h1m2 0h1m4 0h1m1 0h1m2 0h3m3 0h1m1 0h1m1 0h1m7 0h2M341 33.5h2m12 0h1m13 0h1m35 0h1m61 0h1m40 0h1m2 0h1m1 0h1m1 0h2m1 0h1m1 0h1m1 0h6m9 0h4m3 0h2m8 0h1m1 0h2m5 0h1m1 0h1m6 0h1m7 0h3M333 34.5h1m1 0h1m6 0h1m2 0h2m22 0h1m1 0h1m8 0h1m1 0h1m1 0h1m8 0h1m11 0h1m46 0h1m1 0h1m10 0h1m11 0h3m28 0h1m2 0h2m1 0h1m2 0h3m1 0h1m2 0h1m2 0h3m7 0h1m4 0h1m3 0h4m1 0h1m8 0h1m1 0h3m4 0h1m1 0h2m1 0h1m4 0h1m2 0h1M96 35.5h1m53 0h1m2 0h2m12 0h2m5 0h1m1 0h1m3 0h1m6 0h1m13 0h1m1 0h1m5 0h2m2 0h1m9 0h1m10 0h2m16 0h1m8 0h1m1 0h1m8 0h1m2 0h3m7 0h2m9 0h1m13 0h1m1 0h2m8 0h1m1 0h2m9 0h2m5 0h1m3 0h2m19 0h1m1 0h1m21 0h1m35 0h1m3 0h1m10 0h1m9 0h1m1 0h1m1 0h1m7 0h2m21 0h1m4 0h1m16 0h3m5 0h2m13 0h1m2 0h1m3 0h1m1 0h1m14 0h3m19 0h1m1 0h1m1 0h1M177 36.5h1m1 0h2m4 0h1m23 0h2m2 0h4m4 0h1m26 0h1m12 0h1m1 0h1m31 0h1m4 0h1m8 0h1m1 0h2m9 0h1m8 0h2m9 0h1m1 0h1m6 0h1m2 0h1m14 0h1m11 0h1m11 0h3m9 0h2m12 0h1m56 0h1m1 0h1m1 0h1m6 0h1m2 0h1m1 0h1m15 0h2m2 0h1m5 0h2m1 0h3m6 0h2m1 0h1m1 0h2m5 0h3m8 0h2m11 0h1m3 0h2m7 0h2m1 0h1M261 37.5h1m2 0h1m56 0h1m1 0h1m45 0h1m23 0h1m1 0h2m111 0h1m4 0h3m5 0h1m3 0h1m5 0h1m4 0h1m5 0h3m2 0h2m1 0h1m2 0h1m2 0h2m1 0h1m2 0h1m3 0h3m1 0h1m1 0h1m4 0h3m2 0h3M96 38.5h1m95 0h1m32 0h1m106 0h1m84 0h1m11 0h1m1 0h1m9 0h1m1 0h1m10 0h3m8 0h1m10 0h1m2 0h1m42 0h2m1 0h1m8 0h1m2 0h3m3 0h1m1 0h1m3 0h2m1 0h1m6 0h1m1 0h1m1 0h1m6 0h1m1 0h1m10 0h2M511 42.5h1m51 0h1m12 0h1m6 0h2M508 43.5h1m3 0h1m12 0h1m1 0h1m2 0h1m7 0h1m10 0h2m5 0h1m2 0h2m1 0h1m1 0h1m19 0h1M526 46.5h2m6 0h1m2 0h5m14 0h1m17 0h2M516 50.5h1m5 0h2m2 0h1m6 0h3m1 0h1m1 0h1m1 0h1m2 0h2m1 0h1m3 0h1m1 0h1m1 0h1m1 0h1m2 0h3m5 0h1m1 0h2m1 0h3m6 0h2M514 53.5h2m7 0h2m1 0h3m4 0h1m1 0h1m1 0h4m4 0h3m11 0h2m11 0h1M508 55.5h1m1 0h1m1 0h3m2 0h1m1 0h2m2 0h1m1 0h1m7 0h1m2 0h1m1 0h2m5 0h1m12 0h4m2 0h1m8 0h3M478 56.5h1m13 0h1m15 0h1m11 0h2m7 0h1m1 0h2m21 0h1m11 0h1M508 58.5h1m9 0h1m1 0h2m1 0h1m8 0h2m10 0h2m1 0h2m5 0h2m8 0h2m1 0h1m1 0h2m5 0h2m1 0h1m1 0h2m1 0h1M166 59.5h1m347 0h1m10 0h1m3 0h1m7 0h1m2 0h2m5 0h1m14 0h2m9 0h1M262 61.5h1m60 0h1m70 0h1m119 0h3m8 0h2m16 0h1m6 0h2m10 0h1m12 0h1m7 0h1M203 63.5h1m34 0h1m117 0h1m51 0h11m2 0h1m2 0h1m1 0h2m2 0h2m1 0h1m1 0h10m1 0h4m2 0h2m4 0h2m1 0h1m1 0h2m1 0h3m1 0h1m2 0h2m2 0h1m14 0h1m8 0h1m8 0h1m2 0h1m1 0h1m4 0h1m1 0h3m1 0h1m1 0h1m2 0h2m17 0h1m5 0h2m1 0h2m2 0h1m5 0h1m5 0h4m1 0h3M526 67.5h1m24 0h2m18 0h1m2 0h2M192 72.5h1m104 0h1m36 0h1m118 0h1m71 0h4m35 0h1m9 0h1m1 0h1m6 0h1M398 74.5h1m6 0h1m1 0h4m1 0h3m2 0h1m1 0h3m2 0h1M499 75.5h2m1 0h1m8 0h1m25 0h1m5 0h1m1 0h1m1 0h1m2 0h1m12 0h3m17 0h1M163 78.5h1m3 0h1m48 0h1m5 0h1m1 0h1m25 0h1m72 0h1m173 0h1m1 0h2m3 0h1m3 0h2m2 0h1m8 0h1m16 0h3m4 0h2m1 0h1m3 0h1m3 0h2m2 0h2m2 0h2m4 0h2m1 0h1m6 0h2M520 79.5h2m5 0h1m9 0h1m2 0h1m10 0h2m10 0h1m10 0h1m1 0h1M153 81.5h2m7 0h2m1 0h1m1 0h2m5 0h1m15 0h2m6 0h2m1 0h1m10 0h1m2 0h1m7 0h1m10 0h1m3 0h1m1 0h1m10 0h1m7 0h2m26 0h2m6 0h1m25 0h1m13 0h1m11 0h1m17 0h1m1 0h1m3 0h1m11 0h1m19 0h2m7 0h2m4 0h2m20 0h1m1 0h1m8 0h1m13 0h1m22 0h1m8 0h1m1 0h2m4 0h1m1 0h3m1 0h2m4 0h1m2 0h1m1 0h1m1 0h1m4 0h2m10 0h1m6 0h1m5 0h1m1 0h1m2 0h1m4 0h2m4 0h1m5 0h1m2 0h1M215 82.5h1m95 0h1m107 0h1m65 0h1m18 0h1m23 0h1m7 0h1m1 0h1m12 0h1m11 0h2m6 0h1m2 0h2m3 0h2m1 0h3M502 83.5h2m19 0h2m2 0h2m2 0h1m1 0h1m1 0h2m1 0h1m10 0h3m10 0h1m4 0h2m1 0h1m1 0h1m10 0h2M393 84.5h1m109 0h1m3 0h2m1 0h1m13 0h1m2 0h1m5 0h6m1 0h1m10 0h1m6 0h2m13 0h1m3 0h2m4 0h2M120 85.5h1m367 0h1m12 0h3m7 0h1m2 0h2m8 0h1m1 0h1m2 0h1m5 0h2m1 0h1m8 0h1m2 0h2m10 0h3m2 0h1m2 0h2M175 86.5h1m3 0h1m5 0h3m2 0h2m6 0h2m11 0h2m10 0h1m9 0h1m3 0h1m1 0h1m11 0h1m10 0h1m24 0h1m7 0h1m10 0h1m24 0h1m1 0h2m9 0h1m8 0h3m10 0h1m27 0h1m4 0h1m11 0h1m4 0h2m11 0h1m32 0h1m2 0h1m1 0h1m9 0h2m5 0h1m2 0h2m10 0h2m7 0h1m1 0h3m3 0h2m2 0h1m9 0h3m2 0h1m1 0h1m1 0h1m2 0h1m1 0h1m11 0h1m8 0h2m1 0h2m1 0h2m8 0h2M497 88.5h1m1 0h1m1 0h1m8 0h3m1 0h2m3 0h6m5 0h1m7 0h1m2 0h1m3 0h1m1 0h2m1 0h2m1 0h2m2 0h1m1 0h1m3 0h2m1 0h1m2 0h1m1 0h1m1 0h1m2 0h2m5 0h2M449 93.5h1m3 0h1m48 0h1m7 0h3m1 0h1m1 0h1m9 0h1m3 0h1m10 0h2m3 0h1m2 0h2m2 0h1m6 0h2m3 0h1m3 0h1m5 0h2m1 0h1m4 0h2M299 95.5h1m213 0h1m1 0h1m3 0h1m1 0h1m2 0h1m3 0h1m2 0h1m3 0h2m2 0h1m2 0h2m1 0h1m3 0h5m1 0h2m6 0h1m7 0h2m4 0h1m1 0h2m1 0h1M204 96.5h1m35 0h1m8 0h1m10 0h1m1 0h2m8 0h1m2 0h1m94 0h1m22 0h1m2 0h1m21 0h1m89 0h3m4 0h1m2 0h1m2 0h2m7 0h1m2 0h1m2 0h1m5 0h1m12 0h1m1 0h3m5 0h3m10 0h1m1 0h2M419 98.5h1m8 0h1m2 0h1m8 0h3m19 0h1m1 0h1m22 0h2m2 0h1m7 0h1m8 0h2m2 0h1m9 0h1m1 0h1m3 0h2m1 0h4m5 0h1m5 0h1m1 0h3m2 0h1m7 0h4m3 0h7m1 0h1m4 0h1m1 0h1M511 100.5h1m10 0h1m2 0h1m12 0h1m2 0h1m9 0h1m22 0h1m9 0h1M149 102.5h1m1 0h2m1 0h2m18 0h1m2 0h1m2 0h1m20 0h2m1 0h1m5 0h1m2 0h2m1 0h1m10 0h1m5 0h1m1 0h1m1 0h2m1 0h1m9 0h2m8 0h1m9 0h1m3 0h2m7 0h4m8 0h1m3 0h1m10 0h2m13 0h1m16 0h1m1 0h2m1 0h1m1 0h1m5 0h1m1 0h1m9 0h2m13 0h3m6 0h1m92 0h2m1 0h1m1 0h4m9 0h1m4 0h1m1 0h1m4 0h1m7 0h3m1 0h1m1 0h1m8 0h1m7 0h1m4 0h2m9 0h3m3 0h3m3 0h2m1 0h1m3 0h1m2 0h1M526 106.5h1m40 0h2M513 107.5h1m2 0h1m1 0h1m4 0h2m6 0h1m6 0h3m5 0h2m4 0h3m1 0h1m2 0h2m4 0h1m1 0h1m2 0h1m2 0h2m5 0h1m1 0h1m1 0h1M538 108.5h1M539 110.5h1m7 0h1m15 0h1M540 111.5h1m5 0h2m4 0h1m9 0h1m11 0h1m8 0h1M584 114.5h1M516 116.5h1m22 0h1m31 0h1m1 0h4M513 117.5h2m1 0h1m3 0h2m2 0h4m4 0h2m3 0h4m2 0h1m2 0h1m2 0h1m1 0h3m2 0h3m1 0h1m11 0h1m3 0h1m1 0h2m3 0h2M513 121.5h1m12 0h1m24 0h1M539 122.5h1M514 124.5h1M513 126.5h1m8 0h1m5 0h3m4 0h1m4 0h1m17 0h1m13 0h1m11 0h1M508 127.5h1m1 0h1m1 0h1m5 0h2m1 0h1m1 0h1m12 0h1m4 0h2m5 0h1m4 0h1m1 0h2m4 0h1m3 0h1m1 0h4m4 0h3m1 0h3M514 128.5h1m1 0h1m9 0h1m1 0h1m3 0h1m3 0h3m1 0h1m4 0h1m1 0h1m1 0h2m1 0h1m5 0h1m4 0h1m7 0h1M514 138.5h1M156 139.5h1m5 0h2m23 0h1m4 0h1m23 0h1m9 0h1m24 0h1m8 0h3m1 0h1m11 0h1m8 0h1m1 0h1m48 0h1m33 0h1m22 0h1m36 0h1m11 0h1m43 0h1m11 0h1m1 0h2m13 0h1m2 0h1m7 0h1m1 0h1m4 0h1m1 0h1m4 0h2m1 0h1m2 0h1m1 0h2m1 0h1m1 0h1m1 0h1m1 0h1m8 0h1m2 0h1m8 0h1M179 140.5h1m12 0h1m54 0h1m15 0h1m203 0h1m32 0h3m5 0h1m3 0h3m1 0h1m5 0h1m3 0h2m5 0h1m4 0h3m2 0h1m1 0h2m2 0h1m7 0h1m1 0h2m2 0h1m7 0h2m1 0h2m7 0h1M513 141.5h1m14 0h1m16 0h1m1 0h1m14 0h1m11 0h1m8 0h1M510 146.5h1m27 0h1m8 0h1m3 0h1m17 0h3m11 0h2M497 147.5h1m3 0h2m9 0h2m2 0h1m7 0h1m1 0h1m10 0h2m1 0h1m5 0h1m2 0h1m1 0h2m6 0h5m7 0h1m6 0h1M503 148.5h1m10 0h1m1 0h1m7 0h1m9 0h1m2 0h1m14 0h1m8 0h2m10 0h3m2 0h1M513 150.5h4m3 0h1m3 0h1m1 0h1m18 0h4m3 0h1m5 0h1m2 0h2m2 0h1m7 0h1M513 151.5h1m48 0h1M174 153.5h1m11 0h1m1 0h1m12 0h2m1 0h1m7 0h1m4 0h1m19 0h3m9 0h1m1 0h1m9 0h1m1 0h1m10 0h2m5 0h1m4 0h3m7 0h2m1 0h1m10 0h1m1 0h1m20 0h2m3 0h1m4 0h3m11 0h1m1 0h1m9 0h2m9 0h2m11 0h2m20 0h1m2 0h1m3 0h1m3 0h1m3 0h1m24 0h1m7 0h2m1 0h1m17 0h1m2 0h1m1 0h1m8 0h1m1 0h1m1 0h1m5 0h1m3 0h3m5 0h1m2 0h2m11 0h1m7 0h1m2 0h2m1 0h1m3 0h1m2 0h2m17 0h1m5 0h2M512 154.5h1m13 0h2m13 0h1m5 0h2m10 0h1m3 0h1m6 0h1m2 0h1M522 156.5h1m3 0h1m10 0h1m10 0h1m2 0h1M526 157.5h3m11 0h1m18 0h1m23 0h1M526 158.5h2m34 0h1m20 0h1M526 160.5h1m1 0h1M167 164.5h1m44 0h1m98 0h1m225 0h1m21 0h1M344 175.5h1m230 0h3M525 181.5h2m1 0h1m5 0h1m2 0h2m8 0h1m4 0h2m3 0h2m11 0h2m1 0h1m1 0h1m6 0h3M511 183.5h1m2 0h1m2 0h3m2 0h2m2 0h1m5 0h1m1 0h1m1 0h1m1 0h1m7 0h2m7 0h1m1 0h3m1 0h3m5 0h1m4 0h5m5 0h1M508 185.5h2m9 0h3m1 0h1m3 0h1m2 0h1m1 0h1m1 0h2m5 0h1m12 0h1m2 0h1m7 0h1m3 0h1m9 0h1M429 189.5h1m12 0h1m68 0h1m17 0h1m2 0h1m9 0h1m11 0h2m14 0h2m5 0h2m2 0h3M517 190.5h2m8 0h1m1 0h4m1 0h1m1 0h1m1 0h4m3 0h2m2 0h1m14 0h3m6 0h1m2 0h1m2 0h1m3 0h1M509 191.5h1m6 0h1m33 0h1m12 0h1m9 0h1m2 0h1m7 0h1M510 192.5h1m1 0h1m1 0h2m5 0h2m1 0h1m2 0h1m4 0h1m3 0h1m1 0h3m9 0h2m1 0h1m7 0h2m1 0h2m1 0h3m1 0h1m12 0h1M526 193.5h1M515 196.5h2m6 0h1m1 0h2m11 0h1m2 0h1m3 0h1m1 0h2m1 0h1m1 0h1m3 0h1m7 0h1m2 0h1m6 0h1m8 0h2M508 197.5h3m1 0h1m3 0h1m28 0h4m2 0h2m3 0h2m1 0h4m1 0h2m5 0h1m1 0h1m5 0h1m1 0h1m1 0h1M251 203.5h1m245 0h1m1 0h1m9 0h1m3 0h1m5 0h1m1 0h1m9 0h4m1 0h1m4 0h1m7 0h1m5 0h1m1 0h2m2 0h2m5 0h2m1 0h1m1 0h1m9 0h1M497 205.5h1m27 0h1m20 0h1m24 0h1M187 207.5h1m35 0h1m24 0h1m72 0h1m37 0h1m136 0h1m12 0h1m3 0h3m1 0h1m1 0h2m12 0h1m11 0h1m8 0h3m4 0h1m5 0h1m1 0h1m3 0h1m3 0h3m1 0h1M153 208.5h1m13 0h1m19 0h2m1 0h1m6 0h1m1 0h1m13 0h1m2 0h1m9 0h1m19 0h1m3 0h2m12 0h1m6 0h1m4 0h1m8 0h1m14 0h1m32 0h1m2 0h1m11 0h1m5 0h1m1 0h1m12 0h3m34 0h1m33 0h1m9 0h1m37 0h1m1 0h1m2 0h1m13 0h1m1 0h1m10 0h3m1 0h1m4 0h1m1 0h3m6 0h1m14 0h1m20 0h1m1 0h2M547 209.5h1M300 210.5h1m207 0h1m1 0h3m5 0h1m2 0h4m4 0h2m1 0h1m1 0h1m5 0h1m4 0h1m13 0h1m2 0h2m10 0h2m3 0h1m1 0h1M501 211.5h3m5 0h1m2 0h1m1 0h1m1 0h1m5 0h2m11 0h1m3 0h3m1 0h1m4 0h4m3 0h1m6 0h1m2 0h1m3 0h4m2 0h3m5 0h1M525 212.5h2m1 0h1m9 0h1m11 0h1m1 0h1m6 0h1M152 214.5h1m1 0h1m8 0h1m10 0h1m1 0h2m1 0h1m5 0h1m3 0h1m7 0h1m11 0h2m2 0h1m9 0h1m13 0h1m7 0h1m1 0h2m2 0h2m7 0h1m12 0h1m1 0h1m4 0h1m1 0h1m1 0h5m10 0h1m7 0h4m1 0h1m8 0h2m6 0h1m2 0h1m11 0h1m1 0h1m1 0h1m7 0h1m1 0h1m6 0h4m1 0h1m6 0h1m2 0h1m11 0h2m2 0h1m6 0h2m2 0h2m5 0h1m4 0h1m6 0h1m5 0h1m7 0h2m2 0h1m11 0h1m7 0h1m2 0h1m6 0h3m2 0h1m5 0h1m1 0h1m2 0h1m1 0h1m3 0h1m20 0h1m62 0h2m2 0h1M500 215.5h1m6 0h1m3 0h1m1 0h1m1 0h1m1 0h1m1 0h1m3 0h1m3 0h1m4 0h1m9 0h1m1 0h2m3 0h3m2 0h1m3 0h1m13 0h1m3 0h1m6 0h1M497 216.5h1m2 0h2m11 0h2m3 0h1m4 0h1m1 0h2m1 0h1m6 0h1m4 0h2m5 0h3m1 0h1m2 0h1m2 0h2m4 0h3m5 0h2m5 0h1m1 0h3M32 218.5h1m123 0h1m176 0h1m7 0h1m5 0h1m20 0h1m9 0h3m1 0h1m45 0h1m33 0h1m29 0h1m3 0h1m1 0h1m5 0h1m2 0h1m3 0h1m5 0h6m6 0h1m1 0h1m11 0h3m3 0h1m1 0h1m1 0h3m9 0h1m1 0h4m1 0h1m4 0h1m2 0h2M198 219.5h1m302 0h4m2 0h1m1 0h1m2 0h2m3 0h1m2 0h2m1 0h3m1 0h1m2 0h1m1 0h1m3 0h1m1 0h4m4 0h1m1 0h2m1 0h1m7 0h2m1 0h4m5 0h2m1 0h3m3 0h1m2 0h1M139 220.5h1M496 222.5h1m2 0h3m2 0h1m3 0h2m1 0h3m1 0h2m14 0h2m1 0h2m1 0h1m5 0h2m3 0h1m4 0h1m1 0h2m3 0h1m6 0h1m2 0h1m1 0h1m2 0h1M50 223.5h1m448 0h3m2 0h2m6 0h3m1 0h1m1 0h2m1 0h2m1 0h1m3 0h1m1 0h1m2 0h1m7 0h4m4 0h5m1 0h2m1 0h1m2 0h1m1 0h1m1 0h1m1 0h1m4 0h1m4 0h3m1 0h1M507 228.5h2m5 0h1m6 0h1m4 0h2m4 0h1m3 0h1m7 0h1m8 0h2m5 0h1m3 0h2m2 0h1m9 0h1m1 0h3M503 234.5h1m6 0h1m5 0h1m17 0h2m2 0h2m5 0h1m1 0h1m2 0h1m6 0h2m1 0h1m2 0h1m11 0h1m1 0h1m4 0h2M511 235.5h1m1 0h1m2 0h1m8 0h1m1 0h1m9 0h4m9 0h1m23 0h1m8 0h1M575 236.5h1m7 0h1M501 237.5h2m13 0h1m8 0h1m2 0h1m44 0h3M525 239.5h1m2 0h1m6 0h1m4 0h1m5 0h2m13 0h2m8 0h1M497 240.5h3m13 0h1m5 0h2m34 0h1m13 0h1m9 0h1M417 242.5h1m59 0h3m17 0h1m5 0h1m6 0h1m4 0h3m7 0h1m1 0h1m2 0h1m4 0h2m3 0h2m6 0h1m2 0h2m7 0h1m2 0h1m1 0h1m1 0h3m1 0h1m3 0h3m6 0h1M497 243.5h1m11 0h3m3 0h2m1 0h1m14 0h1m6 0h3m2 0h1m8 0h1m4 0h5m4 0h1m2 0h1m1 0h1m5 0h1m2 0h1M417 244.5h1m1 0h1m34 0h1m13 0h1m8 0h2m13 0h1m4 0h1m12 0h2m1 0h1m2 0h4m3 0h1m4 0h1m1 0h2m2 0h1m1 0h1m2 0h1m1 0h1m1 0h2m2 0h1m2 0h1m18 0h1m1 0h4m3 0h1m1 0h1m1 0h1m1 0h1M62 245.5h1m440 0h1m4 0h1m1 0h1m7 0h4m2 0h1m1 0h1m1 0h1m1 0h1m7 0h1m2 0h1m5 0h2m4 0h1m1 0h1m1 0h4m6 0h2m1 0h1m7 0h1m3 0h1M191 246.5h1m6 0h1m88 0h1m70 0h1m91 0h1m3 0h2m10 0h1m30 0h1m7 0h1m7 0h1m5 0h1m1 0h1m6 0h2m2 0h1m3 0h1m5 0h1m1 0h1m9 0h2m11 0h1m13 0h1M500 248.5h1m3 0h1m1 0h1m4 0h1m2 0h3m3 0h1m3 0h1m1 0h1m10 0h1m1 0h2m6 0h2m3 0h1m8 0h4m2 0h1m1 0h3m1 0h2M522 249.5h1m2 0h5m5 0h1m1 0h3m32 0h1m3 0h2M551 250.5h1m19 0h1M563 251.5h1M513 254.5h1m6 0h3m3 0h3m5 0h2m1 0h4m7 0h1m26 0h1m8 0h1M515 255.5h2M199 257.5h1m3 0h2m6 0h1m4 0h1m20 0h2m1 0h1m4 0h1m1 0h1m3 0h1m11 0h2m10 0h1m9 0h1m8 0h1m16 0h2m9 0h1m10 0h1m12 0h1m11 0h1m7 0h1m11 0h1m14 0h2m22 0h1m1 0h1m9 0h1m10 0h1m2 0h1m6 0h1m2 0h1m1 0h1m8 0h1m10 0h1m11 0h1m9 0h2m1 0h1m2 0h1m3 0h1m1 0h6m1 0h2m1 0h1m1 0h2m6 0h1m2 0h1m5 0h2m1 0h1m1 0h3m1 0h1m2 0h1m2 0h1m5 0h3m1 0h1m1 0h1m7 0h1m2 0h1m3 0h1M512 258.5h1m24 0h3m23 0h1m11 0h2M502 259.5h1m12 0h1m3 0h1m3 0h2m1 0h1m5 0h5m3 0h1m7 0h2m1 0h1m5 0h3m13 0h1m10 0h1M177 260.5h1m23 0h1m1 0h1m55 0h1m73 0h1m60 0h2m101 0h1m12 0h1m1 0h1m1 0h2m6 0h1m10 0h1m3 0h1m2 0h1m4 0h1m4 0h3m16 0h1m4 0h3m2 0h1m1 0h3"/><path stroke="#7b2d9a" d="M522 2.5h1m40 0h1m9 0h1M527 3.5h1M179 6.5h1m335 0h1M440 7.5h1m82 0h1m14 0h2m11 0h2m10 0h1m7 0h1M525 8.5h1m9 0h1m1 0h1m35 0h2M156 9.5h1m5 0h1m2 0h1m24 0h3m17 0h1m14 0h1m24 0h2m26 0h1m7 0h1m24 0h1m9 0h1m37 0h1m22 0h1m6 0h1m1 0h1m10 0h1m8 0h1m41 0h1m11 0h1m13 0h1m5 0h1m12 0h1m1 0h1m3 0h1m3 0h2m1 0h2m3 0h1m4 0h2m1 0h1m4 0h1m1 0h1m4 0h1m1 0h1m3 0h2m7 0h1m3 0h4m1 0h3m1 0h7m9 0h1m1 0h1M156 10.5h1m54 0h1m4 0h1m69 0h1m35 0h1m24 0h1m32 0h3m1 0h1m10 0h2m68 0h1m31 0h1m1 0h4m5 0h1m1 0h2m1 0h1m8 0h2m5 0h2m7 0h1m1 0h1m4 0h1m5 0h2m6 0h1m2 0h2m3 0h1m3 0h3M522 14.5h1m52 0h1m7 0h1M322 23.5h1m174 0h1m3 0h1m1 0h1m22 0h1m10 0h1m13 0h2m8 0h3M546 25.5h1m27 0h1m1 0h1M526 26.5h1m1 0h1m11 0h1m33 0h1m1 0h1M395 27.5h1m129 0h1m2 0h1m7 0h1m1 0h1m7 0h1m16 0h1M156 28.5h1m33 0h1m24 0h1m7 0h1m27 0h1m32 0h1m47 0h1m1 0h2m3 0h1m3 0h4m1 0h1m2 0h1m7 0h1m21 0h2m1 0h1m5 0h3m2 0h2m8 0h1m10 0h2m1 0h1m6 0h1m2 0h1m1 0h2m6 0h1m2 0h3m7 0h1m2 0h1m6 0h1m2 0h1m9 0h1m1 0h4m7 0h1m10 0h1m3 0h1m4 0h1m8 0h2m11 0h6m19 0h1m9 0h1m1 0h2m3 0h1m8 0h2m1 0h1M223 29.5h1m100 0h2m33 0h1m35 0h1m66 0h1m1 0h1m43 0h1m1 0h4m4 0h1m3 0h1m1 0h1m3 0h1m1 0h1m1 0h1m6 0h2m2 0h3m12 0h2m5 0h1m1 0h2m2 0h1m1 0h1m1 0h1m1 0h1m3 0h1m1 0h2M330 30.5h1m1 0h1m12 0h1m1 0h1m8 0h1m2 0h1m21 0h1m3 0h1m7 0h1m11 0h1m23 0h1m23 0h3m6 0h1m1 0h1m2 0h1m32 0h1m2 0h1m12 0h1m1 0h2m3 0h1m17 0h4m8 0h2m1 0h1m2 0h2m4 0h1m1 0h1m3 0h2m2 0h1m1 0h1m1 0h2m1 0h1M480 31.5h1m32 0h2m8 0h2m1 0h2m17 0h1m4 0h2m2 0h1m7 0h1M508 32.5h1m1 0h1m3 0h2m12 0h1m8 0h1m2 0h1m4 0h1m1 0h1m15 0h1m7 0h1M510 33.5h1m1 0h1m1 0h1m6 0h1m6 0h1m5 0h1m1 0h1m9 0h4m2 0h1m6 0h2m18 0h1m3 0h2M370 34.5h1m10 0h1m12 0h1m114 0h2m2 0h1m2 0h1m3 0h1m1 0h1m2 0h1m6 0h5m2 0h3m8 0h1m5 0h4m13 0h1m6 0h1M155 35.5h2m20 0h1m1 0h1m10 0h1m1 0h1m11 0h1m6 0h2m36 0h2m36 0h1m21 0h1m1 0h1m9 0h1m1 0h1m9 0h1m11 0h1m3 0h1m31 0h1m23 0h1m18 0h1m51 0h1m31 0h1m3 0h1m6 0h2m2 0h4m1 0h2m4 0h1m2 0h2m1 0h1m2 0h3m1 0h1m11 0h3m2 0h4m1 0h1m7 0h1m1 0h1m3 0h1M153 36.5h1m1 0h2m105 0h1m133 0h1m38 0h1m41 0h1m32 0h2m1 0h1m1 0h1m1 0h1m6 0h1m4 0h1m4 0h1m2 0h1m3 0h1m4 0h5m1 0h1m6 0h3m1 0h3m1 0h2m3 0h1m1 0h2m1 0h1m5 0h1M155 37.5h1m166 0h1m36 0h1m75 0h1m84 0h1m1 0h3m9 0h1m3 0h2m1 0h1m4 0h1m4 0h1m8 0h2m1 0h2m6 0h1m1 0h4M435 38.5h1m27 0h1m13 0h1m36 0h1m9 0h1m1 0h3m18 0h1m3 0h1m12 0h1M572 42.5h1M526 43.5h1m1 0h1m19 0h1M516 46.5h1M239 50.5h1m81 0h1m48 0h1m11 0h1m119 0h1m21 0h2m1 0h1m12 0h1m5 0h1m1 0h1m1 0h1m5 0h1m1 0h1m5 0h1m4 0h1m2 0h1m11 0h1M516 53.5h1M516 55.5h1m4 0h1m2 0h1m26 0h2m9 0h2m1 0h1M509 56.5h2m6 0h2m9 0h1m1 0h1m4 0h1m6 0h2m3 0h1m3 0h2m2 0h1m2 0h5m1 0h2m1 0h5m1 0h1m2 0h2m1 0h1m1 0h2M7 58.5h1m167 0h1m50 0h1m84 0h1m165 0h1m31 0h1m3 0h1m1 0h1m9 0h1m1 0h4m3 0h1m1 0h2m1 0h1m1 0h1m4 0h1m4 0h1m1 0h1m5 0h5m4 0h1m2 0h1m1 0h1m1 0h1m4 0h1M539 59.5h1m6 0h1m36 0h1M527 61.5h2m17 0h1m2 0h1m2 0h1m20 0h1M420 63.5h1m1 0h2m1 0h1m2 0h2m2 0h1m1 0h1m10 0h1m4 0h2m2 0h4m2 0h1m1 0h1m2 0h1m3 0h1m1 0h2m41 0h1m18 0h5m1 0h1m6 0h2m1 0h1m1 0h2m11 0h1m2 0h2m1 0h5m4 0h1m3 0h2M573 72.5h1m3 0h1M548 75.5h1m24 0h1m10 0h1M358 78.5h1m151 0h1m5 0h1m30 0h1m24 0h1m2 0h1m8 0h1M176 81.5h1m26 0h1m81 0h2m81 0h1m1 0h1m40 0h1m86 0h1m2 0h1m4 0h1m3 0h1m2 0h1m4 0h2m1 0h1m1 0h1m2 0h2m3 0h1m2 0h1m2 0h2m1 0h1m1 0h1m3 0h2m2 0h1m4 0h1m1 0h2m3 0h2m4 0h2m4 0h1m5 0h1m1 0h1m1 0h1M335 82.5h1m166 0h1M534 83.5h1m2 0h1m14 0h1M511 84.5h1m62 0h3M180 86.5h1m54 0h1m4 0h1m22 0h1m22 0h1m9 0h1m24 0h1m3 0h1m19 0h1m10 0h1m33 0h1m13 0h2m1 0h1m23 0h1m21 0h1m25 0h1m5 0h2m18 0h1m7 0h1m1 0h1m7 0h2m4 0h1m3 0h2m5 0h2m1 0h1m1 0h4m1 0h2m2 0h1m3 0h3m2 0h1m3 0h1m11 0h2m2 0h2M502 88.5h3m3 0h1m4 0h1m11 0h3m11 0h1m12 0h1m9 0h1m2 0h1m9 0h1M527 93.5h1m9 0h1m1 0h2m11 0h1m10 0h2m5 0h1m2 0h2M511 95.5h1m2 0h1m7 0h2m1 0h3m5 0h2m5 0h2m4 0h3m9 0h3m3 0h1m9 0h3m6 0h2M251 96.5h1m216 0h1m44 0h2m2 0h1m5 0h3m3 0h1m1 0h2m1 0h1m11 0h1m3 0h1m2 0h2m1 0h1m3 0h2m2 0h1m4 0h2m3 0h2m1 0h1m1 0h1M466 98.5h1m44 0h1m3 0h2m4 0h1m1 0h1m2 0h1m11 0h1m16 0h1m1 0h2m1 0h1m14 0h1m8 0h1M527 100.5h1M156 102.5h1m19 0h1m38 0h1m18 0h1m4 0h1m21 0h1m35 0h1m2 0h1m45 0h1m1 0h1m9 0h2m98 0h1m56 0h2m10 0h1m18 0h1m37 0h1M515 107.5h1m10 0h1m22 0h3m19 0h1M346 109.5h1m58 0h1m36 0h1M515 117.5h1m18 0h2m12 0h1m1 0h1m8 0h1m2 0h1m8 0h1m1 0h2M526 126.5h1m56 0h1M511 127.5h1m2 0h3m3 0h1m3 0h1m5 0h1m2 0h1m1 0h1m1 0h3m5 0h2m3 0h2m5 0h1m1 0h2m1 0h2m2 0h1m5 0h1m1 0h1m9 0h1M533 128.5h3m24 0h1M502 138.5h1M286 139.5h1m107 0h1m1 0h1m100 0h1m1 0h1m8 0h6m7 0h4m2 0h1m9 0h3m7 0h1m4 0h1m5 0h2m1 0h1m1 0h1m7 0h1m1 0h1m2 0h1m6 0h1M499 140.5h1m28 0h1m8 0h1m6 0h1m3 0h1m12 0h2m21 0h1M539 147.5h1m44 0h1M563 148.5h1M502 150.5h1m22 0h1m1 0h2m22 0h1m11 0h1M185 153.5h1m1 0h1m4 0h1m10 0h1m6 0h1m11 0h2m49 0h1m37 0h1m9 0h1m10 0h1m2 0h2m10 0h1m18 0h1m52 0h1m5 0h1m3 0h1m23 0h2m10 0h1m11 0h2m6 0h1m4 0h1m1 0h1m3 0h1m2 0h1m1 0h1m8 0h2m3 0h2m2 0h1m2 0h1m4 0h6m2 0h1m10 0h1m4 0h1m1 0h1m1 0h2m2 0h1m2 0h2m1 0h2m1 0h1m1 0h1m2 0h1m3 0h2M537 154.5h1m23 0h2M538 160.5h1M259 164.5h1m181 0h1M584 175.5h1M539 181.5h2m8 0h1m24 0h1M513 183.5h1m1 0h1m4 0h1m4 0h1m1 0h2m4 0h1m1 0h1m1 0h1m1 0h1m9 0h2m1 0h2m11 0h1m2 0h1m1 0h2m1 0h1M510 185.5h2m10 0h1m1 0h1m4 0h1m6 0h1m1 0h1m5 0h1m10 0h2m2 0h1m6 0h3m3 0h1m5 0h1m1 0h3M508 189.5h3m1 0h2m1 0h3m1 0h3m2 0h1m2 0h1m2 0h1m2 0h3m1 0h2m1 0h2m2 0h2m2 0h2m1 0h1m1 0h1m2 0h3m9 0h2m10 0h1M513 190.5h3m9 0h2m1 0h1m4 0h1m1 0h1m1 0h1m12 0h2m7 0h1m1 0h2m6 0h1m1 0h1m2 0h1M552 192.5h1m10 0h1M537 196.5h1m8 0h1M511 197.5h1m64 0h1m7 0h1M502 203.5h2m10 0h3m5 0h3m1 0h1m1 0h3m6 0h1m7 0h1m4 0h1m1 0h2m6 0h1m6 0h1m2 0h1m13 0h1M497 207.5h4m1 0h1m1 0h1m1 0h3m1 0h2m4 0h1m4 0h3m1 0h1m1 0h5m4 0h1m7 0h1m1 0h1m5 0h2m3 0h4m2 0h1m4 0h1m2 0h2m1 0h1m1 0h1M203 208.5h2m92 0h1m49 0h1m34 0h1m13 0h1m100 0h1m1 0h1m1 0h1m14 0h2m16 0h3m2 0h1m1 0h2m11 0h1m1 0h1m1 0h2m1 0h1m3 0h3m1 0h1m3 0h1M497 210.5h1m5 0h1m9 0h1m2 0h1m8 0h3m5 0h1m2 0h1m18 0h3m14 0h1m10 0h2M525 211.5h2m1 0h1m4 0h2m2 0h2m6 0h2m5 0h1m10 0h2m9 0h1M549 212.5h1m3 0h1M156 214.5h1m9 0h2m19 0h2m1 0h3m5 0h2m4 0h1m6 0h2m2 0h1m10 0h1m12 0h2m9 0h1m11 0h2m12 0h1m54 0h1m2 0h2m2 0h1m8 0h1m11 0h1m18 0h2m3 0h1m1 0h1m8 0h2m33 0h3m11 0h1m9 0h1m11 0h1m11 0h2m1 0h1m3 0h1m3 0h1m2 0h1m5 0h1m9 0h1m3 0h1m3 0h1m2 0h3m8 0h1m1 0h1m2 0h2m6 0h4m9 0h2m2 0h2m6 0h4m1 0h1m2 0h1m1 0h3m2 0h1M501 215.5h4m4 0h2m1 0h1m1 0h1m7 0h1m8 0h1m1 0h4m1 0h1m1 0h1m2 0h1m2 0h1m1 0h1m4 0h1m3 0h1m3 0h1m3 0h2m6 0h2m2 0h1M192 216.5h1m93 0h1m215 0h3m11 0h1m20 0h3m6 0h1m3 0h1m2 0h1m2 0h1m16 0h1m1 0h3m6 0h1M365 218.5h1m34 0h1m4 0h1m2 0h3m3 0h1m1 0h5m3 0h1m66 0h1m5 0h1m1 0h4m7 0h1m2 0h1m1 0h2m6 0h3m1 0h1m2 0h1m1 0h1m2 0h2m11 0h1m1 0h1m7 0h1m7 0h1m6 0h4m5 0h1M514 219.5h1m1 0h1m9 0h1m7 0h1m15 0h1m1 0h2m3 0h1m15 0h1M502 222.5h2m10 0h1m10 0h2m2 0h2m5 0h1m2 0h3m3 0h3m3 0h2m4 0h2m6 0h2m4 0h1m1 0h2m1 0h2m5 0h2M479 223.5h1m22 0h1m12 0h1m4 0h1m4 0h1m8 0h1m2 0h2m1 0h1m4 0h1m1 0h1m9 0h1m1 0h2m12 0h1m1 0h1m8 0h1M501 228.5h3m6 0h3m4 0h2m3 0h4m2 0h1m4 0h3m4 0h4m1 0h5m2 0h1m6 0h1m9 0h2m1 0h6m5 0h1M501 234.5h2m22 0h2m13 0h1m32 0h2M515 235.5h1M534 239.5h1m2 0h1m26 0h1M500 240.5h1m8 0h1m2 0h1m2 0h1m1 0h1m3 0h1m4 0h1m2 0h1m1 0h2m10 0h2m1 0h1m2 0h1m6 0h4m2 0h1m2 0h2m1 0h1m1 0h1m2 0h1m2 0h1m1 0h1m1 0h3M526 242.5h1m7 0h1m2 0h3m7 0h1m1 0h2m2 0h1m16 0h1m1 0h1m1 0h1M500 243.5h1m12 0h1m3 0h1m9 0h1m1 0h2m3 0h3m1 0h2m8 0h3m1 0h2m10 0h2m9 0h1m1 0h1m6 0h1M442 244.5h1m22 0h1m49 0h1m4 0h3m2 0h3m5 0h1m1 0h1m1 0h2m1 0h1m8 0h1m2 0h2m6 0h2m2 0h2m9 0h1m1 0h1m5 0h1M502 245.5h1m10 0h1m1 0h2m5 0h2m1 0h1m1 0h1m9 0h1m7 0h1m3 0h3m2 0h1m1 0h1m6 0h2m7 0h6m5 0h2M498 246.5h1m1 0h1m1 0h1m5 0h5m3 0h1m3 0h1m1 0h3m5 0h1m2 0h1m3 0h3m3 0h1m1 0h1m2 0h1m1 0h1m5 0h1m2 0h1m1 0h1m2 0h3m1 0h2m1 0h1m5 0h1m1 0h2m1 0h1m1 0h1M501 248.5h1m1 0h1m17 0h1m54 0h1M573 249.5h3M151 257.5h2m2 0h1m83 0h1m10 0h1m251 0h1m15 0h1m4 0h1m1 0h2m3 0h1m3 0h2m1 0h1m2 0h1m7 0h2m1 0h1m10 0h1m5 0h1m1 0h2m2 0h2m7 0h1M502 258.5h1m70 0h2M513 259.5h2m22 0h2m14 0h1m6 0h1M502 260.5h1m44 0h1m25 0h1m10 0h1"/><path stroke="#701e77" d="M523 2.5h1M414 3.5h6m1 0h3m1 0h7M526 7.5h1M310 9.5h1m190 0h1m1 0h1m10 0h1m11 0h1m1 0h1m1 0h1m1 0h4m8 0h3m3 0h1m8 0h1m3 0h1m7 0h2m5 0h1m4 0h2M503 10.5h1m22 0h1m1 0h1m17 0h1m30 0h1M527 26.5h1M562 27.5h1M347 28.5h1m10 0h1m48 0h1m33 0h1m22 0h1m35 0h1m8 0h3m1 0h1m5 0h3m1 0h1m2 0h1m1 0h2m6 0h1m3 0h1m2 0h3m2 0h2m3 0h2m2 0h2m1 0h2m1 0h2m1 0h1m2 0h3m5 0h1m2 0h1m2 0h1M500 29.5h1m13 0h1m10 0h1m3 0h1m8 0h1m7 0h3m8 0h1m2 0h4m6 0h1m1 0h1m1 0h1m1 0h1M396 30.5h1m80 0h1m1 0h2m27 0h5m4 0h1m3 0h1m2 0h2m2 0h5m1 0h1m1 0h2m2 0h1m4 0h2m1 0h2m2 0h1m8 0h1m4 0h1m1 0h1m1 0h1m2 0h2m1 0h1m4 0h1m1 0h1M552 31.5h1m21 0h1M527 32.5h1m10 0h1m11 0h1m1 0h1m9 0h1M441 33.5h1m109 0h1M515 34.5h1m7 0h1m14 0h1m44 0h2M513 35.5h3m5 0h1m5 0h1m18 0h1m1 0h1m2 0h4m7 0h2m4 0h1m1 0h3m1 0h1m9 0h1M514 36.5h1m1 0h1m9 0h3m9 0h2m16 0h1m1 0h1m3 0h1m21 0h1M537 37.5h1m2 0h1m8 0h1M546 38.5h1m15 0h1M30 49.5h1m3 0h1m8 0h1M10 50.5h1m19 0h1m136 0h1m11 0h1m7 0h1m15 0h2m5 0h2m11 0h1m1 0h1m14 0h1m20 0h2m1 0h1m11 0h1m34 0h1m20 0h1m11 0h1m1 0h1m58 0h1m73 0h1m12 0h1m10 0h1m59 0h1M333 53.5h1m10 0h1m1 0h1m46 0h2m34 0h2m11 0h1m12 0h1m8 0h1m1 0h2m10 0h2M511 56.5h2m1 0h1m1 0h1m2 0h1m2 0h1m1 0h4m5 0h1m3 0h1m1 0h3m2 0h3m2 0h1m6 0h2m5 0h1m8 0h1m1 0h1m9 0h1M7 57.5h1m26 0h1m26 0h1M46 58.5h1m14 0h1m94 0h1m10 0h1m12 0h1m22 0h2m5 0h2m11 0h1m1 0h1m13 0h1m21 0h3m21 0h2m34 0h1m10 0h1m12 0h1m23 0h1m12 0h1m22 0h2m34 0h2m10 0h1m1 0h1m23 0h1m30 0h1m1 0h1m1 0h1m1 0h2m4 0h1m1 0h1m1 0h1m8 0h1m2 0h1m1 0h1m8 0h2m1 0h1m3 0h3m13 0h1m10 0h1M538 63.5h1m1 0h1m21 0h1M563 78.5h1M156 81.5h1m346 0h1m10 0h3m11 0h1m3 0h2m1 0h2m2 0h1m11 0h3m6 0h2m5 0h1m4 0h2m1 0h1m1 0h1m3 0h1m1 0h1M514 86.5h1m6 0h2m2 0h4m9 0h1m14 0h1m1 0h1m1 0h1m3 0h2m7 0h1m3 0h1m1 0h3M528 88.5h1m8 0h1m2 0h1M538 93.5h1m20 0h1m2 0h1M516 95.5h1m20 0h1m24 0h1m10 0h1M511 96.5h1m14 0h2m7 0h1m3 0h1m3 0h3m1 0h3m2 0h1m9 0h2m7 0h3m2 0h1m5 0h3M525 98.5h1m26 0h1M406 102.5h2m5 0h2m1 0h2m3 0h2m1 0h3m2 0h3m2 0h1m1 0h2m2 0h4m5 0h1m1 0h1m1 0h2m1 0h1m3 0h4m2 0h3m3 0h4m2 0h3M537 107.5h1M322 109.5h1m22 0h1m35 0h1m11 0h1m12 0h1m11 0h1m58 0h3m11 0h1M575 117.5h1M525 126.5h1M509 127.5h1m3 0h1m8 0h1m2 0h3m1 0h1m4 0h1m5 0h1m6 0h1m1 0h1m2 0h1m5 0h1m5 0h1m18 0h1M502 139.5h1m4 0h1m6 0h1m1 0h1m28 0h1m4 0h1m5 0h1m3 0h1m1 0h1m1 0h1m7 0h1m1 0h2m8 0h1M547 140.5h1M583 147.5h1M221 153.5h1m245 0h1m39 0h1m1 0h1m15 0h1m7 0h1m5 0h1m1 0h2m6 0h1m2 0h1m7 0h2m2 0h1m2 0h1m1 0h1m1 0h2m1 0h2M528 158.5h1M560 181.5h1M516 183.5h1m23 0h1m10 0h1M512 185.5h3m2 0h2m6 0h2m1 0h1m8 0h1m1 0h2m1 0h2m1 0h2m3 0h1m1 0h2m4 0h1m1 0h3m1 0h1m5 0h1m12 0h2M514 189.5h1m7 0h2m1 0h1m2 0h1m2 0h1m4 0h1m2 0h1m3 0h1m3 0h1m11 0h3m1 0h1m1 0h2m6 0h1m1 0h2m7 0h1M516 190.5h1m46 0h1m6 0h1m13 0h1M540 196.5h1M574 197.5h2M525 203.5h1m1 0h1m18 0h1m4 0h1m23 0h1M501 207.5h1m10 0h1m11 0h1m1 0h1m5 0h1m2 0h1m2 0h2m1 0h2m5 0h4m12 0h2m4 0h1m4 0h1m7 0h2M498 208.5h1m1 0h1m1 0h4m2 0h1m1 0h4m1 0h1m2 0h1m6 0h3m2 0h1m6 0h2m4 0h1m2 0h2m1 0h2m2 0h1m3 0h1m2 0h1m7 0h1m1 0h3m1 0h2m7 0h2M514 210.5h1m13 0h1m6 0h1m22 0h1m1 0h1M573 211.5h1M97 214.5h1m57 0h1m9 0h1m9 0h1m157 0h1m7 0h1m15 0h1m24 0h1m22 0h2m47 0h2m10 0h1m31 0h2m1 0h1m2 0h1m3 0h2m2 0h2m11 0h3m2 0h1m1 0h2m2 0h1m4 0h1m4 0h3m8 0h2m6 0h2m4 0h1m1 0h2m1 0h1m6 0h1M516 215.5h1m7 0h2m2 0h1m8 0h1m1 0h1m7 0h1m4 0h1m9 0h3m10 0h1M155 216.5h1m23 0h1m24 0h1m5 0h1m12 0h1m15 0h1m10 0h1m10 0h1m13 0h2m23 0h1m11 0h1m19 0h1m12 0h2m11 0h1m11 0h1m24 0h1m9 0h1m23 0h1m12 0h1m10 0h3m23 0h1m35 0h1m36 0h1m21 0h1m8 0h1M401 218.5h4m1 0h2m3 0h3m1 0h1m6 0h2m1 0h1m77 0h1m8 0h1m1 0h1m11 0h1m1 0h1m4 0h2m2 0h2m1 0h3m3 0h2m4 0h1m3 0h2m1 0h2m1 0h1m1 0h1m18 0h2M528 219.5h1M43 222.5h1m483 0h2m9 0h1m20 0h1m2 0h3M43 223.5h1m26 0h1m275 0h1m11 0h1m22 0h1m12 0h1m11 0h1m12 0h1m21 0h1m12 0h2m11 0h1m24 0h1m10 0h1m35 0h1m6 0h1m1 0h1m13 0h1m11 0h1m1 0h1m6 0h1M513 228.5h1m1 0h2m21 0h2m10 0h2m9 0h2m8 0h1m12 0h1M527 234.5h2M504 240.5h1m5 0h1m5 0h1m7 0h1m2 0h1m2 0h1m2 0h1m1 0h2m3 0h1m1 0h1m4 0h1m2 0h1m1 0h3m5 0h1m2 0h1m3 0h1m3 0h1m2 0h2m1 0h1m5 0h2M528 243.5h1m8 0h1m36 0h1m8 0h1M499 244.5h5m41 0h1m17 0h1M552 245.5h1M499 246.5h1m1 0h1m1 0h1m11 0h1m9 0h2m4 0h1m2 0h2m4 0h2m5 0h1m1 0h1m1 0h1m1 0h1m3 0h2m4 0h1m8 0h5M522 248.5h1m52 0h1M567 257.5h1m4 0h1m11 0h1M550 259.5h1m1 0h1"/><path stroke="#591555" d="M413 3.5h1m6 0h1m3 0h1M502 9.5h1m10 0h1m1 0h1m9 0h1m1 0h1m9 0h1m1 0h3m5 0h3m2 0h1m20 0h1m1 0h1m1 0h1m1 0h1M525 10.5h1m1 0h1m9 0h1M512 28.5h1m2 0h2m5 0h1m2 0h1m1 0h1m9 0h3m6 0h2m2 0h3m6 0h1m14 0h2m2 0h1M516 29.5h1m9 0h2M514 30.5h1m11 0h2m5 0h1m1 0h1m3 0h1m7 0h1m2 0h2m10 0h3m19 0h1M550 33.5h1M516 35.5h1m32 0h1m23 0h1M525 36.5h1m14 0h1m10 0h1m5 0h1m15 0h1M10 49.5h1M34 50.5h1m8 0h1m256 0h1m11 0h1m46 0h1m46 0h1m11 0h1m10 0h1m23 0h2m10 0h1m1 0h1m9 0h1m13 0h1M322 53.5h1m35 0h1m11 0h1m11 0h1m23 0h1m11 0h1M513 56.5h1m1 0h1m22 0h1m9 0h1m1 0h1m24 0h1m4 0h1m2 0h1M34 58.5h1m152 0h1m36 0h1m15 0h1m10 0h1m47 0h1m94 0h2m33 0h2m33 0h2m36 0h1m8 0h1m62 0h1M46 59.5h1m14 0h1M502 81.5h1m1 0h1m66 0h1M501 86.5h1m1 0h1m48 0h1m11 0h1m8 0h1m1 0h1M538 95.5h1M516 96.5h1m11 0h1m12 0h1m9 0h1M405 102.5h1m2 0h5m2 0h1m2 0h3m2 0h1m3 0h2m3 0h2m1 0h1m2 0h2m4 0h5m1 0h1m1 0h1m2 0h1m1 0h1m1 0h1m4 0h2m3 0h3m4 0h2M333 109.5h1m24 0h1m11 0h1m59 0h1m10 0h1m11 0h1m10 0h2m36 0h1M528 127.5h1M526 153.5h1m13 0h1M515 185.5h2m31 0h2m1 0h1m11 0h1m7 0h1m1 0h1m1 0h3M526 189.5h1m19 0h1m3 0h1m1 0h1m11 0h1m9 0h1M503 207.5h1m30 0h1m2 0h1m9 0h1m14 0h1M514 208.5h1m13 0h1m15 0h2m5 0h2m9 0h3M42 214.5h1m182 0h1m158 0h1m115 0h1m2 0h1m6 0h1m3 0h1m1 0h1m4 0h1m1 0h2m3 0h1m8 0h3m9 0h1m1 0h1m1 0h2m6 0h2m1 0h1M146 216.5h1m9 0h1m105 0h1m36 0h1m21 0h1m59 0h2m10 0h1m12 0h1m11 0h1m11 0h1m60 0h1M1 218.5h1m419 0h1m117 0h1m23 0h1M70 222.5h1M321 223.5h1m22 0h1m37 0h1m10 0h1m11 0h1m24 0h1m11 0h1m21 0h1m1 0h1M70 224.5h1M537 228.5h1m25 0h1M501 240.5h1m1 0h1m4 0h1m2 0h1m10 0h1m2 0h1m2 0h1m5 0h1m3 0h2m1 0h1m6 0h1m2 0h1m20 0h1M526 243.5h1M527 246.5h1m24 0h1m7 0h1m9 0h1m12 0h1M527 257.5h2"/><path stroke="#430f35" d="M576 9.5h1M514 28.5h1m9 0h1m37 0h1m10 0h1m2 0h1M538 30.5h1M550 35.5h1M455 50.5h1M502 86.5h1M537 96.5h2m1 0h1M537 153.5h1M547 185.5h1m26 0h1M562 189.5h1M548 208.5h1M502 214.5h1m19 0h1m17 0h1m9 0h1m1 0h1m10 0h1M502 240.5h1m34 0h1m7 0h1"/></g><path d="M95.9 285.0V282.5H97.7V285.0ZM107.7 285.0V281.3H110.4V285.0ZM113.7 285.0V284.2H114.6V285.0ZM120.4 285.0V283.7H122.2V285.0ZM139.9 285.0V284.2H141.7V285.0ZM167.9 285.0V281.6H172.2V285.0ZM178.9 285.0V279.9H180.7V285.0ZM198.4 285.0V276.5H200.2V285.0ZM201.7 285.0V282.5H202.0V285.0ZM206.0 285.0V283.3H206.9V285.0ZM211.1 285.0V284.3H212.0V285.0ZM244.1 285.0V278.2H246.7V285.0ZM263.6 285.0V247.7H266.2V285.0ZM283.9 285.0V283.7H287.4V285.0ZM294.0 285.0V284.8H294.3V285.0ZM298.3 285.0V284.8H299.3V285.0ZM329.7 285.0V279.6H332.3V285.0ZM333.8 285.0V283.7H334.1V285.0ZM342.4 285.0V284.7H343.3V285.0ZM356.8 285.0V284.2H357.7V285.0ZM385.6 285.0V281.3H387.4V285.0ZM434.1 285.0V277.9H436.7V285.0ZM434.7 285.0V277.9H436.5V285.0ZM448.2 285.0V283.7H449.2V285.0ZM448.7 285.0V283.5H451.3V285.0ZM459.0 285.0V272.2H461.7V285.0ZM463.3 285.0V262.3H465.4V285.0ZM467.0 285.0V252.0H469.2V285.0ZM470.8 285.0V255.7H472.0V285.0ZM473.6 285.0V226.6H475.3V285.0ZM476.9 285.0V283.5H479.1V285.0ZM490.1 285.0V261.4H492.3V285.0ZM493.9 285.0V264.2H495.1V285.0ZM496.7 285.0V262.8H500.7V285.0ZM502.3 285.0V253.4H504.5V285.0ZM506.1 285.0V284.0H508.3V285.0ZM519.3 285.0V242.6H521.9V285.0ZM523.3 285.0V265.2H523.6V285.0ZM524.9 285.0V253.9H526.1V285.0ZM527.3 285.0V264.7H527.6V285.0ZM528.7 285.0V250.6H530.4V285.0ZM532.0 285.0V240.7H534.1V285.0ZM535.7 285.0V279.7H536.5V285.0ZM546.1 285.0V268.9H546.8V285.0ZM548.4 285.0V255.7H551.1V285.0ZM552.7 285.0V270.8H554.4V285.0ZM556.0 285.0V260.4H558.1V285.0ZM559.5 285.0V268.0H559.8V285.0ZM561.2 285.0V252.4H563.3V285.0ZM564.9 285.0V274.6H565.7V285.0ZM575.7 285.0V266.1H576.5V285.0ZM578.1 285.0V259.5H579.8V285.0ZM581.4 285.0V266.1H582.1V285.0ZM583.5 285.0V268.9H583.8V285.0ZM585.2 285.0V262.3H588.3V285.0ZM589.9 285.0V240.2H592.5V285.0ZM594.1 285.0V284.8H594.8V285.0ZM604.9 285.0V272.7H605.7V285.0ZM607.3 285.0V246.8H609.4V285.0ZM611.0 285.0V269.9H611.3V285.0ZM612.9 285.0V253.9H614.1V285.0ZM615.7 285.0V262.3H616.0V285.0ZM617.6 285.0V262.3H617.9V285.0ZM619.5 285.0V252.9H621.7V285.0ZM623.3 285.0V282.1H624.0V285.0ZM633.8 285.0V265.2H635.0V285.0ZM636.6 285.0V260.0H637.8V285.0ZM639.4 285.0V272.7H640.2V285.0ZM641.8 285.0V258.6H643.0V285.0ZM644.6 285.0V272.7H644.9V285.0ZM646.5 285.0V258.6H648.2V285.0ZM651.2 285.0V283.5H653.4V285.0ZM663.0 285.0V270.8H664.2V285.0ZM665.8 285.0V264.2H668.0V285.0ZM669.6 285.0V278.3H669.9V285.0ZM671.2 285.0V274.1H671.5V285.0ZM672.9 285.0V252.4H674.1V285.0ZM675.7 285.0V244.0H676.4V285.0ZM678.0 285.0V236.0H680.2V285.0ZM681.8 285.0V282.6H682.6V285.0ZM687.9 285.0V284.0H690.1V285.0ZM692.2 285.0V266.1H693.8V285.0ZM695.4 285.0V265.2H696.7V285.0ZM698.3 285.0V268.4H699.5V285.0ZM701.1 285.0V268.4H702.3V285.0ZM703.7 285.0V278.3H704.0V285.0ZM705.3 285.0V259.5H707.0V285.0ZM708.6 285.0V276.0H709.4V285.0ZM711.0 285.0V284.4H712.7V285.0ZM726.5 285.0V252.9H728.2V285.0ZM729.8 285.0V265.2H730.1V285.0ZM731.7 285.0V242.6H733.4V285.0ZM735.0 285.0V248.2H735.3V285.0ZM736.9 285.0V240.7H738.6V285.0ZM752.9 285.0V262.8H754.6V285.0ZM756.2 285.0V264.2H757.8V285.0ZM759.2 285.0V266.1H759.5V285.0ZM760.9 285.0V262.3H762.6V285.0ZM764.1 285.0V266.1H764.4V285.0ZM766.0 285.0V244.9H767.7V285.0ZM769.3 285.0V268.4H770.1V285.0ZM773.1 285.0V278.8H774.8V285.0ZM777.8 285.0V279.7H780.4V285.0ZM783.0 285.0V281.2H784.2V285.0ZM787.7 285.0V276.0H788.4V285.0ZM790.0 285.0V268.0H792.2V285.0ZM793.6 285.0V276.4H793.9V285.0ZM795.2 285.0V272.7H796.9V285.0ZM811.7 285.0V262.8H813.4V285.0ZM815.0 285.0V272.7H815.3V285.0ZM816.9 285.0V253.9H818.6V285.0ZM819.9 285.0V271.7H820.2V285.0ZM820.8 285.0V272.0H822.0V285.0ZM821.6 285.0V270.8H821.9V285.0ZM823.4 285.0V246.3H824.2V285.0ZM823.6 285.0V247.5H826.3V285.0ZM827.9 285.0V278.1H828.6V285.0ZM838.7 285.0V272.0H839.0V285.0ZM840.6 285.0V254.6H843.2V285.0ZM844.6 285.0V274.3H844.9V285.0ZM846.2 285.0V261.2H847.9V285.0ZM849.5 285.0V264.9H849.8V285.0ZM851.1 285.0V258.3H851.4V285.0ZM852.8 285.0V229.2H855.4V285.0ZM857.0 285.0V275.3H857.8V285.0ZM860.8 285.0V276.2H863.0V285.0ZM875.4 285.0V283.7H875.7V285.0ZM877.3 285.0V235.7H879.4V285.0ZM881.0 285.0V246.6H881.8V285.0ZM883.4 285.0V251.7H884.1V285.0ZM885.7 285.0V264.9H887.0V285.0ZM890.0 285.0V276.7H891.7V285.0ZM895.1 285.0V271.5H895.4V285.0ZM897.0 285.0V254.6H897.3V285.0ZM898.9 285.0V250.8H900.1V285.0ZM901.7 285.0V247.5H902.5V285.0ZM904.1 285.0V203.3H906.7V285.0ZM908.1 285.0V231.0H908.4V285.0ZM909.7 285.0V223.5H911.0V285.0ZM912.6 285.0V248.9H913.3V285.0ZM914.9 285.0V264.0H915.7V285.0ZM918.7 285.0V262.6H920.8V285.0ZM922.4 285.0V276.7H922.7V285.0ZM925.7 285.0V248.4H928.4V285.0ZM930.0 285.0V256.4H932.1V285.0ZM933.7 285.0V228.2H934.0V285.0ZM935.6 285.0V224.9H937.8V285.0ZM939.4 285.0V237.6H940.1V285.0ZM941.7 285.0V257.9H942.5V285.0ZM944.1 285.0V269.6H945.3V285.0ZM948.3 285.0V277.2H950.0V285.0ZM955.4 285.0V256.0H956.6V285.0ZM958.2 285.0V250.3H959.4V285.0ZM960.8 285.0V253.6H961.1V285.0ZM962.4 285.0V239.0H965.1V285.0ZM966.4 285.0V253.6H966.7V285.0ZM968.1 285.0V218.8H969.8V285.0ZM971.4 285.0V253.6H971.7V285.0ZM975.2 285.0V283.7H982.0V285.0ZM984.6 285.0V260.2H985.3V285.0ZM986.9 285.0V252.7H987.7V285.0ZM989.3 285.0V240.9H991.4V285.0ZM992.8 285.0V280.0H993.1V285.0ZM994.4 285.0V227.3H996.6V285.0ZM998.2 285.0V247.0H999.0V285.0ZM1000.6 285.0V272.9H1000.9V285.0ZM1002.4 285.0V282.3H1008.4V285.0ZM1013.7 285.0V272.4H1014.5V285.0ZM1015.6 285.0V257.2H1015.9V285.0ZM1016.1 285.0V256.4H1019.2V285.0ZM1017.2 285.0V255.3H1019.8V285.0ZM1021.4 285.0V234.6H1022.2V285.0ZM1023.8 285.0V218.6H1026.0V285.0ZM1027.3 285.0V245.9H1027.6V285.0ZM1029.0 285.0V233.2H1031.1V285.0ZM1032.7 285.0V276.9H1033.0V285.0ZM1034.6 285.0V282.6H1037.7V285.0ZM1043.1 285.0V275.5H1044.3V285.0ZM1045.9 285.0V254.3H1049.0V285.0ZM1050.6 285.0V238.3H1051.4V285.0ZM1053.0 285.0V228.9H1053.3V285.0ZM1054.9 285.0V221.9H1057.5V285.0ZM1059.1 285.0V244.0H1059.8V285.0ZM1061.4 285.0V283.5H1062.2V285.0ZM1067.6 285.0V266.6H1069.3V285.0ZM1070.9 285.0V270.3H1073.5V285.0ZM1075.1 285.0V259.0H1078.2V285.0ZM1079.8 285.0V241.2H1080.6V285.0ZM1082.2 285.0V198.3H1083.8V285.0ZM1085.4 285.0V231.7H1086.7V285.0ZM1088.3 285.0V248.7H1089.5V285.0ZM1091.1 285.0V281.6H1094.2V285.0ZM1096.7 285.0V252.0H1098.4V285.0ZM1100.0 285.0V273.2H1100.3V285.0ZM1101.9 285.0V251.5H1102.7V285.0ZM1104.3 285.0V247.3H1105.5V285.0ZM1107.1 285.0V254.3H1107.4V285.0ZM1109.0 285.0V227.5H1109.7V285.0ZM1111.3 285.0V215.7H1112.1V285.0ZM1113.7 285.0V171.5H1115.8V285.0ZM1117.4 285.0V223.7H1118.2V285.0ZM1119.8 285.0V274.1H1120.6V285.0ZM1122.2 285.0V277.4H1126.2V285.0ZM1127.8 285.0V262.8H1129.5V285.0ZM1131.1 285.0V254.8H1134.2V285.0ZM1135.8 285.0V245.9H1137.0V285.0ZM1138.6 285.0V230.8H1139.4V285.0ZM1141.0 285.0V202.1H1142.7V285.0ZM1144.3 285.0V216.2H1145.0V285.0ZM1146.6 285.0V256.7H1147.4V285.0ZM1149.0 285.0V280.7H1150.7V285.0ZM1153.2 285.0V278.8H1153.5V285.0ZM1155.1 285.0V246.8H1157.3V285.0ZM1158.8 285.0V267.5H1159.2V285.0ZM1160.7 285.0V259.0H1162.4V285.0ZM1164.0 285.0V253.4H1165.7V285.0ZM1167.3 285.0V209.2H1168.6V285.0ZM1170.2 285.0V177.2H1171.8V285.0ZM1173.4 285.0V208.7H1174.2V285.0ZM1175.8 285.0V234.1H1176.6V285.0ZM1178.2 285.0V276.9H1179.8V285.0ZM1181.4 285.0V282.6H1187.4V285.0ZM1189.0 285.0V270.3H1190.2V285.0ZM1191.8 285.0V228.9H1193.0V285.0ZM1194.6 285.0V242.6H1194.9V285.0ZM1196.5 285.0V228.9H1197.7V285.0ZM1199.3 285.0V192.7H1201.0V285.0ZM1202.6 285.0V197.9H1203.4V285.0ZM1205.0 285.0V251.0H1205.7V285.0ZM1207.3 285.0V278.3H1208.1V285.0ZM1209.7 285.0V284.8H1210.9V285.0ZM1212.5 285.0V281.2H1214.2V285.0ZM1217.6 285.0V276.5H1219.4V285.0ZM1221.0 285.0V255.6H1222.8V285.0ZM1224.3 285.0V261.3H1224.6V285.0ZM1226.0 285.0V234.1H1226.3V285.0ZM1227.8 285.0V227.3H1230.7V285.0ZM1232.3 285.0V234.1H1233.0V285.0ZM1234.6 285.0V250.5H1235.2V285.0ZM1236.8 285.0V278.2H1238.6V285.0ZM1240.2 285.0V281.0H1243.1V285.0ZM1244.7 285.0V277.1H1248.2V285.0ZM1249.8 285.0V262.9H1251.6V285.0ZM1253.2 285.0V264.6H1253.9V285.0ZM1255.4 285.0V240.9H1255.7V285.0ZM1257.2 285.0V221.7H1259.5V285.0ZM1261.1 285.0V223.4H1261.8V285.0ZM1263.4 285.0V248.8H1264.6V285.0ZM1266.2 285.0V283.9H1268.0V285.0ZM1271.9 285.0V280.5H1273.1V285.0ZM1274.7 285.0V262.4H1275.4V285.0ZM1277.0 285.0V240.3H1277.6V285.0ZM1279.2 285.0V221.7H1281.0V285.0ZM1282.6 285.0V227.9H1283.9V285.0ZM1285.4 285.0V245.4H1285.7V285.0ZM1287.1 285.0V229.6H1287.4V285.0ZM1288.9 285.0V209.2H1290.1V285.0ZM1291.7 285.0V169.1H1293.5V285.0ZM1295.1 285.0V255.6H1295.7V285.0ZM1297.3 285.0V278.2H1298.6V285.0ZM1303.6 285.0V270.3H1304.2V285.0ZM1305.8 285.0V233.0H1308.2V285.0ZM1309.7 285.0V237.5H1310.0V285.0ZM1311.5 285.0V221.7H1312.7V285.0ZM1314.3 285.0V204.7H1316.1V285.0ZM1317.7 285.0V165.1H1320.6V285.0ZM1322.1 285.0V193.4H1322.4V285.0ZM1323.9 285.0V245.4H1325.2V285.0ZM1326.8 285.0V271.4H1328.0V285.0ZM1330.1 285.0V238.6H1331.4V285.0ZM1333.0 285.0V204.7H1334.8V285.0ZM1336.3 285.0V237.5H1336.6V285.0ZM1338.1 285.0V184.3H1339.9V285.0ZM1341.4 285.0V207.0H1341.7V285.0ZM1343.2 285.0V188.9H1343.8V285.0ZM1345.4 285.0V154.4H1346.1V285.0ZM1347.7 285.0V126.6H1351.7V285.0ZM1353.3 285.0V222.8H1354.0V285.0ZM1355.5 285.0V245.4H1355.8V285.0ZM1357.3 285.0V236.4H1358.5V285.0ZM1360.1 285.0V230.7H1360.8V285.0ZM1362.4 285.0V200.2H1363.6V285.0ZM1365.2 285.0V161.7H1365.9V285.0ZM1367.4 285.0V134.6H1367.7V285.0ZM1369.2 285.0V127.8H1372.1V285.0ZM1370.7 285.0V127.9H1371.0V285.0ZM1372.5 285.0V130.5H1372.8V285.0ZM1374.3 285.0V70.7H1376.2V285.0ZM1377.8 285.0V94.4H1378.1V285.0ZM1379.6 285.0V75.9H1381.5V285.0ZM1383.1 285.0V184.2H1384.2V285.0ZM1385.8 285.0V200.1H1386.8V285.0ZM1388.4 285.0V189.5H1389.4V285.0ZM1391.0 285.0V172.8H1392.1V285.0ZM1393.7 285.0V130.5H1394.7V285.0ZM1396.3 285.0V95.3H1398.2V285.0ZM1399.8 285.0V127.0H1400.9V285.0ZM1402.5 285.0V25.8H1404.4V285.0ZM1406.0 285.0V38.1H1407.1V285.0ZM1408.7 285.0V40.7H1410.6V285.0ZM1412.2 285.0V126.1H1413.2V285.0ZM1414.8 285.0V186.9H1415.9V285.0ZM1417.5 285.0V178.1H1418.5V285.0ZM1420.1 285.0V177.2H1422.0V285.0ZM1423.6 285.0V110.3H1424.7V285.0ZM1426.3 285.0V83.0H1427.3V285.0ZM1428.9 285.0V116.4H1429.9V285.0ZM1431.5 285.0V93.5H1432.6V285.0ZM1434.2 285.0V68.9H1435.2V285.0ZM1436.8 285.0V51.3H1439.6V285.0ZM1441.2 285.0V132.3H1442.3V285.0ZM1443.9 285.0V192.1H1444.9V285.0ZM1446.5 285.0V185.1H1448.4V285.0ZM1450.0 285.0V165.7H1451.1V285.0ZM1452.7 285.0V115.6H1453.7V285.0ZM1455.3 285.0V141.1H1456.3V285.0ZM1457.9 285.0V93.5H1459.0V285.0ZM1460.6 285.0V87.4H1462.5V285.0ZM1464.1 285.0V20.5H1466.0V285.0ZM1467.6 285.0V65.4H1468.7V285.0ZM1470.3 285.0V130.5H1471.3V285.0ZM1472.9 285.0V193.9H1474.8V285.0ZM1476.4 285.0V172.8H1478.4V285.0ZM1480.0 285.0V151.6H1481.9V285.0ZM1483.5 285.0V130.5H1484.5V285.0ZM1486.0 285.0V122.6H1486.3V285.0ZM1487.9 285.0V118.2H1489.8V285.0ZM1491.4 285.0V62.7H1492.4V285.0ZM1494.0 285.0V71.5H1495.1V285.0ZM1496.7 285.0V96.2H1497.7V285.0ZM1499.3 285.0V150.8H1500.4V285.0ZM1502.0 285.0V195.7H1503.0V285.0ZM1504.6 285.0V179.8H1505.6V285.0ZM1507.2 285.0V178.1H1508.3V285.0ZM1509.9 285.0V186.9H1510.9V285.0ZM1512.5 285.0V180.7H1513.6V285.0ZM1515.2 285.0V149.0H1517.1V285.0ZM1518.7 285.0V239.7H1520.6V285.0ZM1522.2 285.0V252.0H1528.5V285.0ZM1530.1 285.0V257.3H1531.2V285.0ZM1532.8 285.0V258.2H1534.7V285.0Z" fill="#3b1027" stroke="#3b1027" stroke-width="1.6" stroke-linejoin="round"/><path d="M1539.4 286.13h51.0v4.86h-51.0ZM1539.4 290.98h64.0v4.86h-64.0ZM1539.4 295.84h103.0v4.86h-103.0ZM1539.4 300.70h78.0v4.86h-78.0ZM1539.4 310.41h137.0v4.86h-137.0ZM1539.4 315.26h24.0v4.86h-24.0ZM1539.4 320.12h62.0v4.86h-62.0ZM1539.4 324.98h124.0v4.86h-124.0ZM1539.4 329.83h121.0v4.86h-121.0ZM1539.4 349.26h72.0v4.86h-72.0ZM1539.4 354.11h11.0v4.86h-11.0ZM1539.4 358.97h21.0v4.86h-21.0ZM1539.4 363.82h2.0v4.86h-2.0ZM1539.4 373.54h26.0v4.86h-26.0ZM1539.4 378.39h17.0v4.86h-17.0ZM1539.4 383.25h31.0v4.86h-31.0ZM1539.4 388.10h22.0v4.86h-22.0ZM1539.4 392.96h61.0v4.86h-61.0ZM1539.4 397.82h1.0v4.86h-1.0ZM1539.4 402.67h41.0v4.86h-41.0ZM1539.4 407.53h65.0v4.86h-65.0ZM1539.4 412.38h106.0v4.86h-106.0ZM1539.4 417.24h71.0v4.86h-71.0ZM1539.4 422.10h67.0v4.86h-67.0ZM1539.4 426.95h94.0v4.86h-94.0ZM1539.4 431.81h70.0v4.86h-70.0ZM1539.4 436.66h134.0v4.86h-134.0ZM1539.4 441.52h113.0v4.86h-113.0ZM1539.4 446.38h116.0v4.86h-116.0ZM1539.4 451.23h151.0v4.86h-151.0ZM1539.4 456.09h104.0v4.86h-104.0ZM1539.4 460.94h100.0v4.86h-100.0ZM1539.4 465.80h182.0v4.86h-182.0ZM1539.4 470.66h12.0v4.86h-12.0ZM1539.4 480.37h151.0v4.86h-151.0ZM1539.4 485.22h51.0v4.86h-51.0ZM1539.4 490.08h71.0v4.86h-71.0ZM1539.4 494.94h35.0v4.86h-35.0ZM1539.4 499.79h34.0v4.86h-34.0ZM1539.4 504.65h25.0v4.86h-25.0ZM1539.4 509.50h17.0v4.86h-17.0ZM1539.4 514.36h28.0v4.86h-28.0ZM1539.4 519.22h22.0v4.86h-22.0ZM1539.4 524.07h206.0v4.86h-206.0ZM1539.4 538.64h117.0v4.86h-117.0ZM1539.4 548.35h39.0v4.86h-39.0ZM1539.4 553.21h85.0v4.86h-85.0ZM1539.4 562.92h174.0v4.86h-174.0ZM1539.4 567.78h75.0v4.86h-75.0ZM1539.4 572.63h66.0v4.86h-66.0ZM1539.4 577.49h81.0v4.86h-81.0ZM1539.4 582.34h14.0v4.86h-14.0ZM1539.4 587.20h179.0v4.86h-179.0ZM1539.4 592.06h26.0v4.86h-26.0ZM1539.4 596.91h13.0v4.86h-13.0ZM1539.4 601.77h31.0v4.86h-31.0ZM1539.4 606.62h14.0v4.86h-14.0ZM1539.4 611.48h44.0v4.86h-44.0ZM1539.4 616.34h16.0v4.86h-16.0ZM1539.4 630.90h78.0v4.86h-78.0ZM1539.4 635.76h45.0v4.86h-45.0ZM1539.4 640.62h68.0v4.86h-68.0ZM1539.4 645.47h34.0v4.86h-34.0ZM1539.4 650.33h23.0v4.86h-23.0ZM1539.4 655.18h40.0v4.86h-40.0ZM1539.4 660.04h92.0v4.86h-92.0ZM1539.4 664.90h10.0v4.86h-10.0ZM1539.4 669.75h12.0v4.86h-12.0ZM1539.4 674.61h117.0v4.86h-117.0ZM1539.4 679.46h54.0v4.86h-54.0ZM1539.4 684.32h28.0v4.86h-28.0ZM1539.4 689.18h38.0v4.86h-38.0ZM1539.4 694.03h34.0v4.86h-34.0ZM1539.4 698.89h151.0v4.86h-151.0ZM1539.4 703.74h2.0v4.86h-2.0ZM1539.4 708.60h34.0v4.86h-34.0ZM1539.4 732.88h45.0v4.86h-45.0ZM1539.4 737.74h20.0v4.86h-20.0ZM1539.4 742.59h80.0v4.86h-80.0ZM1539.4 747.45h93.0v4.86h-93.0ZM1539.4 752.30h17.0v4.86h-17.0ZM1539.4 757.16h35.0v4.86h-35.0ZM1539.4 762.02h2.0v4.86h-2.0ZM1539.4 766.87h33.0v4.86h-33.0ZM1539.4 771.73h3.0v4.86h-3.0ZM1539.4 776.58h219.0v4.86h-219.0ZM1539.4 781.44h13.0v4.86h-13.0ZM1539.4 796.01h48.0v4.86h-48.0ZM1539.4 800.86h34.0v4.86h-34.0ZM1539.4 805.72h23.0v4.86h-23.0ZM1539.4 810.58h9.0v4.86h-9.0ZM1539.4 815.43h8.0v4.86h-8.0ZM1539.4 820.29h14.0v4.86h-14.0ZM1539.4 825.14h1.0v4.86h-1.0ZM1539.4 830.00h4.0v4.86h-4.0ZM1539.4 834.86h9.0v4.86h-9.0ZM1539.4 839.71h14.0v4.86h-14.0ZM1539.4 844.57h46.0v4.86h-46.0ZM1539.4 849.42h28.0v4.86h-28.0ZM1539.4 854.28h29.0v4.86h-29.0ZM1539.4 863.99h25.0v4.86h-25.0ZM1539.4 868.85h26.0v4.86h-26.0ZM1539.4 873.70h10.0v4.86h-10.0ZM1539.4 883.42h18.0v4.86h-18.0ZM1539.4 888.27h20.0v4.86h-20.0ZM1539.4 893.13h25.0v4.86h-25.0ZM1539.4 897.98h67.0v4.86h-67.0ZM1539.4 902.84h44.0v4.86h-44.0ZM1539.4 907.70h29.0v4.86h-29.0ZM1539.4 917.41h1.0v4.86h-1.0ZM1539.4 922.26h1.0v4.86h-1.0ZM1539.4 931.98h4.0v4.86h-4.0ZM1539.4 951.40h44.0v4.86h-44.0ZM1539.4 956.26h115.0v4.86h-115.0ZM1539.4 961.11h57.0v4.86h-57.0ZM1539.4 965.97h33.0v4.86h-33.0ZM1539.4 970.82h14.0v4.86h-14.0ZM1539.4 980.54h9.0v4.86h-9.0ZM1539.4 990.25h44.0v4.86h-44.0ZM1539.4 995.10h50.0v4.86h-50.0ZM1539.4 999.96h42.0v4.86h-42.0ZM1539.4 1009.67h27.0v4.86h-27.0ZM1539.4 1014.53h20.0v4.86h-20.0ZM1539.4 1019.38h22.0v4.86h-22.0ZM1539.4 1024.24h50.0v4.86h-50.0ZM1539.4 1029.10h35.0v4.86h-35.0ZM1539.4 1038.81h44.0v4.86h-44.0ZM1539.4 1043.66h35.0v4.86h-35.0ZM1539.4 1048.52h28.0v4.86h-28.0ZM1539.4 1058.23h16.0v4.86h-16.0ZM1539.4 1067.94h22.0v4.86h-22.0ZM1539.4 1077.66h14.0v4.86h-14.0ZM1539.4 1092.22h28.0v4.86h-28.0ZM1539.4 1116.50h34.0v4.86h-34.0ZM1539.4 1126.22h28.0v4.86h-28.0ZM1539.4 1131.07h20.0v4.86h-20.0ZM1539.4 1160.21h23.0v4.86h-23.0ZM1539.4 1169.92h65.0v4.86h-65.0ZM1539.4 1179.63h51.0v4.86h-51.0ZM1539.4 1184.49h1.0v4.86h-1.0ZM1539.4 1189.34h1.0v4.86h-1.0ZM1539.4 1194.20h17.0v4.86h-17.0ZM1539.4 1199.06h51.0v4.86h-51.0ZM1539.4 1203.91h101.0v4.86h-101.0ZM1539.4 1208.77h33.0v4.86h-33.0ZM1539.4 1213.62h25.0v4.86h-25.0ZM1539.4 1218.48h14.0v4.86h-14.0ZM1539.4 1228.19h14.0v4.86h-14.0ZM1539.4 1233.05h98.0v4.86h-98.0ZM1539.4 1237.90h36.0v4.86h-36.0ZM1539.4 1247.62h1.0v4.86h-1.0ZM1539.4 1252.47h16.0v4.86h-16.0ZM1539.4 1267.04h25.0v4.86h-25.0ZM1539.4 1271.90h9.0v4.86h-9.0ZM1539.4 1276.75h19.0v4.86h-19.0ZM1539.4 1281.61h20.0v4.86h-20.0ZM1539.4 1286.46h82.0v4.86h-82.0ZM1539.4 1291.32h85.0v4.86h-85.0ZM1539.4 1296.18h17.0v4.86h-17.0ZM1539.4 1301.03h29.0v4.86h-29.0ZM1539.4 1305.89h31.0v4.86h-31.0ZM1539.4 1310.74h58.0v4.86h-58.0ZM1539.4 1315.60h27.0v4.86h-27.0ZM1539.4 1320.46h329.0v4.86h-329.0ZM1539.4 1325.31h46.0v4.86h-46.0ZM1539.4 1330.17h116.0v4.86h-116.0ZM1539.4 1339.88h354.0v4.86h-354.0ZM1539.4 1344.74h87.0v4.86h-87.0ZM1539.4 1354.45h1.0v4.86h-1.0ZM1539.4 1359.30h19.0v4.86h-19.0ZM1539.4 1364.16h104.0v4.86h-104.0ZM1539.4 1369.02h14.0v4.86h-14.0ZM1539.4 1388.44h63.0v4.86h-63.0ZM1539.4 1393.30h4.0v4.86h-4.0ZM1539.4 1403.01h18.0v4.86h-18.0ZM1539.4 1412.72h37.0v4.86h-37.0ZM1539.4 1417.58h17.0v4.86h-17.0ZM1539.4 1422.43h13.0v4.86h-13.0ZM1539.4 1427.29h33.0v4.86h-33.0ZM1539.4 1432.14h33.0v4.86h-33.0ZM1539.4 1437.00h1.0v4.86h-1.0ZM1539.4 1441.86h38.0v4.86h-38.0ZM1539.4 1446.71h61.0v4.86h-61.0ZM1539.4 1456.42h38.0v4.86h-38.0ZM1539.4 1461.28h21.0v4.86h-21.0ZM1539.4 1466.14h29.0v4.86h-29.0ZM1539.4 1470.99h93.0v4.86h-93.0ZM1539.4 1475.85h154.0v4.86h-154.0ZM1539.4 1485.56h28.0v4.86h-28.0ZM1539.4 1490.42h150.0v4.86h-150.0ZM1539.4 1495.27h14.0v4.86h-14.0ZM1539.4 1500.13h14.0v4.86h-14.0ZM1539.4 1504.98h21.0v4.86h-21.0ZM1539.4 1514.70h37.0v4.86h-37.0ZM1539.4 1519.55h32.0v4.86h-32.0ZM1539.4 1524.41h2.0v4.86h-2.0ZM1539.4 1529.26h31.0v4.86h-31.0ZM1539.4 1534.12h18.0v4.86h-18.0ZM1539.4 1538.98h18.0v4.86h-18.0ZM1539.4 1543.83h38.0v4.86h-38.0Z" fill="#3b1027"/><path d="M93.6 14V1551.2H1539.4V285.0H93.6" fill="none" stroke="#141414" stroke-width="1.8"/><path d="M93.6 285.0h15M93.6 194.9h15M93.6 104.8h15M93.6 14.7h15M93.6 285.0h15M1539.4 285.0h-15M93.6 332.3h15M1539.4 332.3h-15M93.6 380.8h15M1539.4 380.8h-15M93.6 429.4h15M1539.4 429.4h-15M93.6 477.9h15M1539.4 477.9h-15M93.6 526.5h15M1539.4 526.5h-15M93.6 575.1h15M1539.4 575.1h-15M93.6 623.6h15M1539.4 623.6h-15M93.6 672.2h15M1539.4 672.2h-15M93.6 720.7h15M1539.4 720.7h-15M93.6 769.3h15M1539.4 769.3h-15M93.6 817.9h15M1539.4 817.9h-15M93.6 866.4h15M1539.4 866.4h-15M93.6 915.0h15M1539.4 915.0h-15M93.6 963.5h15M1539.4 963.5h-15M93.6 1012.1h15M1539.4 1012.1h-15M93.6 1060.7h15M1539.4 1060.7h-15M93.6 1109.2h15M1539.4 1109.2h-15M93.6 1157.8h15M1539.4 1157.8h-15M93.6 1206.3h15M1539.4 1206.3h-15M93.6 1254.9h15M1539.4 1254.9h-15M93.6 1303.5h15M1539.4 1303.5h-15M93.6 1352.0h15M1539.4 1352.0h-15M93.6 1400.6h15M1539.4 1400.6h-15M93.6 1449.1h15M1539.4 1449.1h-15M93.6 1497.7h15M1539.4 1497.7h-15M93.6 1546.3h15M1539.4 1546.3h-15M174.8 1551.2v-15M174.8 285.0v15M320.9 1551.2v-15M320.9 285.0v15M467.0 1551.2v-15M467.0 285.0v15M613.1 1551.2v-15M613.1 285.0v15M759.2 1551.2v-15M759.2 285.0v15M905.3 1551.2v-15M905.3 285.0v15M1051.4 1551.2v-15M1051.4 285.0v15M1197.5 1551.2v-15M1197.5 285.0v15M1343.6 1551.2v-15M1343.6 285.0v15M1489.7 1551.2v-15M1489.7 285.0v15" fill="none" stroke="#141414" stroke-width="1.8"/><g font-family='"Liberation Sans", Arial, Helvetica, sans-serif' font-size="29" fill="#111"><text x="87.5" y="205.4" text-anchor="end">5</text><text x="87.5" y="115.3" text-anchor="end">10</text><text x="87.5" y="25.2" text-anchor="end">15</text><text x="87.5" y="295.6" text-anchor="end">0</text><text x="87.5" y="342.9" text-anchor="end">10</text><text x="87.5" y="391.4" text-anchor="end">20</text><text x="87.5" y="440.0" text-anchor="end">30</text><text x="87.5" y="488.5" text-anchor="end">40</text><text x="87.5" y="537.1" text-anchor="end">50</text><text x="87.5" y="585.7" text-anchor="end">60</text><text x="87.5" y="634.2" text-anchor="end">70</text><text x="87.5" y="682.8" text-anchor="end">80</text><text x="87.5" y="731.3" text-anchor="end">90</text><text x="87.5" y="779.9" text-anchor="end">100</text><text x="87.5" y="828.5" text-anchor="end">110</text><text x="87.5" y="877.0" text-anchor="end">120</text><text x="87.5" y="925.6" text-anchor="end">130</text><text x="87.5" y="974.1" text-anchor="end">140</text><text x="87.5" y="1022.7" text-anchor="end">150</text><text x="87.5" y="1071.3" text-anchor="end">160</text><text x="87.5" y="1119.8" text-anchor="end">170</text><text x="87.5" y="1168.4" text-anchor="end">180</text><text x="87.5" y="1216.9" text-anchor="end">190</text><text x="87.5" y="1265.5" text-anchor="end">200</text><text x="87.5" y="1314.1" text-anchor="end">210</text><text x="87.5" y="1362.6" text-anchor="end">220</text><text x="87.5" y="1411.2" text-anchor="end">230</text><text x="87.5" y="1459.7" text-anchor="end">240</text><text x="87.5" y="1508.3" text-anchor="end">250</text><text x="87.5" y="1556.9" text-anchor="end">260</text><text x="174.8" y="1586.5" text-anchor="middle">1975</text><text x="320.9" y="1586.5" text-anchor="middle">1980</text><text x="467.0" y="1586.5" text-anchor="middle">1985</text><text x="613.1" y="1586.5" text-anchor="middle">1990</text><text x="759.2" y="1586.5" text-anchor="middle">1995</text><text x="905.3" y="1586.5" text-anchor="middle">2000</text><text x="1051.4" y="1586.5" text-anchor="middle">2005</text><text x="1197.5" y="1586.5" text-anchor="middle">2010</text><text x="1343.6" y="1586.5" text-anchor="middle">2015</text><text x="1489.7" y="1586.5" text-anchor="middle">2020</text></g><g font-family='"Liberation Sans", Arial, Helvetica, sans-serif' font-size="30.4" fill="#111"><text x="110" y="43.5">Total monthly observations</text><text x="110" y="78.8">(thousands of km)</text></g><text font-family='"Liberation Sans", Arial, Helvetica, sans-serif' font-size="30" fill="#111" transform="translate(27.1 917.6) rotate(-90)" text-anchor="middle">Catchment ID</text><g font-family='"Liberation Sans", Arial, Helvetica, sans-serif' font-style="italic" font-size="25.5" fill="#575757"><text x="1676.4" y="321.9">Sermeq Silarleq</text><text x="1721.4" y="477.3">Steenstrup-Dietrichson</text><text x="1745.4" y="535.6">Humboldt Gletscher</text><text x="1718.4" y="598.7">Helheimgletscher</text><text x="1690.4" y="710.4">Upernavik Isstrom N</text><text x="1758.4" y="788.1">Kangerlussuaq</text><text x="1654.4" y="967.8">Waltershausen</text><text x="1640.4" y="1215.4">Umiivik Fjord</text><text x="1637.4" y="1244.6">Helland</text><text x="1868.4" y="1332.0">Hayes Gletscher N Nn</text><text x="1893.4" y="1351.4">Jakobshavn Isbrae</text><text x="1693.4" y="1487.4">Storstrommen</text><text x="1689.4" y="1501.9">Polaric-Deception O N</text></g></svg>
</body></html>
